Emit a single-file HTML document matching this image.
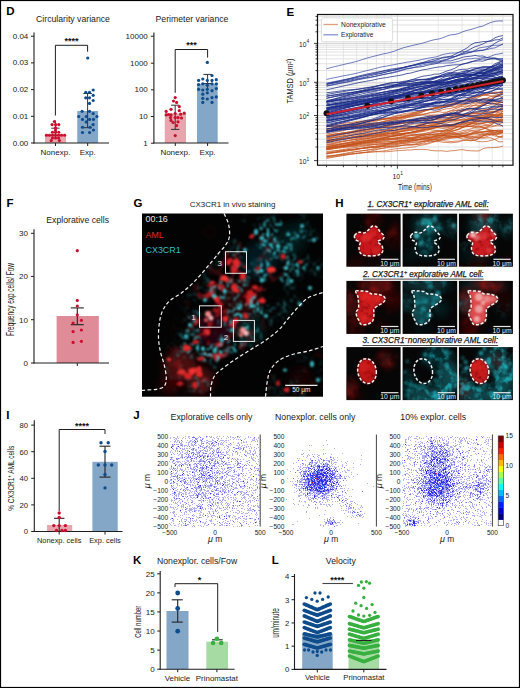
<!DOCTYPE html>
<html><head><meta charset="utf-8"><style>
html,body{margin:0;padding:0;background:#fff;}
body{width:520px;height:688px;overflow:hidden;}
svg{display:block;font-family:"Liberation Sans", sans-serif;}
</style></head><body>
<svg width="520" height="688" viewBox="0 0 520 688">
<defs><filter id="b4" x="-50%" y="-50%" width="200%" height="200%"><feGaussianBlur stdDeviation="4"/></filter></defs>
<rect x="0" y="0" width="520" height="688" fill="#fff"/>
<text x="6.30" y="14.60" font-size="11.5" text-anchor="start" font-weight="bold" fill="#000" >D</text>
<text x="73.00" y="22.40" font-size="8.7" text-anchor="middle" fill="#1a1a1a" >Circularity variance</text>
<rect x="45.00" y="133.80" width="21.00" height="9.20" fill="#e8a5ae" />
<rect x="77.25" y="111.00" width="20.85" height="32.00" fill="#84a7c8" />
<line x1="34.00" y1="32.60" x2="34.00" y2="143.50" stroke="#1e1e1e" stroke-width="1.1" />
<line x1="33.50" y1="143.00" x2="109.00" y2="143.00" stroke="#1e1e1e" stroke-width="1.1" />
<line x1="31.00" y1="143.00" x2="34.00" y2="143.00" stroke="#1e1e1e" stroke-width="1" />
<text x="28.30" y="145.50" font-size="8" text-anchor="end" fill="#1a1a1a" >0.00</text>
<line x1="31.00" y1="116.30" x2="34.00" y2="116.30" stroke="#1e1e1e" stroke-width="1" />
<text x="28.30" y="118.80" font-size="8" text-anchor="end" fill="#1a1a1a" >0.01</text>
<line x1="31.00" y1="89.60" x2="34.00" y2="89.60" stroke="#1e1e1e" stroke-width="1" />
<text x="28.30" y="92.10" font-size="8" text-anchor="end" fill="#1a1a1a" >0.02</text>
<line x1="31.00" y1="62.90" x2="34.00" y2="62.90" stroke="#1e1e1e" stroke-width="1" />
<text x="28.30" y="65.40" font-size="8" text-anchor="end" fill="#1a1a1a" >0.03</text>
<line x1="31.00" y1="36.20" x2="34.00" y2="36.20" stroke="#1e1e1e" stroke-width="1" />
<text x="28.30" y="38.70" font-size="8" text-anchor="end" fill="#1a1a1a" >0.04</text>
<line x1="55.50" y1="143.00" x2="55.50" y2="146.00" stroke="#1e1e1e" stroke-width="1" />
<line x1="87.70" y1="143.00" x2="87.70" y2="146.00" stroke="#1e1e1e" stroke-width="1" />
<text x="55.50" y="154.60" font-size="8" text-anchor="middle" fill="#1a1a1a" >Nonexp.</text>
<text x="87.70" y="154.60" font-size="8" text-anchor="middle" fill="#1a1a1a" >Exp.</text>
<path d="M55.4,115.5 V45.3 H87.6 V51.7" stroke="#1e1e1e" fill="none" stroke-width="1" />
<text x="71.60" y="44.20" font-size="9" text-anchor="middle" font-weight="bold" fill="#111" >****</text>
<line x1="87.60" y1="93.50" x2="87.60" y2="127.70" stroke="#333" stroke-width="1" />
<line x1="83.40" y1="93.50" x2="91.90" y2="93.50" stroke="#333" stroke-width="1" />
<line x1="83.40" y1="127.70" x2="91.90" y2="127.70" stroke="#333" stroke-width="1" />
<line x1="55.40" y1="120.50" x2="55.40" y2="137.00" stroke="#333" stroke-width="1" />
<line x1="51.30" y1="128.20" x2="59.50" y2="128.20" stroke="#333" stroke-width="1" />
<circle cx="87.75" cy="58.00" r="1.60" fill="#0f4c8c" />
<circle cx="93.20" cy="90.00" r="1.60" fill="#0f4c8c" />
<circle cx="85.80" cy="92.40" r="1.60" fill="#0f4c8c" />
<circle cx="89.50" cy="92.40" r="1.60" fill="#0f4c8c" />
<circle cx="93.20" cy="95.30" r="1.60" fill="#0f4c8c" />
<circle cx="85.80" cy="97.80" r="1.60" fill="#0f4c8c" />
<circle cx="89.50" cy="97.80" r="1.60" fill="#0f4c8c" />
<circle cx="93.20" cy="100.50" r="1.60" fill="#0f4c8c" />
<circle cx="89.50" cy="103.40" r="1.60" fill="#0f4c8c" />
<circle cx="82.10" cy="111.30" r="1.60" fill="#0f4c8c" />
<circle cx="89.50" cy="111.30" r="1.60" fill="#0f4c8c" />
<circle cx="93.20" cy="113.60" r="1.60" fill="#0f4c8c" />
<circle cx="78.75" cy="116.50" r="1.60" fill="#0f4c8c" />
<circle cx="86.25" cy="116.50" r="1.60" fill="#0f4c8c" />
<circle cx="96.90" cy="116.50" r="1.60" fill="#0f4c8c" />
<circle cx="82.50" cy="119.40" r="1.60" fill="#0f4c8c" />
<circle cx="89.60" cy="119.40" r="1.60" fill="#0f4c8c" />
<circle cx="93.50" cy="119.40" r="1.60" fill="#0f4c8c" />
<circle cx="86.25" cy="121.90" r="1.60" fill="#0f4c8c" />
<circle cx="93.10" cy="124.60" r="1.60" fill="#0f4c8c" />
<circle cx="82.50" cy="127.25" r="1.60" fill="#0f4c8c" />
<circle cx="90.00" cy="127.25" r="1.60" fill="#0f4c8c" />
<circle cx="93.50" cy="130.00" r="1.60" fill="#0f4c8c" />
<circle cx="82.50" cy="132.50" r="1.60" fill="#0f4c8c" />
<circle cx="89.60" cy="132.50" r="1.60" fill="#0f4c8c" />
<circle cx="54.40" cy="121.50" r="1.60" fill="#c8102e" />
<circle cx="52.10" cy="124.60" r="1.60" fill="#c8102e" />
<circle cx="55.60" cy="124.60" r="1.60" fill="#c8102e" />
<circle cx="58.75" cy="124.60" r="1.60" fill="#c8102e" />
<circle cx="55.60" cy="127.75" r="1.60" fill="#c8102e" />
<circle cx="52.50" cy="132.25" r="1.60" fill="#c8102e" />
<circle cx="58.75" cy="132.25" r="1.60" fill="#c8102e" />
<circle cx="55.60" cy="132.20" r="1.60" fill="#c8102e" />
<circle cx="46.50" cy="135.25" r="1.60" fill="#c8102e" />
<circle cx="49.50" cy="135.25" r="1.60" fill="#c8102e" />
<circle cx="52.50" cy="135.25" r="1.60" fill="#c8102e" />
<circle cx="55.50" cy="135.25" r="1.60" fill="#c8102e" />
<circle cx="58.50" cy="135.25" r="1.60" fill="#c8102e" />
<circle cx="61.50" cy="135.25" r="1.60" fill="#c8102e" />
<circle cx="64.60" cy="135.25" r="1.60" fill="#c8102e" />
<circle cx="52.50" cy="138.00" r="1.60" fill="#c8102e" />
<circle cx="55.60" cy="138.00" r="1.60" fill="#c8102e" />
<circle cx="58.60" cy="138.00" r="1.60" fill="#c8102e" />
<circle cx="51.25" cy="140.60" r="1.60" fill="#c8102e" />
<circle cx="59.40" cy="140.60" r="1.60" fill="#c8102e" />
<circle cx="55.50" cy="130.00" r="1.60" fill="#c8102e" />
<text x="192.00" y="22.40" font-size="8.7" text-anchor="middle" fill="#1a1a1a" >Perimeter variance</text>
<rect x="164.80" y="113.50" width="21.20" height="29.50" fill="#e8a5ae" />
<rect x="197.00" y="83.80" width="20.70" height="59.20" fill="#84a7c8" />
<line x1="153.90" y1="32.60" x2="153.90" y2="143.50" stroke="#1e1e1e" stroke-width="1.1" />
<line x1="153.40" y1="143.00" x2="228.50" y2="143.00" stroke="#1e1e1e" stroke-width="1.1" />
<line x1="150.90" y1="36.20" x2="153.90" y2="36.20" stroke="#1e1e1e" stroke-width="1" />
<text x="147.80" y="38.80" font-size="8" text-anchor="end" fill="#1a1a1a" >10000</text>
<line x1="150.90" y1="63.20" x2="153.90" y2="63.20" stroke="#1e1e1e" stroke-width="1" />
<text x="147.80" y="65.80" font-size="8" text-anchor="end" fill="#1a1a1a" >1000</text>
<line x1="150.90" y1="89.80" x2="153.90" y2="89.80" stroke="#1e1e1e" stroke-width="1" />
<text x="147.80" y="92.40" font-size="8" text-anchor="end" fill="#1a1a1a" >100</text>
<line x1="150.90" y1="116.50" x2="153.90" y2="116.50" stroke="#1e1e1e" stroke-width="1" />
<text x="147.80" y="119.10" font-size="8" text-anchor="end" fill="#1a1a1a" >10</text>
<line x1="150.90" y1="143.20" x2="153.90" y2="143.20" stroke="#1e1e1e" stroke-width="1" />
<text x="147.80" y="145.80" font-size="8" text-anchor="end" fill="#1a1a1a" >1</text>
<line x1="175.30" y1="143.00" x2="175.30" y2="146.00" stroke="#1e1e1e" stroke-width="1" />
<line x1="207.60" y1="143.00" x2="207.60" y2="146.00" stroke="#1e1e1e" stroke-width="1" />
<text x="175.30" y="154.80" font-size="8" text-anchor="middle" fill="#1a1a1a" >Nonexp.</text>
<text x="207.60" y="154.80" font-size="8" text-anchor="middle" fill="#1a1a1a" >Exp.</text>
<path d="M175.2,92.8 V49.5 H207.6 V57.6" stroke="#1e1e1e" fill="none" stroke-width="1" />
<text x="191.40" y="48.40" font-size="9" text-anchor="middle" font-weight="bold" fill="#111" >***</text>
<line x1="175.20" y1="105.20" x2="175.20" y2="129.40" stroke="#333" stroke-width="1" />
<line x1="171.00" y1="105.20" x2="179.40" y2="105.20" stroke="#333" stroke-width="1" />
<line x1="171.00" y1="129.40" x2="179.40" y2="129.40" stroke="#333" stroke-width="1" />
<line x1="207.60" y1="74.40" x2="207.60" y2="90.00" stroke="#333" stroke-width="1" />
<line x1="203.40" y1="74.40" x2="211.80" y2="74.40" stroke="#333" stroke-width="1" />
<line x1="203.40" y1="83.50" x2="211.80" y2="83.50" stroke="#333" stroke-width="1" />
<circle cx="207.30" cy="62.40" r="1.60" fill="#0f4c8c" />
<circle cx="212.00" cy="75.50" r="1.60" fill="#0f4c8c" />
<circle cx="198.60" cy="80.40" r="1.60" fill="#0f4c8c" />
<circle cx="202.80" cy="79.00" r="1.60" fill="#0f4c8c" />
<circle cx="207.30" cy="80.40" r="1.60" fill="#0f4c8c" />
<circle cx="212.00" cy="80.40" r="1.60" fill="#0f4c8c" />
<circle cx="216.30" cy="79.70" r="1.60" fill="#0f4c8c" />
<circle cx="198.60" cy="84.50" r="1.60" fill="#0f4c8c" />
<circle cx="202.80" cy="83.80" r="1.60" fill="#0f4c8c" />
<circle cx="207.30" cy="85.20" r="1.60" fill="#0f4c8c" />
<circle cx="212.00" cy="83.80" r="1.60" fill="#0f4c8c" />
<circle cx="216.30" cy="83.80" r="1.60" fill="#0f4c8c" />
<circle cx="198.60" cy="89.30" r="1.60" fill="#0f4c8c" />
<circle cx="202.80" cy="90.00" r="1.60" fill="#0f4c8c" />
<circle cx="207.30" cy="89.30" r="1.60" fill="#0f4c8c" />
<circle cx="212.00" cy="90.70" r="1.60" fill="#0f4c8c" />
<circle cx="216.30" cy="88.60" r="1.60" fill="#0f4c8c" />
<circle cx="202.80" cy="94.20" r="1.60" fill="#0f4c8c" />
<circle cx="207.30" cy="92.80" r="1.60" fill="#0f4c8c" />
<circle cx="207.30" cy="99.00" r="1.60" fill="#0f4c8c" />
<circle cx="202.80" cy="98.30" r="1.60" fill="#0f4c8c" />
<circle cx="212.00" cy="97.60" r="1.60" fill="#0f4c8c" />
<circle cx="216.30" cy="96.90" r="1.60" fill="#0f4c8c" />
<circle cx="202.80" cy="102.40" r="1.60" fill="#0f4c8c" />
<circle cx="212.00" cy="102.40" r="1.60" fill="#0f4c8c" />
<circle cx="175.20" cy="97.60" r="1.60" fill="#c8102e" />
<circle cx="173.50" cy="101.00" r="1.60" fill="#c8102e" />
<circle cx="176.60" cy="102.40" r="1.60" fill="#c8102e" />
<circle cx="166.20" cy="111.40" r="1.60" fill="#c8102e" />
<circle cx="171.00" cy="109.30" r="1.60" fill="#c8102e" />
<circle cx="179.30" cy="106.60" r="1.60" fill="#c8102e" />
<circle cx="179.30" cy="110.70" r="1.60" fill="#c8102e" />
<circle cx="166.20" cy="114.90" r="1.60" fill="#c8102e" />
<circle cx="168.50" cy="114.50" r="1.60" fill="#c8102e" />
<circle cx="171.00" cy="114.90" r="1.60" fill="#c8102e" />
<circle cx="175.20" cy="113.50" r="1.60" fill="#c8102e" />
<circle cx="180.70" cy="114.20" r="1.60" fill="#c8102e" />
<circle cx="184.20" cy="113.20" r="1.60" fill="#c8102e" />
<circle cx="171.00" cy="120.40" r="1.60" fill="#c8102e" />
<circle cx="175.20" cy="117.60" r="1.60" fill="#c8102e" />
<circle cx="178.00" cy="117.60" r="1.60" fill="#c8102e" />
<circle cx="173.10" cy="122.50" r="1.60" fill="#c8102e" />
<circle cx="178.00" cy="121.80" r="1.60" fill="#c8102e" />
<circle cx="176.60" cy="125.60" r="1.60" fill="#c8102e" />
<circle cx="175.20" cy="135.60" r="1.60" fill="#c8102e" />
<circle cx="170.50" cy="117.50" r="1.60" fill="#c8102e" />
<circle cx="181.50" cy="118.00" r="1.60" fill="#c8102e" />
<text x="286.60" y="15.50" font-size="11.5" text-anchor="start" font-weight="bold" fill="#000" >E</text>
<clipPath id="ce"><rect x="317.5" y="14.5" width="195.5" height="150.7"/></clipPath>
<g clip-path="url(#ce)">
<line x1="317.50" y1="160.60" x2="513.00" y2="160.60" stroke="#c8c8c8" stroke-width="0.8" />
<line x1="317.50" y1="147.02" x2="513.00" y2="147.02" stroke="#d8d8d8" stroke-width="0.8" />
<line x1="317.50" y1="139.08" x2="513.00" y2="139.08" stroke="#d8d8d8" stroke-width="0.8" />
<line x1="317.50" y1="133.45" x2="513.00" y2="133.45" stroke="#d8d8d8" stroke-width="0.8" />
<line x1="317.50" y1="129.08" x2="513.00" y2="129.08" stroke="#d8d8d8" stroke-width="0.8" />
<line x1="317.50" y1="125.51" x2="513.00" y2="125.51" stroke="#d8d8d8" stroke-width="0.8" />
<line x1="317.50" y1="122.49" x2="513.00" y2="122.49" stroke="#d8d8d8" stroke-width="0.8" />
<line x1="317.50" y1="119.87" x2="513.00" y2="119.87" stroke="#d8d8d8" stroke-width="0.8" />
<line x1="317.50" y1="117.56" x2="513.00" y2="117.56" stroke="#d8d8d8" stroke-width="0.8" />
<line x1="317.50" y1="115.50" x2="513.00" y2="115.50" stroke="#c8c8c8" stroke-width="0.8" />
<line x1="317.50" y1="105.51" x2="513.00" y2="105.51" stroke="#d8d8d8" stroke-width="0.8" />
<line x1="317.50" y1="99.66" x2="513.00" y2="99.66" stroke="#d8d8d8" stroke-width="0.8" />
<line x1="317.50" y1="95.51" x2="513.00" y2="95.51" stroke="#d8d8d8" stroke-width="0.8" />
<line x1="317.50" y1="92.29" x2="513.00" y2="92.29" stroke="#d8d8d8" stroke-width="0.8" />
<line x1="317.50" y1="89.67" x2="513.00" y2="89.67" stroke="#d8d8d8" stroke-width="0.8" />
<line x1="317.50" y1="87.44" x2="513.00" y2="87.44" stroke="#d8d8d8" stroke-width="0.8" />
<line x1="317.50" y1="85.52" x2="513.00" y2="85.52" stroke="#d8d8d8" stroke-width="0.8" />
<line x1="317.50" y1="83.82" x2="513.00" y2="83.82" stroke="#d8d8d8" stroke-width="0.8" />
<line x1="317.50" y1="82.30" x2="513.00" y2="82.30" stroke="#c8c8c8" stroke-width="0.8" />
<line x1="317.50" y1="70.59" x2="513.00" y2="70.59" stroke="#d8d8d8" stroke-width="0.8" />
<line x1="317.50" y1="63.74" x2="513.00" y2="63.74" stroke="#d8d8d8" stroke-width="0.8" />
<line x1="317.50" y1="58.88" x2="513.00" y2="58.88" stroke="#d8d8d8" stroke-width="0.8" />
<line x1="317.50" y1="55.11" x2="513.00" y2="55.11" stroke="#d8d8d8" stroke-width="0.8" />
<line x1="317.50" y1="52.03" x2="513.00" y2="52.03" stroke="#d8d8d8" stroke-width="0.8" />
<line x1="317.50" y1="49.43" x2="513.00" y2="49.43" stroke="#d8d8d8" stroke-width="0.8" />
<line x1="317.50" y1="47.17" x2="513.00" y2="47.17" stroke="#d8d8d8" stroke-width="0.8" />
<line x1="317.50" y1="45.18" x2="513.00" y2="45.18" stroke="#d8d8d8" stroke-width="0.8" />
<line x1="317.50" y1="43.40" x2="513.00" y2="43.40" stroke="#c8c8c8" stroke-width="0.8" />
<line x1="317.50" y1="31.78" x2="513.00" y2="31.78" stroke="#d8d8d8" stroke-width="0.8" />
<line x1="317.50" y1="24.98" x2="513.00" y2="24.98" stroke="#d8d8d8" stroke-width="0.8" />
<line x1="317.50" y1="20.16" x2="513.00" y2="20.16" stroke="#d8d8d8" stroke-width="0.8" />
<line x1="317.50" y1="16.42" x2="513.00" y2="16.42" stroke="#d8d8d8" stroke-width="0.8" />
<line x1="326.50" y1="14.50" x2="326.50" y2="165.20" stroke="#dedede" stroke-width="0.7" />
<line x1="343.44" y1="14.50" x2="343.44" y2="165.20" stroke="#dedede" stroke-width="0.7" />
<line x1="356.58" y1="14.50" x2="356.58" y2="165.20" stroke="#dedede" stroke-width="0.7" />
<line x1="367.32" y1="14.50" x2="367.32" y2="165.20" stroke="#dedede" stroke-width="0.7" />
<line x1="376.40" y1="14.50" x2="376.40" y2="165.20" stroke="#dedede" stroke-width="0.7" />
<line x1="384.26" y1="14.50" x2="384.26" y2="165.20" stroke="#dedede" stroke-width="0.7" />
<line x1="391.20" y1="14.50" x2="391.20" y2="165.20" stroke="#dedede" stroke-width="0.7" />
<line x1="397.40" y1="14.50" x2="397.40" y2="165.20" stroke="#cfcfcf" stroke-width="0.8" />
<line x1="438.22" y1="14.50" x2="438.22" y2="165.20" stroke="#dedede" stroke-width="0.7" />
<line x1="462.10" y1="14.50" x2="462.10" y2="165.20" stroke="#dedede" stroke-width="0.7" />
<line x1="479.04" y1="14.50" x2="479.04" y2="165.20" stroke="#dedede" stroke-width="0.7" />
<line x1="492.18" y1="14.50" x2="492.18" y2="165.20" stroke="#dedede" stroke-width="0.7" />
<line x1="502.92" y1="14.50" x2="502.92" y2="165.20" stroke="#dedede" stroke-width="0.7" />
<polyline points="326.5,157.3 330.5,156.9 334.5,156.5 338.5,156.0 342.5,155.5 346.6,154.8 350.6,154.2 354.6,153.8 358.6,153.1 362.6,152.5 366.6,152.0 370.6,151.2 374.6,150.2 378.6,149.2 382.7,148.2 386.7,147.2 390.7,146.3 394.7,145.6 398.7,145.2 402.7,145.0 406.7,145.1 410.7,145.3 414.8,144.8 418.8,144.1 422.8,143.0 426.8,141.7 430.8,140.7 434.8,139.9 438.8,139.4 442.8,138.1 446.8,136.4 450.9,135.2 454.9,134.2 458.9,133.1 462.9,132.3 466.9,131.0 470.9,130.6 474.9,130.3 478.9,129.9 482.9,128.9 487.0,128.0 491.0,124.9 495.0,122.0 499.0,120.1 503.0,117.3" fill="none" stroke="#c4521a" stroke-width="0.8" stroke-opacity="0.85"/>
<polyline points="326.5,141.7 330.5,141.0 334.5,140.3 338.5,139.5 342.5,138.7 346.6,138.0 350.6,137.4 354.6,136.7 358.6,136.0 362.6,135.2 366.6,134.5 370.6,133.8 374.6,133.3 378.6,132.5 382.7,131.5 386.7,130.5 390.7,129.5 394.7,128.3 398.7,127.3 402.7,126.2 406.7,125.4 410.7,124.7 414.8,123.9 418.8,124.1 422.8,123.7 426.8,123.7 430.8,123.5 434.8,123.6 438.8,122.2 442.8,120.7 446.8,119.7 450.9,119.1 454.9,119.9 458.9,120.3 462.9,121.0 466.9,121.7 470.9,122.6 474.9,123.1 478.9,123.1 482.9,123.2 487.0,122.1 491.0,122.2 495.0,121.0 499.0,120.3 503.0,121.6" fill="none" stroke="#c4521a" stroke-width="0.8" stroke-opacity="0.85"/>
<polyline points="326.5,153.4 330.5,152.7 334.5,152.2 338.5,151.7 342.5,151.0 346.6,150.4 350.6,149.9 354.6,149.4 358.6,148.7 362.6,148.3 366.6,148.1 370.6,147.7 374.6,147.3 378.6,146.7 382.7,146.4 386.7,145.9 390.7,145.4 394.7,144.8 398.7,144.0 402.7,143.5 406.7,143.4 410.7,143.0 414.8,142.3 418.8,142.0 422.8,141.5 426.8,141.1 430.8,141.3 434.8,141.7 438.8,141.5 442.8,142.3 446.8,142.5 450.9,142.8 454.9,142.4 458.9,141.9 462.9,140.2 466.9,140.1 470.9,140.8 474.9,140.1 478.9,138.3 482.9,135.7 487.0,134.8 491.0,133.7 495.0,132.7 499.0,131.6 503.0,130.6" fill="none" stroke="#c4521a" stroke-width="0.8" stroke-opacity="0.85"/>
<polyline points="326.5,146.7 330.5,146.0 334.5,145.3 338.5,144.7 342.5,144.0 346.6,143.5 350.6,142.9 354.6,142.2 358.6,141.5 362.6,140.9 366.6,140.4 370.6,140.1 374.6,139.6 378.6,139.0 382.7,138.2 386.7,137.3 390.7,136.5 394.7,135.8 398.7,135.3 402.7,134.9 406.7,135.1 410.7,134.8 414.8,134.3 418.8,134.9 422.8,134.2 426.8,133.4 430.8,132.7 434.8,132.1 438.8,131.8 442.8,131.2 446.8,130.8 450.9,130.3 454.9,130.3 458.9,128.9 462.9,127.2 466.9,125.9 470.9,124.2 474.9,122.2 478.9,121.2 482.9,119.9 487.0,119.4 491.0,119.5 495.0,119.5 499.0,119.8 503.0,119.7" fill="none" stroke="#c4521a" stroke-width="0.8" stroke-opacity="0.85"/>
<polyline points="326.5,152.5 330.5,151.8 334.5,151.1 338.5,150.3 342.5,149.6 346.6,148.9 350.6,148.2 354.6,147.5 358.6,147.1 362.6,146.4 366.6,145.8 370.6,145.1 374.6,144.7 378.6,144.2 382.7,143.9 386.7,143.2 390.7,142.5 394.7,141.8 398.7,140.7 402.7,140.1 406.7,139.8 410.7,138.7 414.8,138.0 418.8,137.3 422.8,136.8 426.8,136.3 430.8,135.1 434.8,134.0 438.8,133.8 442.8,133.1 446.8,131.9 450.9,130.1 454.9,128.0 458.9,126.7 462.9,126.7 466.9,126.7 470.9,126.6 474.9,127.9 478.9,128.0 482.9,127.3 487.0,127.0 491.0,127.0 495.0,125.8 499.0,123.8 503.0,122.6" fill="none" stroke="#c4521a" stroke-width="0.8" stroke-opacity="0.85"/>
<polyline points="326.5,125.9 330.5,125.3 334.5,124.7 338.5,124.0 342.5,123.5 346.6,122.9 350.6,122.4 354.6,121.8 358.6,121.3 362.6,121.0 366.6,120.6 370.6,120.2 374.6,119.7 378.6,119.1 382.7,118.7 386.7,118.6 390.7,118.2 394.7,117.8 398.7,117.3 402.7,116.4 406.7,115.7 410.7,114.7 414.8,114.1 418.8,113.1 422.8,111.5 426.8,110.3 430.8,109.5 434.8,108.6 438.8,108.2 442.8,107.6 446.8,106.7 450.9,106.3 454.9,104.8 458.9,103.3 462.9,102.2 466.9,101.9 470.9,101.4 474.9,101.0 478.9,100.1 482.9,99.6 487.0,100.5 491.0,100.2 495.0,101.8 499.0,102.1 503.0,102.0" fill="none" stroke="#c4521a" stroke-width="0.8" stroke-opacity="0.85"/>
<polyline points="326.5,153.3 330.5,152.8 334.5,152.1 338.5,151.3 342.5,150.5 346.6,149.9 350.6,149.4 354.6,149.1 358.6,148.6 362.6,148.2 366.6,147.8 370.6,147.3 374.6,147.1 378.6,146.5 382.7,145.7 386.7,144.3 390.7,143.3 394.7,142.4 398.7,141.9 402.7,141.9 406.7,141.7 410.7,141.2 414.8,140.5 418.8,139.5 422.8,138.3 426.8,137.7 430.8,137.1 434.8,136.4 438.8,135.7 442.8,135.5 446.8,135.4 450.9,135.0 454.9,134.9 458.9,134.5 462.9,133.2 466.9,133.2 470.9,133.2 474.9,132.3 478.9,132.3 482.9,132.3 487.0,130.8 491.0,131.0 495.0,131.1 499.0,131.8 503.0,132.1" fill="none" stroke="#c4521a" stroke-width="0.8" stroke-opacity="0.85"/>
<polyline points="326.5,135.3 330.5,134.7 334.5,134.2 338.5,133.7 342.5,133.1 346.6,132.7 350.6,132.2 354.6,131.7 358.6,131.2 362.6,130.7 366.6,129.9 370.6,129.2 374.6,128.6 378.6,128.3 382.7,127.9 386.7,127.4 390.7,127.3 394.7,126.9 398.7,126.7 402.7,126.9 406.7,126.8 410.7,126.9 414.8,126.6 418.8,126.2 422.8,125.8 426.8,125.4 430.8,125.4 434.8,126.4 438.8,126.4 442.8,125.9 446.8,125.7 450.9,124.8 454.9,124.3 458.9,124.2 462.9,123.7 466.9,123.6 470.9,122.2 474.9,121.8 478.9,120.1 482.9,118.4 487.0,116.7 491.0,115.1 495.0,114.7 499.0,114.3 503.0,113.6" fill="none" stroke="#c4521a" stroke-width="0.8" stroke-opacity="0.85"/>
<polyline points="326.5,130.9 330.5,130.2 334.5,129.6 338.5,128.9 342.5,128.3 346.6,127.6 350.6,126.8 354.6,126.3 358.6,126.0 362.6,125.2 366.6,124.4 370.6,123.7 374.6,123.2 378.6,122.7 382.7,122.0 386.7,121.1 390.7,120.3 394.7,119.7 398.7,118.8 402.7,117.7 406.7,116.6 410.7,115.1 414.8,113.8 418.8,112.5 422.8,111.6 426.8,110.5 430.8,109.2 434.8,107.9 438.8,106.8 442.8,105.4 446.8,104.4 450.9,103.8 454.9,103.9 458.9,104.7 462.9,104.4 466.9,103.6 470.9,101.1 474.9,100.7 478.9,99.6 482.9,98.6 487.0,98.2 491.0,96.4 495.0,95.5 499.0,94.6 503.0,92.1" fill="none" stroke="#c4521a" stroke-width="0.8" stroke-opacity="0.85"/>
<polyline points="326.5,149.6 330.5,149.2 334.5,148.6 338.5,148.1 342.5,147.6 346.6,147.2 350.6,146.8 354.6,146.5 358.6,146.1 362.6,145.8 366.6,145.3 370.6,145.0 374.6,144.4 378.6,143.9 382.7,143.7 386.7,143.5 390.7,143.2 394.7,142.5 398.7,141.6 402.7,141.0 406.7,140.7 410.7,140.5 414.8,140.3 418.8,140.0 422.8,140.2 426.8,139.9 430.8,139.3 434.8,139.2 438.8,138.9 442.8,138.4 446.8,137.6 450.9,136.8 454.9,136.5 458.9,136.3 462.9,135.2 466.9,134.7 470.9,134.3 474.9,133.1 478.9,132.8 482.9,132.2 487.0,131.4 491.0,131.3 495.0,132.3 499.0,132.0 503.0,132.1" fill="none" stroke="#c4521a" stroke-width="0.8" stroke-opacity="0.85"/>
<polyline points="326.5,144.4 330.5,143.7 334.5,142.9 338.5,142.1 342.5,141.3 346.6,140.6 350.6,140.0 354.6,139.0 358.6,138.1 362.6,137.2 366.6,136.4 370.6,135.4 374.6,134.9 378.6,134.2 382.7,133.2 386.7,132.4 390.7,131.2 394.7,130.4 398.7,129.5 402.7,128.6 406.7,128.2 410.7,127.6 414.8,126.4 418.8,124.7 422.8,123.9 426.8,123.3 430.8,122.3 434.8,121.7 438.8,121.3 442.8,121.1 446.8,119.4 450.9,117.8 454.9,117.1 458.9,116.8 462.9,116.9 466.9,114.9 470.9,113.5 474.9,112.7 478.9,113.8 482.9,113.4 487.0,112.5 491.0,111.7 495.0,111.7 499.0,110.9 503.0,111.2" fill="none" stroke="#c4521a" stroke-width="0.8" stroke-opacity="0.85"/>
<polyline points="326.5,128.7 330.5,128.4 334.5,128.1 338.5,127.8 342.5,127.4 346.6,127.0 350.6,126.7 354.6,126.4 358.6,126.1 362.6,125.8 366.6,125.7 370.6,125.3 374.6,125.0 378.6,124.7 382.7,124.6 386.7,124.3 390.7,123.5 394.7,123.3 398.7,123.1 402.7,122.9 406.7,122.5 410.7,122.3 414.8,121.9 418.8,121.2 422.8,120.3 426.8,119.4 430.8,118.5 434.8,117.3 438.8,116.8 442.8,115.7 446.8,115.3 450.9,114.3 454.9,113.9 458.9,114.3 462.9,114.6 466.9,114.2 470.9,113.8 474.9,113.6 478.9,112.0 482.9,110.5 487.0,109.6 491.0,108.6 495.0,107.9 499.0,108.0 503.0,108.7" fill="none" stroke="#c4521a" stroke-width="0.8" stroke-opacity="0.85"/>
<polyline points="326.5,148.7 330.5,148.1 334.5,147.4 338.5,146.7 342.5,146.0 346.6,145.3 350.6,144.5 354.6,143.6 358.6,142.8 362.6,141.9 366.6,141.0 370.6,140.2 374.6,139.5 378.6,138.8 382.7,138.5 386.7,137.5 390.7,136.5 394.7,135.2 398.7,134.4 402.7,134.4 406.7,133.4 410.7,132.5 414.8,131.9 418.8,131.1 422.8,130.6 426.8,129.1 430.8,128.3 434.8,127.7 438.8,127.0 442.8,126.1 446.8,125.6 450.9,124.7 454.9,124.0 458.9,123.0 462.9,120.7 466.9,119.0 470.9,117.8 474.9,117.4 478.9,116.2 482.9,115.2 487.0,114.8 491.0,114.4 495.0,115.0 499.0,116.9 503.0,116.9" fill="none" stroke="#c4521a" stroke-width="0.8" stroke-opacity="0.85"/>
<polyline points="326.5,153.8 330.5,153.1 334.5,152.6 338.5,152.1 342.5,151.6 346.6,151.0 350.6,150.3 354.6,149.8 358.6,149.1 362.6,148.2 366.6,147.2 370.6,146.8 374.6,146.6 378.6,146.1 382.7,145.4 386.7,144.8 390.7,144.0 394.7,143.6 398.7,143.1 402.7,142.2 406.7,141.9 410.7,141.2 414.8,140.6 418.8,140.0 422.8,139.3 426.8,138.7 430.8,137.8 434.8,136.2 438.8,133.9 442.8,131.6 446.8,129.5 450.9,128.0 454.9,126.9 458.9,126.3 462.9,125.8 466.9,124.7 470.9,123.3 474.9,120.7 478.9,118.7 482.9,117.7 487.0,117.2 491.0,116.6 495.0,115.8 499.0,115.9 503.0,115.8" fill="none" stroke="#c4521a" stroke-width="0.8" stroke-opacity="0.85"/>
<polyline points="326.5,138.1 330.5,137.3 334.5,136.4 338.5,135.6 342.5,134.7 346.6,133.8 350.6,132.8 354.6,131.8 358.6,130.9 362.6,130.3 366.6,129.6 370.6,128.9 374.6,128.3 378.6,127.7 382.7,127.3 386.7,126.4 390.7,125.3 394.7,124.4 398.7,123.9 402.7,123.3 406.7,122.3 410.7,121.2 414.8,119.9 418.8,118.5 422.8,117.8 426.8,116.8 430.8,115.9 434.8,115.9 438.8,116.2 442.8,116.2 446.8,115.4 450.9,114.9 454.9,115.1 458.9,115.3 462.9,115.9 466.9,115.9 470.9,115.9 474.9,115.4 478.9,115.1 482.9,115.5 487.0,114.3 491.0,113.1 495.0,112.2 499.0,110.8 503.0,109.4" fill="none" stroke="#c4521a" stroke-width="0.8" stroke-opacity="0.85"/>
<polyline points="326.5,140.0 330.5,139.8 334.5,139.5 338.5,139.2 342.5,138.7 346.6,138.4 350.6,138.0 354.6,137.7 358.6,137.1 362.6,136.6 366.6,136.0 370.6,135.4 374.6,135.0 378.6,134.6 382.7,134.3 386.7,133.7 390.7,133.5 394.7,133.1 398.7,132.1 402.7,131.3 406.7,130.4 410.7,129.4 414.8,128.5 418.8,127.9 422.8,126.9 426.8,126.0 430.8,126.0 434.8,126.1 438.8,125.9 442.8,125.7 446.8,125.4 450.9,124.9 454.9,125.0 458.9,124.7 462.9,122.9 466.9,121.6 470.9,120.0 474.9,119.4 478.9,118.3 482.9,117.7 487.0,118.9 491.0,118.5 495.0,117.2 499.0,114.9 503.0,111.1" fill="none" stroke="#c4521a" stroke-width="0.8" stroke-opacity="0.85"/>
<polyline points="326.5,129.8 330.5,128.9 334.5,128.0 338.5,127.0 342.5,125.9 346.6,125.0 350.6,124.0 354.6,123.1 358.6,122.2 362.6,121.5 366.6,121.1 370.6,120.6 374.6,120.1 378.6,119.4 382.7,119.1 386.7,118.8 390.7,118.3 394.7,117.8 398.7,117.2 402.7,116.5 406.7,115.6 410.7,114.3 414.8,113.0 418.8,111.3 422.8,110.4 426.8,109.8 430.8,108.6 434.8,108.1 438.8,108.0 442.8,106.6 446.8,106.4 450.9,106.4 454.9,107.3 458.9,106.8 462.9,106.4 466.9,106.2 470.9,105.9 474.9,105.5 478.9,105.7 482.9,104.3 487.0,102.1 491.0,99.3 495.0,96.8 499.0,94.4 503.0,92.9" fill="none" stroke="#c4521a" stroke-width="0.8" stroke-opacity="0.85"/>
<polyline points="326.5,145.1 330.5,144.3 334.5,143.5 338.5,142.6 342.5,141.8 346.6,141.1 350.6,140.4 354.6,139.6 358.6,139.0 362.6,138.2 366.6,137.5 370.6,136.9 374.6,136.2 378.6,135.6 382.7,134.7 386.7,134.1 390.7,133.4 394.7,132.3 398.7,131.5 402.7,130.4 406.7,129.8 410.7,129.0 414.8,128.0 418.8,127.3 422.8,126.4 426.8,125.6 430.8,124.6 434.8,123.9 438.8,123.2 442.8,122.6 446.8,120.4 450.9,119.4 454.9,118.6 458.9,116.6 462.9,115.2 466.9,114.3 470.9,114.2 474.9,113.0 478.9,113.2 482.9,112.8 487.0,114.2 491.0,114.6 495.0,115.2 499.0,114.8 503.0,113.2" fill="none" stroke="#c4521a" stroke-width="0.8" stroke-opacity="0.85"/>
<polyline points="326.5,126.3 330.5,125.9 334.5,125.6 338.5,125.3 342.5,124.8 346.6,124.2 350.6,123.6 354.6,123.0 358.6,122.3 362.6,121.8 366.6,121.3 370.6,120.8 374.6,120.3 378.6,119.8 382.7,119.3 386.7,119.0 390.7,118.9 394.7,118.4 398.7,117.6 402.7,117.3 406.7,116.9 410.7,116.9 414.8,116.1 418.8,115.3 422.8,114.6 426.8,113.4 430.8,112.3 434.8,111.7 438.8,111.7 442.8,112.4 446.8,112.1 450.9,110.9 454.9,110.4 458.9,110.4 462.9,110.4 466.9,109.3 470.9,108.9 474.9,109.1 478.9,109.5 482.9,109.1 487.0,109.0 491.0,109.3 495.0,108.9 499.0,106.7 503.0,105.5" fill="none" stroke="#c4521a" stroke-width="0.8" stroke-opacity="0.85"/>
<polyline points="326.5,158.4 330.5,157.7 334.5,157.0 338.5,156.3 342.5,155.6 346.6,154.9 350.6,154.2 354.6,153.7 358.6,153.0 362.6,152.7 366.6,152.4 370.6,152.0 374.6,151.7 378.6,151.5 382.7,151.0 386.7,150.5 390.7,149.6 394.7,148.9 398.7,148.6 402.7,148.2 406.7,147.9 410.7,147.3 414.8,146.8 418.8,145.6 422.8,145.0 426.8,144.2 430.8,143.0 434.8,141.6 438.8,140.1 442.8,139.3 446.8,139.2 450.9,138.0 454.9,137.6 458.9,137.6 462.9,136.9 466.9,135.2 470.9,133.4 474.9,131.6 478.9,130.5 482.9,129.2 487.0,126.5 491.0,124.8 495.0,122.2 499.0,121.1 503.0,119.0" fill="none" stroke="#c4521a" stroke-width="0.8" stroke-opacity="0.85"/>
<polyline points="326.5,136.0 330.5,135.2 334.5,134.3 338.5,133.6 342.5,132.9 346.6,132.3 350.6,131.6 354.6,130.7 358.6,129.8 362.6,128.9 366.6,127.9 370.6,127.0 374.6,126.1 378.6,125.1 382.7,124.0 386.7,122.5 390.7,121.5 394.7,120.9 398.7,120.3 402.7,119.3 406.7,117.6 410.7,116.3 414.8,115.7 418.8,115.1 422.8,114.8 426.8,114.9 430.8,115.2 434.8,114.8 438.8,114.8 442.8,114.9 446.8,113.8 450.9,112.6 454.9,110.8 458.9,109.3 462.9,108.4 466.9,106.9 470.9,104.2 474.9,103.3 478.9,102.7 482.9,103.2 487.0,102.1 491.0,102.0 495.0,103.5 499.0,105.9 503.0,106.8" fill="none" stroke="#c4521a" stroke-width="0.8" stroke-opacity="0.85"/>
<polyline points="326.5,149.7 330.5,149.1 334.5,148.5 338.5,148.0 342.5,147.4 346.6,146.7 350.6,146.1 354.6,145.4 358.6,144.8 362.6,144.2 366.6,143.8 370.6,143.5 374.6,143.0 378.6,142.5 382.7,142.3 386.7,141.8 390.7,141.4 394.7,141.1 398.7,141.1 402.7,141.0 406.7,140.2 410.7,139.1 414.8,138.2 418.8,137.6 422.8,138.0 426.8,137.6 430.8,137.6 434.8,137.7 438.8,136.7 442.8,135.4 446.8,134.5 450.9,133.4 454.9,132.3 458.9,131.8 462.9,130.6 466.9,130.0 470.9,128.9 474.9,127.6 478.9,127.0 482.9,125.9 487.0,125.2 491.0,125.9 495.0,126.1 499.0,125.8 503.0,126.1" fill="none" stroke="#c4521a" stroke-width="0.8" stroke-opacity="0.85"/>
<polyline points="326.5,136.0 330.5,135.5 334.5,134.9 338.5,134.4 342.5,133.9 346.6,133.3 350.6,132.9 354.6,132.3 358.6,132.0 362.6,131.7 366.6,131.5 370.6,131.1 374.6,130.8 378.6,130.7 382.7,130.4 386.7,130.0 390.7,130.1 394.7,130.0 398.7,129.7 402.7,129.0 406.7,128.6 410.7,128.3 414.8,127.9 418.8,128.1 422.8,127.9 426.8,127.8 430.8,128.1 434.8,127.7 438.8,127.7 442.8,128.5 446.8,128.0 450.9,126.9 454.9,125.4 458.9,123.1 462.9,121.9 466.9,119.6 470.9,118.5 474.9,118.6 478.9,117.3 482.9,116.0 487.0,113.4 491.0,112.4 495.0,110.9 499.0,109.5 503.0,108.6" fill="none" stroke="#c4521a" stroke-width="0.8" stroke-opacity="0.85"/>
<polyline points="326.5,134.0 330.5,133.2 334.5,132.4 338.5,131.6 342.5,130.8 346.6,129.9 350.6,129.0 354.6,128.0 358.6,127.0 362.6,126.4 366.6,125.7 370.6,124.8 374.6,123.9 378.6,123.0 382.7,121.7 386.7,120.5 390.7,119.6 394.7,118.9 398.7,118.1 402.7,117.1 406.7,115.8 410.7,115.2 414.8,114.6 418.8,113.5 422.8,111.8 426.8,109.8 430.8,109.4 434.8,108.4 438.8,107.4 442.8,106.6 446.8,105.7 450.9,104.7 454.9,103.0 458.9,101.0 462.9,100.5 466.9,99.5 470.9,99.1 474.9,97.4 478.9,95.8 482.9,94.7 487.0,94.6 491.0,93.3 495.0,92.7 499.0,92.4 503.0,91.2" fill="none" stroke="#c4521a" stroke-width="0.8" stroke-opacity="0.85"/>
<polyline points="326.5,146.8 330.5,146.1 334.5,145.3 338.5,144.6 342.5,143.7 346.6,142.9 350.6,142.0 354.6,141.0 358.6,140.1 362.6,139.4 366.6,138.7 370.6,138.2 374.6,137.4 378.6,136.4 382.7,135.9 386.7,135.4 390.7,135.0 394.7,134.3 398.7,133.9 402.7,133.4 406.7,133.0 410.7,132.6 414.8,132.4 418.8,131.9 422.8,130.8 426.8,129.4 430.8,128.7 434.8,127.7 438.8,126.3 442.8,124.7 446.8,123.3 450.9,121.4 454.9,119.8 458.9,118.3 462.9,116.7 466.9,114.8 470.9,113.4 474.9,112.0 478.9,111.0 482.9,110.3 487.0,109.9 491.0,107.5 495.0,105.3 499.0,103.1 503.0,102.1" fill="none" stroke="#c4521a" stroke-width="0.8" stroke-opacity="0.85"/>
<polyline points="326.5,148.9 330.5,148.2 334.5,147.5 338.5,146.9 342.5,146.3 346.6,145.7 350.6,145.3 354.6,144.6 358.6,143.7 362.6,143.1 366.6,142.6 370.6,142.1 374.6,141.7 378.6,141.2 382.7,140.5 386.7,140.0 390.7,139.4 394.7,139.0 398.7,138.6 402.7,137.6 406.7,136.3 410.7,135.7 414.8,135.0 418.8,134.3 422.8,133.7 426.8,132.9 430.8,132.0 434.8,131.2 438.8,130.6 442.8,130.8 446.8,130.7 450.9,131.5 454.9,132.8 458.9,134.4 462.9,135.9 466.9,136.6 470.9,136.9 474.9,136.7 478.9,135.8 482.9,135.0 487.0,133.8 491.0,134.2 495.0,134.7 499.0,134.3 503.0,132.1" fill="none" stroke="#c4521a" stroke-width="0.8" stroke-opacity="0.85"/>
<polyline points="326.5,142.3 330.5,141.5 334.5,140.6 338.5,139.7 342.5,138.7 346.6,137.8 350.6,136.9 354.6,136.4 358.6,135.7 362.6,135.0 366.6,134.5 370.6,133.8 374.6,133.2 378.6,132.4 382.7,131.5 386.7,131.0 390.7,130.6 394.7,130.5 398.7,130.0 402.7,129.4 406.7,128.5 410.7,127.9 414.8,126.8 418.8,126.0 422.8,125.6 426.8,125.7 430.8,125.0 434.8,124.8 438.8,124.0 442.8,122.8 446.8,121.1 450.9,120.4 454.9,120.6 458.9,120.1 462.9,118.9 466.9,117.7 470.9,118.4 474.9,119.3 478.9,119.1 482.9,117.2 487.0,115.2 491.0,114.7 495.0,115.8 499.0,115.8 503.0,114.9" fill="none" stroke="#c4521a" stroke-width="0.8" stroke-opacity="0.85"/>
<polyline points="326.5,151.5 330.5,151.1 334.5,150.8 338.5,150.5 342.5,150.2 346.6,149.8 350.6,149.3 354.6,149.0 358.6,148.5 362.6,148.3 366.6,148.0 370.6,147.5 374.6,147.3 378.6,147.2 382.7,146.6 386.7,146.5 390.7,146.5 394.7,146.6 398.7,146.0 402.7,145.3 406.7,144.7 410.7,144.6 414.8,143.9 418.8,143.0 422.8,141.6 426.8,140.5 430.8,139.9 434.8,138.7 438.8,137.5 442.8,137.0 446.8,137.4 450.9,137.9 454.9,137.9 458.9,137.1 462.9,135.9 466.9,134.6 470.9,133.8 474.9,133.2 478.9,134.0 482.9,134.6 487.0,134.0 491.0,134.8 495.0,136.0 499.0,136.7 503.0,136.4" fill="none" stroke="#c4521a" stroke-width="0.8" stroke-opacity="0.85"/>
<polyline points="326.5,141.8 330.5,141.2 334.5,140.6 338.5,140.0 342.5,139.3 346.6,138.7 350.6,138.1 354.6,137.6 358.6,137.2 362.6,136.9 366.6,136.4 370.6,136.0 374.6,135.4 378.6,134.9 382.7,134.5 386.7,134.0 390.7,133.8 394.7,133.4 398.7,133.3 402.7,133.2 406.7,133.0 410.7,132.5 414.8,131.7 418.8,130.8 422.8,130.0 426.8,129.3 430.8,129.9 434.8,130.4 438.8,130.8 442.8,130.5 446.8,129.6 450.9,128.7 454.9,128.1 458.9,126.8 462.9,126.9 466.9,126.3 470.9,126.6 474.9,124.8 478.9,123.5 482.9,122.7 487.0,122.1 491.0,122.1 495.0,122.1 499.0,122.1 503.0,120.0" fill="none" stroke="#c4521a" stroke-width="0.8" stroke-opacity="0.85"/>
<polyline points="326.5,156.9 330.5,156.1 334.5,155.3 338.5,154.6 342.5,153.8 346.6,153.0 350.6,152.2 354.6,151.6 358.6,151.2 362.6,150.7 366.6,150.3 370.6,149.5 374.6,148.4 378.6,147.4 382.7,146.3 386.7,145.2 390.7,144.4 394.7,144.3 398.7,143.9 402.7,143.3 406.7,142.8 410.7,142.2 414.8,141.8 418.8,142.0 422.8,141.4 426.8,140.8 430.8,140.0 434.8,139.4 438.8,138.0 442.8,136.0 446.8,133.3 450.9,131.6 454.9,130.5 458.9,129.6 462.9,127.2 466.9,125.2 470.9,123.3 474.9,120.8 478.9,118.3 482.9,117.0 487.0,116.5 491.0,115.8 495.0,115.6 499.0,114.7 503.0,113.9" fill="none" stroke="#c4521a" stroke-width="0.8" stroke-opacity="0.85"/>
<polyline points="326.5,138.0 330.5,137.6 334.5,137.1 338.5,136.5 342.5,136.0 346.6,135.4 350.6,135.1 354.6,134.7 358.6,134.3 362.6,134.2 366.6,134.1 370.6,133.6 374.6,133.2 378.6,132.9 382.7,132.9 386.7,133.0 390.7,133.0 394.7,132.5 398.7,131.8 402.7,131.2 406.7,130.8 410.7,130.0 414.8,129.2 418.8,128.3 422.8,127.6 426.8,127.1 430.8,126.5 434.8,125.3 438.8,125.0 442.8,125.5 446.8,125.5 450.9,125.8 454.9,126.1 458.9,126.4 462.9,126.8 466.9,126.2 470.9,126.1 474.9,126.6 478.9,125.9 482.9,126.9 487.0,129.0 491.0,131.6 495.0,134.7 499.0,137.0 503.0,137.9" fill="none" stroke="#c4521a" stroke-width="0.8" stroke-opacity="0.85"/>
<polyline points="326.5,149.0 330.5,148.1 334.5,147.2 338.5,146.4 342.5,145.6 346.6,144.6 350.6,143.9 354.6,143.5 358.6,142.8 362.6,142.2 366.6,141.6 370.6,140.9 374.6,140.2 378.6,139.4 382.7,138.4 386.7,137.5 390.7,136.7 394.7,135.9 398.7,134.9 402.7,134.0 406.7,133.1 410.7,132.5 414.8,131.4 418.8,130.5 422.8,130.1 426.8,129.8 430.8,129.1 434.8,128.1 438.8,127.1 442.8,126.5 446.8,126.7 450.9,126.4 454.9,125.5 458.9,124.8 462.9,124.3 466.9,123.0 470.9,121.4 474.9,120.0 478.9,119.4 482.9,117.7 487.0,115.6 491.0,114.4 495.0,112.2 499.0,110.7 503.0,109.8" fill="none" stroke="#c4521a" stroke-width="0.8" stroke-opacity="0.85"/>
<polyline points="326.5,148.5 330.5,147.8 334.5,147.2 338.5,146.5 342.5,145.9 346.6,145.3 350.6,144.7 354.6,144.0 358.6,143.3 362.6,142.6 366.6,142.2 370.6,141.5 374.6,141.0 378.6,140.4 382.7,139.9 386.7,139.7 390.7,139.3 394.7,139.0 398.7,138.2 402.7,137.9 406.7,137.8 410.7,137.5 414.8,136.7 418.8,136.1 422.8,136.0 426.8,136.2 430.8,136.4 434.8,135.4 438.8,134.3 442.8,134.1 446.8,133.1 450.9,132.9 454.9,133.6 458.9,134.3 462.9,135.2 466.9,135.3 470.9,134.2 474.9,133.3 478.9,132.3 482.9,131.5 487.0,131.3 491.0,130.9 495.0,130.5 499.0,130.5 503.0,130.2" fill="none" stroke="#c4521a" stroke-width="0.8" stroke-opacity="0.85"/>
<polyline points="326.5,131.0 330.5,130.5 334.5,129.9 338.5,129.3 342.5,128.6 346.6,128.0 350.6,127.5 354.6,126.7 358.6,126.0 362.6,125.2 366.6,124.5 370.6,123.9 374.6,123.2 378.6,122.5 382.7,121.9 386.7,121.0 390.7,120.3 394.7,119.5 398.7,118.9 402.7,118.2 406.7,117.6 410.7,116.4 414.8,115.1 418.8,114.3 422.8,114.0 426.8,113.6 430.8,112.8 434.8,112.5 438.8,111.1 442.8,109.6 446.8,108.8 450.9,108.4 454.9,107.3 458.9,105.2 462.9,104.7 466.9,104.2 470.9,103.0 474.9,102.1 478.9,101.9 482.9,99.5 487.0,98.8 491.0,98.7 495.0,96.5 499.0,95.7 503.0,93.2" fill="none" stroke="#c4521a" stroke-width="0.8" stroke-opacity="0.85"/>
<polyline points="326.5,147.0 330.5,146.3 334.5,145.8 338.5,145.2 342.5,144.5 346.6,143.9 350.6,143.2 354.6,142.4 358.6,141.6 362.6,140.8 366.6,139.9 370.6,139.1 374.6,138.5 378.6,137.8 382.7,137.5 386.7,136.9 390.7,136.6 394.7,136.0 398.7,135.6 402.7,134.4 406.7,133.5 410.7,132.6 414.8,131.6 418.8,130.5 422.8,129.4 426.8,128.2 430.8,126.2 434.8,124.4 438.8,122.8 442.8,121.3 446.8,119.5 450.9,118.1 454.9,117.4 458.9,116.5 462.9,115.4 466.9,115.4 470.9,115.7 474.9,116.3 478.9,117.3 482.9,117.3 487.0,117.0 491.0,117.4 495.0,116.9 499.0,116.2 503.0,115.8" fill="none" stroke="#c4521a" stroke-width="0.8" stroke-opacity="0.85"/>
<polyline points="326.5,154.0 330.5,153.3 334.5,152.7 338.5,152.1 342.5,151.5 346.6,150.9 350.6,150.4 354.6,149.9 358.6,149.2 362.6,148.3 366.6,147.4 370.6,146.7 374.6,146.3 378.6,145.5 382.7,144.8 386.7,144.0 390.7,143.0 394.7,142.1 398.7,141.4 402.7,140.9 406.7,140.6 410.7,139.8 414.8,139.4 418.8,139.3 422.8,138.9 426.8,138.6 430.8,138.0 434.8,136.8 438.8,135.6 442.8,134.3 446.8,134.8 450.9,134.5 454.9,135.1 458.9,135.3 462.9,135.3 466.9,135.6 470.9,134.9 474.9,134.9 478.9,134.9 482.9,133.5 487.0,132.8 491.0,132.6 495.0,132.6 499.0,133.8 503.0,133.9" fill="none" stroke="#c4521a" stroke-width="0.8" stroke-opacity="0.85"/>
<polyline points="326.5,146.2 330.5,145.6 334.5,144.9 338.5,144.3 342.5,143.6 346.6,142.7 350.6,142.0 354.6,141.2 358.6,140.4 362.6,139.4 366.6,138.6 370.6,137.6 374.6,136.9 378.6,135.8 382.7,135.0 386.7,134.2 390.7,133.5 394.7,132.7 398.7,132.1 402.7,131.0 406.7,129.3 410.7,128.0 414.8,126.6 418.8,125.3 422.8,124.5 426.8,122.8 430.8,121.3 434.8,119.8 438.8,118.1 442.8,116.9 446.8,115.9 450.9,114.6 454.9,112.9 458.9,112.1 462.9,111.0 466.9,110.4 470.9,110.1 474.9,108.3 478.9,106.1 482.9,104.5 487.0,103.5 491.0,103.4 495.0,103.7 499.0,104.5 503.0,104.4" fill="none" stroke="#c4521a" stroke-width="0.8" stroke-opacity="0.85"/>
<polyline points="326.5,126.9 330.5,126.8 334.5,126.6 338.5,126.6 342.5,126.3 346.6,126.2 350.6,126.0 354.6,125.7 358.6,125.5 362.6,125.4 366.6,125.3 370.6,125.0 374.6,124.6 378.6,124.7 382.7,124.5 386.7,123.5 390.7,122.7 394.7,121.8 398.7,121.2 402.7,120.6 406.7,120.0 410.7,119.2 414.8,119.1 418.8,118.4 422.8,118.7 426.8,118.6 430.8,118.0 434.8,118.0 438.8,118.2 442.8,117.7 446.8,117.7 450.9,116.7 454.9,115.4 458.9,115.3 462.9,115.0 466.9,113.9 470.9,113.5 474.9,113.9 478.9,114.1 482.9,112.7 487.0,111.5 491.0,111.1 495.0,111.5 499.0,113.3 503.0,114.2" fill="none" stroke="#c4521a" stroke-width="0.8" stroke-opacity="0.85"/>
<polyline points="326.5,136.7 330.5,136.0 334.5,135.5 338.5,134.8 342.5,134.2 346.6,133.4 350.6,132.7 354.6,132.0 358.6,131.3 362.6,130.8 366.6,130.0 370.6,129.3 374.6,128.6 378.6,128.1 382.7,127.3 386.7,126.4 390.7,125.1 394.7,124.7 398.7,124.2 402.7,123.5 406.7,122.4 410.7,121.8 414.8,121.0 418.8,120.8 422.8,120.7 426.8,120.4 430.8,120.3 434.8,119.5 438.8,118.6 442.8,117.5 446.8,115.8 450.9,114.6 454.9,113.6 458.9,113.5 462.9,111.1 466.9,108.9 470.9,106.7 474.9,104.8 478.9,103.7 482.9,103.1 487.0,102.5 491.0,101.5 495.0,101.1 499.0,100.9 503.0,98.8" fill="none" stroke="#c4521a" stroke-width="0.8" stroke-opacity="0.85"/>
<polyline points="326.5,135.6 330.5,134.9 334.5,134.2 338.5,133.6 342.5,133.0 346.6,132.4 350.6,131.8 354.6,131.1 358.6,130.4 362.6,129.8 366.6,129.3 370.6,129.1 374.6,128.9 378.6,128.5 382.7,127.9 386.7,127.1 390.7,126.4 394.7,126.3 398.7,126.2 402.7,125.3 406.7,124.2 410.7,122.8 414.8,121.9 418.8,121.2 422.8,120.6 426.8,120.8 430.8,120.4 434.8,119.5 438.8,119.7 442.8,119.7 446.8,119.1 450.9,117.4 454.9,115.2 458.9,112.2 462.9,110.2 466.9,108.8 470.9,108.4 474.9,107.8 478.9,106.8 482.9,105.3 487.0,105.8 491.0,104.3 495.0,103.4 499.0,102.6 503.0,102.5" fill="none" stroke="#c4521a" stroke-width="0.8" stroke-opacity="0.85"/>
<polyline points="326.5,156.9 330.5,156.3 334.5,155.7 338.5,155.1 342.5,154.4 346.6,153.7 350.6,152.9 354.6,152.1 358.6,151.4 362.6,150.7 366.6,150.2 370.6,149.8 374.6,149.3 378.6,148.8 382.7,148.3 386.7,147.9 390.7,147.4 394.7,146.9 398.7,146.2 402.7,145.3 406.7,144.8 410.7,144.6 414.8,144.5 418.8,144.3 422.8,144.0 426.8,143.4 430.8,142.0 434.8,141.2 438.8,140.5 442.8,139.6 446.8,138.2 450.9,137.8 454.9,136.3 458.9,136.2 462.9,136.3 466.9,137.7 470.9,137.7 474.9,137.5 478.9,136.7 482.9,136.0 487.0,135.2 491.0,133.8 495.0,133.7 499.0,132.6 503.0,131.2" fill="none" stroke="#c4521a" stroke-width="0.8" stroke-opacity="0.85"/>
<polyline points="326.5,143.1 330.5,142.6 334.5,142.1 338.5,141.7 342.5,141.2 346.6,140.6 350.6,140.1 354.6,139.5 358.6,139.2 362.6,138.7 366.6,138.4 370.6,137.9 374.6,137.3 378.6,136.7 382.7,136.3 386.7,136.0 390.7,136.1 394.7,135.8 398.7,135.8 402.7,135.9 406.7,136.0 410.7,135.7 414.8,135.6 418.8,135.3 422.8,135.1 426.8,134.7 430.8,134.6 434.8,134.8 438.8,135.4 442.8,135.4 446.8,135.8 450.9,136.6 454.9,136.4 458.9,137.0 462.9,136.3 466.9,136.1 470.9,136.2 474.9,137.2 478.9,137.8 482.9,137.6 487.0,136.6 491.0,134.8 495.0,134.2 499.0,133.5 503.0,132.1" fill="none" stroke="#c4521a" stroke-width="0.8" stroke-opacity="0.85"/>
<polyline points="326.5,147.9 330.5,147.5 334.5,147.1 338.5,146.7 342.5,146.5 346.6,146.4 350.6,146.1 354.6,145.7 358.6,145.3 362.6,145.0 366.6,144.7 370.6,144.5 374.6,144.1 378.6,144.0 382.7,143.9 386.7,143.8 390.7,143.5 394.7,143.1 398.7,142.9 402.7,142.3 406.7,141.8 410.7,141.1 414.8,140.0 418.8,139.5 422.8,139.0 426.8,138.6 430.8,138.6 434.8,137.8 438.8,137.2 442.8,136.8 446.8,136.9 450.9,136.2 454.9,136.1 458.9,136.0 462.9,136.7 466.9,137.7 470.9,138.6 474.9,140.6 478.9,141.6 482.9,141.8 487.0,141.5 491.0,140.4 495.0,139.5 499.0,137.2 503.0,135.6" fill="none" stroke="#c4521a" stroke-width="0.8" stroke-opacity="0.85"/>
<polyline points="326.5,132.2 330.5,131.4 334.5,130.5 338.5,129.8 342.5,128.9 346.6,128.0 350.6,126.9 354.6,125.8 358.6,124.7 362.6,123.9 366.6,123.1 370.6,122.1 374.6,121.3 378.6,120.5 382.7,119.6 386.7,118.7 390.7,117.8 394.7,116.7 398.7,115.2 402.7,114.0 406.7,113.2 410.7,112.9 414.8,112.3 418.8,111.3 422.8,110.2 426.8,109.6 430.8,109.0 434.8,108.0 438.8,107.3 442.8,106.4 446.8,105.7 450.9,104.8 454.9,103.0 458.9,101.6 462.9,100.9 466.9,99.3 470.9,98.0 474.9,97.5 478.9,96.5 482.9,95.1 487.0,95.5 491.0,96.1 495.0,96.9 499.0,96.3 503.0,97.0" fill="none" stroke="#c4521a" stroke-width="0.8" stroke-opacity="0.85"/>
<polyline points="326.5,148.6 330.5,148.0 334.5,147.5 338.5,147.1 342.5,146.6 346.6,146.1 350.6,145.6 354.6,144.8 358.6,144.3 362.6,143.9 366.6,143.3 370.6,142.9 374.6,142.6 378.6,142.3 382.7,142.0 386.7,141.9 390.7,141.6 394.7,141.2 398.7,140.7 402.7,140.5 406.7,140.0 410.7,139.7 414.8,139.4 418.8,139.0 422.8,139.2 426.8,139.2 430.8,139.5 434.8,139.9 438.8,140.6 442.8,140.7 446.8,141.1 450.9,141.5 454.9,141.2 458.9,141.0 462.9,140.7 466.9,140.2 470.9,140.6 474.9,140.2 478.9,138.5 482.9,135.9 487.0,133.8 491.0,131.9 495.0,130.5 499.0,130.0 503.0,131.1" fill="none" stroke="#c4521a" stroke-width="0.8" stroke-opacity="0.85"/>
<polyline points="326.5,129.0 330.5,128.3 334.5,127.5 338.5,126.8 342.5,126.2 346.6,125.6 350.6,124.8 354.6,124.1 358.6,123.5 362.6,123.0 366.6,122.2 370.6,121.3 374.6,120.6 378.6,120.0 382.7,119.1 386.7,118.1 390.7,117.4 394.7,116.4 398.7,115.8 402.7,115.2 406.7,114.6 410.7,113.5 414.8,112.4 418.8,111.6 422.8,110.3 426.8,110.1 430.8,109.0 434.8,107.5 438.8,106.4 442.8,105.6 446.8,105.2 450.9,104.5 454.9,103.6 458.9,102.7 462.9,101.4 466.9,98.7 470.9,97.4 474.9,96.5 478.9,95.8 482.9,94.6 487.0,93.8 491.0,93.0 495.0,92.1 499.0,92.3 503.0,90.5" fill="none" stroke="#c4521a" stroke-width="0.8" stroke-opacity="0.85"/>
<polyline points="326.5,145.1 330.5,144.7 334.5,144.2 338.5,143.9 342.5,143.5 346.6,143.1 350.6,142.7 354.6,142.4 358.6,141.9 362.6,141.3 366.6,140.8 370.6,140.4 374.6,139.9 378.6,139.6 382.7,139.2 386.7,138.7 390.7,138.3 394.7,138.0 398.7,137.5 402.7,137.4 406.7,137.8 410.7,137.8 414.8,138.3 418.8,137.7 422.8,137.7 426.8,137.4 430.8,137.2 434.8,136.7 438.8,136.0 442.8,134.8 446.8,133.7 450.9,133.6 454.9,134.1 458.9,134.0 462.9,133.5 466.9,132.6 470.9,131.0 474.9,131.3 478.9,131.7 482.9,131.9 487.0,131.5 491.0,130.3 495.0,130.6 499.0,131.2 503.0,130.6" fill="none" stroke="#c4521a" stroke-width="0.8" stroke-opacity="0.85"/>
<polyline points="326.5,141.0 330.5,140.3 334.5,139.8 338.5,139.1 342.5,138.5 346.6,137.9 350.6,137.4 354.6,136.9 358.6,136.3 362.6,135.9 366.6,135.7 370.6,135.3 374.6,134.9 378.6,134.3 382.7,133.6 386.7,132.7 390.7,132.0 394.7,131.4 398.7,131.1 402.7,131.0 406.7,130.9 410.7,130.5 414.8,130.0 418.8,129.3 422.8,128.7 426.8,127.4 430.8,126.7 434.8,125.3 438.8,124.0 442.8,123.0 446.8,121.9 450.9,122.0 454.9,121.7 458.9,122.2 462.9,123.0 466.9,123.0 470.9,123.0 474.9,123.6 478.9,123.6 482.9,123.3 487.0,122.6 491.0,121.9 495.0,121.0 499.0,120.2 503.0,120.5" fill="none" stroke="#c4521a" stroke-width="0.8" stroke-opacity="0.85"/>
<polyline points="326.5,140.0 330.5,139.7 334.5,139.4 338.5,139.1 342.5,138.8 346.6,138.3 350.6,138.0 354.6,137.6 358.6,137.3 362.6,136.8 366.6,136.6 370.6,136.2 374.6,136.0 378.6,135.9 382.7,135.6 386.7,135.5 390.7,135.2 394.7,134.4 398.7,133.9 402.7,133.7 406.7,133.4 410.7,132.2 414.8,131.4 418.8,130.6 422.8,129.8 426.8,129.1 430.8,127.7 434.8,126.5 438.8,126.5 442.8,127.1 446.8,127.1 450.9,126.6 454.9,126.4 458.9,126.7 462.9,127.2 466.9,126.6 470.9,126.2 474.9,125.9 478.9,126.6 482.9,127.8 487.0,128.8 491.0,130.2 495.0,130.6 499.0,132.0 503.0,132.4" fill="none" stroke="#c4521a" stroke-width="0.8" stroke-opacity="0.85"/>
<polyline points="326.5,155.6 330.5,155.5 334.5,155.2 338.5,154.9 342.5,154.5 346.6,154.2 350.6,153.9 354.6,153.6 358.6,153.4 362.6,152.9 366.6,152.5 370.6,152.1 374.6,151.8 378.6,151.7 382.7,151.8 386.7,151.7 390.7,151.4 394.7,150.9 398.7,150.6 402.7,150.4 406.7,150.0 410.7,150.0 414.8,149.5 418.8,149.4 422.8,149.4 426.8,149.6 430.8,150.4 434.8,150.8 438.8,150.8 442.8,150.9 446.8,151.4 450.9,150.8 454.9,150.6 458.9,149.9 462.9,149.7 466.9,150.5 470.9,150.8 474.9,150.9 478.9,151.0 482.9,148.7 487.0,147.8 491.0,147.7 495.0,147.6 499.0,147.1 503.0,146.1" fill="none" stroke="#c4521a" stroke-width="0.8" stroke-opacity="0.85"/>
<polyline points="326.5,138.4 330.5,138.0 334.5,137.6 338.5,137.2 342.5,136.6 346.6,136.0 350.6,135.5 354.6,135.0 358.6,134.3 362.6,133.7 366.6,133.2 370.6,132.6 374.6,131.9 378.6,131.0 382.7,130.3 386.7,129.7 390.7,129.4 394.7,128.5 398.7,128.1 402.7,127.5 406.7,126.8 410.7,126.8 414.8,126.5 418.8,125.7 422.8,124.8 426.8,123.8 430.8,122.6 434.8,121.5 438.8,121.1 442.8,120.8 446.8,119.7 450.9,120.4 454.9,120.1 458.9,119.8 462.9,119.4 466.9,119.5 470.9,119.1 474.9,119.1 478.9,120.4 482.9,121.0 487.0,120.4 491.0,120.1 495.0,119.0 499.0,117.9 503.0,117.2" fill="none" stroke="#c4521a" stroke-width="0.8" stroke-opacity="0.85"/>
<polyline points="326.5,139.3 330.5,138.5 334.5,137.7 338.5,136.9 342.5,136.0 346.6,135.2 350.6,134.4 354.6,133.7 358.6,132.8 362.6,132.1 366.6,131.3 370.6,130.2 374.6,128.9 378.6,127.6 382.7,126.7 386.7,125.5 390.7,124.6 394.7,124.1 398.7,123.5 402.7,123.1 406.7,122.3 410.7,121.5 414.8,120.8 418.8,120.2 422.8,119.8 426.8,119.1 430.8,118.1 434.8,116.9 438.8,116.0 442.8,114.3 446.8,112.4 450.9,110.6 454.9,108.9 458.9,107.4 462.9,104.6 466.9,102.3 470.9,100.4 474.9,99.5 478.9,97.2 482.9,95.2 487.0,94.1 491.0,93.5 495.0,93.8 499.0,94.6 503.0,93.8" fill="none" stroke="#c4521a" stroke-width="0.8" stroke-opacity="0.85"/>
<polyline points="326.5,147.3 330.5,146.8 334.5,146.3 338.5,145.9 342.5,145.4 346.6,144.9 350.6,144.3 354.6,143.7 358.6,143.3 362.6,142.9 366.6,142.6 370.6,142.4 374.6,141.9 378.6,141.7 382.7,141.2 386.7,140.6 390.7,140.0 394.7,139.5 398.7,139.3 402.7,138.9 406.7,138.5 410.7,138.1 414.8,137.2 418.8,136.1 422.8,135.2 426.8,134.6 430.8,134.2 434.8,134.0 438.8,133.7 442.8,133.1 446.8,132.8 450.9,131.9 454.9,130.4 458.9,129.1 462.9,127.2 466.9,125.6 470.9,123.9 474.9,122.3 478.9,121.2 482.9,119.7 487.0,118.2 491.0,115.8 495.0,114.3 499.0,112.4 503.0,111.5" fill="none" stroke="#c4521a" stroke-width="0.8" stroke-opacity="0.85"/>
<polyline points="326.5,149.8 330.5,148.9 334.5,148.1 338.5,147.1 342.5,146.1 346.6,145.3 350.6,144.5 354.6,143.5 358.6,142.6 362.6,141.8 366.6,140.9 370.6,140.2 374.6,139.4 378.6,138.6 382.7,137.8 386.7,137.1 390.7,136.4 394.7,135.9 398.7,135.4 402.7,134.7 406.7,133.8 410.7,133.3 414.8,132.6 418.8,132.0 422.8,131.5 426.8,130.8 430.8,129.1 434.8,127.8 438.8,126.9 442.8,126.0 446.8,124.8 450.9,124.5 454.9,123.9 458.9,122.8 462.9,121.4 466.9,120.5 470.9,118.9 474.9,117.0 478.9,116.9 482.9,117.6 487.0,118.6 491.0,119.9 495.0,121.0 499.0,119.8 503.0,119.8" fill="none" stroke="#c4521a" stroke-width="0.8" stroke-opacity="0.85"/>
<polyline points="326.5,148.6 330.5,148.0 334.5,147.2 338.5,146.6 342.5,146.0 346.6,145.4 350.6,144.7 354.6,144.1 358.6,143.5 362.6,143.0 366.6,142.4 370.6,141.9 374.6,141.3 378.6,140.4 382.7,139.4 386.7,139.2 390.7,138.9 394.7,138.7 398.7,138.7 402.7,138.8 406.7,138.8 410.7,138.4 414.8,137.8 418.8,136.5 422.8,135.4 426.8,134.8 430.8,133.2 434.8,132.1 438.8,131.5 442.8,131.6 446.8,130.8 450.9,129.8 454.9,127.8 458.9,125.7 462.9,124.5 466.9,124.9 470.9,124.0 474.9,124.2 478.9,124.4 482.9,123.8 487.0,124.9 491.0,123.3 495.0,121.9 499.0,121.0 503.0,122.2" fill="none" stroke="#c4521a" stroke-width="0.8" stroke-opacity="0.85"/>
<polyline points="326.5,147.7 330.5,147.2 334.5,146.7 338.5,146.3 342.5,145.8 346.6,145.4 350.6,144.9 354.6,144.3 358.6,143.6 362.6,142.8 366.6,142.4 370.6,141.8 374.6,140.8 378.6,140.0 382.7,139.3 386.7,138.6 390.7,138.4 394.7,138.0 398.7,137.4 402.7,136.6 406.7,135.9 410.7,135.0 414.8,134.3 418.8,134.8 422.8,135.0 426.8,134.5 430.8,134.8 434.8,135.1 438.8,135.4 442.8,135.7 446.8,136.1 450.9,136.4 454.9,137.1 458.9,137.9 462.9,139.0 466.9,139.1 470.9,138.9 474.9,138.0 478.9,137.9 482.9,138.2 487.0,137.8 491.0,137.8 495.0,139.7 499.0,141.8 503.0,141.7" fill="none" stroke="#c4521a" stroke-width="0.8" stroke-opacity="0.85"/>
<polyline points="326.5,107.5 330.5,106.7 334.5,105.9 338.5,105.1 342.5,104.4 346.6,103.7 350.6,102.8 354.6,102.0 358.6,101.2 362.6,100.4 366.6,99.5 370.6,98.5 374.6,97.3 378.6,96.2 382.7,95.0 386.7,93.4 390.7,92.4 394.7,91.2 398.7,89.9 402.7,89.0 406.7,87.4 410.7,86.6 414.8,85.5 418.8,84.7 422.8,83.7 426.8,82.9 430.8,82.2 434.8,81.4 438.8,79.8 442.8,77.8 446.8,76.2 450.9,75.7 454.9,74.8 458.9,74.2 462.9,73.6 466.9,73.2 470.9,73.3 474.9,72.0 478.9,71.1 482.9,70.1 487.0,68.9 491.0,67.2 495.0,65.2 499.0,62.9 503.0,60.2" fill="none" stroke="#1a2c88" stroke-width="0.85" stroke-opacity="0.9"/>
<polyline points="326.5,107.8 330.5,107.2 334.5,106.6 338.5,106.0 342.5,105.2 346.6,104.3 350.6,103.2 354.6,102.3 358.6,101.7 362.6,100.9 366.6,100.1 370.6,99.3 374.6,98.3 378.6,97.2 382.7,96.2 386.7,95.2 390.7,94.1 394.7,93.0 398.7,91.8 402.7,90.8 406.7,90.4 410.7,89.7 414.8,89.8 418.8,89.0 422.8,88.3 426.8,87.1 430.8,86.1 434.8,85.2 438.8,84.6 442.8,84.5 446.8,83.9 450.9,82.6 454.9,81.4 458.9,80.5 462.9,79.3 466.9,78.9 470.9,79.4 474.9,78.4 478.9,77.8 482.9,77.9 487.0,76.2 491.0,75.1 495.0,73.9 499.0,71.7 503.0,71.2" fill="none" stroke="#1a2c88" stroke-width="0.85" stroke-opacity="0.9"/>
<polyline points="326.5,105.2 330.5,104.5 334.5,103.7 338.5,103.1 342.5,102.4 346.6,101.8 350.6,101.1 354.6,100.3 358.6,99.5 362.6,98.7 366.6,97.6 370.6,96.9 374.6,96.2 378.6,95.2 382.7,94.0 386.7,93.1 390.7,92.2 394.7,91.3 398.7,90.3 402.7,89.2 406.7,88.0 410.7,87.0 414.8,85.8 418.8,85.1 422.8,84.3 426.8,83.6 430.8,83.0 434.8,82.9 438.8,82.8 442.8,82.6 446.8,82.1 450.9,81.1 454.9,80.0 458.9,79.4 462.9,78.9 466.9,78.0 470.9,76.4 474.9,74.1 478.9,72.6 482.9,72.2 487.0,71.9 491.0,70.4 495.0,69.0 499.0,68.1 503.0,66.4" fill="none" stroke="#1a2c88" stroke-width="0.85" stroke-opacity="0.9"/>
<polyline points="326.5,86.1 330.5,85.3 334.5,84.4 338.5,83.5 342.5,82.7 346.6,81.9 350.6,81.0 354.6,80.0 358.6,79.2 362.6,78.5 366.6,77.7 370.6,77.1 374.6,76.4 378.6,75.4 382.7,74.7 386.7,73.9 390.7,73.2 394.7,72.5 398.7,71.4 402.7,70.2 406.7,69.0 410.7,68.4 414.8,67.4 418.8,67.0 422.8,66.5 426.8,65.4 430.8,64.5 434.8,63.9 438.8,62.8 442.8,60.8 446.8,59.5 450.9,57.8 454.9,56.7 458.9,54.6 462.9,52.9 466.9,51.1 470.9,48.8 474.9,46.8 478.9,45.5 482.9,44.0 487.0,41.8 491.0,40.4 495.0,37.8 499.0,36.3 503.0,35.6" fill="none" stroke="#1a2c88" stroke-width="0.85" stroke-opacity="0.9"/>
<polyline points="326.5,105.5 330.5,105.1 334.5,104.7 338.5,104.4 342.5,103.9 346.6,103.4 350.6,103.0 354.6,102.6 358.6,102.2 362.6,101.6 366.6,101.3 370.6,101.0 374.6,100.4 378.6,100.0 382.7,99.9 386.7,99.7 390.7,99.5 394.7,99.0 398.7,98.4 402.7,98.2 406.7,98.7 410.7,98.9 414.8,98.8 418.8,98.8 422.8,98.5 426.8,98.4 430.8,98.5 434.8,98.0 438.8,97.0 442.8,96.1 446.8,95.9 450.9,95.7 454.9,96.0 458.9,95.3 462.9,94.9 466.9,94.2 470.9,93.6 474.9,93.3 478.9,92.2 482.9,91.2 487.0,89.6 491.0,88.6 495.0,87.2 499.0,85.7 503.0,84.8" fill="none" stroke="#1a2c88" stroke-width="0.85" stroke-opacity="0.9"/>
<polyline points="326.5,121.1 330.5,120.3 334.5,119.6 338.5,118.8 342.5,118.1 346.6,117.3 350.6,116.5 354.6,115.6 358.6,114.7 362.6,113.8 366.6,113.3 370.6,112.5 374.6,112.0 378.6,111.5 382.7,110.7 386.7,109.4 390.7,108.4 394.7,107.1 398.7,106.2 402.7,105.6 406.7,105.0 410.7,104.3 414.8,103.5 418.8,102.8 422.8,102.0 426.8,100.9 430.8,99.9 434.8,99.4 438.8,98.6 442.8,97.9 446.8,96.7 450.9,95.2 454.9,93.3 458.9,91.8 462.9,90.9 466.9,90.3 470.9,89.3 474.9,88.8 478.9,87.9 482.9,87.4 487.0,87.0 491.0,86.8 495.0,84.4 499.0,81.6 503.0,80.3" fill="none" stroke="#1a2c88" stroke-width="0.85" stroke-opacity="0.9"/>
<polyline points="326.5,119.9 330.5,119.1 334.5,118.3 338.5,117.4 342.5,116.6 346.6,115.9 350.6,115.2 354.6,114.6 358.6,113.8 362.6,113.0 366.6,112.1 370.6,111.2 374.6,110.2 378.6,109.2 382.7,108.4 386.7,107.4 390.7,106.6 394.7,105.6 398.7,104.9 402.7,103.4 406.7,102.1 410.7,101.0 414.8,99.6 418.8,98.8 422.8,98.0 426.8,97.7 430.8,97.5 434.8,97.4 438.8,96.8 442.8,95.7 446.8,94.5 450.9,93.2 454.9,92.2 458.9,91.0 462.9,91.7 466.9,90.8 470.9,90.7 474.9,89.9 478.9,89.0 482.9,88.7 487.0,88.2 491.0,86.6 495.0,85.6 499.0,84.5 503.0,81.7" fill="none" stroke="#1a2c88" stroke-width="0.85" stroke-opacity="0.9"/>
<polyline points="326.5,116.4 330.5,115.3 334.5,114.1 338.5,113.0 342.5,112.0 346.6,110.9 350.6,110.0 354.6,109.1 358.6,108.1 362.6,107.0 366.6,106.0 370.6,104.6 374.6,103.1 378.6,101.5 382.7,100.6 386.7,99.5 390.7,98.4 394.7,97.1 398.7,96.2 402.7,95.3 406.7,94.7 410.7,94.2 414.8,94.0 418.8,93.4 422.8,92.8 426.8,91.8 430.8,90.7 434.8,88.9 438.8,87.1 442.8,85.2 446.8,83.3 450.9,82.4 454.9,81.5 458.9,81.2 462.9,81.2 466.9,81.3 470.9,81.5 474.9,80.8 478.9,80.6 482.9,79.7 487.0,78.4 491.0,78.1 495.0,79.2 499.0,78.7 503.0,79.4" fill="none" stroke="#1a2c88" stroke-width="0.85" stroke-opacity="0.9"/>
<polyline points="326.5,117.5 330.5,116.6 334.5,115.8 338.5,115.0 342.5,114.3 346.6,113.5 350.6,112.5 354.6,111.6 358.6,110.9 362.6,110.2 366.6,109.6 370.6,109.0 374.6,108.2 378.6,107.4 382.7,106.6 386.7,106.0 390.7,105.4 394.7,104.8 398.7,104.2 402.7,104.0 406.7,103.0 410.7,102.0 414.8,101.9 418.8,101.6 422.8,100.4 426.8,99.5 430.8,98.0 434.8,96.5 438.8,95.4 442.8,95.1 446.8,94.9 450.9,94.8 454.9,95.0 458.9,94.8 462.9,93.9 466.9,93.0 470.9,92.4 474.9,91.4 478.9,90.1 482.9,88.7 487.0,86.5 491.0,84.0 495.0,82.1 499.0,80.4 503.0,79.0" fill="none" stroke="#1a2c88" stroke-width="0.85" stroke-opacity="0.9"/>
<polyline points="326.5,100.8 330.5,100.0 334.5,99.1 338.5,98.1 342.5,97.0 346.6,96.1 350.6,95.0 354.6,94.1 358.6,93.0 362.6,92.0 366.6,91.0 370.6,90.2 374.6,89.3 378.6,88.3 382.7,87.4 386.7,86.5 390.7,85.9 394.7,85.1 398.7,84.2 402.7,83.1 406.7,82.3 410.7,81.4 414.8,80.8 418.8,79.6 422.8,79.3 426.8,79.5 430.8,79.3 434.8,78.2 438.8,77.3 442.8,76.5 446.8,74.6 450.9,73.1 454.9,71.1 458.9,69.7 462.9,69.3 466.9,69.3 470.9,68.0 474.9,67.8 478.9,67.9 482.9,67.3 487.0,67.0 491.0,67.5 495.0,67.3 499.0,66.7 503.0,65.5" fill="none" stroke="#1a2c88" stroke-width="0.85" stroke-opacity="0.9"/>
<polyline points="326.5,110.9 330.5,110.1 334.5,109.4 338.5,108.6 342.5,107.9 346.6,107.0 350.6,106.1 354.6,105.2 358.6,104.5 362.6,103.5 366.6,102.8 370.6,101.9 374.6,101.3 378.6,100.6 382.7,99.9 386.7,99.2 390.7,98.9 394.7,98.3 398.7,97.6 402.7,97.4 406.7,97.1 410.7,96.8 414.8,96.0 418.8,95.4 422.8,93.8 426.8,92.7 430.8,91.4 434.8,89.7 438.8,87.8 442.8,86.9 446.8,86.2 450.9,84.8 454.9,84.6 458.9,83.7 462.9,82.7 466.9,82.0 470.9,80.5 474.9,78.3 478.9,76.1 482.9,75.4 487.0,75.3 491.0,73.8 495.0,73.5 499.0,73.1 503.0,73.0" fill="none" stroke="#1a2c88" stroke-width="0.85" stroke-opacity="0.9"/>
<polyline points="326.5,101.5 330.5,100.7 334.5,99.9 338.5,99.0 342.5,98.0 346.6,97.1 350.6,96.3 354.6,95.4 358.6,94.7 362.6,93.8 366.6,92.9 370.6,92.2 374.6,91.4 378.6,90.6 382.7,89.6 386.7,88.5 390.7,87.1 394.7,86.3 398.7,85.7 402.7,85.5 406.7,85.2 410.7,84.8 414.8,84.5 418.8,84.3 422.8,83.7 426.8,83.2 430.8,83.4 434.8,82.5 438.8,81.1 442.8,79.4 446.8,78.4 450.9,78.1 454.9,77.4 458.9,77.1 462.9,76.5 466.9,76.0 470.9,75.1 474.9,74.1 478.9,73.3 482.9,73.2 487.0,74.5 491.0,73.6 495.0,73.1 499.0,72.5 503.0,72.6" fill="none" stroke="#1a2c88" stroke-width="0.85" stroke-opacity="0.9"/>
<polyline points="326.5,108.2 330.5,107.6 334.5,107.0 338.5,106.3 342.5,105.5 346.6,104.8 350.6,104.3 354.6,103.6 358.6,103.0 362.6,102.5 366.6,101.5 370.6,100.8 374.6,100.0 378.6,99.4 382.7,98.6 386.7,97.7 390.7,96.6 394.7,95.6 398.7,94.9 402.7,94.1 406.7,92.8 410.7,92.4 414.8,92.4 418.8,92.4 422.8,91.9 426.8,90.9 430.8,89.3 434.8,88.4 438.8,88.1 442.8,87.1 446.8,86.3 450.9,85.4 454.9,84.4 458.9,83.8 462.9,84.4 466.9,84.1 470.9,84.1 474.9,84.6 478.9,84.4 482.9,83.9 487.0,82.4 491.0,82.0 495.0,81.0 499.0,79.7 503.0,78.6" fill="none" stroke="#1a2c88" stroke-width="0.85" stroke-opacity="0.9"/>
<polyline points="326.5,101.9 330.5,101.2 334.5,100.6 338.5,100.0 342.5,99.5 346.6,98.9 350.6,98.2 354.6,97.4 358.6,96.9 362.6,96.2 366.6,95.4 370.6,94.7 374.6,94.1 378.6,93.2 382.7,92.3 386.7,91.6 390.7,90.7 394.7,90.1 398.7,89.8 402.7,89.5 406.7,88.9 410.7,88.3 414.8,87.5 418.8,86.8 422.8,86.2 426.8,85.5 430.8,85.3 434.8,86.0 438.8,85.9 442.8,85.8 446.8,85.9 450.9,86.1 454.9,85.8 458.9,85.1 462.9,85.1 466.9,85.2 470.9,85.3 474.9,84.7 478.9,84.5 482.9,84.7 487.0,84.4 491.0,84.5 495.0,86.1 499.0,85.3 503.0,85.0" fill="none" stroke="#1a2c88" stroke-width="0.85" stroke-opacity="0.9"/>
<polyline points="326.5,120.6 330.5,119.8 334.5,119.1 338.5,118.4 342.5,117.8 346.6,117.0 350.6,116.2 354.6,115.3 358.6,114.6 362.6,113.8 366.6,112.8 370.6,112.2 374.6,111.5 378.6,110.7 382.7,109.9 386.7,109.1 390.7,108.3 394.7,107.5 398.7,106.9 402.7,106.0 406.7,104.8 410.7,104.3 414.8,103.8 418.8,103.5 422.8,103.4 426.8,103.4 430.8,103.1 434.8,102.0 438.8,100.4 442.8,99.6 446.8,99.2 450.9,99.0 454.9,97.7 458.9,95.4 462.9,93.2 466.9,90.9 470.9,89.4 474.9,87.5 478.9,87.2 482.9,86.3 487.0,85.1 491.0,84.8 495.0,84.6 499.0,83.5 503.0,83.2" fill="none" stroke="#1a2c88" stroke-width="0.85" stroke-opacity="0.9"/>
<polyline points="326.5,92.7 330.5,92.3 334.5,91.8 338.5,91.3 342.5,90.7 346.6,90.2 350.6,89.8 354.6,89.4 358.6,89.1 362.6,88.5 366.6,88.0 370.6,87.4 374.6,86.7 378.6,85.9 382.7,85.4 386.7,84.8 390.7,84.8 394.7,84.7 398.7,84.0 402.7,83.6 406.7,83.6 410.7,83.4 414.8,82.7 418.8,82.7 422.8,82.1 426.8,81.5 430.8,80.2 434.8,78.8 438.8,76.9 442.8,76.2 446.8,76.1 450.9,75.7 454.9,74.6 458.9,73.7 462.9,73.2 466.9,71.8 470.9,70.0 474.9,68.8 478.9,68.3 482.9,67.9 487.0,67.8 491.0,66.6 495.0,63.8 499.0,62.1 503.0,60.2" fill="none" stroke="#1a2c88" stroke-width="0.85" stroke-opacity="0.9"/>
<polyline points="326.5,125.9 330.5,124.8 334.5,123.8 338.5,122.7 342.5,121.7 346.6,120.7 350.6,119.7 354.6,118.8 358.6,117.9 362.6,117.1 366.6,115.9 370.6,114.6 374.6,113.8 378.6,112.9 382.7,112.1 386.7,111.3 390.7,110.2 394.7,109.0 398.7,107.7 402.7,106.8 406.7,106.0 410.7,105.6 414.8,105.1 418.8,105.0 422.8,104.7 426.8,103.7 430.8,103.4 434.8,102.9 438.8,102.7 442.8,102.3 446.8,101.4 450.9,100.6 454.9,99.1 458.9,97.1 462.9,94.9 466.9,92.9 470.9,90.4 474.9,88.4 478.9,86.9 482.9,87.2 487.0,88.2 491.0,88.4 495.0,88.9 499.0,88.5 503.0,88.2" fill="none" stroke="#1a2c88" stroke-width="0.85" stroke-opacity="0.9"/>
<polyline points="326.5,130.7 330.5,130.1 334.5,129.6 338.5,128.9 342.5,128.4 346.6,127.8 350.6,127.2 354.6,126.5 358.6,126.0 362.6,125.4 366.6,124.9 370.6,124.5 374.6,124.3 378.6,123.7 382.7,123.2 386.7,122.8 390.7,122.6 394.7,122.4 398.7,122.3 402.7,121.6 406.7,120.8 410.7,120.6 414.8,120.2 418.8,120.5 422.8,120.2 426.8,119.7 430.8,118.5 434.8,117.9 438.8,117.5 442.8,117.9 446.8,118.1 450.9,117.9 454.9,116.7 458.9,115.8 462.9,115.6 466.9,115.7 470.9,116.4 474.9,117.2 478.9,117.4 482.9,117.8 487.0,117.9 491.0,116.8 495.0,117.3 499.0,117.7 503.0,116.8" fill="none" stroke="#1a2c88" stroke-width="0.85" stroke-opacity="0.9"/>
<polyline points="326.5,84.0 330.5,83.2 334.5,82.4 338.5,81.7 342.5,80.7 346.6,79.8 350.6,79.0 354.6,78.1 358.6,77.1 362.6,76.1 366.6,75.2 370.6,74.4 374.6,73.4 378.6,72.3 382.7,71.4 386.7,70.6 390.7,70.3 394.7,69.9 398.7,69.1 402.7,67.6 406.7,66.7 410.7,65.8 414.8,64.9 418.8,63.6 422.8,62.8 426.8,61.2 430.8,60.0 434.8,59.0 438.8,58.2 442.8,57.9 446.8,57.4 450.9,56.8 454.9,56.6 458.9,55.2 462.9,53.8 466.9,52.7 470.9,52.3 474.9,51.2 478.9,50.7 482.9,50.4 487.0,48.7 491.0,46.2 495.0,43.2 499.0,41.1 503.0,39.7" fill="none" stroke="#1a2c88" stroke-width="0.85" stroke-opacity="0.9"/>
<polyline points="326.5,130.7 330.5,130.5 334.5,130.2 338.5,129.9 342.5,129.7 346.6,129.5 350.6,129.3 354.6,128.9 358.6,128.6 362.6,128.2 366.6,127.6 370.6,127.1 374.6,126.7 378.6,126.3 382.7,125.9 386.7,125.3 390.7,124.9 394.7,124.3 398.7,123.5 402.7,122.9 406.7,122.9 410.7,122.6 414.8,121.9 418.8,121.9 422.8,122.4 426.8,122.5 430.8,122.3 434.8,122.1 438.8,123.3 442.8,123.9 446.8,124.6 450.9,125.2 454.9,124.4 458.9,123.2 462.9,121.6 466.9,120.7 470.9,120.2 474.9,121.0 478.9,121.1 482.9,121.3 487.0,121.3 491.0,121.3 495.0,123.1 499.0,124.3 503.0,126.2" fill="none" stroke="#1a2c88" stroke-width="0.85" stroke-opacity="0.9"/>
<polyline points="326.5,109.2 330.5,108.3 334.5,107.5 338.5,106.6 342.5,105.7 346.6,104.9 350.6,104.0 354.6,103.1 358.6,102.4 362.6,101.6 366.6,100.9 370.6,100.3 374.6,99.8 378.6,99.2 382.7,98.9 386.7,98.5 390.7,98.3 394.7,97.5 398.7,97.2 402.7,96.7 406.7,95.5 410.7,94.2 414.8,92.7 418.8,91.4 422.8,89.7 426.8,88.0 430.8,86.7 434.8,85.6 438.8,84.3 442.8,83.0 446.8,81.9 450.9,80.9 454.9,79.9 458.9,78.9 462.9,78.4 466.9,76.8 470.9,75.2 474.9,73.9 478.9,72.5 482.9,70.9 487.0,69.3 491.0,68.1 495.0,68.1 499.0,67.6 503.0,66.7" fill="none" stroke="#1a2c88" stroke-width="0.85" stroke-opacity="0.9"/>
<polyline points="326.5,102.4 330.5,101.9 334.5,101.3 338.5,100.7 342.5,100.2 346.6,99.6 350.6,99.2 354.6,98.7 358.6,98.2 362.6,97.4 366.6,96.5 370.6,95.7 374.6,95.1 378.6,94.6 382.7,94.1 386.7,93.6 390.7,92.8 394.7,91.8 398.7,91.0 402.7,90.0 406.7,89.5 410.7,88.5 414.8,87.2 418.8,86.1 422.8,84.6 426.8,84.2 430.8,83.3 434.8,82.5 438.8,81.8 442.8,80.8 446.8,79.0 450.9,76.8 454.9,75.8 458.9,75.6 462.9,76.6 466.9,76.0 470.9,75.9 474.9,75.6 478.9,75.9 482.9,75.4 487.0,75.5 491.0,76.1 495.0,76.8 499.0,78.2 503.0,78.7" fill="none" stroke="#1a2c88" stroke-width="0.85" stroke-opacity="0.9"/>
<polyline points="326.5,126.6 330.5,126.3 334.5,126.2 338.5,125.7 342.5,125.3 346.6,124.9 350.6,124.6 354.6,124.3 358.6,124.1 362.6,123.9 366.6,123.9 370.6,123.5 374.6,123.1 378.6,122.9 382.7,122.8 386.7,122.2 390.7,121.7 394.7,121.1 398.7,120.9 402.7,121.0 406.7,120.8 410.7,121.0 414.8,120.7 418.8,120.7 422.8,120.8 426.8,120.7 430.8,119.9 434.8,119.2 438.8,117.6 442.8,116.2 446.8,114.4 450.9,113.8 454.9,112.7 458.9,110.6 462.9,109.5 466.9,109.0 470.9,108.3 474.9,109.1 478.9,110.1 482.9,110.6 487.0,110.2 491.0,107.6 495.0,106.3 499.0,106.2 503.0,105.5" fill="none" stroke="#1a2c88" stroke-width="0.85" stroke-opacity="0.9"/>
<polyline points="326.5,108.9 330.5,108.1 334.5,107.2 338.5,106.4 342.5,105.7 346.6,105.1 350.6,104.5 354.6,103.9 358.6,103.3 362.6,102.8 366.6,102.2 370.6,101.4 374.6,100.5 378.6,99.4 382.7,98.3 386.7,97.4 390.7,96.6 394.7,95.8 398.7,95.1 402.7,94.3 406.7,93.7 410.7,93.3 414.8,93.0 418.8,93.1 422.8,92.7 426.8,92.1 430.8,92.2 434.8,92.0 438.8,91.8 442.8,91.2 446.8,91.1 450.9,90.5 454.9,89.3 458.9,88.3 462.9,87.1 466.9,86.6 470.9,85.8 474.9,85.1 478.9,84.3 482.9,83.7 487.0,82.6 491.0,82.5 495.0,81.0 499.0,79.5 503.0,77.7" fill="none" stroke="#1a2c88" stroke-width="0.85" stroke-opacity="0.9"/>
<polyline points="326.5,113.1 330.5,112.4 334.5,111.8 338.5,111.1 342.5,110.3 346.6,109.5 350.6,108.7 354.6,107.9 358.6,107.2 362.6,106.5 366.6,106.0 370.6,105.3 374.6,104.6 378.6,103.7 382.7,102.8 386.7,102.1 390.7,101.9 394.7,101.5 398.7,101.4 402.7,101.6 406.7,101.2 410.7,101.0 414.8,101.0 418.8,101.2 422.8,101.0 426.8,101.1 430.8,100.6 434.8,100.0 438.8,99.4 442.8,99.6 446.8,99.3 450.9,99.4 454.9,99.2 458.9,98.4 462.9,97.8 466.9,97.6 470.9,96.7 474.9,96.3 478.9,95.3 482.9,93.8 487.0,92.8 491.0,91.7 495.0,89.9 499.0,87.2 503.0,85.4" fill="none" stroke="#1a2c88" stroke-width="0.85" stroke-opacity="0.9"/>
<polyline points="326.5,89.7 330.5,88.9 334.5,88.0 338.5,87.1 342.5,86.2 346.6,85.3 350.6,84.5 354.6,83.6 358.6,82.7 362.6,81.9 366.6,81.2 370.6,80.5 374.6,79.7 378.6,78.8 382.7,78.1 386.7,77.6 390.7,76.8 394.7,76.2 398.7,75.5 402.7,74.8 406.7,73.6 410.7,73.1 414.8,71.9 418.8,70.9 422.8,69.8 426.8,69.3 430.8,68.4 434.8,67.6 438.8,67.0 442.8,66.6 446.8,65.7 450.9,65.2 454.9,64.8 458.9,64.8 462.9,64.1 466.9,63.3 470.9,62.3 474.9,60.7 478.9,59.6 482.9,58.9 487.0,59.3 491.0,58.9 495.0,58.6 499.0,59.1 503.0,58.9" fill="none" stroke="#1a2c88" stroke-width="0.85" stroke-opacity="0.9"/>
<polyline points="326.5,125.8 330.5,124.9 334.5,123.9 338.5,122.9 342.5,122.0 346.6,121.0 350.6,120.1 354.6,119.1 358.6,118.1 362.6,117.2 366.6,116.2 370.6,115.1 374.6,114.2 378.6,113.5 382.7,113.1 386.7,112.3 390.7,111.6 394.7,110.6 398.7,109.8 402.7,108.8 406.7,107.9 410.7,107.4 414.8,106.8 418.8,106.0 422.8,105.2 426.8,104.4 430.8,103.4 434.8,102.4 438.8,101.8 442.8,101.8 446.8,100.3 450.9,98.5 454.9,96.3 458.9,95.1 462.9,95.5 466.9,95.5 470.9,95.2 474.9,95.4 478.9,93.4 482.9,91.7 487.0,87.9 491.0,85.4 495.0,83.1 499.0,80.9 503.0,79.6" fill="none" stroke="#1a2c88" stroke-width="0.85" stroke-opacity="0.9"/>
<polyline points="326.5,128.8 330.5,128.6 334.5,128.3 338.5,128.1 342.5,128.0 346.6,127.8 350.6,127.7 354.6,127.4 358.6,127.3 362.6,127.2 366.6,127.1 370.6,127.0 374.6,127.2 378.6,127.4 382.7,127.4 386.7,127.3 390.7,127.3 394.7,126.9 398.7,126.4 402.7,126.1 406.7,126.0 410.7,126.4 414.8,127.1 418.8,127.5 422.8,127.8 426.8,127.4 430.8,126.9 434.8,126.6 438.8,126.3 442.8,126.0 446.8,126.0 450.9,125.4 454.9,124.6 458.9,123.0 462.9,122.6 466.9,121.6 470.9,119.8 474.9,119.1 478.9,118.4 482.9,118.6 487.0,118.3 491.0,119.7 495.0,121.0 499.0,121.8 503.0,122.3" fill="none" stroke="#1a2c88" stroke-width="0.85" stroke-opacity="0.9"/>
<polyline points="326.5,132.4 330.5,131.4 334.5,130.5 338.5,129.5 342.5,128.4 346.6,127.4 350.6,126.4 354.6,125.3 358.6,124.1 362.6,122.9 366.6,121.8 370.6,120.8 374.6,119.6 378.6,118.3 382.7,117.3 386.7,115.8 390.7,114.6 394.7,113.4 398.7,112.8 402.7,112.3 406.7,111.4 410.7,110.3 414.8,109.2 418.8,107.8 422.8,106.6 426.8,105.8 430.8,104.3 434.8,102.9 438.8,102.3 442.8,101.9 446.8,100.8 450.9,99.3 454.9,97.5 458.9,95.1 462.9,94.0 466.9,92.9 470.9,91.3 474.9,89.0 478.9,87.0 482.9,84.9 487.0,84.6 491.0,83.6 495.0,82.7 499.0,82.6 503.0,82.7" fill="none" stroke="#1a2c88" stroke-width="0.85" stroke-opacity="0.9"/>
<polyline points="326.5,84.0 330.5,82.9 334.5,82.0 338.5,81.2 342.5,80.2 346.6,79.3 350.6,78.3 354.6,77.2 358.6,76.1 362.6,75.1 366.6,74.2 370.6,73.3 374.6,72.5 378.6,71.8 382.7,71.0 386.7,70.0 390.7,69.2 394.7,68.6 398.7,68.0 402.7,67.6 406.7,66.9 410.7,65.8 414.8,65.2 418.8,64.3 422.8,63.4 426.8,62.5 430.8,61.6 434.8,60.5 438.8,59.3 442.8,57.3 446.8,56.8 450.9,56.2 454.9,54.4 458.9,52.4 462.9,50.2 466.9,48.1 470.9,44.8 474.9,42.8 478.9,42.4 482.9,41.6 487.0,41.4 491.0,41.3 495.0,39.9 499.0,39.7 503.0,37.8" fill="none" stroke="#1a2c88" stroke-width="0.85" stroke-opacity="0.9"/>
<polyline points="326.5,105.9 330.5,105.1 334.5,104.4 338.5,103.8 342.5,103.1 346.6,102.3 350.6,101.5 354.6,100.8 358.6,100.2 362.6,99.7 366.6,99.2 370.6,98.6 374.6,97.9 378.6,97.5 382.7,97.0 386.7,96.4 390.7,96.2 394.7,96.1 398.7,95.9 402.7,95.5 406.7,94.8 410.7,94.4 414.8,93.7 418.8,93.4 422.8,92.6 426.8,91.8 430.8,91.3 434.8,90.7 438.8,90.2 442.8,89.8 446.8,88.7 450.9,87.2 454.9,85.9 458.9,85.9 462.9,85.5 466.9,84.4 470.9,83.0 474.9,81.9 478.9,81.8 482.9,81.1 487.0,80.7 491.0,80.4 495.0,79.6 499.0,78.1 503.0,76.7" fill="none" stroke="#1a2c88" stroke-width="0.85" stroke-opacity="0.9"/>
<polyline points="326.5,110.1 330.5,109.4 334.5,108.6 338.5,107.9 342.5,107.2 346.6,106.5 350.6,106.0 354.6,105.4 358.6,104.6 362.6,103.8 366.6,103.1 370.6,102.3 374.6,101.4 378.6,100.6 382.7,99.9 386.7,99.1 390.7,98.3 394.7,97.4 398.7,96.4 402.7,95.5 406.7,95.0 410.7,93.9 414.8,92.8 418.8,92.4 422.8,92.0 426.8,91.6 430.8,91.3 434.8,90.5 438.8,89.1 442.8,87.2 446.8,85.1 450.9,83.6 454.9,82.9 458.9,81.9 462.9,80.7 466.9,79.9 470.9,79.5 474.9,79.1 478.9,77.3 482.9,75.5 487.0,72.3 491.0,70.2 495.0,68.0 499.0,65.8 503.0,65.5" fill="none" stroke="#1a2c88" stroke-width="0.85" stroke-opacity="0.9"/>
<polyline points="326.5,105.0 330.5,104.4 334.5,103.8 338.5,103.2 342.5,102.6 346.6,101.9 350.6,101.4 354.6,100.8 358.6,100.1 362.6,99.4 366.6,98.9 370.6,98.4 374.6,97.7 378.6,97.1 382.7,96.3 386.7,95.4 390.7,94.6 394.7,93.7 398.7,93.2 402.7,92.7 406.7,91.9 410.7,91.3 414.8,90.5 418.8,89.5 422.8,88.5 426.8,88.1 430.8,87.4 434.8,86.0 438.8,84.5 442.8,83.8 446.8,84.1 450.9,83.5 454.9,82.7 458.9,81.8 462.9,80.1 466.9,79.1 470.9,78.3 474.9,77.6 478.9,78.6 482.9,78.7 487.0,79.1 491.0,79.7 495.0,79.3 499.0,78.3 503.0,78.8" fill="none" stroke="#1a2c88" stroke-width="0.85" stroke-opacity="0.9"/>
<polyline points="326.5,120.5 330.5,119.9 334.5,119.3 338.5,118.7 342.5,118.2 346.6,117.8 350.6,117.4 354.6,117.1 358.6,116.6 362.6,116.2 366.6,115.5 370.6,115.0 374.6,114.4 378.6,114.0 382.7,113.7 386.7,113.3 390.7,112.7 394.7,112.3 398.7,112.2 402.7,111.7 406.7,111.3 410.7,111.0 414.8,110.7 418.8,110.5 422.8,110.0 426.8,109.5 430.8,109.6 434.8,110.2 438.8,109.7 442.8,107.9 446.8,106.9 450.9,105.6 454.9,104.4 458.9,102.5 462.9,101.3 466.9,100.3 470.9,99.1 474.9,98.8 478.9,100.0 482.9,101.6 487.0,103.2 491.0,103.6 495.0,104.1 499.0,104.1 503.0,104.9" fill="none" stroke="#1a2c88" stroke-width="0.85" stroke-opacity="0.9"/>
<polyline points="326.5,137.1 330.5,136.3 334.5,135.6 338.5,134.7 342.5,133.9 346.6,133.3 350.6,132.5 354.6,131.8 358.6,130.8 362.6,130.0 366.6,129.4 370.6,128.5 374.6,127.9 378.6,127.2 382.7,126.2 386.7,125.0 390.7,124.1 394.7,123.2 398.7,122.6 402.7,121.4 406.7,120.4 410.7,119.8 414.8,118.9 418.8,118.2 422.8,117.3 426.8,116.6 430.8,116.0 434.8,116.3 438.8,115.5 442.8,115.1 446.8,115.2 450.9,114.3 454.9,113.5 458.9,114.0 462.9,114.6 466.9,112.8 470.9,111.3 474.9,108.9 478.9,107.3 482.9,105.5 487.0,103.7 491.0,101.6 495.0,100.3 499.0,98.8 503.0,96.8" fill="none" stroke="#1a2c88" stroke-width="0.85" stroke-opacity="0.9"/>
<polyline points="326.5,132.5 330.5,131.9 334.5,131.3 338.5,130.8 342.5,130.1 346.6,129.5 350.6,128.9 354.6,128.4 358.6,127.8 362.6,127.2 366.6,126.4 370.6,126.0 374.6,125.6 378.6,124.9 382.7,124.2 386.7,123.4 390.7,123.0 394.7,122.6 398.7,121.7 402.7,120.9 406.7,120.5 410.7,120.0 414.8,119.6 418.8,119.1 422.8,118.7 426.8,118.3 430.8,117.5 434.8,117.0 438.8,116.5 442.8,115.9 446.8,115.0 450.9,113.7 454.9,112.9 458.9,112.6 462.9,110.8 466.9,109.1 470.9,108.7 474.9,108.9 478.9,108.3 482.9,108.6 487.0,107.9 491.0,106.6 495.0,107.2 499.0,106.9 503.0,106.3" fill="none" stroke="#1a2c88" stroke-width="0.85" stroke-opacity="0.9"/>
<polyline points="326.5,101.2 330.5,100.0 334.5,98.9 338.5,97.7 342.5,96.5 346.6,95.5 350.6,94.4 354.6,93.3 358.6,92.2 362.6,91.2 366.6,90.4 370.6,89.4 374.6,88.7 378.6,88.1 382.7,87.7 386.7,87.0 390.7,85.9 394.7,85.0 398.7,83.9 402.7,82.9 406.7,81.4 410.7,80.0 414.8,78.8 418.8,77.4 422.8,76.2 426.8,75.7 430.8,75.1 434.8,74.1 438.8,74.1 442.8,72.7 446.8,71.0 450.9,69.8 454.9,68.3 458.9,65.8 462.9,64.0 466.9,63.0 470.9,61.5 474.9,61.2 478.9,60.9 482.9,61.2 487.0,59.8 491.0,58.6 495.0,58.8 499.0,60.1 503.0,61.7" fill="none" stroke="#1a2c88" stroke-width="0.85" stroke-opacity="0.9"/>
<polyline points="326.5,108.3 330.5,107.6 334.5,106.8 338.5,106.1 342.5,105.4 346.6,104.7 350.6,103.8 354.6,102.8 358.6,102.1 362.6,101.4 366.6,100.7 370.6,99.7 374.6,98.8 378.6,98.4 382.7,97.5 386.7,96.2 390.7,95.2 394.7,94.1 398.7,93.1 402.7,91.9 406.7,90.5 410.7,89.0 414.8,88.0 418.8,87.1 422.8,86.6 426.8,85.6 430.8,84.9 434.8,84.0 438.8,83.3 442.8,83.0 446.8,82.5 450.9,81.8 454.9,80.1 458.9,78.9 462.9,78.3 466.9,77.3 470.9,76.4 474.9,74.3 478.9,71.9 482.9,70.4 487.0,70.3 491.0,69.6 495.0,67.6 499.0,65.8 503.0,63.0" fill="none" stroke="#1a2c88" stroke-width="0.85" stroke-opacity="0.9"/>
<polyline points="326.5,129.1 330.5,128.3 334.5,127.5 338.5,126.6 342.5,125.8 346.6,124.9 350.6,124.1 354.6,123.2 358.6,122.3 362.6,121.3 366.6,120.4 370.6,119.6 374.6,118.4 378.6,116.9 382.7,115.4 386.7,114.4 390.7,113.5 394.7,112.7 398.7,112.1 402.7,111.5 406.7,110.7 410.7,109.6 414.8,108.7 418.8,108.0 422.8,107.4 426.8,106.9 430.8,105.9 434.8,105.5 438.8,105.1 442.8,105.0 446.8,103.3 450.9,102.4 454.9,100.2 458.9,98.6 462.9,96.9 466.9,95.6 470.9,94.1 474.9,92.7 478.9,91.6 482.9,90.8 487.0,89.4 491.0,86.1 495.0,83.2 499.0,81.5 503.0,79.4" fill="none" stroke="#1a2c88" stroke-width="0.85" stroke-opacity="0.9"/>
<polyline points="326.5,123.1 330.5,122.2 334.5,121.3 338.5,120.5 342.5,119.7 346.6,119.0 350.6,118.1 354.6,117.4 358.6,116.4 362.6,115.4 366.6,114.6 370.6,113.9 374.6,113.0 378.6,112.0 382.7,111.2 386.7,110.0 390.7,108.8 394.7,107.7 398.7,106.1 402.7,104.9 406.7,104.1 410.7,103.6 414.8,102.5 418.8,101.0 422.8,99.5 426.8,97.7 430.8,97.1 434.8,96.0 438.8,94.8 442.8,93.9 446.8,93.2 450.9,93.2 454.9,92.2 458.9,91.8 462.9,91.3 466.9,89.9 470.9,88.9 474.9,86.9 478.9,86.5 482.9,85.4 487.0,85.2 491.0,85.7 495.0,85.2 499.0,83.7 503.0,82.6" fill="none" stroke="#1a2c88" stroke-width="0.85" stroke-opacity="0.9"/>
<polyline points="326.5,113.6 330.5,112.8 334.5,112.0 338.5,111.2 342.5,110.3 346.6,109.5 350.6,108.6 354.6,107.9 358.6,107.1 362.6,106.2 366.6,105.3 370.6,104.6 374.6,104.0 378.6,103.6 382.7,103.1 386.7,102.5 390.7,102.2 394.7,101.9 398.7,101.5 402.7,101.1 406.7,100.7 410.7,100.3 414.8,99.6 418.8,98.4 422.8,98.0 426.8,97.0 430.8,95.2 434.8,93.5 438.8,93.0 442.8,93.0 446.8,92.3 450.9,91.8 454.9,91.1 458.9,89.2 462.9,87.6 466.9,86.5 470.9,86.2 474.9,84.9 478.9,82.3 482.9,79.2 487.0,77.2 491.0,75.8 495.0,74.8 499.0,73.9 503.0,72.8" fill="none" stroke="#1a2c88" stroke-width="0.85" stroke-opacity="0.9"/>
<polyline points="326.5,117.1 330.5,116.6 334.5,116.1 338.5,115.6 342.5,115.2 346.6,114.6 350.6,113.8 354.6,113.0 358.6,112.5 362.6,111.9 366.6,111.3 370.6,110.8 374.6,110.4 378.6,110.5 382.7,110.2 386.7,109.8 390.7,109.2 394.7,108.7 398.7,108.4 402.7,107.6 406.7,107.4 410.7,107.4 414.8,107.3 418.8,107.0 422.8,106.5 426.8,105.4 430.8,104.8 434.8,103.7 438.8,102.7 442.8,102.3 446.8,101.4 450.9,100.4 454.9,100.0 458.9,100.7 462.9,100.4 466.9,100.8 470.9,100.3 474.9,100.1 478.9,100.1 482.9,99.1 487.0,99.0 491.0,100.2 495.0,100.7 499.0,101.1 503.0,100.0" fill="none" stroke="#1a2c88" stroke-width="0.85" stroke-opacity="0.9"/>
<polyline points="326.5,122.7 330.5,122.0 334.5,121.1 338.5,120.3 342.5,119.4 346.6,118.5 350.6,117.4 354.6,116.6 358.6,116.0 362.6,115.3 366.6,114.4 370.6,113.5 374.6,112.6 378.6,111.7 382.7,111.2 386.7,110.4 390.7,109.6 394.7,108.5 398.7,107.8 402.7,107.1 406.7,106.1 410.7,105.7 414.8,105.1 418.8,104.9 422.8,104.8 426.8,105.1 430.8,104.6 434.8,104.1 438.8,103.6 442.8,102.8 446.8,102.9 450.9,102.2 454.9,102.0 458.9,102.4 462.9,101.1 466.9,99.4 470.9,97.4 474.9,95.6 478.9,94.4 482.9,93.3 487.0,92.3 491.0,91.0 495.0,89.9 499.0,89.3 503.0,89.3" fill="none" stroke="#1a2c88" stroke-width="0.85" stroke-opacity="0.9"/>
<polyline points="326.5,101.9 330.5,101.2 334.5,100.4 338.5,99.7 342.5,98.9 346.6,98.2 350.6,97.6 354.6,97.0 358.6,96.2 362.6,95.5 366.6,94.6 370.6,93.7 374.6,93.1 378.6,93.0 382.7,92.5 386.7,91.7 390.7,91.0 394.7,90.5 398.7,89.6 402.7,88.2 406.7,87.2 410.7,85.8 414.8,85.1 418.8,84.3 422.8,83.5 426.8,82.8 430.8,81.9 434.8,81.0 438.8,80.1 442.8,79.8 446.8,79.4 450.9,78.8 454.9,77.9 458.9,76.8 462.9,75.4 466.9,74.2 470.9,74.5 474.9,75.2 478.9,75.5 482.9,76.6 487.0,77.8 491.0,78.4 495.0,78.4 499.0,77.2 503.0,76.4" fill="none" stroke="#1a2c88" stroke-width="0.85" stroke-opacity="0.9"/>
<polyline points="326.5,98.3 330.5,97.5 334.5,96.7 338.5,96.0 342.5,95.4 346.6,94.8 350.6,94.1 354.6,93.4 358.6,92.8 362.6,92.2 366.6,91.6 370.6,91.0 374.6,90.6 378.6,89.9 382.7,89.3 386.7,88.5 390.7,87.9 394.7,87.1 398.7,86.7 402.7,86.0 406.7,85.7 410.7,85.2 414.8,84.4 418.8,83.2 422.8,82.5 426.8,81.5 430.8,81.4 434.8,81.6 438.8,81.6 442.8,80.7 446.8,79.9 450.9,78.7 454.9,76.7 458.9,75.5 462.9,75.8 466.9,75.4 470.9,75.4 474.9,76.0 478.9,75.4 482.9,74.5 487.0,73.9 491.0,73.7 495.0,72.3 499.0,71.4 503.0,70.5" fill="none" stroke="#1a2c88" stroke-width="0.85" stroke-opacity="0.9"/>
<polyline points="326.5,131.7 330.5,131.1 334.5,130.4 338.5,129.7 342.5,129.1 346.6,128.5 350.6,127.9 354.6,127.6 358.6,127.1 362.6,126.7 366.6,126.3 370.6,126.0 374.6,125.6 378.6,124.9 382.7,124.3 386.7,123.8 390.7,123.3 394.7,122.9 398.7,122.6 402.7,121.9 406.7,121.0 410.7,120.7 414.8,120.1 418.8,119.0 422.8,118.7 426.8,118.0 430.8,117.0 434.8,116.6 438.8,115.6 442.8,114.3 446.8,113.9 450.9,112.9 454.9,113.5 458.9,113.7 462.9,115.2 466.9,116.0 470.9,116.2 474.9,115.7 478.9,115.0 482.9,114.0 487.0,113.1 491.0,113.0 495.0,111.6 499.0,109.8 503.0,106.6" fill="none" stroke="#1a2c88" stroke-width="0.85" stroke-opacity="0.9"/>
<polyline points="326.5,98.3 330.5,97.4 334.5,96.5 338.5,95.6 342.5,94.7 346.6,93.8 350.6,93.0 354.6,92.1 358.6,91.2 362.6,90.3 366.6,89.1 370.6,88.1 374.6,86.9 378.6,85.7 382.7,84.6 386.7,83.7 390.7,82.9 394.7,82.4 398.7,82.3 402.7,82.2 406.7,81.7 410.7,81.6 414.8,81.0 418.8,80.1 422.8,79.6 426.8,78.9 430.8,78.0 434.8,76.9 438.8,76.5 442.8,74.7 446.8,73.9 450.9,73.6 454.9,73.0 458.9,72.6 462.9,71.4 466.9,70.9 470.9,72.3 474.9,72.2 478.9,72.7 482.9,72.6 487.0,71.9 491.0,70.7 495.0,69.4 499.0,67.2 503.0,64.3" fill="none" stroke="#1a2c88" stroke-width="0.85" stroke-opacity="0.9"/>
<polyline points="326.5,126.8 330.5,125.8 334.5,124.9 338.5,123.9 342.5,123.0 346.6,121.8 350.6,120.7 354.6,119.6 358.6,118.7 362.6,117.6 366.6,116.4 370.6,115.1 374.6,114.1 378.6,113.1 382.7,112.1 386.7,110.9 390.7,109.9 394.7,108.9 398.7,107.7 402.7,106.6 406.7,105.4 410.7,104.5 414.8,103.8 418.8,102.7 422.8,101.9 426.8,101.0 430.8,99.7 434.8,98.2 438.8,96.1 442.8,93.8 446.8,92.3 450.9,91.6 454.9,90.4 458.9,89.3 462.9,88.5 466.9,88.1 470.9,87.7 474.9,87.9 478.9,88.2 482.9,87.4 487.0,86.8 491.0,84.1 495.0,82.0 499.0,80.3 503.0,79.4" fill="none" stroke="#1a2c88" stroke-width="0.85" stroke-opacity="0.9"/>
<polyline points="326.5,109.8 330.5,109.2 334.5,108.6 338.5,107.9 342.5,107.2 346.6,106.5 350.6,105.8 354.6,105.2 358.6,104.6 362.6,103.8 366.6,103.2 370.6,102.7 374.6,102.3 378.6,101.9 382.7,101.3 386.7,100.7 390.7,100.1 394.7,99.1 398.7,98.0 402.7,97.1 406.7,96.1 410.7,94.9 414.8,93.9 418.8,92.9 422.8,92.0 426.8,91.1 430.8,90.4 434.8,90.2 438.8,89.8 442.8,89.5 446.8,88.4 450.9,85.9 454.9,83.9 458.9,82.8 462.9,81.7 466.9,80.3 470.9,78.4 474.9,77.6 478.9,76.5 482.9,75.7 487.0,75.8 491.0,76.0 495.0,77.7 499.0,78.4 503.0,79.3" fill="none" stroke="#1a2c88" stroke-width="0.85" stroke-opacity="0.9"/>
<polyline points="326.5,131.0 330.5,130.1 334.5,129.3 338.5,128.3 342.5,127.3 346.6,126.4 350.6,125.5 354.6,124.7 358.6,123.8 362.6,122.8 366.6,121.9 370.6,120.9 374.6,120.0 378.6,119.0 382.7,117.8 386.7,116.2 390.7,114.6 394.7,113.6 398.7,112.8 402.7,112.0 406.7,111.0 410.7,110.1 414.8,109.2 418.8,107.9 422.8,106.4 426.8,104.9 430.8,104.1 434.8,102.8 438.8,102.2 442.8,101.3 446.8,101.8 450.9,101.7 454.9,101.3 458.9,101.4 462.9,101.7 466.9,102.2 470.9,101.3 474.9,101.3 478.9,102.1 482.9,102.2 487.0,101.5 491.0,99.8 495.0,99.3 499.0,98.9 503.0,98.4" fill="none" stroke="#1a2c88" stroke-width="0.85" stroke-opacity="0.9"/>
<polyline points="326.5,111.6 330.5,110.8 334.5,110.0 338.5,109.2 342.5,108.5 346.6,107.6 350.6,106.9 354.6,105.9 358.6,105.2 362.6,104.4 366.6,103.7 370.6,102.9 374.6,102.2 378.6,101.6 382.7,100.7 386.7,99.8 390.7,98.8 394.7,98.0 398.7,97.1 402.7,96.0 406.7,95.0 410.7,94.4 414.8,93.4 418.8,92.4 422.8,91.3 426.8,90.1 430.8,88.8 434.8,87.5 438.8,86.5 442.8,84.8 446.8,83.6 450.9,81.8 454.9,80.5 458.9,80.6 462.9,79.8 466.9,78.9 470.9,77.9 474.9,77.6 478.9,76.7 482.9,74.5 487.0,71.6 491.0,69.7 495.0,68.4 499.0,68.2 503.0,67.2" fill="none" stroke="#1a2c88" stroke-width="0.85" stroke-opacity="0.9"/>
<polyline points="326.5,117.5 330.5,116.3 334.5,115.3 338.5,114.2 342.5,113.1 346.6,112.0 350.6,111.0 354.6,110.0 358.6,108.7 362.6,107.4 366.6,106.0 370.6,104.7 374.6,103.6 378.6,102.4 382.7,101.3 386.7,100.5 390.7,99.5 394.7,98.1 398.7,96.3 402.7,94.8 406.7,93.3 410.7,91.9 414.8,90.7 418.8,89.7 422.8,88.1 426.8,86.3 430.8,84.8 434.8,83.5 438.8,82.7 442.8,81.6 446.8,79.4 450.9,78.3 454.9,76.3 458.9,74.1 462.9,72.5 466.9,70.5 470.9,70.5 474.9,70.2 478.9,70.0 482.9,69.1 487.0,69.8 491.0,70.2 495.0,69.4 499.0,69.6 503.0,67.8" fill="none" stroke="#1a2c88" stroke-width="0.85" stroke-opacity="0.9"/>
<polyline points="326.5,96.4 330.5,95.8 334.5,95.1 338.5,94.5 342.5,93.9 346.6,93.5 350.6,92.9 354.6,92.3 358.6,91.6 362.6,90.9 366.6,90.4 370.6,89.8 374.6,89.2 378.6,88.6 382.7,87.8 386.7,87.3 390.7,86.6 394.7,86.2 398.7,85.6 402.7,84.9 406.7,84.7 410.7,84.3 414.8,83.7 418.8,82.8 422.8,82.3 426.8,82.5 430.8,82.6 434.8,82.2 438.8,81.2 442.8,80.1 446.8,79.1 450.9,78.3 454.9,77.3 458.9,77.2 462.9,76.2 466.9,75.0 470.9,74.3 474.9,74.0 478.9,73.3 482.9,73.3 487.0,72.0 491.0,72.3 495.0,74.0 499.0,76.4 503.0,77.8" fill="none" stroke="#1a2c88" stroke-width="0.85" stroke-opacity="0.9"/>
<polyline points="326.5,103.7 330.5,103.1 334.5,102.6 338.5,102.0 342.5,101.3 346.6,100.7 350.6,99.9 354.6,99.1 358.6,98.6 362.6,97.6 366.6,96.8 370.6,96.2 374.6,95.6 378.6,95.0 382.7,94.6 386.7,94.2 390.7,93.3 394.7,92.2 398.7,91.2 402.7,90.4 406.7,89.5 410.7,88.6 414.8,88.4 418.8,86.9 422.8,86.2 426.8,85.9 430.8,85.7 434.8,85.3 438.8,84.8 442.8,84.4 446.8,84.0 450.9,83.1 454.9,82.7 458.9,81.8 462.9,80.9 466.9,79.8 470.9,78.2 474.9,77.3 478.9,76.5 482.9,74.9 487.0,73.6 491.0,71.4 495.0,71.0 499.0,70.9 503.0,72.4" fill="none" stroke="#1a2c88" stroke-width="0.85" stroke-opacity="0.9"/>
<polyline points="326.5,113.0 330.5,112.0 334.5,110.9 338.5,109.8 342.5,108.7 346.6,107.7 350.6,106.7 354.6,105.7 358.6,104.8 362.6,104.0 366.6,103.0 370.6,101.9 374.6,100.7 378.6,99.9 382.7,98.9 386.7,98.1 390.7,97.4 394.7,96.5 398.7,95.4 402.7,94.5 406.7,93.2 410.7,91.7 414.8,90.1 418.8,88.8 422.8,87.7 426.8,87.3 430.8,85.9 434.8,84.9 438.8,83.3 442.8,82.5 446.8,82.0 450.9,81.3 454.9,81.3 458.9,80.7 462.9,79.6 466.9,77.9 470.9,76.0 474.9,74.6 478.9,73.7 482.9,73.8 487.0,73.2 491.0,71.9 495.0,70.4 499.0,68.7 503.0,66.9" fill="none" stroke="#1a2c88" stroke-width="0.85" stroke-opacity="0.9"/>
<polyline points="326.5,109.0 330.5,108.3 334.5,107.7 338.5,107.1 342.5,106.4 346.6,105.7 350.6,105.1 354.6,104.5 358.6,104.0 362.6,103.4 366.6,102.6 370.6,101.8 374.6,100.8 378.6,99.9 382.7,99.1 386.7,98.0 390.7,97.2 394.7,96.2 398.7,95.2 402.7,94.1 406.7,93.5 410.7,93.5 414.8,93.1 418.8,92.5 422.8,91.8 426.8,91.1 430.8,90.4 434.8,90.7 438.8,90.3 442.8,89.7 446.8,88.7 450.9,88.1 454.9,87.2 458.9,86.7 462.9,85.6 466.9,86.0 470.9,86.1 474.9,84.8 478.9,84.3 482.9,83.4 487.0,81.7 491.0,80.8 495.0,79.7 499.0,79.3 503.0,78.4" fill="none" stroke="#1a2c88" stroke-width="0.85" stroke-opacity="0.9"/>
<polyline points="326.5,118.3 330.5,117.3 334.5,116.3 338.5,115.3 342.5,114.2 346.6,113.2 350.6,112.1 354.6,111.2 358.6,110.2 362.6,109.4 366.6,108.8 370.6,107.8 374.6,107.0 378.6,106.0 382.7,105.1 386.7,104.0 390.7,103.3 394.7,102.2 398.7,101.1 402.7,99.9 406.7,99.3 410.7,98.9 414.8,97.8 418.8,96.6 422.8,95.6 426.8,94.4 430.8,93.1 434.8,91.5 438.8,90.2 442.8,88.5 446.8,87.4 450.9,87.7 454.9,87.2 458.9,87.5 462.9,87.4 466.9,86.6 470.9,85.4 474.9,83.6 478.9,82.3 482.9,81.5 487.0,81.4 491.0,80.6 495.0,78.8 499.0,77.3 503.0,77.4" fill="none" stroke="#1a2c88" stroke-width="0.85" stroke-opacity="0.9"/>
<polyline points="326.5,115.8 330.5,115.0 334.5,114.1 338.5,113.2 342.5,112.3 346.6,111.5 350.6,110.7 354.6,109.9 358.6,109.0 362.6,108.1 366.6,107.2 370.6,106.5 374.6,105.7 378.6,104.6 382.7,103.6 386.7,102.8 390.7,102.3 394.7,101.5 398.7,101.0 402.7,100.6 406.7,100.2 410.7,99.4 414.8,98.3 418.8,97.0 422.8,96.3 426.8,95.6 430.8,95.3 434.8,95.6 438.8,95.5 442.8,95.0 446.8,95.4 450.9,94.7 454.9,93.7 458.9,92.5 462.9,91.3 466.9,90.4 470.9,88.9 474.9,88.5 478.9,87.0 482.9,85.2 487.0,82.6 491.0,79.5 495.0,77.9 499.0,77.1 503.0,76.2" fill="none" stroke="#1a2c88" stroke-width="0.85" stroke-opacity="0.9"/>
<polyline points="326.5,121.5 330.5,120.7 334.5,119.9 338.5,119.1 342.5,118.2 346.6,117.6 350.6,116.8 354.6,116.1 358.6,115.4 362.6,114.8 366.6,114.1 370.6,113.6 374.6,112.7 378.6,111.8 382.7,110.6 386.7,109.5 390.7,109.1 394.7,108.5 398.7,107.9 402.7,107.2 406.7,106.6 410.7,105.4 414.8,104.2 418.8,103.0 422.8,102.1 426.8,100.8 430.8,99.7 434.8,98.4 438.8,96.7 442.8,95.0 446.8,93.3 450.9,92.4 454.9,92.2 458.9,92.1 462.9,91.6 466.9,90.6 470.9,88.7 474.9,86.8 478.9,86.5 482.9,86.8 487.0,86.8 491.0,86.3 495.0,85.7 499.0,85.3 503.0,84.8" fill="none" stroke="#1a2c88" stroke-width="0.85" stroke-opacity="0.9"/>
<polyline points="326.5,94.5 330.5,93.8 334.5,93.1 338.5,92.4 342.5,91.8 346.6,91.0 350.6,90.4 354.6,89.8 358.6,89.1 362.6,88.4 366.6,87.7 370.6,87.0 374.6,86.4 378.6,85.6 382.7,84.6 386.7,83.9 390.7,83.1 394.7,82.8 398.7,82.5 402.7,81.5 406.7,80.9 410.7,80.1 414.8,79.6 418.8,79.7 422.8,79.9 426.8,79.4 430.8,78.7 434.8,77.4 438.8,76.6 442.8,76.2 446.8,75.1 450.9,74.4 454.9,74.3 458.9,74.4 462.9,73.8 466.9,72.7 470.9,71.1 474.9,69.0 478.9,67.7 482.9,66.6 487.0,66.7 491.0,66.7 495.0,66.2 499.0,64.4 503.0,64.4" fill="none" stroke="#1a2c88" stroke-width="0.85" stroke-opacity="0.9"/>
<polyline points="326.5,116.0 330.5,115.2 334.5,114.3 338.5,113.3 342.5,112.5 346.6,111.5 350.6,110.7 354.6,109.9 358.6,109.1 362.6,108.1 366.6,107.2 370.6,106.5 374.6,105.7 378.6,104.6 382.7,103.8 386.7,103.1 390.7,102.1 394.7,101.5 398.7,100.8 402.7,100.1 406.7,99.3 410.7,98.2 414.8,97.3 418.8,96.1 422.8,94.4 426.8,92.9 430.8,92.1 434.8,91.8 438.8,92.3 442.8,92.7 446.8,93.4 450.9,93.6 454.9,93.2 458.9,92.9 462.9,91.8 466.9,91.3 470.9,90.3 474.9,89.6 478.9,88.3 482.9,87.0 487.0,86.7 491.0,86.0 495.0,84.7 499.0,83.8 503.0,83.7" fill="none" stroke="#1a2c88" stroke-width="0.85" stroke-opacity="0.9"/>
<polyline points="326.5,105.2 330.5,104.7 334.5,104.0 338.5,103.4 342.5,102.9 346.6,102.3 350.6,101.9 354.6,101.5 358.6,101.1 362.6,100.8 366.6,100.3 370.6,99.6 374.6,99.0 378.6,98.5 382.7,98.1 386.7,97.5 390.7,96.8 394.7,96.7 398.7,96.3 402.7,95.8 406.7,95.8 410.7,95.4 414.8,95.1 418.8,94.0 422.8,93.4 426.8,92.6 430.8,92.5 434.8,92.2 438.8,91.7 442.8,91.4 446.8,90.9 450.9,90.1 454.9,90.3 458.9,90.8 462.9,90.9 466.9,91.3 470.9,91.9 474.9,92.5 478.9,92.6 482.9,92.6 487.0,92.7 491.0,93.0 495.0,93.3 499.0,92.8 503.0,92.2" fill="none" stroke="#1a2c88" stroke-width="0.85" stroke-opacity="0.9"/>
<polyline points="326.5,84.6 330.5,83.8 334.5,83.0 338.5,82.3 342.5,81.5 346.6,80.7 350.6,80.0 354.6,79.1 358.6,78.5 362.6,77.7 366.6,76.7 370.6,75.6 374.6,74.7 378.6,73.9 382.7,73.0 386.7,71.9 390.7,70.9 394.7,69.8 398.7,68.7 402.7,67.7 406.7,66.6 410.7,65.7 414.8,64.6 418.8,63.5 422.8,62.4 426.8,62.1 430.8,62.2 434.8,62.3 438.8,61.8 442.8,61.1 446.8,60.9 450.9,60.9 454.9,59.7 458.9,58.6 462.9,57.2 466.9,56.5 470.9,56.2 474.9,55.4 478.9,56.1 482.9,56.0 487.0,57.5 491.0,58.0 495.0,57.9 499.0,59.0 503.0,59.0" fill="none" stroke="#1a2c88" stroke-width="0.85" stroke-opacity="0.9"/>
<polyline points="326.5,96.0 330.5,95.4 334.5,94.8 338.5,94.2 342.5,93.5 346.6,92.9 350.6,92.4 354.6,91.9 358.6,91.4 362.6,90.7 366.6,90.0 370.6,89.1 374.6,88.3 378.6,87.8 382.7,87.4 386.7,87.1 390.7,86.8 394.7,86.1 398.7,85.1 402.7,84.4 406.7,83.8 410.7,83.5 414.8,82.9 418.8,82.0 422.8,81.4 426.8,80.5 430.8,79.1 434.8,77.7 438.8,76.2 442.8,74.5 446.8,73.0 450.9,72.3 454.9,72.9 458.9,73.9 462.9,74.1 466.9,74.6 470.9,74.6 474.9,74.6 478.9,73.9 482.9,73.2 487.0,71.2 491.0,71.2 495.0,70.3 499.0,70.0 503.0,69.1" fill="none" stroke="#1a2c88" stroke-width="0.85" stroke-opacity="0.9"/>
<polyline points="326.5,124.6 330.5,123.8 334.5,122.9 338.5,122.1 342.5,121.4 346.6,120.4 350.6,119.6 354.6,118.7 358.6,117.8 362.6,117.0 366.6,116.2 370.6,115.3 374.6,114.4 378.6,113.6 382.7,113.0 386.7,112.5 390.7,112.0 394.7,111.8 398.7,111.2 402.7,110.9 406.7,110.4 410.7,109.9 414.8,109.3 418.8,108.7 422.8,107.6 426.8,106.8 430.8,106.8 434.8,106.5 438.8,106.1 442.8,105.5 446.8,105.1 450.9,104.5 454.9,103.8 458.9,103.2 462.9,103.3 466.9,103.6 470.9,102.8 474.9,101.5 478.9,100.5 482.9,100.1 487.0,100.3 491.0,100.0 495.0,101.2 499.0,101.4 503.0,102.5" fill="none" stroke="#1a2c88" stroke-width="0.85" stroke-opacity="0.9"/>
<polyline points="326.5,112.4 330.5,111.6 334.5,110.7 338.5,109.9 342.5,108.9 346.6,107.8 350.6,106.7 354.6,105.7 358.6,104.9 362.6,104.0 366.6,103.2 370.6,102.4 374.6,101.8 378.6,100.8 382.7,99.7 386.7,98.4 390.7,97.1 394.7,96.3 398.7,95.2 402.7,93.9 406.7,92.7 410.7,91.9 414.8,90.8 418.8,90.1 422.8,89.5 426.8,88.5 430.8,86.6 434.8,84.7 438.8,82.6 442.8,81.7 446.8,80.5 450.9,78.9 454.9,77.7 458.9,76.6 462.9,75.1 466.9,74.5 470.9,74.3 474.9,74.0 478.9,73.0 482.9,71.3 487.0,68.5 491.0,66.7 495.0,65.5 499.0,63.7 503.0,62.3" fill="none" stroke="#1a2c88" stroke-width="0.85" stroke-opacity="0.9"/>
<polyline points="326.5,119.1 330.5,118.2 334.5,117.3 338.5,116.3 342.5,115.4 346.6,114.4 350.6,113.5 354.6,112.6 358.6,111.8 362.6,111.0 366.6,110.3 370.6,109.6 374.6,108.4 378.6,107.6 382.7,106.4 386.7,105.6 390.7,104.7 394.7,103.5 398.7,102.5 402.7,101.7 406.7,100.6 410.7,99.6 414.8,98.4 418.8,97.0 422.8,95.5 426.8,94.8 430.8,94.2 434.8,93.5 438.8,92.7 442.8,91.9 446.8,91.2 450.9,90.5 454.9,88.8 458.9,88.0 462.9,86.6 466.9,83.8 470.9,82.2 474.9,80.1 478.9,78.4 482.9,77.0 487.0,75.3 491.0,74.3 495.0,73.2 499.0,71.9 503.0,69.9" fill="none" stroke="#1a2c88" stroke-width="0.85" stroke-opacity="0.9"/>
<polyline points="326.5,142.8 330.5,141.9 334.5,141.1 338.5,140.4 342.5,139.7 346.6,139.0 350.6,138.1 354.6,137.4 358.6,136.7 362.6,136.3 366.6,135.4 370.6,134.5 374.6,133.6 378.6,133.0 382.7,132.0 386.7,131.1 390.7,130.7 394.7,130.4 398.7,129.4 402.7,128.5 406.7,128.0 410.7,127.2 414.8,126.5 418.8,125.9 422.8,124.7 426.8,123.4 430.8,122.7 434.8,122.5 438.8,121.8 442.8,121.6 446.8,120.8 450.9,120.1 454.9,119.4 458.9,117.9 462.9,116.9 466.9,115.8 470.9,113.0 474.9,110.5 478.9,108.1 482.9,105.7 487.0,103.3 491.0,100.9 495.0,97.3 499.0,95.5 503.0,94.2" fill="none" stroke="#1a2c88" stroke-width="0.85" stroke-opacity="0.9"/>
<polyline points="326.5,140.9 330.5,140.1 334.5,139.2 338.5,138.4 342.5,137.5 346.6,136.5 350.6,135.5 354.6,134.7 358.6,134.0 362.6,133.4 366.6,132.5 370.6,131.6 374.6,130.6 378.6,129.9 382.7,129.5 386.7,128.8 390.7,128.2 394.7,127.5 398.7,126.5 402.7,125.5 406.7,124.3 410.7,123.7 414.8,123.2 418.8,123.0 422.8,122.6 426.8,121.2 430.8,120.3 434.8,119.5 438.8,117.6 442.8,116.2 446.8,115.5 450.9,115.7 454.9,114.8 458.9,114.5 462.9,114.1 466.9,113.5 470.9,112.6 474.9,112.0 478.9,111.8 482.9,111.8 487.0,111.2 491.0,109.4 495.0,109.1 499.0,109.7 503.0,109.2" fill="none" stroke="#1a2c88" stroke-width="0.85" stroke-opacity="0.9"/>
<polyline points="326.5,101.9 330.5,101.3 334.5,100.6 338.5,99.9 342.5,99.4 346.6,98.9 350.6,98.2 354.6,97.8 358.6,97.3 362.6,96.7 366.6,96.1 370.6,95.4 374.6,94.5 378.6,93.5 382.7,92.3 386.7,91.5 390.7,90.8 394.7,90.4 398.7,89.3 402.7,88.3 406.7,87.8 410.7,87.0 414.8,85.7 418.8,84.4 422.8,83.2 426.8,82.2 430.8,81.9 434.8,82.0 438.8,82.5 442.8,82.8 446.8,82.5 450.9,81.7 454.9,80.3 458.9,79.8 462.9,80.0 466.9,80.0 470.9,79.1 474.9,78.8 478.9,78.6 482.9,78.4 487.0,77.1 491.0,76.3 495.0,75.1 499.0,74.7 503.0,74.8" fill="none" stroke="#1a2c88" stroke-width="0.85" stroke-opacity="0.9"/>
<polyline points="326.5,68.8 330.5,67.7 334.5,66.7 338.5,65.7 342.5,64.8 346.6,63.8 350.6,62.9 354.6,61.9 358.6,60.8 362.6,59.5 366.6,58.2 370.6,57.1 374.6,56.1 378.6,55.1 382.7,54.0 386.7,53.3 390.7,52.3 394.7,51.0 398.7,49.4 402.7,48.0 406.7,46.9 410.7,45.9 414.8,44.9 418.8,44.0 422.8,43.1 426.8,41.9 430.8,40.6 434.8,39.6 438.8,39.0 442.8,37.7 446.8,36.1 450.9,34.8 454.9,34.5 458.9,33.4 462.9,31.7 466.9,30.4 470.9,29.5 474.9,28.2 478.9,26.9 482.9,26.1 487.0,24.0 491.0,22.4 495.0,21.3 499.0,20.9 503.0,21.0" fill="none" stroke="#2b3f9e" stroke-width="0.8" stroke-opacity="0.85"/>
<polyline points="326.5,79.4 330.5,78.5 334.5,77.7 338.5,76.9 342.5,76.0 346.6,75.3 350.6,74.5 354.6,73.7 358.6,72.7 362.6,71.7 366.6,70.7 370.6,69.7 374.6,68.7 378.6,67.6 382.7,66.7 386.7,66.1 390.7,65.3 394.7,64.6 398.7,63.7 402.7,63.0 406.7,62.2 410.7,61.7 414.8,60.9 418.8,60.3 422.8,59.3 426.8,58.5 430.8,57.7 434.8,57.2 438.8,56.0 442.8,54.5 446.8,53.7 450.9,53.1 454.9,53.1 458.9,52.3 462.9,51.6 466.9,51.2 470.9,51.4 474.9,51.2 478.9,50.5 482.9,50.2 487.0,49.6 491.0,48.4 495.0,47.9 499.0,45.9 503.0,43.7" fill="none" stroke="#2b3f9e" stroke-width="0.8" stroke-opacity="0.85"/>
<polyline points="326.5,83.1 330.5,82.3 334.5,81.5 338.5,80.7 342.5,80.0 346.6,79.2 350.6,78.4 354.6,77.5 358.6,76.8 362.6,76.0 366.6,75.2 370.6,74.4 374.6,73.8 378.6,73.4 382.7,72.7 386.7,71.8 390.7,70.9 394.7,70.1 398.7,69.1 402.7,68.5 406.7,67.2 410.7,66.3 414.8,65.3 418.8,64.3 422.8,63.5 426.8,62.8 430.8,61.7 434.8,61.3 438.8,60.9 442.8,60.1 446.8,59.5 450.9,58.3 454.9,56.7 458.9,55.3 462.9,54.3 466.9,53.5 470.9,52.2 474.9,50.4 478.9,48.1 482.9,47.3 487.0,46.7 491.0,45.6 495.0,45.3 499.0,45.2 503.0,44.5" fill="none" stroke="#2b3f9e" stroke-width="0.8" stroke-opacity="0.85"/>
<polyline points="326.5,86.0 330.5,85.2 334.5,84.4 338.5,83.8 342.5,83.0 346.6,82.3 350.6,81.4 354.6,80.5 358.6,79.7 362.6,78.9 366.6,78.2 370.6,77.5 374.6,76.6 378.6,75.7 382.7,74.7 386.7,73.9 390.7,72.9 394.7,71.8 398.7,70.7 402.7,69.6 406.7,68.5 410.7,67.9 414.8,67.2 418.8,66.0 422.8,64.9 426.8,64.2 430.8,63.6 434.8,63.0 438.8,63.0 442.8,63.1 446.8,62.9 450.9,62.9 454.9,62.1 458.9,61.2 462.9,59.9 466.9,58.9 470.9,58.8 474.9,58.2 478.9,58.3 482.9,57.5 487.0,57.5 491.0,56.2 495.0,54.5 499.0,53.9 503.0,53.1" fill="none" stroke="#2b3f9e" stroke-width="0.8" stroke-opacity="0.85"/>
<circle cx="326.50" cy="113.30" r="3.00" fill="#111" />
<circle cx="367.32" cy="105.67" r="3.00" fill="#111" />
<circle cx="391.20" cy="101.20" r="3.00" fill="#111" />
<circle cx="408.14" cy="98.04" r="3.00" fill="#111" />
<circle cx="421.28" cy="95.58" r="3.00" fill="#111" />
<circle cx="432.02" cy="93.57" r="3.00" fill="#111" />
<circle cx="441.10" cy="91.87" r="3.00" fill="#111" />
<circle cx="448.96" cy="90.40" r="3.00" fill="#111" />
<circle cx="455.90" cy="89.11" r="3.00" fill="#111" />
<circle cx="462.10" cy="87.95" r="3.00" fill="#111" />
<circle cx="467.71" cy="86.90" r="3.00" fill="#111" />
<circle cx="472.84" cy="85.94" r="3.00" fill="#111" />
<circle cx="477.55" cy="85.06" r="3.00" fill="#111" />
<circle cx="481.91" cy="84.24" r="3.00" fill="#111" />
<circle cx="485.98" cy="83.48" r="3.00" fill="#111" />
<circle cx="489.78" cy="82.77" r="3.00" fill="#111" />
<circle cx="493.35" cy="82.10" r="3.00" fill="#111" />
<circle cx="496.71" cy="81.48" r="3.00" fill="#111" />
<circle cx="499.90" cy="80.88" r="3.00" fill="#111" />
<circle cx="502.92" cy="80.32" r="3.00" fill="#111" />
<line x1="326.50" y1="114.20" x2="503.50" y2="81.00" stroke="#d2202f" stroke-width="1.9" />
</g>
<rect x="317.50" y="14.50" width="195.50" height="150.70" fill="none" stroke="#111" stroke-width="1.2"/>
<line x1="314.00" y1="160.60" x2="317.50" y2="160.60" stroke="#111" stroke-width="0.8" />
<line x1="315.50" y1="147.02" x2="317.50" y2="147.02" stroke="#111" stroke-width="0.8" />
<line x1="315.50" y1="139.08" x2="317.50" y2="139.08" stroke="#111" stroke-width="0.8" />
<line x1="315.50" y1="133.45" x2="317.50" y2="133.45" stroke="#111" stroke-width="0.8" />
<line x1="315.50" y1="129.08" x2="317.50" y2="129.08" stroke="#111" stroke-width="0.8" />
<line x1="315.50" y1="125.51" x2="317.50" y2="125.51" stroke="#111" stroke-width="0.8" />
<line x1="315.50" y1="122.49" x2="317.50" y2="122.49" stroke="#111" stroke-width="0.8" />
<line x1="315.50" y1="119.87" x2="317.50" y2="119.87" stroke="#111" stroke-width="0.8" />
<line x1="315.50" y1="117.56" x2="317.50" y2="117.56" stroke="#111" stroke-width="0.8" />
<line x1="314.00" y1="115.50" x2="317.50" y2="115.50" stroke="#111" stroke-width="0.8" />
<line x1="315.50" y1="105.51" x2="317.50" y2="105.51" stroke="#111" stroke-width="0.8" />
<line x1="315.50" y1="99.66" x2="317.50" y2="99.66" stroke="#111" stroke-width="0.8" />
<line x1="315.50" y1="95.51" x2="317.50" y2="95.51" stroke="#111" stroke-width="0.8" />
<line x1="315.50" y1="92.29" x2="317.50" y2="92.29" stroke="#111" stroke-width="0.8" />
<line x1="315.50" y1="89.67" x2="317.50" y2="89.67" stroke="#111" stroke-width="0.8" />
<line x1="315.50" y1="87.44" x2="317.50" y2="87.44" stroke="#111" stroke-width="0.8" />
<line x1="315.50" y1="85.52" x2="317.50" y2="85.52" stroke="#111" stroke-width="0.8" />
<line x1="315.50" y1="83.82" x2="317.50" y2="83.82" stroke="#111" stroke-width="0.8" />
<line x1="314.00" y1="82.30" x2="317.50" y2="82.30" stroke="#111" stroke-width="0.8" />
<line x1="315.50" y1="70.59" x2="317.50" y2="70.59" stroke="#111" stroke-width="0.8" />
<line x1="315.50" y1="63.74" x2="317.50" y2="63.74" stroke="#111" stroke-width="0.8" />
<line x1="315.50" y1="58.88" x2="317.50" y2="58.88" stroke="#111" stroke-width="0.8" />
<line x1="315.50" y1="55.11" x2="317.50" y2="55.11" stroke="#111" stroke-width="0.8" />
<line x1="315.50" y1="52.03" x2="317.50" y2="52.03" stroke="#111" stroke-width="0.8" />
<line x1="315.50" y1="49.43" x2="317.50" y2="49.43" stroke="#111" stroke-width="0.8" />
<line x1="315.50" y1="47.17" x2="317.50" y2="47.17" stroke="#111" stroke-width="0.8" />
<line x1="315.50" y1="45.18" x2="317.50" y2="45.18" stroke="#111" stroke-width="0.8" />
<line x1="314.00" y1="43.40" x2="317.50" y2="43.40" stroke="#111" stroke-width="0.8" />
<line x1="315.50" y1="31.78" x2="317.50" y2="31.78" stroke="#111" stroke-width="0.8" />
<line x1="315.50" y1="24.98" x2="317.50" y2="24.98" stroke="#111" stroke-width="0.8" />
<line x1="315.50" y1="20.16" x2="317.50" y2="20.16" stroke="#111" stroke-width="0.8" />
<line x1="315.50" y1="16.42" x2="317.50" y2="16.42" stroke="#111" stroke-width="0.8" />
<line x1="326.50" y1="165.20" x2="326.50" y2="167.20" stroke="#111" stroke-width="0.8" />
<line x1="343.44" y1="165.20" x2="343.44" y2="167.20" stroke="#111" stroke-width="0.8" />
<line x1="356.58" y1="165.20" x2="356.58" y2="167.20" stroke="#111" stroke-width="0.8" />
<line x1="367.32" y1="165.20" x2="367.32" y2="167.20" stroke="#111" stroke-width="0.8" />
<line x1="376.40" y1="165.20" x2="376.40" y2="167.20" stroke="#111" stroke-width="0.8" />
<line x1="384.26" y1="165.20" x2="384.26" y2="167.20" stroke="#111" stroke-width="0.8" />
<line x1="391.20" y1="165.20" x2="391.20" y2="167.20" stroke="#111" stroke-width="0.8" />
<line x1="397.40" y1="165.20" x2="397.40" y2="168.70" stroke="#111" stroke-width="0.8" />
<line x1="438.22" y1="165.20" x2="438.22" y2="167.20" stroke="#111" stroke-width="0.8" />
<line x1="462.10" y1="165.20" x2="462.10" y2="167.20" stroke="#111" stroke-width="0.8" />
<line x1="479.04" y1="165.20" x2="479.04" y2="167.20" stroke="#111" stroke-width="0.8" />
<line x1="492.18" y1="165.20" x2="492.18" y2="167.20" stroke="#111" stroke-width="0.8" />
<line x1="502.92" y1="165.20" x2="502.92" y2="167.20" stroke="#111" stroke-width="0.8" />
<text x="306.4" y="164.0" font-size="6.7" text-anchor="end" fill="#1a1a1a">10</text><text x="306.6" y="160.6" font-size="4.8" fill="#1a1a1a">1</text>
<text x="306.4" y="118.9" font-size="6.7" text-anchor="end" fill="#1a1a1a">10</text><text x="306.6" y="115.5" font-size="4.8" fill="#1a1a1a">2</text>
<text x="306.4" y="85.7" font-size="6.7" text-anchor="end" fill="#1a1a1a">10</text><text x="306.6" y="82.3" font-size="4.8" fill="#1a1a1a">3</text>
<text x="306.4" y="46.8" font-size="6.7" text-anchor="end" fill="#1a1a1a">10</text><text x="306.6" y="43.4" font-size="4.8" fill="#1a1a1a">4</text>
<text x="392.5" y="178.6" font-size="6.8" fill="#1a1a1a">10</text><text x="400.2" y="175.3" font-size="4.8" fill="#1a1a1a">1</text>
<text x="398" y="189.5" font-size="9.4" fill="#1a1a1a" textLength="34" lengthAdjust="spacingAndGlyphs">Time (mins)</text>
<text transform="translate(293.3,81) rotate(-90)" x="0" y="0" font-size="9.2" text-anchor="middle" fill="#1a1a1a" textLength="45" lengthAdjust="spacingAndGlyphs">TAMSD (<tspan font-style="italic">μm</tspan><tspan dy="-2.8" font-size="5.5">2</tspan><tspan dy="2.8">)</tspan></text>
<rect x="321.4" y="17.8" width="71.2" height="23.9" rx="2" fill="#fff" fill-opacity="0.9" stroke="#d4d4d4" stroke-width="0.8"/>
<line x1="323.40" y1="24.50" x2="338.00" y2="24.50" stroke="#e0a07c" stroke-width="1.3" />
<line x1="323.40" y1="34.80" x2="338.00" y2="34.80" stroke="#8494d0" stroke-width="1.3" />
<text x="341.1" y="26.6" font-size="7.2" fill="#1a1a1a" textLength="44.6" lengthAdjust="spacingAndGlyphs">Nonexplorative</text>
<text x="341.1" y="37.4" font-size="7.2" fill="#1a1a1a" textLength="32.3" lengthAdjust="spacingAndGlyphs">Explorative</text>
<text x="6.40" y="207.10" font-size="11.5" text-anchor="start" font-weight="bold" fill="#000" >F</text>
<text x="77.70" y="222.60" font-size="8.7" text-anchor="middle" fill="#1a1a1a" >Explorative cells</text>
<rect x="56.60" y="316.00" width="42.20" height="47.00" fill="#e08c98" />
<line x1="34.00" y1="229.30" x2="34.00" y2="363.50" stroke="#1e1e1e" stroke-width="1.1" />
<line x1="33.50" y1="363.00" x2="109.00" y2="363.00" stroke="#1e1e1e" stroke-width="1.1" />
<line x1="31.00" y1="363.00" x2="34.00" y2="363.00" stroke="#1e1e1e" stroke-width="1" />
<text x="27.90" y="365.80" font-size="8" text-anchor="end" fill="#1a1a1a" >0</text>
<line x1="31.00" y1="319.70" x2="34.00" y2="319.70" stroke="#1e1e1e" stroke-width="1" />
<text x="27.90" y="322.50" font-size="8" text-anchor="end" fill="#1a1a1a" >10</text>
<line x1="31.00" y1="276.40" x2="34.00" y2="276.40" stroke="#1e1e1e" stroke-width="1" />
<text x="27.90" y="279.20" font-size="8" text-anchor="end" fill="#1a1a1a" >20</text>
<line x1="31.00" y1="233.30" x2="34.00" y2="233.30" stroke="#1e1e1e" stroke-width="1" />
<text x="27.90" y="236.10" font-size="8" text-anchor="end" fill="#1a1a1a" >30</text>
<line x1="77.30" y1="363.00" x2="77.30" y2="366.00" stroke="#1e1e1e" stroke-width="1" />
<line x1="77.30" y1="307.90" x2="77.30" y2="324.70" stroke="#222" stroke-width="1.1" />
<line x1="70.80" y1="307.90" x2="83.80" y2="307.90" stroke="#222" stroke-width="1.1" />
<line x1="70.80" y1="324.70" x2="83.80" y2="324.70" stroke="#222" stroke-width="1.1" />
<circle cx="77.30" cy="250.70" r="1.60" fill="#c8102e" />
<circle cx="77.30" cy="300.40" r="1.60" fill="#c8102e" />
<circle cx="77.30" cy="306.00" r="1.60" fill="#c8102e" />
<circle cx="77.30" cy="314.80" r="1.60" fill="#c8102e" />
<circle cx="73.10" cy="323.00" r="1.60" fill="#c8102e" />
<circle cx="81.40" cy="320.30" r="1.60" fill="#c8102e" />
<circle cx="73.10" cy="331.60" r="1.60" fill="#c8102e" />
<circle cx="81.40" cy="330.00" r="1.60" fill="#c8102e" />
<circle cx="73.10" cy="342.40" r="1.60" fill="#c8102e" />
<circle cx="81.40" cy="341.30" r="1.60" fill="#c8102e" />
<text transform="translate(13.6,299.5) rotate(-90)" x="0" y="0" font-size="10.2" text-anchor="middle" fill="#1a1a1a" textLength="73" lengthAdjust="spacingAndGlyphs">Frequency exp cells/ Fow</text>
<text x="133.60" y="207.20" font-size="11.5" text-anchor="start" font-weight="bold" fill="#000" >G</text>
<text x="189.80" y="207.20" font-size="7.94" text-anchor="start" fill="#1a1a1a" >CX3CR1 in vivo staining</text>
<defs><clipPath id="cg"><rect x="142" y="213.5" width="181" height="183.2"/></clipPath><filter id="b06" x="-50%" y="-50%" width="200%" height="200%"><feGaussianBlur stdDeviation="0.6"/></filter><filter id="b12" x="-50%" y="-50%" width="200%" height="200%"><feGaussianBlur stdDeviation="1.2"/></filter></defs>
<rect x="142.00" y="213.50" width="181.00" height="183.20" fill="#030303" />
<g clip-path="url(#cg)">
<g filter="url(#b4)">
<circle cx="180.00" cy="365.00" r="16.00" fill="#6a0c10" fill-opacity="0.7"/>
<circle cx="200.00" cy="380.00" r="14.00" fill="#5a0a0c" fill-opacity="0.7"/>
<circle cx="170.00" cy="385.00" r="10.00" fill="#50080a" fill-opacity="0.6"/>
<circle cx="240.00" cy="300.00" r="20.00" fill="#3a0808" fill-opacity="0.6"/>
<circle cx="260.00" cy="260.00" r="18.00" fill="#062a30" fill-opacity="0.6"/>
<circle cx="290.00" cy="240.00" r="16.00" fill="#06282c" fill-opacity="0.5"/>
<circle cx="215.00" cy="330.00" r="18.00" fill="#3a0a0c" fill-opacity="0.6"/>
<circle cx="250.00" cy="330.00" r="14.00" fill="#08282c" fill-opacity="0.5"/>
<circle cx="300.00" cy="380.00" r="12.00" fill="#2a0608" fill-opacity="0.5"/>
<circle cx="300.00" cy="230.00" r="10.00" fill="#062226" fill-opacity="0.5"/>
<circle cx="210.00" cy="232.00" r="6.00" fill="#2a0506" fill-opacity="0.35"/>
</g>
<defs><radialGradient id="gcy" gradientUnits="userSpaceOnUse" cx="262" cy="285" r="95"><stop offset="0" stop-color="#fff" stop-opacity="1"/><stop offset="0.7" stop-color="#fff" stop-opacity="0.85"/><stop offset="1" stop-color="#fff" stop-opacity="0.45"/></radialGradient><radialGradient id="grd" gradientUnits="userSpaceOnUse" cx="222" cy="315" r="90"><stop offset="0" stop-color="#fff" stop-opacity="1"/><stop offset="0.6" stop-color="#fff" stop-opacity="0.8"/><stop offset="1" stop-color="#fff" stop-opacity="0.25"/></radialGradient><filter id="tcy" filterUnits="userSpaceOnUse" x="142" y="213" width="182" height="184" color-interpolation-filters="sRGB"><feTurbulence type="fractalNoise" baseFrequency="0.05" numOctaves="2" seed="2" result="n1"/><feColorMatrix in="n1" type="matrix" values="0 0 0 0 1  0 0 0 0 1  0 0 0 0 1  6 0 0 0 -2.6" result="m1"/><feTurbulence type="fractalNoise" baseFrequency="0.3" numOctaves="1" seed="4" result="n2"/><feColorMatrix in="n2" type="matrix" values="0 0 0 0 0.22  0 0 0 0 0.8  0 0 0 0 0.84  5 0 0 0 -2.4" result="m2"/><feComposite in="m2" in2="m1" operator="in" result="m3"/><feComposite in="m3" in2="SourceGraphic" operator="in" result="m4"/><feGaussianBlur in="m4" stdDeviation="0.85"/></filter><filter id="trd" filterUnits="userSpaceOnUse" x="142" y="213" width="182" height="184" color-interpolation-filters="sRGB"><feTurbulence type="fractalNoise" baseFrequency="0.05" numOctaves="2" seed="7" result="n1"/><feColorMatrix in="n1" type="matrix" values="0 0 0 0 1  0 0 0 0 1  0 0 0 0 1  6 0 0 0 -2.7" result="m1"/><feTurbulence type="fractalNoise" baseFrequency="0.13" numOctaves="2" seed="9" result="n2"/><feColorMatrix in="n2" type="matrix" values="0 0 0 0 0.88  0 0 0 0 0.13  0 0 0 0 0.16  0 9 0 0 -4.4" result="m2"/><feComposite in="m2" in2="m1" operator="in" result="m3"/><feComposite in="m3" in2="SourceGraphic" operator="in" result="m4"/><feGaussianBlur in="m4" stdDeviation="0.85"/></filter></defs>
<clipPath id="ctis"><path d="M224.0,213.5 L228.5,224.0 L229.5,236.0 L226.0,244.5 L218.0,254.0 L206.0,268.5 L194.0,282.0 L182.0,292.5 L170.0,300.5 L163.0,310.0 L159.5,322.0 L158.5,338.0 L160.5,352.0 L164.0,364.0 L166.3,378.0 L164.0,386.5 L156.0,389.3 L146.0,390.0 L142.0,390.5 L142.0,396.7 L210.5,396.7 L211.0,386.0 L214.5,376.0 L221.0,369.6 L235.0,359.5 L251.0,349.4 L267.0,339.3 L279.4,329.2 L289.5,317.0 L299.6,305.5 L307.7,298.0 L315.0,295.0 L323.0,292.5 L323.0,213.5 Z"/></clipPath>
<filter id="bm" x="-50%" y="-50%" width="200%" height="200%"><feGaussianBlur stdDeviation="9"/></filter>
<g clip-path="url(#ctis)"><g filter="url(#trd)"><g filter="url(#bm)"><ellipse cx="226" cy="312" rx="30" ry="78" fill="#fff" transform="rotate(26 226 312)"/><ellipse cx="262" cy="262" rx="18" ry="14" fill="#fff" fill-opacity="0.6"/></g></g></g>
<g clip-path="url(#ctis)"><g filter="url(#tcy)"><g filter="url(#bm)"><ellipse cx="278" cy="250" rx="42" ry="34" fill="#fff"/><ellipse cx="232" cy="315" rx="40" ry="70" fill="#fff" transform="rotate(26 232 315)"/><ellipse cx="190" cy="362" rx="18" ry="26" fill="#fff" fill-opacity="0.9"/><ellipse cx="300" cy="310" rx="16" ry="14" fill="#fff" fill-opacity="0.6"/></g></g></g>
<path d="M265.5,396.7 L267.5,380.0 L271.0,369.0 L279.0,360.5 L291.6,354.7 L307.7,351.2 L323.0,346.5 L323.0,396.7 Z" fill="#fff" fill-opacity="0.22" filter="url(#tcy)"/>
<path d="M265.5,396.7 L267.5,380.0 L271.0,369.0 L279.0,360.5 L291.6,354.7 L307.7,351.2 L323.0,346.5 L323.0,396.7 Z" fill="#fff" fill-opacity="0.12" filter="url(#trd)"/>
<g filter="url(#b12)">
<path d="M240.2,261.9 C239.9,262.5 239.1,264.6 238.6,265.3 C238.1,266.0 237.6,266.2 237.0,266.2 C236.4,266.2 235.8,266.0 235.2,265.3 C234.6,264.5 233.5,262.6 233.4,261.7 C233.3,260.8 234.3,260.8 234.8,260.1 C235.3,259.4 235.6,257.3 236.3,257.3 C236.9,257.3 238.0,259.4 238.7,260.2 C239.3,261.0 239.9,261.6 240.2,261.9Z" fill="#e8282c"/>
<path d="M229.4,280.0 C229.0,280.3 227.8,281.5 227.0,281.7 C226.2,281.9 225.4,281.4 224.5,281.3 C223.6,281.1 222.5,281.0 221.8,280.7 C221.1,280.4 220.7,280.0 220.5,279.4 C220.2,278.9 219.9,278.0 220.4,277.3 C221.0,276.6 222.7,275.1 223.8,275.0 C225.0,274.8 226.4,275.6 227.3,276.5 C228.2,277.3 229.0,279.4 229.4,280.0Z" fill="#f0302e"/>
<path d="M237.7,286.0 C237.4,286.3 236.9,287.1 236.1,287.7 C235.3,288.3 233.8,289.6 232.9,289.6 C232.1,289.7 231.2,288.4 230.9,287.9 C230.7,287.3 231.1,286.7 231.3,286.2 C231.5,285.7 231.6,285.2 232.1,284.7 C232.6,284.2 233.7,283.4 234.4,283.4 C235.1,283.3 236.0,284.0 236.5,284.5 C237.1,284.9 237.5,285.7 237.7,286.0Z" fill="#e0262a"/>
<path d="M215.4,283.7 C215.2,283.7 214.7,283.7 214.0,284.0 C213.3,284.3 212.1,285.3 211.4,285.4 C210.7,285.4 210.1,284.5 209.7,284.2 C209.3,283.9 208.9,284.0 209.0,283.6 C209.1,283.1 210.1,281.8 210.5,281.3 C210.9,280.9 210.8,280.8 211.5,280.8 C212.2,280.9 214.2,281.0 214.8,281.5 C215.5,282.0 215.3,283.3 215.4,283.7Z" fill="#d02026"/>
<path d="M276.2,269.5 C276.0,269.8 275.9,270.8 275.2,271.4 C274.4,271.9 272.8,272.5 271.7,272.7 C270.7,272.8 269.8,272.6 269.0,272.3 C268.2,271.9 267.1,271.3 266.9,270.6 C266.8,269.9 267.3,268.5 268.0,267.9 C268.8,267.3 270.3,266.8 271.4,266.8 C272.6,266.8 273.9,267.2 274.7,267.7 C275.5,268.1 276.0,269.2 276.2,269.5Z" fill="#f0302e"/>
<path d="M240.3,290.8 C240.1,291.0 240.2,291.9 239.6,292.2 C239.0,292.6 237.9,292.7 236.8,292.6 C235.8,292.6 234.2,292.1 233.4,291.8 C232.6,291.5 232.0,291.3 232.1,290.7 C232.3,290.2 233.4,289.1 234.1,288.6 C234.9,288.0 236.2,287.5 236.8,287.5 C237.4,287.5 237.4,287.8 237.9,288.4 C238.5,288.9 239.9,290.4 240.3,290.8Z" fill="#e02a2a"/>
<path d="M265.9,299.9 C265.8,300.4 265.8,302.0 265.2,302.6 C264.6,303.2 263.3,303.6 262.2,303.5 C261.2,303.5 259.6,302.7 258.8,302.2 C258.0,301.7 257.2,301.0 257.3,300.5 C257.5,300.0 258.7,299.8 259.6,299.2 C260.5,298.6 262.2,297.1 262.9,297.0 C263.6,296.9 263.4,298.2 263.9,298.7 C264.4,299.2 265.6,299.7 265.9,299.9Z" fill="#e0282a"/>
<path d="M253.6,293.4 C253.5,293.6 253.6,294.5 252.9,294.8 C252.3,295.2 250.2,295.6 249.4,295.5 C248.7,295.4 249.1,294.6 248.5,294.3 C248.0,294.0 246.6,294.2 246.4,293.7 C246.2,293.2 246.9,292.0 247.4,291.4 C248.0,290.8 248.9,290.1 249.6,290.2 C250.3,290.2 251.2,291.1 251.8,291.6 C252.5,292.1 253.3,293.1 253.6,293.4Z" fill="#c82026"/>
<path d="M197.5,370.0 C197.2,370.4 196.4,371.5 195.5,372.4 C194.6,373.3 193.1,375.3 192.0,375.3 C191.0,375.4 189.7,373.8 189.1,372.9 C188.5,372.0 188.5,370.7 188.4,370.1 C188.4,369.4 188.1,369.4 188.7,369.0 C189.3,368.7 191.1,368.1 192.1,368.0 C193.1,367.8 193.8,367.5 194.7,367.9 C195.6,368.2 197.1,369.6 197.5,370.0Z" fill="#f03030"/>
<path d="M201.9,372.1 C202.0,372.8 203.2,375.1 202.6,375.9 C201.9,376.7 199.1,377.2 198.0,377.1 C196.9,377.0 196.2,375.9 195.9,375.2 C195.6,374.4 196.5,373.6 196.4,372.6 C196.2,371.6 194.4,370.0 194.9,368.9 C195.4,367.8 198.5,366.1 199.5,365.9 C200.5,365.7 200.7,366.6 201.1,367.6 C201.5,368.6 201.8,371.4 201.9,372.1Z" fill="#e02a2a"/>
<path d="M191.8,376.0 C191.7,376.4 191.9,377.9 191.4,378.4 C190.8,378.9 189.8,378.9 188.7,378.9 C187.6,378.8 185.5,378.7 184.7,378.2 C184.0,377.7 184.1,376.5 184.3,375.6 C184.4,374.8 184.9,373.6 185.5,373.1 C186.1,372.6 186.7,372.7 187.7,372.8 C188.7,373.0 190.7,373.5 191.4,374.1 C192.1,374.6 191.7,375.7 191.8,376.0Z" fill="#d82428"/>
<path d="M191.5,347.8 C191.1,348.3 190.0,350.3 189.3,350.9 C188.5,351.4 187.7,351.1 186.8,351.1 C185.9,351.0 184.6,350.8 184.0,350.4 C183.4,350.0 182.9,349.7 183.0,348.8 C183.1,347.8 183.8,345.1 184.6,344.5 C185.3,343.8 186.5,344.7 187.4,344.9 C188.3,345.2 189.5,345.4 190.1,345.8 C190.8,346.3 191.3,347.5 191.5,347.8Z" fill="#e02a2a"/>
<path d="M171.1,359.4 C171.0,359.6 170.9,360.4 170.6,360.7 C170.3,361.0 169.8,361.5 169.3,361.5 C168.8,361.5 168.1,361.0 167.7,360.6 C167.3,360.3 167.0,359.8 166.9,359.3 C166.8,358.8 166.9,357.9 167.2,357.7 C167.5,357.5 168.2,358.2 168.6,358.2 C169.1,358.2 169.7,357.7 170.1,357.9 C170.5,358.1 170.9,359.2 171.1,359.4Z" fill="#f03838"/>
<path d="M210.3,331.5 C210.2,332.0 210.1,333.8 209.7,334.4 C209.3,335.1 208.5,335.4 207.8,335.4 C207.1,335.3 205.9,334.7 205.3,334.2 C204.8,333.7 204.6,333.1 204.6,332.2 C204.5,331.3 204.6,329.4 205.2,328.9 C205.8,328.4 207.5,329.0 208.3,329.2 C209.1,329.4 209.5,329.7 209.9,330.1 C210.2,330.5 210.2,331.2 210.3,331.5Z" fill="#e02a2a"/>
<path d="M228.3,318.3 C228.1,318.8 228.0,320.9 227.3,321.6 C226.7,322.3 225.2,322.6 224.5,322.4 C223.9,322.3 223.8,321.2 223.4,320.6 C223.0,320.0 222.3,319.4 222.1,318.9 C222.0,318.3 222.0,317.7 222.5,317.2 C223.0,316.7 224.4,316.1 225.2,316.0 C226.1,315.8 227.1,315.8 227.6,316.1 C228.1,316.5 228.1,317.9 228.3,318.3Z" fill="#e02a2a"/>
<path d="M199.1,342.7 C198.9,342.7 198.6,342.9 198.0,343.1 C197.4,343.3 196.3,343.9 195.6,344.0 C194.8,344.1 193.9,344.2 193.3,343.9 C192.7,343.6 192.0,342.8 192.1,342.3 C192.2,341.8 193.2,341.2 193.8,340.9 C194.5,340.5 195.2,340.0 195.9,340.0 C196.7,340.0 197.7,340.2 198.3,340.6 C198.8,341.1 199.0,342.3 199.1,342.7Z" fill="#d02026"/>
<path d="M254.0,235.7 C254.0,236.0 254.2,237.2 253.8,237.7 C253.4,238.2 252.6,238.6 251.8,238.6 C251.0,238.6 249.4,238.3 249.0,237.8 C248.7,237.3 249.5,236.3 249.7,235.8 C249.9,235.3 250.1,235.0 250.4,234.7 C250.6,234.3 250.8,233.7 251.3,233.7 C251.9,233.8 253.3,234.5 253.8,234.8 C254.2,235.1 254.0,235.5 254.0,235.7Z" fill="#c01c22"/>
<path d="M246.0,275.7 C245.8,276.1 245.7,277.6 245.1,278.2 C244.6,278.8 243.6,279.3 242.8,279.3 C242.0,279.4 240.7,279.1 240.4,278.5 C240.0,277.9 240.5,276.4 240.6,275.6 C240.7,274.7 240.7,273.6 241.0,273.3 C241.3,272.9 241.5,273.2 242.4,273.3 C243.3,273.3 245.5,273.2 246.1,273.6 C246.7,274.0 246.0,275.4 246.0,275.7Z" fill="#e02a2a"/>
<path d="M220.0,299.8 C219.8,300.3 219.5,302.3 218.9,302.8 C218.3,303.3 217.0,302.9 216.4,302.7 C215.8,302.5 215.7,302.0 215.2,301.5 C214.8,301.0 213.7,300.3 213.6,299.6 C213.5,299.0 214.4,298.1 214.9,297.6 C215.4,297.0 215.6,296.4 216.5,296.5 C217.4,296.6 219.6,297.5 220.2,298.1 C220.8,298.6 220.0,299.5 220.0,299.8Z" fill="#d82428"/>
<path d="M258.4,287.1 C258.3,287.4 258.4,288.9 257.8,289.3 C257.1,289.7 255.3,289.5 254.5,289.5 C253.8,289.5 254.0,289.7 253.5,289.3 C253.0,288.9 251.7,287.5 251.7,286.9 C251.7,286.3 253.0,285.9 253.6,285.6 C254.2,285.3 254.8,284.9 255.3,285.0 C255.9,285.0 256.3,285.3 256.8,285.7 C257.3,286.0 258.1,286.8 258.4,287.1Z" fill="#d02428"/>
<path d="M232.4,261.7 C232.1,262.0 231.4,262.8 230.8,263.5 C230.3,264.2 229.7,265.7 229.0,265.8 C228.2,265.9 226.9,264.9 226.4,264.1 C225.9,263.4 226.0,262.0 226.2,261.3 C226.5,260.6 227.5,260.4 227.9,259.9 C228.3,259.5 228.1,258.8 228.6,258.7 C229.1,258.5 230.4,258.5 231.1,259.0 C231.7,259.5 232.1,261.2 232.4,261.7Z" fill="#d82428"/>
<path d="M185.8,372.2 C185.6,372.6 184.9,374.0 184.3,374.4 C183.7,374.8 183.4,374.7 182.3,374.6 C181.3,374.6 178.9,374.4 178.1,374.1 C177.3,373.7 177.1,373.3 177.4,372.5 C177.7,371.8 179.2,370.0 180.0,369.5 C180.8,369.1 181.3,369.6 182.1,369.7 C182.9,369.8 184.1,369.6 184.7,370.0 C185.4,370.4 185.7,371.8 185.8,372.2Z" fill="#e02a2a"/>
<path d="M197.3,385.1 C197.2,385.5 197.1,386.9 196.8,387.5 C196.4,388.0 195.9,388.5 195.2,388.4 C194.5,388.3 193.0,387.5 192.6,386.9 C192.2,386.3 192.6,385.4 192.6,384.8 C192.6,384.2 192.3,383.6 192.8,383.1 C193.4,382.5 195.3,381.5 196.0,381.5 C196.7,381.4 196.8,382.2 197.0,382.8 C197.3,383.4 197.3,384.7 197.3,385.1Z" fill="#d82428"/>
<path d="M285.7,255.5 C285.6,256.1 285.5,258.4 285.1,258.9 C284.7,259.4 283.7,258.6 283.0,258.5 C282.4,258.5 281.6,259.0 281.2,258.5 C280.8,258.0 280.8,256.2 280.9,255.5 C281.0,254.9 281.5,254.7 281.8,254.4 C282.1,254.1 282.1,253.7 282.6,253.7 C283.2,253.7 284.4,254.1 284.9,254.4 C285.5,254.7 285.6,255.3 285.7,255.5Z" fill="#d02428"/>
<path d="M302.5,261.8 C302.5,262.1 302.6,263.0 302.3,263.3 C301.9,263.7 301.0,264.1 300.4,264.1 C299.9,264.1 299.3,263.7 298.8,263.3 C298.4,263.0 297.8,262.4 297.7,262.0 C297.6,261.5 297.9,261.0 298.3,260.7 C298.7,260.4 299.5,260.4 300.0,260.4 C300.6,260.3 301.1,259.9 301.5,260.2 C302.0,260.4 302.4,261.6 302.5,261.8Z" fill="#c01c22"/>
<path d="M248.9,316.2 C248.7,316.6 248.3,318.1 247.7,318.5 C247.2,318.9 246.3,318.4 245.6,318.3 C244.8,318.3 243.7,318.6 243.3,318.1 C243.0,317.6 243.5,316.2 243.5,315.5 C243.5,314.8 242.9,314.2 243.2,313.7 C243.5,313.2 244.7,312.1 245.5,312.3 C246.2,312.5 247.2,314.1 247.8,314.8 C248.4,315.4 248.7,316.0 248.9,316.2Z" fill="#d02026"/>
<path d="M184.3,383.6 C184.0,383.9 183.0,384.7 182.2,385.1 C181.4,385.5 180.2,386.2 179.4,386.2 C178.6,386.2 178.3,385.4 177.7,385.1 C177.1,384.7 175.8,384.5 175.8,384.1 C175.7,383.8 176.6,383.5 177.4,383.0 C178.1,382.5 179.6,381.0 180.4,381.0 C181.3,381.0 181.8,382.6 182.5,383.1 C183.1,383.5 184.0,383.5 184.3,383.6Z" fill="#c01c22"/>
<path d="M289.3,390.0 C289.1,390.4 288.7,391.9 288.2,392.3 C287.7,392.6 286.9,392.1 286.3,392.1 C285.8,392.0 285.4,392.0 284.9,391.7 C284.3,391.3 283.2,390.5 283.1,389.9 C283.1,389.4 284.1,388.8 284.5,388.4 C284.9,388.0 284.9,387.8 285.6,387.7 C286.4,387.6 288.4,387.5 289.0,387.8 C289.7,388.2 289.3,389.6 289.3,390.0Z" fill="#d02026"/>
<path d="M279.7,383.4 C279.9,383.6 280.9,384.2 280.6,384.6 C280.3,385.0 278.7,385.7 278.1,385.8 C277.4,385.8 276.9,385.2 276.5,384.8 C276.1,384.3 275.7,383.5 275.7,383.0 C275.8,382.5 276.5,382.3 276.9,381.8 C277.3,381.3 277.9,380.2 278.3,380.1 C278.7,380.0 279.1,380.6 279.4,381.1 C279.6,381.7 279.7,383.0 279.7,383.4Z" fill="#c01c22"/>
<path d="M203.7,359.3 C203.5,359.4 203.3,359.9 202.8,360.1 C202.4,360.3 201.8,360.6 201.0,360.6 C200.2,360.7 198.8,360.9 198.2,360.6 C197.6,360.2 197.3,359.2 197.5,358.7 C197.7,358.2 198.6,357.7 199.2,357.3 C199.8,357.0 200.4,356.6 201.1,356.6 C201.9,356.7 203.5,357.1 203.9,357.5 C204.3,358.0 203.7,359.0 203.7,359.3Z" fill="#d02026"/>
<ellipse cx="256" cy="232" rx="2" ry="3" fill="#3fcdd6" fill-opacity="0.9"/>
<ellipse cx="262" cy="238" rx="2.5" ry="2" fill="#3fcdd6" fill-opacity="0.9"/>
<ellipse cx="245" cy="250" rx="2" ry="2" fill="#3fcdd6" fill-opacity="0.9"/>
<ellipse cx="278" cy="246" rx="2" ry="2.5" fill="#3fcdd6" fill-opacity="0.9"/>
<ellipse cx="286" cy="268" rx="2.5" ry="2" fill="#3fcdd6" fill-opacity="0.9"/>
<ellipse cx="291" cy="281" rx="2" ry="2" fill="#3fcdd6" fill-opacity="0.9"/>
<ellipse cx="262" cy="280" rx="2" ry="2.5" fill="#3fcdd6" fill-opacity="0.9"/>
<ellipse cx="252" cy="306" rx="2.5" ry="2" fill="#3fcdd6" fill-opacity="0.9"/>
<ellipse cx="266" cy="316" rx="2" ry="2" fill="#3fcdd6" fill-opacity="0.9"/>
<ellipse cx="239" cy="308" rx="2" ry="2" fill="#3fcdd6" fill-opacity="0.9"/>
<ellipse cx="214" cy="296" rx="2.5" ry="2" fill="#3fcdd6" fill-opacity="0.9"/>
<ellipse cx="205" cy="300" rx="2" ry="2" fill="#3fcdd6" fill-opacity="0.9"/>
<ellipse cx="222" cy="340" rx="2.5" ry="2" fill="#3fcdd6" fill-opacity="0.9"/>
<ellipse cx="232" cy="330" rx="2" ry="2" fill="#3fcdd6" fill-opacity="0.9"/>
<ellipse cx="186" cy="336" rx="2" ry="2" fill="#3fcdd6" fill-opacity="0.9"/>
<ellipse cx="190" cy="325" rx="2" ry="2" fill="#3fcdd6" fill-opacity="0.9"/>
<ellipse cx="302" cy="226" rx="2" ry="2" fill="#3fcdd6" fill-opacity="0.9"/>
<ellipse cx="314" cy="240" rx="2" ry="2" fill="#3fcdd6" fill-opacity="0.9"/>
<ellipse cx="300" cy="304" rx="2" ry="2" fill="#3fcdd6" fill-opacity="0.9"/>
<ellipse cx="310" cy="288" rx="2" ry="2" fill="#3fcdd6" fill-opacity="0.9"/>
<ellipse cx="318" cy="268" rx="1.5" ry="2" fill="#3fcdd6" fill-opacity="0.9"/>
<ellipse cx="215" cy="350" rx="2" ry="2.5" fill="#3fcdd6" fill-opacity="0.9"/>
<ellipse cx="203" cy="349" rx="2" ry="2" fill="#3fcdd6" fill-opacity="0.9"/>
<ellipse cx="312" cy="364" rx="2" ry="3" fill="#3fcdd6" fill-opacity="0.9"/>
<ellipse cx="318" cy="380" rx="2" ry="2" fill="#3fcdd6" fill-opacity="0.9"/>
<ellipse cx="285" cy="370" rx="2" ry="1.5" fill="#3fcdd6" fill-opacity="0.9"/>
<circle cx="208.00" cy="314.00" r="3.00" fill="#f08a8a" />
<circle cx="211.00" cy="318.00" r="2.50" fill="#f5b0b0" />
<circle cx="206.00" cy="320.00" r="2.00" fill="#e85a5a" />
<circle cx="243.00" cy="330.00" r="3.00" fill="#f09090" />
<circle cx="246.00" cy="333.00" r="2.50" fill="#f5c0c0" />
<circle cx="241.00" cy="335.00" r="2.00" fill="#e86a6a" />
</g>
</g>
<path d="M224.0,213.5 C224.8,215.2 227.6,220.2 228.5,224.0 C229.4,227.8 229.9,232.6 229.5,236.0 C229.1,239.4 227.9,241.5 226.0,244.5 C224.1,247.5 221.3,250.0 218.0,254.0 C214.7,258.0 210.0,263.8 206.0,268.5 C202.0,273.2 198.0,278.0 194.0,282.0 C190.0,286.0 186.0,289.4 182.0,292.5 C178.0,295.6 173.2,297.6 170.0,300.5 C166.8,303.4 164.8,306.4 163.0,310.0 C161.2,313.6 160.2,317.3 159.5,322.0 C158.8,326.7 158.3,333.0 158.5,338.0 C158.7,343.0 159.6,347.7 160.5,352.0 C161.4,356.3 163.0,359.7 164.0,364.0 C165.0,368.3 166.3,374.2 166.3,378.0 C166.3,381.8 165.7,384.6 164.0,386.5 C162.3,388.4 159.0,388.7 156.0,389.3 C153.0,389.9 148.3,389.8 146.0,390.0 C143.7,390.2 142.7,390.4 142.0,390.5" stroke="#f2f2f2" fill="none" stroke-width="1.2" stroke-dasharray="3.6 2.4"/>
<path d="M210.5,396.7 C210.6,394.9 210.3,389.4 211.0,386.0 C211.7,382.6 212.8,378.7 214.5,376.0 C216.2,373.3 217.6,372.4 221.0,369.6 C224.4,366.9 230.0,362.9 235.0,359.5 C240.0,356.1 245.7,352.8 251.0,349.4 C256.3,346.0 262.3,342.7 267.0,339.3 C271.7,335.9 275.6,332.9 279.4,329.2 C283.1,325.5 286.1,320.9 289.5,317.0 C292.9,313.1 296.6,308.7 299.6,305.5 C302.6,302.3 305.1,299.8 307.7,298.0 C310.3,296.2 312.4,295.9 315.0,295.0 C317.6,294.1 321.7,292.9 323.0,292.5" stroke="#f2f2f2" fill="none" stroke-width="1.2" stroke-dasharray="3.6 2.4"/>
<path d="M265.5,396.7 C265.8,393.9 266.6,384.6 267.5,380.0 C268.4,375.4 269.1,372.2 271.0,369.0 C272.9,365.8 275.6,362.9 279.0,360.5 C282.4,358.1 286.8,356.2 291.6,354.7 C296.4,353.1 302.5,352.6 307.7,351.2 C312.9,349.8 320.4,347.3 323.0,346.5" stroke="#f2f2f2" fill="none" stroke-width="1.2" stroke-dasharray="3.6 2.4"/>
<rect x="225.50" y="251.70" width="21.00" height="21.60" fill="none" stroke="#e8e8e8" stroke-width="1"/>
<rect x="199.50" y="305.80" width="21.80" height="21.40" fill="none" stroke="#e8e8e8" stroke-width="1"/>
<rect x="233.40" y="320.40" width="21.00" height="21.00" fill="none" stroke="#e8e8e8" stroke-width="1"/>
<text x="219.70" y="265.60" font-size="8" text-anchor="middle" fill="#e8e8e8" >3</text>
<text x="193.40" y="320.00" font-size="8" text-anchor="middle" fill="#e8e8e8" >1</text>
<text x="226.00" y="340.30" font-size="8" text-anchor="middle" fill="#e8e8e8" >2</text>
<text x="145.60" y="221.60" font-size="8.9" text-anchor="start" fill="#e4e4e4" >00:16</text>
<text x="145.60" y="238.00" font-size="8.7" text-anchor="start" fill="#ea2a2c" >AML</text>
<text x="145.60" y="252.50" font-size="8.9" text-anchor="start" fill="#3cbfcc" >CX3CR1</text>
<line x1="285.20" y1="385.40" x2="317.50" y2="385.40" stroke="#eeeeee" stroke-width="1.2" />
<text x="301.30" y="392.20" font-size="6.5" text-anchor="middle" fill="#eeeeee" >50 μm</text>
<defs><filter id="b2" x="-50%" y="-50%" width="200%" height="200%"><feGaussianBlur stdDeviation="2"/></filter><filter id="b08" x="-20%" y="-20%" width="140%" height="140%"><feGaussianBlur stdDeviation="0.8"/></filter><filter id="tch" x="0" y="0" width="100%" height="100%" color-interpolation-filters="sRGB"><feTurbulence type="fractalNoise" baseFrequency="0.12" numOctaves="3" seed="3" result="n"/><feColorMatrix in="n" type="matrix" values="0 0 0 0 0.12  0 0 0 0 0.74  0 0 0 0 0.78  3.6 0 0 0 -1.55" result="c"/><feComposite in="c" in2="SourceGraphic" operator="in" result="m"/><feGaussianBlur in="m" stdDeviation="0.7"/></filter><filter id="trh" x="0" y="0" width="100%" height="100%" color-interpolation-filters="sRGB"><feTurbulence type="fractalNoise" baseFrequency="0.1" numOctaves="3" seed="8" result="n"/><feColorMatrix in="n" type="matrix" values="0 0 0 0 0.8  0 0 0 0 0.08  0 0 0 0 0.08  0 3.2 0 0 -1.4" result="c"/><feComposite in="c" in2="SourceGraphic" operator="in" result="m"/><feGaussianBlur in="m" stdDeviation="0.9"/></filter><filter id="tcell" x="0" y="0" width="100%" height="100%" color-interpolation-filters="sRGB"><feTurbulence type="fractalNoise" baseFrequency="0.2" numOctaves="2" seed="5" result="n"/><feColorMatrix in="n" type="matrix" values="0 0 0 0 0.5  0 0 0 0 0.02  0 0 0 0 0.04  0 0 2 0 -0.95" result="c"/><feComposite in="c" in2="SourceGraphic" operator="in"/></filter></defs>
<text x="335.20" y="207.10" font-size="11.5" text-anchor="start" font-weight="bold" fill="#000" >H</text>
<text x="367.4" y="206.8" font-size="8.2" font-style="italic" fill="#1a1a1a" stroke="#1a1a1a" stroke-width="0.25" textLength="121.3" lengthAdjust="spacingAndGlyphs">1. CX3CR1<tspan dy="-3" font-size="5.5">+</tspan><tspan dy="3"> explorative AML cell:</tspan></text>
<line x1="367.40" y1="209.90" x2="488.70" y2="209.90" stroke="#333" stroke-width="0.9" />
<text x="363" y="276.8" font-size="8.2" font-style="italic" fill="#1a1a1a" stroke="#1a1a1a" stroke-width="0.25" textLength="120.6" lengthAdjust="spacingAndGlyphs">2. CX3CR1<tspan dy="-3" font-size="5.5">+</tspan><tspan dy="3"> explorative AML cell:</tspan></text>
<line x1="363.00" y1="279.10" x2="483.60" y2="279.10" stroke="#333" stroke-width="0.9" />
<text x="362.5" y="343.4" font-size="8.2" font-style="italic" fill="#1a1a1a" stroke="#1a1a1a" stroke-width="0.25" textLength="135.6" lengthAdjust="spacingAndGlyphs">3. CX3CR1<tspan dy="-3" font-size="5.5">−</tspan><tspan dy="3">nonexplorative AML cell:</tspan></text>
<line x1="362.50" y1="345.50" x2="498.10" y2="345.50" stroke="#333" stroke-width="0.9" />
<clipPath id="ch00"><rect x="346.4" y="213.7" width="54.2" height="53.0"/></clipPath>
<rect x="346.40" y="213.70" width="54.20" height="53.00" fill="#060606" />
<g clip-path="url(#ch00)">
<g filter="url(#b4)">
<ellipse cx="372.4" cy="217.7" rx="5" ry="12" fill="#5a0a0a" fill-opacity="0.64"/>
<ellipse cx="394.4" cy="235.7" rx="6" ry="14" fill="#3a0606" fill-opacity="0.56"/>
<ellipse cx="356.4" cy="263.7" rx="10" ry="5" fill="#4a0808" fill-opacity="0.48"/>
<ellipse cx="376.4" cy="263.7" rx="8" ry="5" fill="#3a0606" fill-opacity="0.4"/>
</g>
<g filter="url(#trh)">
<rect x="346.40" y="213.70" width="54.20" height="53.00" fill="#000" fill-opacity="0"/>
<g filter="url(#b4)">
<ellipse cx="372.4" cy="217.7" rx="5" ry="10" fill="#fff" fill-opacity="0.64"/>
<ellipse cx="394.4" cy="237.7" rx="6" ry="12" fill="#fff" fill-opacity="0.48"/>
<ellipse cx="358.4" cy="265.7" rx="10" ry="4" fill="#fff" fill-opacity="0.4"/>
</g></g>
<path d="M354.6,235.6 C355.1,234.4 357.4,232.8 359.0,232.3 C360.6,231.8 362.9,233.3 364.5,232.9 C366.1,232.4 367.6,230.7 368.9,229.6 C370.2,228.5 370.9,226.8 372.2,226.3 C373.5,225.8 375.3,226.1 376.6,226.9 C377.9,227.7 378.6,229.8 379.8,231.2 C381.0,232.6 383.1,234.3 383.7,235.6 C384.2,236.9 384.1,237.9 383.1,238.9 C382.1,239.9 377.8,240.4 377.6,241.6 C377.4,242.8 381.2,244.3 382.0,246.0 C382.8,247.7 383.1,250.0 382.6,251.5 C382.0,253.0 380.4,254.1 378.7,254.8 C377.0,255.5 374.6,255.8 372.2,255.9 C369.8,256.0 366.5,255.9 364.5,255.4 C362.5,254.8 361.0,254.0 360.1,252.6 C359.2,251.2 359.0,248.8 359.0,247.1 C359.0,245.4 360.6,244.0 360.1,242.7 C359.5,241.4 356.6,240.7 355.7,239.5 C354.8,238.3 354.0,236.8 354.6,235.6 Z" fill="#c8181a" fill-opacity="1" filter="url(#b08)"/>
<path d="M354.6,235.6 C355.1,234.4 357.4,232.8 359.0,232.3 C360.6,231.8 362.9,233.3 364.5,232.9 C366.1,232.4 367.6,230.7 368.9,229.6 C370.2,228.5 370.9,226.8 372.2,226.3 C373.5,225.8 375.3,226.1 376.6,226.9 C377.9,227.7 378.6,229.8 379.8,231.2 C381.0,232.6 383.1,234.3 383.7,235.6 C384.2,236.9 384.1,237.9 383.1,238.9 C382.1,239.9 377.8,240.4 377.6,241.6 C377.4,242.8 381.2,244.3 382.0,246.0 C382.8,247.7 383.1,250.0 382.6,251.5 C382.0,253.0 380.4,254.1 378.7,254.8 C377.0,255.5 374.6,255.8 372.2,255.9 C369.8,256.0 366.5,255.9 364.5,255.4 C362.5,254.8 361.0,254.0 360.1,252.6 C359.2,251.2 359.0,248.8 359.0,247.1 C359.0,245.4 360.6,244.0 360.1,242.7 C359.5,241.4 356.6,240.7 355.7,239.5 C354.8,238.3 354.0,236.8 354.6,235.6 Z" fill="#fff" filter="url(#tcell)"/>
<g filter="url(#b08)">
<circle cx="366.4" cy="237.7" r="5" fill="#e83030" fill-opacity="0.6"/>
<circle cx="372.4" cy="233.7" r="4" fill="#e02a2a" fill-opacity="0.5"/>
<circle cx="376.4" cy="249.7" r="4" fill="#d82828" fill-opacity="0.5"/>
</g>
</g>
<path d="M354.6,235.6 C355.1,234.4 357.4,232.8 359.0,232.3 C360.6,231.8 362.9,233.3 364.5,232.9 C366.1,232.4 367.6,230.7 368.9,229.6 C370.2,228.5 370.9,226.8 372.2,226.3 C373.5,225.8 375.3,226.1 376.6,226.9 C377.9,227.7 378.6,229.8 379.8,231.2 C381.0,232.6 383.1,234.3 383.7,235.6 C384.2,236.9 384.1,237.9 383.1,238.9 C382.1,239.9 377.8,240.4 377.6,241.6 C377.4,242.8 381.2,244.3 382.0,246.0 C382.8,247.7 383.1,250.0 382.6,251.5 C382.0,253.0 380.4,254.1 378.7,254.8 C377.0,255.5 374.6,255.8 372.2,255.9 C369.8,256.0 366.5,255.9 364.5,255.4 C362.5,254.8 361.0,254.0 360.1,252.6 C359.2,251.2 359.0,248.8 359.0,247.1 C359.0,245.4 360.6,244.0 360.1,242.7 C359.5,241.4 356.6,240.7 355.7,239.5 C354.8,238.3 354.0,236.8 354.6,235.6 Z" fill="none" stroke="#f4f4f4" stroke-width="1.45" stroke-dasharray="3 1.8"/>
<line x1="381.10" y1="259.30" x2="398.40" y2="259.30" stroke="#e8e8e8" stroke-width="1.2" />
<text x="389.80" y="265.70" font-size="6.8" text-anchor="middle" fill="#ececec" >10 μm</text>
<clipPath id="ch01"><rect x="402.6" y="213.7" width="54.6" height="53.0"/></clipPath>
<rect x="402.60" y="213.70" width="54.60" height="53.00" fill="#060606" />
<g clip-path="url(#ch01)">
<g filter="url(#b4)">
<ellipse cx="427.6" cy="225.7" rx="14" ry="10" fill="#0e5a62" fill-opacity="0.64"/>
<ellipse cx="452.6" cy="227.7" rx="6" ry="8" fill="#0c4a52" fill-opacity="0.56"/>
<ellipse cx="426.6" cy="245.7" rx="10" ry="12" fill="#0a4046" fill-opacity="0.56"/>
<ellipse cx="410.6" cy="255.7" rx="6" ry="6" fill="#082e34" fill-opacity="0.4"/>
</g>
<g filter="url(#tch)">
<rect x="402.60" y="213.70" width="54.60" height="53.00" fill="#000" fill-opacity="0"/>
<g filter="url(#b4)">
<ellipse cx="430.6" cy="223.7" rx="13" ry="8" fill="#fff" fill-opacity="0.72"/>
<ellipse cx="452.6" cy="227.7" rx="5" ry="7" fill="#fff" fill-opacity="0.56"/>
<ellipse cx="426.6" cy="243.7" rx="9" ry="10" fill="#fff" fill-opacity="0.48"/>
</g></g>
<g filter="url(#b08)">
<circle cx="416.6" cy="235.7" r="3" fill="#50d0d8" fill-opacity="0.8"/>
<circle cx="420.6" cy="243.7" r="3" fill="#30a8b2" fill-opacity="0.5"/>
<circle cx="424.6" cy="221.7" r="4" fill="#2ca8b2" fill-opacity="0.5"/>
<circle cx="434.6" cy="219.7" r="3" fill="#2aa0aa" fill-opacity="0.5"/>
<circle cx="453.6" cy="225.7" r="2.5" fill="#30b0ba" fill-opacity="0.6"/>
</g>
</g>
<path d="M410.8,235.6 C411.4,234.4 413.6,232.8 415.2,232.3 C416.9,231.8 419.1,233.3 420.7,232.9 C422.4,232.4 423.8,230.7 425.1,229.6 C426.4,228.5 427.1,226.8 428.4,226.3 C429.7,225.8 431.5,226.1 432.8,226.9 C434.1,227.7 434.8,229.8 436.0,231.2 C437.2,232.6 439.4,234.3 439.9,235.6 C440.5,236.9 440.3,237.9 439.3,238.9 C438.3,239.9 434.0,240.4 433.8,241.6 C433.6,242.8 437.4,244.3 438.2,246.0 C439.0,247.7 439.4,250.0 438.8,251.5 C438.2,253.0 436.6,254.1 434.9,254.8 C433.2,255.5 430.8,255.8 428.4,255.9 C426.0,256.0 422.7,255.9 420.7,255.4 C418.7,254.8 417.2,254.0 416.3,252.6 C415.4,251.2 415.2,248.8 415.2,247.1 C415.2,245.4 416.9,244.0 416.3,242.7 C415.8,241.4 412.8,240.7 411.9,239.5 C411.0,238.3 410.2,236.8 410.8,235.6 Z" fill="none" stroke="#f4f4f4" stroke-width="1.45" stroke-dasharray="3 1.8"/>
<line x1="437.70" y1="259.30" x2="455.00" y2="259.30" stroke="#e8e8e8" stroke-width="1.2" />
<text x="446.40" y="265.70" font-size="6.8" text-anchor="middle" fill="#ececec" >10 μm</text>
<clipPath id="ch02"><rect x="458.9" y="213.7" width="54.0" height="53.0"/></clipPath>
<rect x="458.90" y="213.70" width="54.00" height="53.00" fill="#060606" />
<g clip-path="url(#ch02)">
<g filter="url(#b4)">
<ellipse cx="483.9" cy="225.7" rx="14" ry="10" fill="#0e5a62" fill-opacity="0.64"/>
<ellipse cx="508.9" cy="227.7" rx="6" ry="8" fill="#0c4a52" fill-opacity="0.56"/>
<ellipse cx="482.9" cy="245.7" rx="10" ry="12" fill="#0a4046" fill-opacity="0.56"/>
<ellipse cx="466.9" cy="255.7" rx="6" ry="6" fill="#082e34" fill-opacity="0.4"/>
<ellipse cx="482.9" cy="215.7" rx="6" ry="8" fill="#6a0c0c" fill-opacity="0.56"/>
<ellipse cx="478.9" cy="265.7" rx="8" ry="4" fill="#5a0a0a" fill-opacity="0.56"/>
<ellipse cx="508.9" cy="263.7" rx="6" ry="6" fill="#4a0808" fill-opacity="0.48"/>
</g>
<g filter="url(#tch)">
<rect x="458.90" y="213.70" width="54.00" height="53.00" fill="#000" fill-opacity="0"/>
<g filter="url(#b4)">
<ellipse cx="486.9" cy="221.7" rx="13" ry="8" fill="#fff" fill-opacity="0.64"/>
<ellipse cx="508.9" cy="227.7" rx="5" ry="7" fill="#fff" fill-opacity="0.56"/>
<ellipse cx="466.9" cy="243.7" rx="5" ry="7" fill="#fff" fill-opacity="0.4"/>
</g></g>
<g filter="url(#trh)">
<rect x="458.90" y="213.70" width="54.00" height="53.00" fill="#000" fill-opacity="0"/>
<g filter="url(#b4)">
<ellipse cx="484.9" cy="215.7" rx="5" ry="6" fill="#fff" fill-opacity="0.64"/>
<ellipse cx="478.9" cy="265.7" rx="8" ry="4" fill="#fff" fill-opacity="0.48"/>
<ellipse cx="508.9" cy="263.7" rx="5" ry="5" fill="#fff" fill-opacity="0.4"/>
</g></g>
<path d="M467.1,235.6 C467.6,234.4 469.9,232.8 471.5,232.3 C473.1,231.8 475.4,233.3 477.0,232.9 C478.6,232.4 480.1,230.7 481.4,229.6 C482.7,228.5 483.4,226.8 484.7,226.3 C486.0,225.8 487.8,226.1 489.1,226.9 C490.4,227.7 491.1,229.8 492.3,231.2 C493.5,232.6 495.6,234.3 496.2,235.6 C496.8,236.9 496.6,237.9 495.6,238.9 C494.6,239.9 490.3,240.4 490.1,241.6 C489.9,242.8 493.7,244.3 494.5,246.0 C495.3,247.7 495.6,250.0 495.1,251.5 C494.5,253.0 492.9,254.1 491.2,254.8 C489.5,255.5 487.1,255.8 484.7,255.9 C482.3,256.0 479.0,255.9 477.0,255.4 C475.0,254.8 473.5,254.0 472.6,252.6 C471.7,251.2 471.5,248.8 471.5,247.1 C471.5,245.4 473.1,244.0 472.6,242.7 C472.0,241.4 469.1,240.7 468.2,239.5 C467.3,238.3 466.5,236.8 467.1,235.6 Z" fill="#cc1e20" fill-opacity="1" filter="url(#b08)"/>
<path d="M467.1,235.6 C467.6,234.4 469.9,232.8 471.5,232.3 C473.1,231.8 475.4,233.3 477.0,232.9 C478.6,232.4 480.1,230.7 481.4,229.6 C482.7,228.5 483.4,226.8 484.7,226.3 C486.0,225.8 487.8,226.1 489.1,226.9 C490.4,227.7 491.1,229.8 492.3,231.2 C493.5,232.6 495.6,234.3 496.2,235.6 C496.8,236.9 496.6,237.9 495.6,238.9 C494.6,239.9 490.3,240.4 490.1,241.6 C489.9,242.8 493.7,244.3 494.5,246.0 C495.3,247.7 495.6,250.0 495.1,251.5 C494.5,253.0 492.9,254.1 491.2,254.8 C489.5,255.5 487.1,255.8 484.7,255.9 C482.3,256.0 479.0,255.9 477.0,255.4 C475.0,254.8 473.5,254.0 472.6,252.6 C471.7,251.2 471.5,248.8 471.5,247.1 C471.5,245.4 473.1,244.0 472.6,242.7 C472.0,241.4 469.1,240.7 468.2,239.5 C467.3,238.3 466.5,236.8 467.1,235.6 Z" fill="#fff" filter="url(#tcell)"/>
<g filter="url(#b08)">
<circle cx="472.9" cy="234.7" r="3" fill="#f4c8c8" fill-opacity="0.85"/>
<circle cx="476.9" cy="237.7" r="3" fill="#ea8c8c" fill-opacity="0.6"/>
<circle cx="482.9" cy="235.7" r="4" fill="#e84a4a" fill-opacity="0.5"/>
<circle cx="488.9" cy="249.7" r="3" fill="#e85050" fill-opacity="0.4"/>
<circle cx="492.9" cy="233.7" r="2.5" fill="#e87070" fill-opacity="0.5"/>
</g>
</g>
<path d="M467.1,235.6 C467.6,234.4 469.9,232.8 471.5,232.3 C473.1,231.8 475.4,233.3 477.0,232.9 C478.6,232.4 480.1,230.7 481.4,229.6 C482.7,228.5 483.4,226.8 484.7,226.3 C486.0,225.8 487.8,226.1 489.1,226.9 C490.4,227.7 491.1,229.8 492.3,231.2 C493.5,232.6 495.6,234.3 496.2,235.6 C496.8,236.9 496.6,237.9 495.6,238.9 C494.6,239.9 490.3,240.4 490.1,241.6 C489.9,242.8 493.7,244.3 494.5,246.0 C495.3,247.7 495.6,250.0 495.1,251.5 C494.5,253.0 492.9,254.1 491.2,254.8 C489.5,255.5 487.1,255.8 484.7,255.9 C482.3,256.0 479.0,255.9 477.0,255.4 C475.0,254.8 473.5,254.0 472.6,252.6 C471.7,251.2 471.5,248.8 471.5,247.1 C471.5,245.4 473.1,244.0 472.6,242.7 C472.0,241.4 469.1,240.7 468.2,239.5 C467.3,238.3 466.5,236.8 467.1,235.6 Z" fill="none" stroke="#f4f4f4" stroke-width="1.45" stroke-dasharray="3 1.8"/>
<line x1="493.40" y1="259.30" x2="510.70" y2="259.30" stroke="#e8e8e8" stroke-width="1.2" />
<text x="502.10" y="265.70" font-size="6.8" text-anchor="middle" fill="#ececec" >10 μm</text>
<clipPath id="ch10"><rect x="346.4" y="280.9" width="54.2" height="53.0"/></clipPath>
<rect x="346.40" y="280.90" width="54.20" height="53.00" fill="#060606" />
<g clip-path="url(#ch10)">
<g filter="url(#b4)">
<ellipse cx="376.4" cy="284.9" rx="16" ry="8" fill="#7a0e0e" fill-opacity="0.64"/>
<ellipse cx="350.4" cy="304.9" rx="6" ry="14" fill="#6a0c0c" fill-opacity="0.64"/>
<ellipse cx="392.4" cy="300.9" rx="8" ry="10" fill="#4e0909" fill-opacity="0.56"/>
<ellipse cx="386.4" cy="285.9" rx="8" ry="5" fill="#7a0e0e" fill-opacity="0.56"/>
<ellipse cx="354.4" cy="325.9" rx="8" ry="8" fill="#4a0808" fill-opacity="0.48"/>
<ellipse cx="380.4" cy="325.9" rx="8" ry="6" fill="#3a0606" fill-opacity="0.48"/>
</g>
<g filter="url(#trh)">
<rect x="346.40" y="280.90" width="54.20" height="53.00" fill="#000" fill-opacity="0"/>
<g filter="url(#b4)">
<ellipse cx="376.4" cy="284.9" rx="16" ry="8" fill="#fff" fill-opacity="0.72"/>
<ellipse cx="350.4" cy="304.9" rx="6" ry="14" fill="#fff" fill-opacity="0.72"/>
<ellipse cx="392.4" cy="300.9" rx="7" ry="9" fill="#fff" fill-opacity="0.48"/>
<ellipse cx="354.4" cy="326.9" rx="8" ry="7" fill="#fff" fill-opacity="0.4"/>
</g></g>
<path d="M355.7,291.0 C356.2,290.1 359.2,290.9 361.2,291.0 C363.2,291.1 366.1,291.1 367.8,291.5 C369.4,291.9 369.5,293.2 371.1,293.7 C372.7,294.2 375.6,293.9 377.6,294.3 C379.6,294.7 381.8,295.1 383.1,295.9 C384.4,296.7 385.3,298.1 385.3,299.2 C385.3,300.3 384.2,301.5 383.1,302.5 C382.0,303.5 380.2,304.2 378.7,305.2 C377.2,306.2 375.1,307.4 374.3,308.5 C373.5,309.6 373.9,310.5 373.8,311.8 C373.7,313.1 374.1,314.5 373.8,316.2 C373.5,317.9 373.4,320.3 372.2,321.7 C371.0,323.1 368.5,323.9 366.7,324.4 C364.9,324.8 362.5,325.0 361.2,324.4 C359.9,323.8 359.7,322.0 359.0,320.6 C358.3,319.2 357.2,317.7 356.8,316.2 C356.3,314.7 356.0,313.1 356.3,311.8 C356.6,310.5 358.1,310.1 358.5,308.5 C358.9,306.9 358.6,304.0 358.5,302.0 C358.4,300.0 358.4,298.3 357.9,296.5 C357.4,294.7 355.1,291.9 355.7,291.0 Z" fill="#cc1a1c" fill-opacity="1" filter="url(#b08)"/>
<path d="M355.7,291.0 C356.2,290.1 359.2,290.9 361.2,291.0 C363.2,291.1 366.1,291.1 367.8,291.5 C369.4,291.9 369.5,293.2 371.1,293.7 C372.7,294.2 375.6,293.9 377.6,294.3 C379.6,294.7 381.8,295.1 383.1,295.9 C384.4,296.7 385.3,298.1 385.3,299.2 C385.3,300.3 384.2,301.5 383.1,302.5 C382.0,303.5 380.2,304.2 378.7,305.2 C377.2,306.2 375.1,307.4 374.3,308.5 C373.5,309.6 373.9,310.5 373.8,311.8 C373.7,313.1 374.1,314.5 373.8,316.2 C373.5,317.9 373.4,320.3 372.2,321.7 C371.0,323.1 368.5,323.9 366.7,324.4 C364.9,324.8 362.5,325.0 361.2,324.4 C359.9,323.8 359.7,322.0 359.0,320.6 C358.3,319.2 357.2,317.7 356.8,316.2 C356.3,314.7 356.0,313.1 356.3,311.8 C356.6,310.5 358.1,310.1 358.5,308.5 C358.9,306.9 358.6,304.0 358.5,302.0 C358.4,300.0 358.4,298.3 357.9,296.5 C357.4,294.7 355.1,291.9 355.7,291.0 Z" fill="#fff" filter="url(#tcell)"/>
<g filter="url(#b08)">
<circle cx="366.4" cy="296.9" r="5" fill="#e82a2a" fill-opacity="0.6"/>
<circle cx="376.4" cy="298.9" r="4" fill="#e02828" fill-opacity="0.5"/>
<circle cx="365.4" cy="318.9" r="4" fill="#e02828" fill-opacity="0.5"/>
</g>
</g>
<path d="M355.7,291.0 C356.2,290.1 359.2,290.9 361.2,291.0 C363.2,291.1 366.1,291.1 367.8,291.5 C369.4,291.9 369.5,293.2 371.1,293.7 C372.7,294.2 375.6,293.9 377.6,294.3 C379.6,294.7 381.8,295.1 383.1,295.9 C384.4,296.7 385.3,298.1 385.3,299.2 C385.3,300.3 384.2,301.5 383.1,302.5 C382.0,303.5 380.2,304.2 378.7,305.2 C377.2,306.2 375.1,307.4 374.3,308.5 C373.5,309.6 373.9,310.5 373.8,311.8 C373.7,313.1 374.1,314.5 373.8,316.2 C373.5,317.9 373.4,320.3 372.2,321.7 C371.0,323.1 368.5,323.9 366.7,324.4 C364.9,324.8 362.5,325.0 361.2,324.4 C359.9,323.8 359.7,322.0 359.0,320.6 C358.3,319.2 357.2,317.7 356.8,316.2 C356.3,314.7 356.0,313.1 356.3,311.8 C356.6,310.5 358.1,310.1 358.5,308.5 C358.9,306.9 358.6,304.0 358.5,302.0 C358.4,300.0 358.4,298.3 357.9,296.5 C357.4,294.7 355.1,291.9 355.7,291.0 Z" fill="none" stroke="#f4f4f4" stroke-width="1.45" stroke-dasharray="3 1.8"/>
<line x1="381.10" y1="326.50" x2="398.40" y2="326.50" stroke="#e8e8e8" stroke-width="1.2" />
<text x="389.80" y="332.90" font-size="6.8" text-anchor="middle" fill="#ececec" >10 μm</text>
<clipPath id="ch11"><rect x="402.6" y="280.9" width="54.6" height="53.0"/></clipPath>
<rect x="402.60" y="280.90" width="54.60" height="53.00" fill="#060606" />
<g clip-path="url(#ch11)">
<g filter="url(#b4)">
<ellipse cx="426.6" cy="284.9" rx="24" ry="6" fill="#0c4e56" fill-opacity="0.64"/>
<ellipse cx="406.6" cy="302.9" rx="5" ry="4" fill="#1a8a94" fill-opacity="0.72"/>
<ellipse cx="440.6" cy="308.9" rx="8" ry="8" fill="#0a3a40" fill-opacity="0.48"/>
<ellipse cx="422.6" cy="326.9" rx="10" ry="5" fill="#082a30" fill-opacity="0.4"/>
</g>
<g filter="url(#tch)">
<rect x="402.60" y="280.90" width="54.60" height="53.00" fill="#000" fill-opacity="0"/>
<g filter="url(#b4)">
<ellipse cx="426.6" cy="283.9" rx="24" ry="5" fill="#fff" fill-opacity="0.64"/>
<ellipse cx="406.6" cy="302.9" rx="5" ry="4" fill="#fff" fill-opacity="0.72"/>
<ellipse cx="424.6" cy="306.9" rx="8" ry="12" fill="#fff" fill-opacity="0.56"/>
</g></g>
<g filter="url(#b08)">
<circle cx="429.5" cy="315.2" r="2.69" fill="#1a8c96" fill-opacity="0.74"/>
<circle cx="433.2" cy="300.4" r="1.58" fill="#22a4ae" fill-opacity="0.45"/>
<circle cx="425.9" cy="300.3" r="2.32" fill="#22a4ae" fill-opacity="0.41"/>
<circle cx="419.8" cy="301.3" r="2.87" fill="#147880" fill-opacity="0.46"/>
<circle cx="433.7" cy="297.1" r="2.43" fill="#22a4ae" fill-opacity="0.45"/>
<circle cx="437.9" cy="293.1" r="2.66" fill="#22a4ae" fill-opacity="0.75"/>
<circle cx="421.5" cy="321.7" r="2.31" fill="#22a4ae" fill-opacity="0.47"/>
<circle cx="437.8" cy="298.8" r="2.95" fill="#147880" fill-opacity="0.52"/>
<circle cx="423.3" cy="297.9" r="1.72" fill="#1a8c96" fill-opacity="0.53"/>
<circle cx="428.9" cy="314.1" r="1.6" fill="#2cb8c2" fill-opacity="0.73"/>
<circle cx="426.1" cy="302.4" r="2.22" fill="#22a4ae" fill-opacity="0.42"/>
<circle cx="438.0" cy="293.6" r="2.62" fill="#147880" fill-opacity="0.41"/>
<circle cx="433.5" cy="303.9" r="2.37" fill="#1a8c96" fill-opacity="0.58"/>
<circle cx="437.5" cy="296.5" r="1.87" fill="#147880" fill-opacity="0.54"/>
<circle cx="423.1" cy="308.6" r="2.66" fill="#1a8c96" fill-opacity="0.64"/>
<circle cx="433.3" cy="303.9" r="1.94" fill="#147880" fill-opacity="0.78"/>
<circle cx="416.8" cy="303.1" r="2.42" fill="#22a4ae" fill-opacity="0.54"/>
<circle cx="422.1" cy="302.4" r="1.77" fill="#1a8c96" fill-opacity="0.65"/>
</g>
<path d="M411.9,291.0 C412.5,290.1 415.4,290.9 417.4,291.0 C419.4,291.1 422.4,291.1 424.0,291.5 C425.6,291.9 425.7,293.2 427.3,293.7 C428.9,294.2 431.8,293.9 433.8,294.3 C435.8,294.7 438.0,295.1 439.3,295.9 C440.6,296.7 441.5,298.1 441.5,299.2 C441.5,300.3 440.4,301.5 439.3,302.5 C438.2,303.5 436.4,304.2 434.9,305.2 C433.4,306.2 431.3,307.4 430.5,308.5 C429.7,309.6 430.1,310.5 430.0,311.8 C429.9,313.1 430.3,314.5 430.0,316.2 C429.7,317.9 429.6,320.3 428.4,321.7 C427.2,323.1 424.7,323.9 422.9,324.4 C421.1,324.8 418.7,325.0 417.4,324.4 C416.1,323.8 415.9,322.0 415.2,320.6 C414.5,319.2 413.4,317.7 413.0,316.2 C412.6,314.7 412.2,313.1 412.5,311.8 C412.8,310.5 414.3,310.1 414.7,308.5 C415.1,306.9 414.8,304.0 414.7,302.0 C414.6,300.0 414.6,298.3 414.1,296.5 C413.6,294.7 411.4,291.9 411.9,291.0 Z" fill="#1a8a94" fill-opacity="0.45" filter="url(#b08)"/>
</g>
<path d="M411.9,291.0 C412.5,290.1 415.4,290.9 417.4,291.0 C419.4,291.1 422.4,291.1 424.0,291.5 C425.6,291.9 425.7,293.2 427.3,293.7 C428.9,294.2 431.8,293.9 433.8,294.3 C435.8,294.7 438.0,295.1 439.3,295.9 C440.6,296.7 441.5,298.1 441.5,299.2 C441.5,300.3 440.4,301.5 439.3,302.5 C438.2,303.5 436.4,304.2 434.9,305.2 C433.4,306.2 431.3,307.4 430.5,308.5 C429.7,309.6 430.1,310.5 430.0,311.8 C429.9,313.1 430.3,314.5 430.0,316.2 C429.7,317.9 429.6,320.3 428.4,321.7 C427.2,323.1 424.7,323.9 422.9,324.4 C421.1,324.8 418.7,325.0 417.4,324.4 C416.1,323.8 415.9,322.0 415.2,320.6 C414.5,319.2 413.4,317.7 413.0,316.2 C412.6,314.7 412.2,313.1 412.5,311.8 C412.8,310.5 414.3,310.1 414.7,308.5 C415.1,306.9 414.8,304.0 414.7,302.0 C414.6,300.0 414.6,298.3 414.1,296.5 C413.6,294.7 411.4,291.9 411.9,291.0 Z" fill="none" stroke="#f4f4f4" stroke-width="1.45" stroke-dasharray="3 1.8"/>
<line x1="437.70" y1="326.50" x2="455.00" y2="326.50" stroke="#e8e8e8" stroke-width="1.2" />
<text x="446.40" y="332.90" font-size="6.8" text-anchor="middle" fill="#ececec" >10 μm</text>
<clipPath id="ch12"><rect x="458.9" y="280.9" width="54.0" height="53.0"/></clipPath>
<rect x="458.90" y="280.90" width="54.00" height="53.00" fill="#060606" />
<g clip-path="url(#ch12)">
<g filter="url(#b4)">
<ellipse cx="482.9" cy="284.9" rx="24" ry="6" fill="#0c3e46" fill-opacity="0.48"/>
<ellipse cx="466.9" cy="302.9" rx="6" ry="12" fill="#8a1212" fill-opacity="0.64"/>
<ellipse cx="462.9" cy="302.9" rx="4" ry="3" fill="#1a8a94" fill-opacity="0.64"/>
<ellipse cx="488.9" cy="284.9" rx="14" ry="6" fill="#7a0e0e" fill-opacity="0.64"/>
<ellipse cx="504.9" cy="300.9" rx="6" ry="12" fill="#3a0606" fill-opacity="0.48"/>
<ellipse cx="468.9" cy="326.9" rx="10" ry="8" fill="#5a0a0a" fill-opacity="0.56"/>
</g>
<g filter="url(#trh)">
<rect x="458.90" y="280.90" width="54.00" height="53.00" fill="#000" fill-opacity="0"/>
<g filter="url(#b4)">
<ellipse cx="488.9" cy="284.9" rx="14" ry="7" fill="#fff" fill-opacity="0.64"/>
<ellipse cx="464.9" cy="304.9" rx="6" ry="13" fill="#fff" fill-opacity="0.72"/>
<ellipse cx="468.9" cy="326.9" rx="8" ry="6" fill="#fff" fill-opacity="0.48"/>
</g></g>
<g filter="url(#tch)">
<rect x="458.90" y="280.90" width="54.00" height="53.00" fill="#000" fill-opacity="0"/>
<g filter="url(#b4)">
<ellipse cx="462.9" cy="302.9" rx="5" ry="4" fill="#fff" fill-opacity="0.72"/>
<ellipse cx="502.9" cy="308.9" rx="5" ry="7" fill="#fff" fill-opacity="0.32"/>
</g></g>
<path d="M468.2,291.0 C468.8,290.1 471.7,290.9 473.7,291.0 C475.7,291.1 478.6,291.1 480.3,291.5 C481.9,291.9 482.0,293.2 483.6,293.7 C485.2,294.2 488.1,293.9 490.1,294.3 C492.1,294.7 494.3,295.1 495.6,295.9 C496.9,296.7 497.8,298.1 497.8,299.2 C497.8,300.3 496.7,301.5 495.6,302.5 C494.5,303.5 492.7,304.2 491.2,305.2 C489.7,306.2 487.6,307.4 486.8,308.5 C486.0,309.6 486.4,310.5 486.3,311.8 C486.2,313.1 486.6,314.5 486.3,316.2 C486.0,317.9 485.9,320.3 484.7,321.7 C483.5,323.1 481.0,323.9 479.2,324.4 C477.4,324.8 475.0,325.0 473.7,324.4 C472.4,323.8 472.2,322.0 471.5,320.6 C470.8,319.2 469.7,317.7 469.3,316.2 C468.8,314.7 468.5,313.1 468.8,311.8 C469.1,310.5 470.6,310.1 471.0,308.5 C471.4,306.9 471.1,304.0 471.0,302.0 C470.9,300.0 470.9,298.3 470.4,296.5 C469.9,294.7 467.6,291.9 468.2,291.0 Z" fill="#dc4a4c" fill-opacity="1" filter="url(#b08)"/>
<g filter="url(#b08)">
<circle cx="478.9" cy="296.9" r="4" fill="#f4b8b8" fill-opacity="0.8"/>
<circle cx="486.9" cy="298.9" r="3.5" fill="#f0a0a0" fill-opacity="0.7"/>
<circle cx="478.9" cy="308.9" r="4" fill="#f0c0c0" fill-opacity="0.7"/>
<circle cx="476.9" cy="318.9" r="3" fill="#f4d0d0" fill-opacity="0.7"/>
<circle cx="492.9" cy="298.9" r="2.5" fill="#e88a8a" fill-opacity="0.6"/>
<circle cx="482.9" cy="302.9" r="2" fill="#ffffff" fill-opacity="0.6"/>
</g>
</g>
<path d="M468.2,291.0 C468.8,290.1 471.7,290.9 473.7,291.0 C475.7,291.1 478.6,291.1 480.3,291.5 C481.9,291.9 482.0,293.2 483.6,293.7 C485.2,294.2 488.1,293.9 490.1,294.3 C492.1,294.7 494.3,295.1 495.6,295.9 C496.9,296.7 497.8,298.1 497.8,299.2 C497.8,300.3 496.7,301.5 495.6,302.5 C494.5,303.5 492.7,304.2 491.2,305.2 C489.7,306.2 487.6,307.4 486.8,308.5 C486.0,309.6 486.4,310.5 486.3,311.8 C486.2,313.1 486.6,314.5 486.3,316.2 C486.0,317.9 485.9,320.3 484.7,321.7 C483.5,323.1 481.0,323.9 479.2,324.4 C477.4,324.8 475.0,325.0 473.7,324.4 C472.4,323.8 472.2,322.0 471.5,320.6 C470.8,319.2 469.7,317.7 469.3,316.2 C468.8,314.7 468.5,313.1 468.8,311.8 C469.1,310.5 470.6,310.1 471.0,308.5 C471.4,306.9 471.1,304.0 471.0,302.0 C470.9,300.0 470.9,298.3 470.4,296.5 C469.9,294.7 467.6,291.9 468.2,291.0 Z" fill="none" stroke="#f4f4f4" stroke-width="1.45" stroke-dasharray="3 1.8"/>
<line x1="493.40" y1="326.50" x2="510.70" y2="326.50" stroke="#e8e8e8" stroke-width="1.2" />
<text x="502.10" y="332.90" font-size="6.8" text-anchor="middle" fill="#ececec" >10 μm</text>
<clipPath id="ch20"><rect x="346.4" y="347.1" width="54.2" height="53.0"/></clipPath>
<rect x="346.40" y="347.10" width="54.20" height="53.00" fill="#060606" />
<g clip-path="url(#ch20)">
<g filter="url(#b4)">
<ellipse cx="386.4" cy="359.1" rx="6" ry="8" fill="#6a0c0c" fill-opacity="0.64"/>
<ellipse cx="348.4" cy="389.1" rx="6" ry="8" fill="#7a0e0e" fill-opacity="0.68"/>
<ellipse cx="356.4" cy="397.1" rx="8" ry="4" fill="#3a0606" fill-opacity="0.48"/>
</g>
<g filter="url(#trh)">
<rect x="346.40" y="347.10" width="54.20" height="53.00" fill="#000" fill-opacity="0"/>
<g filter="url(#b4)">
<ellipse cx="386.4" cy="359.1" rx="7" ry="9" fill="#fff" fill-opacity="0.72"/>
<ellipse cx="348.4" cy="389.1" rx="7" ry="9" fill="#fff" fill-opacity="0.8"/>
</g></g>
<path d="M376.3,371.1 C376.4,372.7 376.3,374.4 376.0,375.8 C375.6,377.3 375.0,378.7 374.3,379.9 C373.5,381.0 372.5,382.0 371.5,382.6 C370.4,383.2 369.2,383.5 368.0,383.5 C366.8,383.5 365.5,383.2 364.4,382.6 C363.2,382.0 362.1,381.0 361.1,379.9 C360.2,378.7 359.4,377.3 358.8,375.8 C358.2,374.4 357.8,372.7 357.7,371.1 C357.6,369.5 357.7,367.8 358.0,366.4 C358.4,364.9 359.0,363.5 359.7,362.3 C360.5,361.2 361.5,360.2 362.5,359.6 C363.6,359.0 364.8,358.7 366.0,358.7 C367.2,358.7 368.5,359.0 369.6,359.6 C370.8,360.2 371.9,361.2 372.9,362.3 C373.8,363.5 374.6,364.9 375.2,366.4 C375.8,367.8 376.2,369.5 376.3,371.1 Z" fill="#be1618" fill-opacity="1" filter="url(#b08)"/>
<path d="M376.3,371.1 C376.4,372.7 376.3,374.4 376.0,375.8 C375.6,377.3 375.0,378.7 374.3,379.9 C373.5,381.0 372.5,382.0 371.5,382.6 C370.4,383.2 369.2,383.5 368.0,383.5 C366.8,383.5 365.5,383.2 364.4,382.6 C363.2,382.0 362.1,381.0 361.1,379.9 C360.2,378.7 359.4,377.3 358.8,375.8 C358.2,374.4 357.8,372.7 357.7,371.1 C357.6,369.5 357.7,367.8 358.0,366.4 C358.4,364.9 359.0,363.5 359.7,362.3 C360.5,361.2 361.5,360.2 362.5,359.6 C363.6,359.0 364.8,358.7 366.0,358.7 C367.2,358.7 368.5,359.0 369.6,359.6 C370.8,360.2 371.9,361.2 372.9,362.3 C373.8,363.5 374.6,364.9 375.2,366.4 C375.8,367.8 376.2,369.5 376.3,371.1 Z" fill="#fff" filter="url(#tcell)"/>
<g filter="url(#b08)">
<circle cx="364.4" cy="367.1" r="5" fill="#d82222" fill-opacity="0.6"/>
</g>
</g>
<path d="M376.3,371.1 C376.4,372.7 376.3,374.4 376.0,375.8 C375.6,377.3 375.0,378.7 374.3,379.9 C373.5,381.0 372.5,382.0 371.5,382.6 C370.4,383.2 369.2,383.5 368.0,383.5 C366.8,383.5 365.5,383.2 364.4,382.6 C363.2,382.0 362.1,381.0 361.1,379.9 C360.2,378.7 359.4,377.3 358.8,375.8 C358.2,374.4 357.8,372.7 357.7,371.1 C357.6,369.5 357.7,367.8 358.0,366.4 C358.4,364.9 359.0,363.5 359.7,362.3 C360.5,361.2 361.5,360.2 362.5,359.6 C363.6,359.0 364.8,358.7 366.0,358.7 C367.2,358.7 368.5,359.0 369.6,359.6 C370.8,360.2 371.9,361.2 372.9,362.3 C373.8,363.5 374.6,364.9 375.2,366.4 C375.8,367.8 376.2,369.5 376.3,371.1 Z" fill="none" stroke="#f4f4f4" stroke-width="1.45" stroke-dasharray="3 1.8"/>
<line x1="381.10" y1="392.70" x2="398.40" y2="392.70" stroke="#e8e8e8" stroke-width="1.2" />
<text x="389.80" y="399.10" font-size="6.8" text-anchor="middle" fill="#ececec" >10 μm</text>
<clipPath id="ch21"><rect x="402.6" y="347.1" width="54.6" height="53.0"/></clipPath>
<rect x="402.60" y="347.10" width="54.60" height="53.00" fill="#060606" />
<g clip-path="url(#ch21)">
<g filter="url(#b4)">
<ellipse cx="432.6" cy="357.1" rx="10" ry="8" fill="#0a4a52" fill-opacity="0.64"/>
<ellipse cx="448.6" cy="377.1" rx="10" ry="18" fill="#0e6068" fill-opacity="0.72"/>
<ellipse cx="428.6" cy="395.1" rx="22" ry="8" fill="#0e6068" fill-opacity="0.72"/>
<ellipse cx="408.6" cy="383.1" rx="6" ry="10" fill="#0a4a52" fill-opacity="0.56"/>
<ellipse cx="442.6" cy="351.1" rx="8" ry="4" fill="#0a4a52" fill-opacity="0.56"/>
</g>
<g filter="url(#tch)">
<rect x="402.60" y="347.10" width="54.60" height="53.00" fill="#000" fill-opacity="0"/>
<g filter="url(#b4)">
<ellipse cx="436.6" cy="357.1" rx="11" ry="8" fill="#fff" fill-opacity="0.72"/>
<ellipse cx="448.6" cy="377.1" rx="10" ry="18" fill="#fff" fill-opacity="0.72"/>
<ellipse cx="428.6" cy="395.1" rx="22" ry="8" fill="#fff" fill-opacity="0.72"/>
<ellipse cx="408.6" cy="383.1" rx="6" ry="10" fill="#fff" fill-opacity="0.56"/>
<ellipse cx="442.6" cy="351.1" rx="9" ry="4" fill="#fff" fill-opacity="0.64"/>
</g></g>
<g filter="url(#b08)">
<circle cx="441.5" cy="363.5" r="1.78" fill="#1a8c96" fill-opacity="0.33"/>
<circle cx="435.0" cy="396.1" r="1.24" fill="#2cb8c2" fill-opacity="0.59"/>
<circle cx="405.6" cy="395.7" r="1.24" fill="#147880" fill-opacity="0.42"/>
<circle cx="413.8" cy="399.1" r="1.88" fill="#22a4ae" fill-opacity="0.52"/>
<circle cx="445.2" cy="352.8" r="1.72" fill="#22a4ae" fill-opacity="0.32"/>
<circle cx="425.3" cy="354.6" r="2.31" fill="#22a4ae" fill-opacity="0.64"/>
<circle cx="442.0" cy="372.5" r="1.55" fill="#147880" fill-opacity="0.62"/>
<circle cx="408.7" cy="390.7" r="1.84" fill="#22a4ae" fill-opacity="0.52"/>
<circle cx="407.4" cy="361.5" r="2.14" fill="#2cb8c2" fill-opacity="0.32"/>
<circle cx="445.5" cy="366.0" r="1.9" fill="#1a8c96" fill-opacity="0.57"/>
<circle cx="422.2" cy="384.4" r="1.54" fill="#147880" fill-opacity="0.39"/>
<circle cx="455.6" cy="385.0" r="2.35" fill="#2cb8c2" fill-opacity="0.53"/>
<circle cx="434.0" cy="347.7" r="1.86" fill="#2cb8c2" fill-opacity="0.41"/>
<circle cx="429.6" cy="382.8" r="1.63" fill="#2cb8c2" fill-opacity="0.53"/>
<circle cx="442.4" cy="391.0" r="1.62" fill="#22a4ae" fill-opacity="0.6"/>
<circle cx="439.8" cy="398.8" r="2.35" fill="#22a4ae" fill-opacity="0.49"/>
<circle cx="411.6" cy="391.4" r="2.32" fill="#147880" fill-opacity="0.4"/>
<circle cx="406.9" cy="382.7" r="1.7" fill="#147880" fill-opacity="0.41"/>
<circle cx="432.5" cy="393.1" r="1.52" fill="#1a8c96" fill-opacity="0.37"/>
<circle cx="434.3" cy="380.2" r="1.42" fill="#22a4ae" fill-opacity="0.52"/>
<circle cx="404.9" cy="372.1" r="1.47" fill="#1a8c96" fill-opacity="0.61"/>
<circle cx="408.6" cy="398.4" r="1.78" fill="#1a8c96" fill-opacity="0.45"/>
</g>
</g>
<path d="M432.5,371.1 C432.6,372.7 432.5,374.4 432.2,375.8 C431.8,377.3 431.2,378.7 430.5,379.9 C429.7,381.0 428.7,382.0 427.7,382.6 C426.6,383.2 425.4,383.5 424.2,383.5 C423.0,383.5 421.7,383.2 420.6,382.6 C419.4,382.0 418.3,381.0 417.3,379.9 C416.4,378.7 415.6,377.3 415.0,375.8 C414.4,374.4 414.0,372.7 413.9,371.1 C413.8,369.5 413.9,367.8 414.2,366.4 C414.6,364.9 415.2,363.5 415.9,362.3 C416.7,361.2 417.7,360.2 418.7,359.6 C419.8,359.0 421.0,358.7 422.2,358.7 C423.4,358.7 424.7,359.0 425.8,359.6 C427.0,360.2 428.1,361.2 429.1,362.3 C430.0,363.5 430.8,364.9 431.4,366.4 C432.0,367.8 432.4,369.5 432.5,371.1 Z" fill="none" stroke="#f4f4f4" stroke-width="1.45" stroke-dasharray="3 1.8"/>
<line x1="437.70" y1="392.70" x2="455.00" y2="392.70" stroke="#e8e8e8" stroke-width="1.2" />
<text x="446.40" y="399.10" font-size="6.8" text-anchor="middle" fill="#ececec" >10 μm</text>
<clipPath id="ch22"><rect x="458.9" y="347.1" width="54.0" height="53.0"/></clipPath>
<rect x="458.90" y="347.10" width="54.00" height="53.00" fill="#060606" />
<g clip-path="url(#ch22)">
<g filter="url(#b4)">
<ellipse cx="488.9" cy="357.1" rx="10" ry="8" fill="#0a4a52" fill-opacity="0.64"/>
<ellipse cx="504.9" cy="377.1" rx="10" ry="18" fill="#0e6068" fill-opacity="0.72"/>
<ellipse cx="484.9" cy="395.1" rx="22" ry="8" fill="#0e6068" fill-opacity="0.72"/>
<ellipse cx="464.9" cy="383.1" rx="6" ry="10" fill="#0a4a52" fill-opacity="0.56"/>
<ellipse cx="498.9" cy="351.1" rx="8" ry="4" fill="#0a4a52" fill-opacity="0.56"/>
<ellipse cx="496.9" cy="361.1" rx="5" ry="6" fill="#6a0c0c" fill-opacity="0.56"/>
<ellipse cx="460.9" cy="389.1" rx="6" ry="8" fill="#6a0c0c" fill-opacity="0.64"/>
</g>
<g filter="url(#tch)">
<rect x="458.90" y="347.10" width="54.00" height="53.00" fill="#000" fill-opacity="0"/>
<g filter="url(#b4)">
<ellipse cx="490.9" cy="357.1" rx="12" ry="9" fill="#fff" fill-opacity="0.8"/>
<ellipse cx="504.9" cy="377.1" rx="11" ry="20" fill="#fff" fill-opacity="0.8"/>
<ellipse cx="484.9" cy="395.1" rx="24" ry="9" fill="#fff" fill-opacity="0.8"/>
<ellipse cx="464.9" cy="383.1" rx="7" ry="12" fill="#fff" fill-opacity="0.72"/>
<ellipse cx="498.9" cy="351.1" rx="10" ry="5" fill="#fff" fill-opacity="0.72"/>
</g></g>
<g filter="url(#b08)">
<circle cx="462.8" cy="357.9" r="2.21" fill="#2cb8c2" fill-opacity="0.3"/>
<circle cx="481.0" cy="353.2" r="2.36" fill="#2cb8c2" fill-opacity="0.69"/>
<circle cx="488.6" cy="363.1" r="1.61" fill="#2cb8c2" fill-opacity="0.68"/>
<circle cx="465.9" cy="368.8" r="1.99" fill="#2cb8c2" fill-opacity="0.49"/>
<circle cx="467.4" cy="367.4" r="1.87" fill="#22a4ae" fill-opacity="0.69"/>
<circle cx="491.8" cy="365.7" r="2.45" fill="#1a8c96" fill-opacity="0.45"/>
<circle cx="476.5" cy="395.7" r="1.96" fill="#2cb8c2" fill-opacity="0.55"/>
<circle cx="507.0" cy="367.0" r="1.8" fill="#22a4ae" fill-opacity="0.5"/>
<circle cx="484.8" cy="384.6" r="1.74" fill="#22a4ae" fill-opacity="0.54"/>
<circle cx="472.9" cy="399.1" r="1.89" fill="#147880" fill-opacity="0.31"/>
<circle cx="509.9" cy="363.4" r="2.5" fill="#22a4ae" fill-opacity="0.49"/>
<circle cx="465.5" cy="380.0" r="1.82" fill="#2cb8c2" fill-opacity="0.32"/>
<circle cx="466.3" cy="367.9" r="1.87" fill="#2cb8c2" fill-opacity="0.4"/>
<circle cx="484.5" cy="349.0" r="1.89" fill="#22a4ae" fill-opacity="0.59"/>
<circle cx="512.5" cy="374.6" r="2.41" fill="#1a8c96" fill-opacity="0.31"/>
<circle cx="465.7" cy="362.1" r="2.19" fill="#2cb8c2" fill-opacity="0.59"/>
<circle cx="460.3" cy="365.6" r="2.15" fill="#22a4ae" fill-opacity="0.31"/>
<circle cx="508.4" cy="394.2" r="1.96" fill="#1a8c96" fill-opacity="0.47"/>
<circle cx="502.5" cy="378.6" r="2.16" fill="#147880" fill-opacity="0.64"/>
<circle cx="504.3" cy="372.3" r="2.16" fill="#22a4ae" fill-opacity="0.66"/>
<circle cx="484.0" cy="387.3" r="1.63" fill="#1a8c96" fill-opacity="0.58"/>
<circle cx="501.1" cy="395.4" r="1.4" fill="#147880" fill-opacity="0.58"/>
<circle cx="506.9" cy="398.7" r="1.95" fill="#147880" fill-opacity="0.53"/>
<circle cx="502.7" cy="350.7" r="1.52" fill="#1a8c96" fill-opacity="0.62"/>
</g>
<path d="M488.8,371.1 C488.9,372.7 488.8,374.4 488.5,375.8 C488.1,377.3 487.5,378.7 486.8,379.9 C486.0,381.0 485.0,382.0 484.0,382.6 C482.9,383.2 481.7,383.5 480.5,383.5 C479.3,383.5 478.0,383.2 476.9,382.6 C475.7,382.0 474.6,381.0 473.6,379.9 C472.7,378.7 471.9,377.3 471.3,375.8 C470.7,374.4 470.3,372.7 470.2,371.1 C470.1,369.5 470.2,367.8 470.5,366.4 C470.9,364.9 471.5,363.5 472.2,362.3 C473.0,361.2 474.0,360.2 475.0,359.6 C476.1,359.0 477.3,358.7 478.5,358.7 C479.7,358.7 481.0,359.0 482.1,359.6 C483.3,360.2 484.4,361.2 485.4,362.3 C486.3,363.5 487.1,364.9 487.7,366.4 C488.3,367.8 488.7,369.5 488.8,371.1 Z" fill="#c41a1c" fill-opacity="1" filter="url(#b08)"/>
<path d="M488.8,371.1 C488.9,372.7 488.8,374.4 488.5,375.8 C488.1,377.3 487.5,378.7 486.8,379.9 C486.0,381.0 485.0,382.0 484.0,382.6 C482.9,383.2 481.7,383.5 480.5,383.5 C479.3,383.5 478.0,383.2 476.9,382.6 C475.7,382.0 474.6,381.0 473.6,379.9 C472.7,378.7 471.9,377.3 471.3,375.8 C470.7,374.4 470.3,372.7 470.2,371.1 C470.1,369.5 470.2,367.8 470.5,366.4 C470.9,364.9 471.5,363.5 472.2,362.3 C473.0,361.2 474.0,360.2 475.0,359.6 C476.1,359.0 477.3,358.7 478.5,358.7 C479.7,358.7 481.0,359.0 482.1,359.6 C483.3,360.2 484.4,361.2 485.4,362.3 C486.3,363.5 487.1,364.9 487.7,366.4 C488.3,367.8 488.7,369.5 488.8,371.1 Z" fill="#fff" filter="url(#tcell)"/>
<g filter="url(#b08)">
<circle cx="476.9" cy="367.1" r="5" fill="#d82222" fill-opacity="0.6"/>
</g>
</g>
<path d="M488.8,371.1 C488.9,372.7 488.8,374.4 488.5,375.8 C488.1,377.3 487.5,378.7 486.8,379.9 C486.0,381.0 485.0,382.0 484.0,382.6 C482.9,383.2 481.7,383.5 480.5,383.5 C479.3,383.5 478.0,383.2 476.9,382.6 C475.7,382.0 474.6,381.0 473.6,379.9 C472.7,378.7 471.9,377.3 471.3,375.8 C470.7,374.4 470.3,372.7 470.2,371.1 C470.1,369.5 470.2,367.8 470.5,366.4 C470.9,364.9 471.5,363.5 472.2,362.3 C473.0,361.2 474.0,360.2 475.0,359.6 C476.1,359.0 477.3,358.7 478.5,358.7 C479.7,358.7 481.0,359.0 482.1,359.6 C483.3,360.2 484.4,361.2 485.4,362.3 C486.3,363.5 487.1,364.9 487.7,366.4 C488.3,367.8 488.7,369.5 488.8,371.1 Z" fill="none" stroke="#f4f4f4" stroke-width="1.45" stroke-dasharray="3 1.8"/>
<line x1="493.40" y1="392.70" x2="510.70" y2="392.70" stroke="#e8e8e8" stroke-width="1.2" />
<text x="502.10" y="399.10" font-size="6.8" text-anchor="middle" fill="#ececec" >10 μm</text>
<text x="6.20" y="418.80" font-size="11.5" text-anchor="start" font-weight="bold" fill="#000" >I</text>
<rect x="47.10" y="525.00" width="25.10" height="6.50" fill="#e8a5ae" />
<rect x="92.40" y="461.80" width="25.30" height="69.70" fill="#84a7c8" />
<line x1="34.30" y1="420.20" x2="34.30" y2="532.00" stroke="#1e1e1e" stroke-width="1.1" />
<line x1="33.70" y1="531.50" x2="122.50" y2="531.50" stroke="#1e1e1e" stroke-width="1.1" />
<line x1="31.20" y1="531.50" x2="34.20" y2="531.50" stroke="#1e1e1e" stroke-width="1" />
<text x="28.00" y="534.30" font-size="7.7" text-anchor="end" fill="#1a1a1a" >0</text>
<line x1="31.20" y1="504.90" x2="34.20" y2="504.90" stroke="#1e1e1e" stroke-width="1" />
<text x="28.00" y="507.70" font-size="7.7" text-anchor="end" fill="#1a1a1a" >20</text>
<line x1="31.20" y1="478.30" x2="34.20" y2="478.30" stroke="#1e1e1e" stroke-width="1" />
<text x="28.00" y="481.10" font-size="7.7" text-anchor="end" fill="#1a1a1a" >40</text>
<line x1="31.20" y1="451.70" x2="34.20" y2="451.70" stroke="#1e1e1e" stroke-width="1" />
<text x="28.00" y="454.50" font-size="7.7" text-anchor="end" fill="#1a1a1a" >60</text>
<line x1="31.20" y1="425.10" x2="34.20" y2="425.10" stroke="#1e1e1e" stroke-width="1" />
<text x="28.00" y="427.90" font-size="7.7" text-anchor="end" fill="#1a1a1a" >80</text>
<line x1="59.20" y1="531.50" x2="59.20" y2="534.50" stroke="#1e1e1e" stroke-width="1" />
<line x1="105.00" y1="531.50" x2="105.00" y2="534.50" stroke="#1e1e1e" stroke-width="1" />
<text x="59.20" y="543.20" font-size="7.4" text-anchor="middle" fill="#1a1a1a" >Nonexp. cells</text>
<text x="105.00" y="543.20" font-size="7.4" text-anchor="middle" fill="#1a1a1a" >Exp. cells</text>
<path d="M59.2,511 V429.5 H105 V434" stroke="#1e1e1e" fill="none" stroke-width="1" />
<text x="82.10" y="428.60" font-size="9" text-anchor="middle" font-weight="bold" fill="#111" >****</text>
<line x1="105.00" y1="446.20" x2="105.00" y2="477.10" stroke="#222" stroke-width="1.1" />
<line x1="99.50" y1="446.20" x2="110.50" y2="446.20" stroke="#222" stroke-width="1.1" />
<line x1="99.50" y1="477.10" x2="110.50" y2="477.10" stroke="#222" stroke-width="1.1" />
<line x1="59.20" y1="518.30" x2="59.20" y2="531.00" stroke="#222" stroke-width="1.1" />
<line x1="54.00" y1="518.30" x2="64.40" y2="518.30" stroke="#222" stroke-width="1.1" />
<circle cx="101.00" cy="442.70" r="1.70" fill="#0f4c8c" />
<circle cx="108.20" cy="442.70" r="1.70" fill="#0f4c8c" />
<circle cx="105.00" cy="451.50" r="1.70" fill="#0f4c8c" />
<circle cx="98.30" cy="465.00" r="1.70" fill="#0f4c8c" />
<circle cx="105.00" cy="465.00" r="1.70" fill="#0f4c8c" />
<circle cx="111.70" cy="465.00" r="1.70" fill="#0f4c8c" />
<circle cx="105.00" cy="474.40" r="1.70" fill="#0f4c8c" />
<circle cx="105.00" cy="487.90" r="1.70" fill="#0f4c8c" />
<circle cx="59.20" cy="513.00" r="1.70" fill="#c8102e" />
<circle cx="59.20" cy="517.50" r="1.70" fill="#c8102e" />
<circle cx="53.80" cy="525.60" r="1.70" fill="#c8102e" />
<circle cx="59.20" cy="525.60" r="1.70" fill="#c8102e" />
<circle cx="65.40" cy="525.60" r="1.70" fill="#c8102e" />
<circle cx="56.50" cy="530.50" r="1.70" fill="#c8102e" />
<circle cx="62.00" cy="530.50" r="1.70" fill="#c8102e" />
<circle cx="65.40" cy="530.50" r="1.70" fill="#c8102e" />
<text transform="translate(14.2,478.3) rotate(-90)" x="0" y="0" font-size="9.2" text-anchor="middle" fill="#1a1a1a" textLength="65" lengthAdjust="spacingAndGlyphs">% CX3CR1<tspan dy="-2.8" font-size="6">+</tspan><tspan dy="2.8"> AML cells</tspan></text>
<text x="133.30" y="419.20" font-size="11.5" text-anchor="start" font-weight="bold" fill="#000" >J</text>
<text x="170.60" y="419.80" font-size="8.78" text-anchor="start" fill="#1a1a1a" >Explorative cells only</text>
<text x="275.00" y="420.20" font-size="8.78" text-anchor="start" fill="#1a1a1a" >Nonexplor. cells only</text>
<text x="400.30" y="419.80" font-size="8.78" text-anchor="start" fill="#1a1a1a" >10% explor. cells</text>
<path d="M177 436h1v1h-1zm8 0h1v1h-1zm3 0h1v1h-1zm1 0h1v1h-1zm4 0h1v1h-1zm6 0h1v1h-1zm8 0h1v1h-1zm2 0h1v1h-1zm2 0h1v1h-1zm6 0h1v1h-1zm2 0h1v1h-1zm4 0h1v1h-1zm4 0h1v1h-1zm3 0h1v1h-1zm8 0h1v1h-1zm2 0h1v1h-1zm8 0h1v1h-1zm-78 1h1v1h-1zm3 0h1v1h-1zm1 0h1v1h-1zm3 0h1v1h-1zm6 0h1v1h-1zm5 0h1v1h-1zm10 0h1v1h-1zm8 0h1v1h-1zm4 0h1v1h-1zm1 0h1v1h-1zm2 0h1v1h-1zm3 0h1v1h-1zm12 0h1v1h-1zm2 0h1v1h-1zm2 0h1v1h-1zm1 0h1v1h-1zm2 0h1v1h-1zm2 0h1v1h-1zm2 0h1v1h-1zm9 0h1v1h-1zm2 0h1v1h-1zm8 0h1v1h-1zm-88 1h1v1h-1zm5 0h1v1h-1zm1 0h1v1h-1zm2 0h1v1h-1zm4 0h1v1h-1zm3 0h1v1h-1zm4 0h1v1h-1zm7 0h1v1h-1zm1 0h1v1h-1zm5 0h1v1h-1zm1 0h1v1h-1zm11 0h1v1h-1zm3 0h1v1h-1zm1 0h1v1h-1zm3 0h1v1h-1zm5 0h1v1h-1zm8 0h1v1h-1zm11 0h1v1h-1zm8 0h1v1h-1zm1 0h1v1h-1zm4 0h1v1h-1zm-84 1h1v1h-1zm2 0h1v1h-1zm16 0h1v1h-1zm3 0h1v1h-1zm5 0h1v1h-1zm12 0h1v1h-1zm6 0h1v1h-1zm12 0h1v1h-1zm3 0h1v1h-1zm3 0h1v1h-1zm2 0h1v1h-1zm2 0h1v1h-1zm4 0h1v1h-1zm8 0h1v1h-1zm2 0h1v1h-1zm2 0h1v1h-1zm4 0h1v1h-1zm-85 1h1v1h-1zm2 0h1v1h-1zm1 0h1v1h-1zm9 0h1v1h-1zm3 0h1v1h-1zm1 0h1v1h-1zm6 0h1v1h-1zm3 0h1v1h-1zm6 0h1v1h-1zm1 0h1v1h-1zm5 0h1v1h-1zm1 0h1v1h-1zm7 0h1v1h-1zm1 0h1v1h-1zm1 0h1v1h-1zm1 0h1v1h-1zm2 0h1v1h-1zm1 0h1v1h-1zm2 0h1v1h-1zm24 0h1v1h-1zm1 0h1v1h-1zm1 0h1v1h-1zm3 0h1v1h-1zm-87 1h1v1h-1zm4 0h1v1h-1zm1 0h1v1h-1zm2 0h1v1h-1zm2 0h1v1h-1zm3 0h1v1h-1zm7 0h1v1h-1zm1 0h1v1h-1zm2 0h1v1h-1zm1 0h1v1h-1zm8 0h1v1h-1zm1 0h1v1h-1zm2 0h1v1h-1zm4 0h1v1h-1zm1 0h1v1h-1zm1 0h1v1h-1zm1 0h1v1h-1zm3 0h1v1h-1zm5 0h1v1h-1zm5 0h1v1h-1zm19 0h1v1h-1zm3 0h1v1h-1zm5 0h1v1h-1zm4 0h1v1h-1zm2 0h1v1h-1zm-83 1h1v1h-1zm2 0h1v1h-1zm5 0h1v1h-1zm5 0h1v1h-1zm2 0h1v1h-1zm1 0h1v1h-1zm3 0h1v1h-1zm3 0h1v1h-1zm1 0h1v1h-1zm5 0h1v1h-1zm5 0h1v1h-1zm7 0h1v1h-1zm2 0h1v1h-1zm6 0h1v1h-1zm2 0h1v1h-1zm3 0h1v1h-1zm7 0h1v1h-1zm5 0h1v1h-1zm3 0h1v1h-1zm2 0h1v1h-1zm1 0h1v1h-1zm2 0h1v1h-1zm14 0h1v1h-1zm-80 1h1v1h-1zm1 0h1v1h-1zm7 0h1v1h-1zm3 0h1v1h-1zm10 0h1v1h-1zm1 0h1v1h-1zm4 0h1v1h-1zm2 0h1v1h-1zm1 0h1v1h-1zm5 0h1v1h-1zm6 0h1v1h-1zm2 0h1v1h-1zm15 0h1v1h-1zm1 0h1v1h-1zm3 0h1v1h-1zm-65 1h1v1h-1zm1 0h1v1h-1zm1 0h1v1h-1zm2 0h1v1h-1zm1 0h1v1h-1zm1 0h1v1h-1zm6 0h1v1h-1zm3 0h1v1h-1zm1 0h1v1h-1zm6 0h1v1h-1zm3 0h1v1h-1zm8 0h1v1h-1zm2 0h1v1h-1zm2 0h1v1h-1zm3 0h1v1h-1zm2 0h1v1h-1zm2 0h1v1h-1zm1 0h1v1h-1zm1 0h1v1h-1zm6 0h1v1h-1zm1 0h1v1h-1zm2 0h1v1h-1zm8 0h1v1h-1zm8 0h1v1h-1zm3 0h1v1h-1zm-78 1h1v1h-1zm1 0h1v1h-1zm7 0h1v1h-1zm2 0h1v1h-1zm2 0h1v1h-1zm1 0h1v1h-1zm1 0h1v1h-1zm2 0h1v1h-1zm3 0h1v1h-1zm1 0h1v1h-1zm1 0h1v1h-1zm2 0h1v1h-1zm1 0h1v1h-1zm3 0h1v1h-1zm1 0h1v1h-1zm3 0h1v1h-1zm4 0h1v1h-1zm3 0h1v1h-1zm2 0h1v1h-1zm2 0h1v1h-1zm1 0h1v1h-1zm3 0h1v1h-1zm5 0h1v1h-1zm3 0h1v1h-1zm4 0h1v1h-1zm6 0h1v1h-1zm1 0h1v1h-1zm2 0h1v1h-1zm3 0h1v1h-1zm2 0h1v1h-1zm-73 1h1v1h-1zm2 0h1v1h-1zm4 0h1v1h-1zm5 0h1v1h-1zm2 0h1v1h-1zm3 0h1v1h-1zm6 0h1v1h-1zm8 0h1v1h-1zm1 0h1v1h-1zm5 0h1v1h-1zm2 0h1v1h-1zm3 0h1v1h-1zm2 0h1v1h-1zm13 0h1v1h-1zm1 0h1v1h-1zm10 0h1v1h-1zm3 0h1v1h-1zm5 0h1v1h-1zm2 0h1v1h-1zm2 0h1v1h-1zm-74 1h1v1h-1zm3 0h1v1h-1zm11 0h1v1h-1zm12 0h1v1h-1zm1 0h1v1h-1zm1 0h1v1h-1zm1 0h1v1h-1zm1 0h1v1h-1zm2 0h1v1h-1zm1 0h1v1h-1zm2 0h1v1h-1zm8 0h1v1h-1zm5 0h1v1h-1zm4 0h1v1h-1zm6 0h1v1h-1zm4 0h1v1h-1zm1 0h1v1h-1zm1 0h1v1h-1zm3 0h1v1h-1zm1 0h1v1h-1zm2 0h1v1h-1zm5 0h1v1h-1zm3 0h1v1h-1zm4 0h1v1h-1zm-81 1h1v1h-1zm5 0h1v1h-1zm2 0h1v1h-1zm2 0h1v1h-1zm1 0h1v1h-1zm2 0h1v1h-1zm3 0h1v1h-1zm2 0h1v1h-1zm4 0h1v1h-1zm2 0h1v1h-1zm6 0h1v1h-1zm3 0h1v1h-1zm1 0h1v1h-1zm1 0h1v1h-1zm1 0h1v1h-1zm15 0h1v1h-1zm8 0h1v1h-1zm2 0h1v1h-1zm3 0h1v1h-1zm1 0h1v1h-1zm8 0h1v1h-1zm2 0h1v1h-1zm5 0h1v1h-1zm-83 1h1v1h-1zm3 0h1v1h-1zm6 0h1v1h-1zm1 0h1v1h-1zm1 0h1v1h-1zm8 0h1v1h-1zm3 0h1v1h-1zm1 0h1v1h-1zm7 0h1v1h-1zm4 0h1v1h-1zm3 0h1v1h-1zm3 0h1v1h-1zm3 0h1v1h-1zm1 0h1v1h-1zm2 0h1v1h-1zm5 0h1v1h-1zm5 0h1v1h-1zm5 0h1v1h-1zm5 0h1v1h-1zm1 0h1v1h-1zm14 0h1v1h-1zm6 0h1v1h-1zm-89 1h1v1h-1zm4 0h1v1h-1zm2 0h1v1h-1zm4 0h1v1h-1zm4 0h1v1h-1zm2 0h1v1h-1zm1 0h1v1h-1zm4 0h1v1h-1zm1 0h1v1h-1zm2 0h1v1h-1zm1 0h1v1h-1zm3 0h1v1h-1zm1 0h1v1h-1zm1 0h1v1h-1zm1 0h1v1h-1zm2 0h1v1h-1zm1 0h1v1h-1zm2 0h1v1h-1zm2 0h1v1h-1zm4 0h1v1h-1zm1 0h1v1h-1zm2 0h1v1h-1zm2 0h1v1h-1zm3 0h1v1h-1zm8 0h1v1h-1zm3 0h1v1h-1zm10 0h1v1h-1zm3 0h1v1h-1zm4 0h1v1h-1zm1 0h1v1h-1zm4 0h1v1h-1zm5 0h1v1h-1zm-89 1h1v1h-1zm5 0h1v1h-1zm2 0h1v1h-1zm5 0h1v1h-1zm5 0h1v1h-1zm9 0h1v1h-1zm2 0h1v1h-1zm7 0h1v1h-1zm1 0h1v1h-1zm1 0h1v1h-1zm7 0h1v1h-1zm2 0h1v1h-1zm2 0h1v1h-1zm2 0h1v1h-1zm6 0h1v1h-1zm2 0h1v1h-1zm7 0h1v1h-1zm10 0h1v1h-1zm1 0h1v1h-1zm4 0h1v1h-1zm3 0h1v1h-1zm2 0h1v1h-1zm-85 1h1v1h-1zm2 0h1v1h-1zm8 0h1v1h-1zm2 0h1v1h-1zm4 0h1v1h-1zm1 0h1v1h-1zm4 0h1v1h-1zm5 0h1v1h-1zm1 0h1v1h-1zm1 0h1v1h-1zm4 0h1v1h-1zm1 0h1v1h-1zm7 0h1v1h-1zm6 0h1v1h-1zm3 0h1v1h-1zm3 0h1v1h-1zm1 0h1v1h-1zm3 0h1v1h-1zm1 0h1v1h-1zm8 0h1v1h-1zm2 0h1v1h-1zm3 0h1v1h-1zm5 0h1v1h-1zm2 0h1v1h-1zm3 0h1v1h-1zm5 0h1v1h-1zm-82 1h1v1h-1zm4 0h1v1h-1zm3 0h1v1h-1zm4 0h1v1h-1zm1 0h1v1h-1zm2 0h1v1h-1zm2 0h1v1h-1zm4 0h1v1h-1zm1 0h1v1h-1zm3 0h1v1h-1zm1 0h1v1h-1zm1 0h1v1h-1zm5 0h1v1h-1zm5 0h1v1h-1zm1 0h1v1h-1zm3 0h1v1h-1zm4 0h1v1h-1zm4 0h1v1h-1zm5 0h1v1h-1zm6 0h1v1h-1zm5 0h1v1h-1zm10 0h1v1h-1zm1 0h1v1h-1zm1 0h1v1h-1zm3 0h1v1h-1zm2 0h1v1h-1zm1 0h1v1h-1zm-81 1h1v1h-1zm5 0h1v1h-1zm2 0h1v1h-1zm1 0h1v1h-1zm14 0h1v1h-1zm1 0h1v1h-1zm2 0h1v1h-1zm3 0h1v1h-1zm6 0h1v1h-1zm3 0h1v1h-1zm2 0h1v1h-1zm2 0h1v1h-1zm1 0h1v1h-1zm2 0h1v1h-1zm2 0h1v1h-1zm1 0h1v1h-1zm1 0h1v1h-1zm1 0h1v1h-1zm4 0h1v1h-1zm1 0h1v1h-1zm4 0h1v1h-1zm5 0h1v1h-1zm13 0h1v1h-1zm2 0h1v1h-1zm7 0h1v1h-1zm-81 1h1v1h-1zm3 0h1v1h-1zm1 0h1v1h-1zm6 0h1v1h-1zm1 0h1v1h-1zm3 0h1v1h-1zm1 0h1v1h-1zm4 0h1v1h-1zm3 0h1v1h-1zm1 0h1v1h-1zm3 0h1v1h-1zm1 0h1v1h-1zm2 0h1v1h-1zm1 0h1v1h-1zm2 0h1v1h-1zm3 0h1v1h-1zm1 0h1v1h-1zm15 0h1v1h-1zm3 0h1v1h-1zm7 0h1v1h-1zm7 0h1v1h-1zm7 0h1v1h-1zm3 0h1v1h-1zm-75 1h1v1h-1zm1 0h1v1h-1zm3 0h1v1h-1zm1 0h1v1h-1zm6 0h1v1h-1zm2 0h1v1h-1zm4 0h1v1h-1zm3 0h1v1h-1zm3 0h1v1h-1zm1 0h1v1h-1zm7 0h1v1h-1zm2 0h1v1h-1zm6 0h1v1h-1zm1 0h1v1h-1zm2 0h1v1h-1zm18 0h1v1h-1zm5 0h1v1h-1zm5 0h1v1h-1zm6 0h1v1h-1zm3 0h1v1h-1zm-90 1h1v1h-1zm2 0h1v1h-1zm8 0h1v1h-1zm1 0h1v1h-1zm7 0h1v1h-1zm1 0h1v1h-1zm6 0h1v1h-1zm9 0h1v1h-1zm3 0h1v1h-1zm4 0h1v1h-1zm4 0h1v1h-1zm1 0h1v1h-1zm1 0h1v1h-1zm2 0h1v1h-1zm8 0h1v1h-1zm2 0h1v1h-1zm20 0h1v1h-1zm2 0h1v1h-1zm2 0h1v1h-1zm-82 1h1v1h-1zm6 0h1v1h-1zm2 0h1v1h-1zm3 0h1v1h-1zm4 0h1v1h-1zm1 0h1v1h-1zm9 0h1v1h-1zm5 0h1v1h-1zm2 0h1v1h-1zm2 0h1v1h-1zm4 0h1v1h-1zm1 0h1v1h-1zm2 0h1v1h-1zm1 0h1v1h-1zm1 0h1v1h-1zm7 0h1v1h-1zm1 0h1v1h-1zm1 0h1v1h-1zm4 0h1v1h-1zm7 0h1v1h-1zm3 0h1v1h-1zm14 0h1v1h-1zm1 0h1v1h-1zm3 0h1v1h-1zm-84 1h1v1h-1zm1 0h1v1h-1zm4 0h1v1h-1zm9 0h1v1h-1zm5 0h1v1h-1zm1 0h1v1h-1zm5 0h1v1h-1zm5 0h1v1h-1zm3 0h1v1h-1zm4 0h1v1h-1zm1 0h1v1h-1zm1 0h1v1h-1zm1 0h1v1h-1zm1 0h1v1h-1zm1 0h1v1h-1zm2 0h1v1h-1zm2 0h1v1h-1zm4 0h1v1h-1zm10 0h1v1h-1zm2 0h1v1h-1zm2 0h1v1h-1zm2 0h1v1h-1zm1 0h1v1h-1zm2 0h1v1h-1zm3 0h1v1h-1zm9 0h1v1h-1zm1 0h1v1h-1zm5 0h1v1h-1zm-84 1h1v1h-1zm12 0h1v1h-1zm1 0h1v1h-1zm1 0h1v1h-1zm5 0h1v1h-1zm6 0h1v1h-1zm1 0h1v1h-1zm1 0h1v1h-1zm1 0h1v1h-1zm1 0h1v1h-1zm12 0h1v1h-1zm4 0h1v1h-1zm2 0h1v1h-1zm7 0h1v1h-1zm8 0h1v1h-1zm12 0h1v1h-1zm1 0h1v1h-1zm4 0h1v1h-1zm1 0h1v1h-1zm-85 1h1v1h-1zm3 0h1v1h-1zm1 0h1v1h-1zm3 0h1v1h-1zm1 0h1v1h-1zm1 0h1v1h-1zm1 0h1v1h-1zm3 0h1v1h-1zm2 0h1v1h-1zm3 0h1v1h-1zm1 0h1v1h-1zm2 0h1v1h-1zm1 0h1v1h-1zm2 0h1v1h-1zm1 0h1v1h-1zm2 0h1v1h-1zm2 0h1v1h-1zm3 0h1v1h-1zm1 0h1v1h-1zm3 0h1v1h-1zm9 0h1v1h-1zm7 0h1v1h-1zm14 0h1v1h-1zm5 0h1v1h-1zm1 0h1v1h-1zm5 0h1v1h-1zm1 0h1v1h-1zm8 0h1v1h-1zm3 0h1v1h-1zm-86 1h1v1h-1zm3 0h1v1h-1zm2 0h1v1h-1zm1 0h1v1h-1zm2 0h1v1h-1zm5 0h1v1h-1zm1 0h1v1h-1zm3 0h1v1h-1zm10 0h1v1h-1zm5 0h1v1h-1zm1 0h1v1h-1zm2 0h1v1h-1zm4 0h1v1h-1zm3 0h1v1h-1zm4 0h1v1h-1zm8 0h1v1h-1zm2 0h1v1h-1zm1 0h1v1h-1zm8 0h1v1h-1zm1 0h1v1h-1zm-65 1h1v1h-1zm8 0h1v1h-1zm3 0h1v1h-1zm1 0h1v1h-1zm3 0h1v1h-1zm6 0h1v1h-1zm3 0h1v1h-1zm3 0h1v1h-1zm1 0h1v1h-1zm8 0h1v1h-1zm4 0h1v1h-1zm1 0h1v1h-1zm2 0h1v1h-1zm1 0h1v1h-1zm4 0h1v1h-1zm1 0h1v1h-1zm4 0h1v1h-1zm9 0h1v1h-1zm2 0h1v1h-1zm2 0h1v1h-1zm8 0h1v1h-1zm9 0h1v1h-1zm-81 1h1v1h-1zm1 0h1v1h-1zm3 0h1v1h-1zm1 0h1v1h-1zm3 0h1v1h-1zm2 0h1v1h-1zm1 0h1v1h-1zm1 0h1v1h-1zm3 0h1v1h-1zm3 0h1v1h-1zm1 0h1v1h-1zm5 0h1v1h-1zm1 0h1v1h-1zm3 0h1v1h-1zm3 0h1v1h-1zm1 0h1v1h-1zm3 0h1v1h-1zm4 0h1v1h-1zm1 0h1v1h-1zm4 0h1v1h-1zm1 0h1v1h-1zm2 0h1v1h-1zm2 0h1v1h-1zm1 0h1v1h-1zm1 0h1v1h-1zm1 0h1v1h-1zm1 0h1v1h-1zm1 0h1v1h-1zm1 0h1v1h-1zm3 0h1v1h-1zm5 0h1v1h-1zm4 0h1v1h-1zm3 0h1v1h-1zm3 0h1v1h-1zm9 0h1v1h-1zm-86 1h1v1h-1zm7 0h1v1h-1zm1 0h1v1h-1zm4 0h1v1h-1zm4 0h1v1h-1zm3 0h1v1h-1zm6 0h1v1h-1zm1 0h1v1h-1zm3 0h1v1h-1zm1 0h1v1h-1zm10 0h1v1h-1zm1 0h1v1h-1zm6 0h1v1h-1zm9 0h1v1h-1zm7 0h1v1h-1zm2 0h1v1h-1zm1 0h1v1h-1zm2 0h1v1h-1zm10 0h1v1h-1zm2 0h1v1h-1zm1 0h1v1h-1zm-75 1h1v1h-1zm2 0h1v1h-1zm11 0h1v1h-1zm4 0h1v1h-1zm1 0h1v1h-1zm2 0h1v1h-1zm5 0h1v1h-1zm5 0h1v1h-1zm5 0h1v1h-1zm4 0h1v1h-1zm3 0h1v1h-1zm15 0h1v1h-1zm9 0h1v1h-1zm12 0h1v1h-1zm-84 1h1v1h-1zm2 0h1v1h-1zm4 0h1v1h-1zm11 0h1v1h-1zm2 0h1v1h-1zm3 0h1v1h-1zm1 0h1v1h-1zm7 0h1v1h-1zm2 0h1v1h-1zm1 0h1v1h-1zm3 0h1v1h-1zm5 0h1v1h-1zm5 0h1v1h-1zm10 0h1v1h-1zm2 0h1v1h-1zm2 0h1v1h-1zm1 0h1v1h-1zm1 0h1v1h-1zm7 0h1v1h-1zm-71 1h1v1h-1zm2 0h1v1h-1zm3 0h1v1h-1zm1 0h1v1h-1zm2 0h1v1h-1zm3 0h1v1h-1zm5 0h1v1h-1zm6 0h1v1h-1zm2 0h1v1h-1zm2 0h1v1h-1zm4 0h1v1h-1zm1 0h1v1h-1zm1 0h1v1h-1zm4 0h1v1h-1zm5 0h1v1h-1zm2 0h1v1h-1zm2 0h1v1h-1zm1 0h1v1h-1zm1 0h1v1h-1zm2 0h1v1h-1zm3 0h1v1h-1zm1 0h1v1h-1zm2 0h1v1h-1zm4 0h1v1h-1zm3 0h1v1h-1zm11 0h1v1h-1zm3 0h1v1h-1zm1 0h1v1h-1zm8 0h1v1h-1zm2 0h1v1h-1zm1 0h1v1h-1zm1 0h1v1h-1zm-88 1h1v1h-1zm2 0h1v1h-1zm2 0h1v1h-1zm2 0h1v1h-1zm4 0h1v1h-1zm1 0h1v1h-1zm1 0h1v1h-1zm3 0h1v1h-1zm3 0h1v1h-1zm3 0h1v1h-1zm1 0h1v1h-1zm1 0h1v1h-1zm3 0h1v1h-1zm1 0h1v1h-1zm4 0h1v1h-1zm3 0h1v1h-1zm2 0h1v1h-1zm2 0h1v1h-1zm4 0h1v1h-1zm10 0h1v1h-1zm2 0h1v1h-1zm5 0h1v1h-1zm1 0h1v1h-1zm4 0h1v1h-1zm5 0h1v1h-1zm3 0h1v1h-1zm1 0h1v1h-1zm15 0h1v1h-1zm-85 1h1v1h-1zm4 0h1v1h-1zm2 0h1v1h-1zm2 0h1v1h-1zm1 0h1v1h-1zm2 0h1v1h-1zm10 0h1v1h-1zm6 0h1v1h-1zm1 0h1v1h-1zm1 0h1v1h-1zm5 0h1v1h-1zm1 0h1v1h-1zm3 0h1v1h-1zm3 0h1v1h-1zm5 0h1v1h-1zm4 0h1v1h-1zm4 0h1v1h-1zm1 0h1v1h-1zm3 0h1v1h-1zm2 0h1v1h-1zm1 0h1v1h-1zm8 0h1v1h-1zm6 0h1v1h-1zm7 0h1v1h-1zm3 0h1v1h-1zm-81 1h1v1h-1zm9 0h1v1h-1zm1 0h1v1h-1zm2 0h1v1h-1zm1 0h1v1h-1zm2 0h1v1h-1zm1 0h1v1h-1zm2 0h1v1h-1zm1 0h1v1h-1zm5 0h1v1h-1zm1 0h1v1h-1zm1 0h1v1h-1zm1 0h1v1h-1zm1 0h1v1h-1zm1 0h1v1h-1zm5 0h1v1h-1zm1 0h1v1h-1zm4 0h1v1h-1zm2 0h1v1h-1zm2 0h1v1h-1zm2 0h1v1h-1zm7 0h1v1h-1zm1 0h1v1h-1zm6 0h1v1h-1zm6 0h1v1h-1zm12 0h1v1h-1zm-84 1h1v1h-1zm3 0h1v1h-1zm3 0h1v1h-1zm6 0h1v1h-1zm5 0h1v1h-1zm6 0h1v1h-1zm1 0h1v1h-1zm3 0h1v1h-1zm3 0h1v1h-1zm5 0h1v1h-1zm2 0h1v1h-1zm2 0h1v1h-1zm3 0h1v1h-1zm4 0h1v1h-1zm2 0h1v1h-1zm3 0h1v1h-1zm1 0h1v1h-1zm2 0h1v1h-1zm9 0h1v1h-1zm1 0h1v1h-1zm15 0h1v1h-1zm1 0h1v1h-1zm9 0h1v1h-1zm-87 1h1v1h-1zm3 0h1v1h-1zm1 0h1v1h-1zm13 0h1v1h-1zm5 0h1v1h-1zm6 0h1v1h-1zm3 0h1v1h-1zm1 0h1v1h-1zm1 0h1v1h-1zm1 0h1v1h-1zm1 0h1v1h-1zm7 0h1v1h-1zm2 0h1v1h-1zm1 0h1v1h-1zm3 0h1v1h-1zm2 0h1v1h-1zm1 0h1v1h-1zm3 0h1v1h-1zm1 0h1v1h-1zm11 0h1v1h-1zm2 0h1v1h-1zm3 0h1v1h-1zm3 0h1v1h-1zm7 0h1v1h-1zm-83 1h1v1h-1zm1 0h1v1h-1zm3 0h1v1h-1zm4 0h1v1h-1zm6 0h1v1h-1zm3 0h1v1h-1zm3 0h1v1h-1zm4 0h1v1h-1zm3 0h1v1h-1zm4 0h1v1h-1zm2 0h1v1h-1zm2 0h1v1h-1zm1 0h1v1h-1zm3 0h1v1h-1zm6 0h1v1h-1zm4 0h1v1h-1zm7 0h1v1h-1zm8 0h1v1h-1zm1 0h1v1h-1zm1 0h1v1h-1zm2 0h1v1h-1zm1 0h1v1h-1zm3 0h1v1h-1zm9 0h1v1h-1zm4 0h1v1h-1zm1 0h1v1h-1zm2 0h1v1h-1zm-87 1h1v1h-1zm4 0h1v1h-1zm4 0h1v1h-1zm2 0h1v1h-1zm1 0h1v1h-1zm1 0h1v1h-1zm4 0h1v1h-1zm7 0h1v1h-1zm1 0h1v1h-1zm3 0h1v1h-1zm3 0h1v1h-1zm5 0h1v1h-1zm6 0h1v1h-1zm2 0h1v1h-1zm1 0h1v1h-1zm2 0h1v1h-1zm11 0h1v1h-1zm1 0h1v1h-1zm1 0h1v1h-1zm2 0h1v1h-1zm5 0h1v1h-1zm2 0h1v1h-1zm4 0h1v1h-1zm2 0h1v1h-1zm5 0h1v1h-1zm8 0h1v1h-1zm1 0h1v1h-1zm-88 1h1v1h-1zm1 0h1v1h-1zm3 0h1v1h-1zm1 0h1v1h-1zm17 0h1v1h-1zm1 0h1v1h-1zm1 0h1v1h-1zm4 0h1v1h-1zm6 0h1v1h-1zm2 0h1v1h-1zm2 0h1v1h-1zm3 0h1v1h-1zm4 0h1v1h-1zm5 0h1v1h-1zm5 0h1v1h-1zm5 0h1v1h-1zm1 0h1v1h-1zm1 0h1v1h-1zm1 0h1v1h-1zm4 0h1v1h-1zm4 0h1v1h-1zm-72 1h1v1h-1zm6 0h1v1h-1zm1 0h1v1h-1zm5 0h1v1h-1zm2 0h1v1h-1zm4 0h1v1h-1zm2 0h1v1h-1zm2 0h1v1h-1zm1 0h1v1h-1zm6 0h1v1h-1zm1 0h1v1h-1zm2 0h1v1h-1zm1 0h1v1h-1zm3 0h1v1h-1zm2 0h1v1h-1zm1 0h1v1h-1zm1 0h1v1h-1zm2 0h1v1h-1zm3 0h1v1h-1zm4 0h1v1h-1zm1 0h1v1h-1zm1 0h1v1h-1zm5 0h1v1h-1zm10 0h1v1h-1zm12 0h1v1h-1zm1 0h1v1h-1zm-76 1h1v1h-1zm5 0h1v1h-1zm2 0h1v1h-1zm1 0h1v1h-1zm1 0h1v1h-1zm3 0h1v1h-1zm1 0h1v1h-1zm2 0h1v1h-1zm1 0h1v1h-1zm2 0h1v1h-1zm2 0h1v1h-1zm1 0h1v1h-1zm1 0h1v1h-1zm1 0h1v1h-1zm3 0h1v1h-1zm3 0h1v1h-1zm2 0h1v1h-1zm3 0h1v1h-1zm2 0h1v1h-1zm1 0h1v1h-1zm2 0h1v1h-1zm2 0h1v1h-1zm6 0h1v1h-1zm1 0h1v1h-1zm1 0h1v1h-1zm3 0h1v1h-1zm6 0h1v1h-1zm1 0h1v1h-1zm3 0h1v1h-1zm3 0h1v1h-1zm1 0h1v1h-1zm5 0h1v1h-1zm7 0h1v1h-1zm-81 1h1v1h-1zm4 0h1v1h-1zm1 0h1v1h-1zm2 0h1v1h-1zm2 0h1v1h-1zm4 0h1v1h-1zm7 0h1v1h-1zm3 0h1v1h-1zm2 0h1v1h-1zm4 0h1v1h-1zm1 0h1v1h-1zm2 0h1v1h-1zm1 0h1v1h-1zm2 0h1v1h-1zm1 0h1v1h-1zm1 0h1v1h-1zm2 0h1v1h-1zm3 0h1v1h-1zm7 0h1v1h-1zm2 0h1v1h-1zm3 0h1v1h-1zm5 0h1v1h-1zm3 0h1v1h-1zm1 0h1v1h-1zm1 0h1v1h-1zm4 0h1v1h-1zm2 0h1v1h-1zm5 0h1v1h-1zm2 0h1v1h-1zm3 0h1v1h-1zm1 0h1v1h-1zm1 0h1v1h-1zm4 0h1v1h-1zm-86 1h1v1h-1zm1 0h1v1h-1zm10 0h1v1h-1zm1 0h1v1h-1zm1 0h1v1h-1zm2 0h1v1h-1zm2 0h1v1h-1zm5 0h1v1h-1zm2 0h1v1h-1zm5 0h1v1h-1zm3 0h1v1h-1zm2 0h1v1h-1zm1 0h1v1h-1zm5 0h1v1h-1zm2 0h1v1h-1zm3 0h1v1h-1zm1 0h1v1h-1zm2 0h1v1h-1zm1 0h1v1h-1zm6 0h1v1h-1zm2 0h1v1h-1zm1 0h1v1h-1zm1 0h1v1h-1zm7 0h1v1h-1zm2 0h1v1h-1zm5 0h1v1h-1zm7 0h1v1h-1zm3 0h1v1h-1zm3 0h1v1h-1zm2 0h1v1h-1zm-89 1h1v1h-1zm8 0h1v1h-1zm4 0h1v1h-1zm2 0h1v1h-1zm1 0h1v1h-1zm6 0h1v1h-1zm1 0h1v1h-1zm3 0h1v1h-1zm2 0h1v1h-1zm1 0h1v1h-1zm2 0h1v1h-1zm5 0h1v1h-1zm1 0h1v1h-1zm1 0h1v1h-1zm3 0h1v1h-1zm3 0h1v1h-1zm1 0h1v1h-1zm2 0h1v1h-1zm3 0h1v1h-1zm1 0h1v1h-1zm5 0h1v1h-1zm5 0h1v1h-1zm3 0h1v1h-1zm4 0h1v1h-1zm4 0h1v1h-1zm1 0h1v1h-1zm1 0h1v1h-1zm5 0h1v1h-1zm8 0h1v1h-1zm-84 1h1v1h-1zm2 0h1v1h-1zm8 0h1v1h-1zm4 0h1v1h-1zm1 0h1v1h-1zm2 0h1v1h-1zm2 0h1v1h-1zm1 0h1v1h-1zm2 0h1v1h-1zm4 0h1v1h-1zm5 0h1v1h-1zm3 0h1v1h-1zm2 0h1v1h-1zm8 0h1v1h-1zm5 0h1v1h-1zm4 0h1v1h-1zm3 0h1v1h-1zm7 0h1v1h-1zm10 0h1v1h-1zm12 0h1v1h-1zm-85 1h1v1h-1zm2 0h1v1h-1zm3 0h1v1h-1zm1 0h1v1h-1zm8 0h1v1h-1zm2 0h1v1h-1zm7 0h1v1h-1zm3 0h1v1h-1zm8 0h1v1h-1zm5 0h1v1h-1zm1 0h1v1h-1zm8 0h1v1h-1zm1 0h1v1h-1zm4 0h1v1h-1zm5 0h1v1h-1zm6 0h1v1h-1zm8 0h1v1h-1zm1 0h1v1h-1zm2 0h1v1h-1zm7 0h1v1h-1zm5 0h1v1h-1zm1 0h1v1h-1zm-82 1h1v1h-1zm5 0h1v1h-1zm4 0h1v1h-1zm1 0h1v1h-1zm1 0h1v1h-1zm1 0h1v1h-1zm1 0h1v1h-1zm2 0h1v1h-1zm6 0h1v1h-1zm6 0h1v1h-1zm2 0h1v1h-1zm4 0h1v1h-1zm1 0h1v1h-1zm1 0h1v1h-1zm2 0h1v1h-1zm1 0h1v1h-1zm2 0h1v1h-1zm1 0h1v1h-1zm2 0h1v1h-1zm5 0h1v1h-1zm2 0h1v1h-1zm1 0h1v1h-1zm1 0h1v1h-1zm3 0h1v1h-1zm4 0h1v1h-1zm3 0h1v1h-1zm11 0h1v1h-1zm6 0h1v1h-1zm-83 1h1v1h-1zm4 0h1v1h-1zm2 0h1v1h-1zm2 0h1v1h-1zm2 0h1v1h-1zm7 0h1v1h-1zm2 0h1v1h-1zm1 0h1v1h-1zm2 0h1v1h-1zm7 0h1v1h-1zm2 0h1v1h-1zm3 0h1v1h-1zm1 0h1v1h-1zm1 0h1v1h-1zm3 0h1v1h-1zm11 0h1v1h-1zm2 0h1v1h-1zm1 0h1v1h-1zm1 0h1v1h-1zm3 0h1v1h-1zm1 0h1v1h-1zm5 0h1v1h-1zm17 0h1v1h-1zm2 0h1v1h-1zm-84 1h1v1h-1zm1 0h1v1h-1zm12 0h1v1h-1zm6 0h1v1h-1zm5 0h1v1h-1zm4 0h1v1h-1zm4 0h1v1h-1zm2 0h1v1h-1zm1 0h1v1h-1zm1 0h1v1h-1zm1 0h1v1h-1zm1 0h1v1h-1zm1 0h1v1h-1zm1 0h1v1h-1zm2 0h1v1h-1zm2 0h1v1h-1zm1 0h1v1h-1zm8 0h1v1h-1zm3 0h1v1h-1zm2 0h1v1h-1zm3 0h1v1h-1zm9 0h1v1h-1zm1 0h1v1h-1zm1 0h1v1h-1zm1 0h1v1h-1zm1 0h1v1h-1zm2 0h1v1h-1zm10 0h1v1h-1zm-86 1h1v1h-1zm2 0h1v1h-1zm3 0h1v1h-1zm8 0h1v1h-1zm2 0h1v1h-1zm9 0h1v1h-1zm1 0h1v1h-1zm1 0h1v1h-1zm1 0h1v1h-1zm2 0h1v1h-1zm1 0h1v1h-1zm7 0h1v1h-1zm1 0h1v1h-1zm6 0h1v1h-1zm5 0h1v1h-1zm1 0h1v1h-1zm3 0h1v1h-1zm1 0h1v1h-1zm2 0h1v1h-1zm6 0h1v1h-1zm2 0h1v1h-1zm1 0h1v1h-1zm4 0h1v1h-1zm1 0h1v1h-1zm3 0h1v1h-1zm7 0h1v1h-1zm8 0h1v1h-1zm-85 1h1v1h-1zm1 0h1v1h-1zm6 0h1v1h-1zm4 0h1v1h-1zm1 0h1v1h-1zm9 0h1v1h-1zm1 0h1v1h-1zm1 0h1v1h-1zm1 0h1v1h-1zm1 0h1v1h-1zm8 0h1v1h-1zm2 0h1v1h-1zm1 0h1v1h-1zm6 0h1v1h-1zm2 0h1v1h-1zm2 0h1v1h-1zm2 0h1v1h-1zm3 0h1v1h-1zm3 0h1v1h-1zm3 0h1v1h-1zm3 0h1v1h-1zm1 0h1v1h-1zm1 0h1v1h-1zm1 0h1v1h-1zm5 0h1v1h-1zm1 0h1v1h-1zm4 0h1v1h-1zm2 0h1v1h-1zm3 0h1v1h-1zm5 0h1v1h-1zm2 0h1v1h-1zm-89 1h1v1h-1zm7 0h1v1h-1zm6 0h1v1h-1zm1 0h1v1h-1zm2 0h1v1h-1zm1 0h1v1h-1zm1 0h1v1h-1zm5 0h1v1h-1zm7 0h1v1h-1zm3 0h1v1h-1zm1 0h1v1h-1zm8 0h1v1h-1zm2 0h1v1h-1zm8 0h1v1h-1zm1 0h1v1h-1zm1 0h1v1h-1zm2 0h1v1h-1zm4 0h1v1h-1zm2 0h1v1h-1zm23 0h1v1h-1zm1 0h1v1h-1zm-81 1h1v1h-1zm1 0h1v1h-1zm11 0h1v1h-1zm2 0h1v1h-1zm1 0h1v1h-1zm5 0h1v1h-1zm1 0h1v1h-1zm3 0h1v1h-1zm1 0h1v1h-1zm1 0h1v1h-1zm3 0h1v1h-1zm1 0h1v1h-1zm2 0h1v1h-1zm1 0h1v1h-1zm3 0h1v1h-1zm6 0h1v1h-1zm1 0h1v1h-1zm2 0h1v1h-1zm2 0h1v1h-1zm1 0h1v1h-1zm2 0h1v1h-1zm5 0h1v1h-1zm16 0h1v1h-1zm5 0h1v1h-1zm2 0h1v1h-1zm1 0h1v1h-1zm1 0h1v1h-1zm-83 1h1v1h-1zm2 0h1v1h-1zm3 0h1v1h-1zm2 0h1v1h-1zm5 0h1v1h-1zm6 0h1v1h-1zm2 0h1v1h-1zm2 0h1v1h-1zm6 0h1v1h-1zm6 0h1v1h-1zm1 0h1v1h-1zm1 0h1v1h-1zm3 0h1v1h-1zm2 0h1v1h-1zm6 0h1v1h-1zm3 0h1v1h-1zm1 0h1v1h-1zm1 0h1v1h-1zm1 0h1v1h-1zm3 0h1v1h-1zm1 0h1v1h-1zm10 0h1v1h-1zm1 0h1v1h-1zm1 0h1v1h-1zm1 0h1v1h-1zm5 0h1v1h-1zm2 0h1v1h-1zm-70 1h1v1h-1zm1 0h1v1h-1zm1 0h1v1h-1zm4 0h1v1h-1zm1 0h1v1h-1zm3 0h1v1h-1zm2 0h1v1h-1zm3 0h1v1h-1zm3 0h1v1h-1zm2 0h1v1h-1zm4 0h1v1h-1zm2 0h1v1h-1zm4 0h1v1h-1zm5 0h1v1h-1zm4 0h1v1h-1zm3 0h1v1h-1zm4 0h1v1h-1zm1 0h1v1h-1zm2 0h1v1h-1zm12 0h1v1h-1zm1 0h1v1h-1zm2 0h1v1h-1zm1 0h1v1h-1zm8 0h1v1h-1zm3 0h1v1h-1zm-83 1h1v1h-1zm1 0h1v1h-1zm1 0h1v1h-1zm1 0h1v1h-1zm3 0h1v1h-1zm1 0h1v1h-1zm3 0h1v1h-1zm1 0h1v1h-1zm2 0h1v1h-1zm3 0h1v1h-1zm1 0h1v1h-1zm5 0h1v1h-1zm1 0h1v1h-1zm4 0h1v1h-1zm2 0h1v1h-1zm1 0h1v1h-1zm1 0h1v1h-1zm2 0h1v1h-1zm1 0h1v1h-1zm2 0h1v1h-1zm3 0h1v1h-1zm3 0h1v1h-1zm2 0h1v1h-1zm1 0h1v1h-1zm1 0h1v1h-1zm4 0h1v1h-1zm2 0h1v1h-1zm8 0h1v1h-1zm4 0h1v1h-1zm5 0h1v1h-1zm3 0h1v1h-1zm1 0h1v1h-1zm8 0h1v1h-1zm-83 1h1v1h-1zm6 0h1v1h-1zm2 0h1v1h-1zm1 0h1v1h-1zm4 0h1v1h-1zm2 0h1v1h-1zm1 0h1v1h-1zm7 0h1v1h-1zm6 0h1v1h-1zm4 0h1v1h-1zm1 0h1v1h-1zm1 0h1v1h-1zm5 0h1v1h-1zm7 0h1v1h-1zm4 0h1v1h-1zm6 0h1v1h-1zm1 0h1v1h-1zm7 0h1v1h-1zm2 0h1v1h-1zm3 0h1v1h-1zm3 0h1v1h-1zm1 0h1v1h-1zm2 0h1v1h-1zm1 0h1v1h-1zm1 0h1v1h-1zm3 0h1v1h-1zm8 0h1v1h-1zm-87 1h1v1h-1zm3 0h1v1h-1zm1 0h1v1h-1zm2 0h1v1h-1zm3 0h1v1h-1zm8 0h1v1h-1zm1 0h1v1h-1zm1 0h1v1h-1zm1 0h1v1h-1zm1 0h1v1h-1zm2 0h1v1h-1zm1 0h1v1h-1zm2 0h1v1h-1zm3 0h1v1h-1zm2 0h1v1h-1zm1 0h1v1h-1zm1 0h1v1h-1zm2 0h1v1h-1zm6 0h1v1h-1zm13 0h1v1h-1zm4 0h1v1h-1zm4 0h1v1h-1zm1 0h1v1h-1zm7 0h1v1h-1zm1 0h1v1h-1zm5 0h1v1h-1zm3 0h1v1h-1zm8 0h1v1h-1zm-85 1h1v1h-1zm2 0h1v1h-1zm2 0h1v1h-1zm7 0h1v1h-1zm5 0h1v1h-1zm8 0h1v1h-1zm3 0h1v1h-1zm1 0h1v1h-1zm2 0h1v1h-1zm11 0h1v1h-1zm1 0h1v1h-1zm1 0h1v1h-1zm1 0h1v1h-1zm6 0h1v1h-1zm4 0h1v1h-1zm16 0h1v1h-1zm5 0h1v1h-1zm2 0h1v1h-1zm-78 1h1v1h-1zm1 0h1v1h-1zm12 0h1v1h-1zm4 0h1v1h-1zm1 0h1v1h-1zm2 0h1v1h-1zm1 0h1v1h-1zm2 0h1v1h-1zm5 0h1v1h-1zm1 0h1v1h-1zm3 0h1v1h-1zm1 0h1v1h-1zm2 0h1v1h-1zm1 0h1v1h-1zm5 0h1v1h-1zm5 0h1v1h-1zm3 0h1v1h-1zm1 0h1v1h-1zm2 0h1v1h-1zm2 0h1v1h-1zm3 0h1v1h-1zm1 0h1v1h-1zm2 0h1v1h-1zm2 0h1v1h-1zm6 0h1v1h-1zm2 0h1v1h-1zm1 0h1v1h-1zm1 0h1v1h-1zm5 0h1v1h-1zm3 0h1v1h-1zm1 0h1v1h-1zm-77 1h1v1h-1zm1 0h1v1h-1zm10 0h1v1h-1zm4 0h1v1h-1zm3 0h1v1h-1zm5 0h1v1h-1zm5 0h1v1h-1zm1 0h1v1h-1zm1 0h1v1h-1zm6 0h1v1h-1zm3 0h1v1h-1zm2 0h1v1h-1zm5 0h1v1h-1zm5 0h1v1h-1zm5 0h1v1h-1zm3 0h1v1h-1zm6 0h1v1h-1zm2 0h1v1h-1zm4 0h1v1h-1zm5 0h1v1h-1zm2 0h1v1h-1zm2 0h1v1h-1zm2 0h1v1h-1zm-88 1h1v1h-1zm4 0h1v1h-1zm1 0h1v1h-1zm4 0h1v1h-1zm1 0h1v1h-1zm6 0h1v1h-1zm3 0h1v1h-1zm11 0h1v1h-1zm8 0h1v1h-1zm2 0h1v1h-1zm11 0h1v1h-1zm1 0h1v1h-1zm5 0h1v1h-1zm3 0h1v1h-1zm3 0h1v1h-1zm1 0h1v1h-1zm6 0h1v1h-1zm4 0h1v1h-1zm9 0h1v1h-1zm-83 1h1v1h-1zm1 0h1v1h-1zm2 0h1v1h-1zm5 0h1v1h-1zm3 0h1v1h-1zm5 0h1v1h-1zm4 0h1v1h-1zm1 0h1v1h-1zm6 0h1v1h-1zm2 0h1v1h-1zm2 0h1v1h-1zm3 0h1v1h-1zm2 0h1v1h-1zm2 0h1v1h-1zm3 0h1v1h-1zm3 0h1v1h-1zm4 0h1v1h-1zm1 0h1v1h-1zm2 0h1v1h-1zm2 0h1v1h-1zm1 0h1v1h-1zm8 0h1v1h-1zm2 0h1v1h-1zm2 0h1v1h-1zm9 0h1v1h-1zm3 0h1v1h-1zm1 0h1v1h-1zm2 0h1v1h-1zm6 0h1v1h-1zm-87 1h1v1h-1zm7 0h1v1h-1zm14 0h1v1h-1zm9 0h1v1h-1zm2 0h1v1h-1zm6 0h1v1h-1zm1 0h1v1h-1zm3 0h1v1h-1zm8 0h1v1h-1zm15 0h1v1h-1zm7 0h1v1h-1zm2 0h1v1h-1zm3 0h1v1h-1zm2 0h1v1h-1zm4 0h1v1h-1zm-81 1h1v1h-1zm2 0h1v1h-1zm2 0h1v1h-1zm3 0h1v1h-1zm4 0h1v1h-1zm1 0h1v1h-1zm3 0h1v1h-1zm4 0h1v1h-1zm9 0h1v1h-1zm6 0h1v1h-1zm2 0h1v1h-1zm1 0h1v1h-1zm5 0h1v1h-1zm3 0h1v1h-1zm2 0h1v1h-1zm2 0h1v1h-1zm4 0h1v1h-1zm4 0h1v1h-1zm15 0h1v1h-1zm2 0h1v1h-1zm3 0h1v1h-1zm-75 1h1v1h-1zm1 0h1v1h-1zm4 0h1v1h-1zm14 0h1v1h-1zm5 0h1v1h-1zm12 0h1v1h-1zm1 0h1v1h-1zm3 0h1v1h-1zm2 0h1v1h-1zm1 0h1v1h-1zm3 0h1v1h-1zm4 0h1v1h-1zm2 0h1v1h-1zm1 0h1v1h-1zm5 0h1v1h-1zm9 0h1v1h-1zm1 0h1v1h-1zm14 0h1v1h-1zm-88 1h1v1h-1zm2 0h1v1h-1zm6 0h1v1h-1zm5 0h1v1h-1zm1 0h1v1h-1zm2 0h1v1h-1zm3 0h1v1h-1zm4 0h1v1h-1zm6 0h1v1h-1zm2 0h1v1h-1zm8 0h1v1h-1zm1 0h1v1h-1zm6 0h1v1h-1zm6 0h1v1h-1zm6 0h1v1h-1zm2 0h1v1h-1zm11 0h1v1h-1zm-59 1h1v1h-1zm2 0h1v1h-1zm6 0h1v1h-1zm1 0h1v1h-1zm6 0h1v1h-1zm1 0h1v1h-1zm2 0h1v1h-1zm2 0h1v1h-1zm6 0h1v1h-1zm4 0h1v1h-1zm2 0h1v1h-1zm3 0h1v1h-1zm2 0h1v1h-1zm4 0h1v1h-1zm4 0h1v1h-1zm6 0h1v1h-1zm3 0h1v1h-1zm2 0h1v1h-1zm4 0h1v1h-1zm1 0h1v1h-1zm5 0h1v1h-1zm4 0h1v1h-1zm2 0h1v1h-1zm2 0h1v1h-1zm2 0h1v1h-1zm2 0h1v1h-1zm-89 1h1v1h-1zm7 0h1v1h-1zm4 0h1v1h-1zm1 0h1v1h-1zm1 0h1v1h-1zm4 0h1v1h-1zm2 0h1v1h-1zm8 0h1v1h-1zm2 0h1v1h-1zm2 0h1v1h-1zm7 0h1v1h-1zm3 0h1v1h-1zm2 0h1v1h-1zm4 0h1v1h-1zm10 0h1v1h-1zm6 0h1v1h-1zm4 0h1v1h-1zm6 0h1v1h-1zm5 0h1v1h-1zm5 0h1v1h-1zm1 0h1v1h-1zm3 0h1v1h-1zm1 0h1v1h-1zm-88 1h1v1h-1zm1 0h1v1h-1zm1 0h1v1h-1zm1 0h1v1h-1zm2 0h1v1h-1zm6 0h1v1h-1zm2 0h1v1h-1zm9 0h1v1h-1zm2 0h1v1h-1zm3 0h1v1h-1zm13 0h1v1h-1zm7 0h1v1h-1zm2 0h1v1h-1zm6 0h1v1h-1zm2 0h1v1h-1zm5 0h1v1h-1zm18 0h1v1h-1zm8 0h1v1h-1zm1 0h1v1h-1zm-86 1h1v1h-1zm4 0h1v1h-1zm9 0h1v1h-1zm1 0h1v1h-1zm2 0h1v1h-1zm1 0h1v1h-1zm1 0h1v1h-1zm2 0h1v1h-1zm1 0h1v1h-1zm1 0h1v1h-1zm1 0h1v1h-1zm3 0h1v1h-1zm2 0h1v1h-1zm1 0h1v1h-1zm3 0h1v1h-1zm3 0h1v1h-1zm2 0h1v1h-1zm1 0h1v1h-1zm5 0h1v1h-1zm3 0h1v1h-1zm1 0h1v1h-1zm1 0h1v1h-1zm5 0h1v1h-1zm8 0h1v1h-1zm2 0h1v1h-1zm5 0h1v1h-1zm1 0h1v1h-1zm5 0h1v1h-1zm2 0h1v1h-1zm1 0h1v1h-1zm-76 1h1v1h-1zm2 0h1v1h-1zm6 0h1v1h-1zm4 0h1v1h-1zm3 0h1v1h-1zm1 0h1v1h-1zm1 0h1v1h-1zm1 0h1v1h-1zm2 0h1v1h-1zm7 0h1v1h-1zm2 0h1v1h-1zm2 0h1v1h-1zm5 0h1v1h-1zm2 0h1v1h-1zm3 0h1v1h-1zm9 0h1v1h-1zm1 0h1v1h-1zm2 0h1v1h-1zm17 0h1v1h-1zm4 0h1v1h-1zm2 0h1v1h-1zm2 0h1v1h-1zm-64 1h1v1h-1zm1 0h1v1h-1zm1 0h1v1h-1zm1 0h1v1h-1zm3 0h1v1h-1zm1 0h1v1h-1zm1 0h1v1h-1zm2 0h1v1h-1zm1 0h1v1h-1zm2 0h1v1h-1zm16 0h1v1h-1zm4 0h1v1h-1zm2 0h1v1h-1zm9 0h1v1h-1zm5 0h1v1h-1zm1 0h1v1h-1zm9 0h1v1h-1zm1 0h1v1h-1zm1 0h1v1h-1zm1 0h1v1h-1zm1 0h1v1h-1zm4 0h1v1h-1zm3 0h1v1h-1zm1 0h1v1h-1zm-86 1h1v1h-1zm1 0h1v1h-1zm6 0h1v1h-1zm5 0h1v1h-1zm1 0h1v1h-1zm3 0h1v1h-1zm3 0h1v1h-1zm3 0h1v1h-1zm3 0h1v1h-1zm2 0h1v1h-1zm8 0h1v1h-1zm1 0h1v1h-1zm3 0h1v1h-1zm1 0h1v1h-1zm2 0h1v1h-1zm1 0h1v1h-1zm14 0h1v1h-1zm9 0h1v1h-1zm2 0h1v1h-1zm11 0h1v1h-1zm2 0h1v1h-1zm-84 1h1v1h-1zm2 0h1v1h-1zm1 0h1v1h-1zm1 0h1v1h-1zm7 0h1v1h-1zm3 0h1v1h-1zm2 0h1v1h-1zm4 0h1v1h-1zm10 0h1v1h-1zm1 0h1v1h-1zm8 0h1v1h-1zm4 0h1v1h-1zm5 0h1v1h-1zm8 0h1v1h-1zm7 0h1v1h-1zm2 0h1v1h-1zm1 0h1v1h-1zm3 0h1v1h-1zm4 0h1v1h-1zm5 0h1v1h-1zm8 0h1v1h-1zm-83 1h1v1h-1zm11 0h1v1h-1zm15 0h1v1h-1zm4 0h1v1h-1zm4 0h1v1h-1zm2 0h1v1h-1zm8 0h1v1h-1zm8 0h1v1h-1zm12 0h1v1h-1zm1 0h1v1h-1zm3 0h1v1h-1zm1 0h1v1h-1zm3 0h1v1h-1zm1 0h1v1h-1zm1 0h1v1h-1zm4 0h1v1h-1zm5 0h1v1h-1zm4 0h1v1h-1zm-86 1h1v1h-1zm2 0h1v1h-1zm8 0h1v1h-1zm2 0h1v1h-1zm2 0h1v1h-1zm5 0h1v1h-1zm7 0h1v1h-1zm3 0h1v1h-1zm7 0h1v1h-1zm12 0h1v1h-1zm4 0h1v1h-1zm29 0h1v1h-1zm2 0h1v1h-1zm-83 1h1v1h-1zm6 0h1v1h-1zm2 0h1v1h-1zm12 0h1v1h-1zm5 0h1v1h-1zm1 0h1v1h-1zm2 0h1v1h-1zm5 0h1v1h-1zm4 0h1v1h-1zm1 0h1v1h-1zm1 0h1v1h-1zm1 0h1v1h-1zm5 0h1v1h-1zm2 0h1v1h-1zm5 0h1v1h-1zm2 0h1v1h-1zm1 0h1v1h-1zm1 0h1v1h-1zm3 0h1v1h-1zm11 0h1v1h-1zm5 0h1v1h-1zm7 0h1v1h-1zm-82 1h1v1h-1zm1 0h1v1h-1zm3 0h1v1h-1zm15 0h1v1h-1zm3 0h1v1h-1zm7 0h1v1h-1zm5 0h1v1h-1zm3 0h1v1h-1zm4 0h1v1h-1zm2 0h1v1h-1zm9 0h1v1h-1zm2 0h1v1h-1zm6 0h1v1h-1zm1 0h1v1h-1zm5 0h1v1h-1zm-60 1h1v1h-1zm6 0h1v1h-1zm2 0h1v1h-1zm1 0h1v1h-1zm8 0h1v1h-1zm3 0h1v1h-1zm1 0h1v1h-1zm6 0h1v1h-1zm5 0h1v1h-1zm5 0h1v1h-1zm12 0h1v1h-1zm3 0h1v1h-1zm6 0h1v1h-1zm1 0h1v1h-1zm17 0h1v1h-1zm-85 1h1v1h-1zm11 0h1v1h-1zm11 0h1v1h-1zm5 0h1v1h-1zm22 0h1v1h-1zm4 0h1v1h-1zm11 0h1v1h-1zm1 0h1v1h-1zm2 0h1v1h-1zm2 0h1v1h-1zm3 0h1v1h-1zm1 0h1v1h-1zm2 0h1v1h-1zm3 0h1v1h-1zm2 0h1v1h-1zm1 0h1v1h-1zm-82 1h1v1h-1zm3 0h1v1h-1zm4 0h1v1h-1zm4 0h1v1h-1zm3 0h1v1h-1zm1 0h1v1h-1zm1 0h1v1h-1zm4 0h1v1h-1zm6 0h1v1h-1zm10 0h1v1h-1zm5 0h1v1h-1zm4 0h1v1h-1zm7 0h1v1h-1zm1 0h1v1h-1zm12 0h1v1h-1zm2 0h1v1h-1zm8 0h1v1h-1zm1 0h1v1h-1zm8 0h1v1h-1zm4 0h1v1h-1zm-86 1h1v1h-1zm1 0h1v1h-1zm8 0h1v1h-1zm5 0h1v1h-1zm4 0h1v1h-1zm2 0h1v1h-1zm2 0h1v1h-1zm2 0h1v1h-1zm3 0h1v1h-1zm10 0h1v1h-1zm1 0h1v1h-1zm1 0h1v1h-1zm14 0h1v1h-1zm5 0h1v1h-1zm2 0h1v1h-1zm11 0h1v1h-1zm11 0h1v1h-1zm-81 1h1v1h-1zm8 0h1v1h-1zm3 0h1v1h-1zm4 0h1v1h-1zm2 0h1v1h-1zm3 0h1v1h-1zm2 0h1v1h-1zm11 0h1v1h-1zm4 0h1v1h-1zm1 0h1v1h-1zm6 0h1v1h-1zm6 0h1v1h-1zm4 0h1v1h-1zm1 0h1v1h-1zm9 0h1v1h-1zm7 0h1v1h-1zm2 0h1v1h-1zm10 0h1v1h-1zm3 0h1v1h-1zm-88 1h1v1h-1zm11 0h1v1h-1zm15 0h1v1h-1zm3 0h1v1h-1zm2 0h1v1h-1zm1 0h1v1h-1zm2 0h1v1h-1zm17 0h1v1h-1zm3 0h1v1h-1zm9 0h1v1h-1zm5 0h1v1h-1zm4 0h1v1h-1zm7 0h1v1h-1zm6 0h1v1h-1zm-87 1h1v1h-1zm4 0h1v1h-1zm6 0h1v1h-1zm4 0h1v1h-1zm7 0h1v1h-1zm3 0h1v1h-1zm11 0h1v1h-1zm1 0h1v1h-1zm6 0h1v1h-1zm2 0h1v1h-1zm4 0h1v1h-1zm3 0h1v1h-1zm4 0h1v1h-1zm2 0h1v1h-1zm1 0h1v1h-1zm26 0h1v1h-1zm6 0h1v1h-1zm-89 1h1v1h-1zm8 0h1v1h-1zm3 0h1v1h-1zm4 0h1v1h-1zm2 0h1v1h-1zm1 0h1v1h-1zm16 0h1v1h-1zm10 0h1v1h-1zm1 0h1v1h-1zm6 0h1v1h-1zm1 0h1v1h-1zm10 0h1v1h-1zm9 0h1v1h-1zm7 0h1v1h-1zm-77 1h1v1h-1zm3 0h1v1h-1zm1 0h1v1h-1zm6 0h1v1h-1zm2 0h1v1h-1zm1 0h1v1h-1zm9 0h1v1h-1zm5 0h1v1h-1zm2 0h1v1h-1zm6 0h1v1h-1zm1 0h1v1h-1zm7 0h1v1h-1zm5 0h1v1h-1zm1 0h1v1h-1zm2 0h1v1h-1zm2 0h1v1h-1zm3 0h1v1h-1zm2 0h1v1h-1zm13 0h1v1h-1zm13 0h1v1h-1zm2 0h1v1h-1zm-79 1h1v1h-1zm14 0h1v1h-1zm2 0h1v1h-1zm7 0h1v1h-1zm2 0h1v1h-1zm30 0h1v1h-1zm4 0h1v1h-1zm2 0h1v1h-1zm2 0h1v1h-1zm8 0h1v1h-1z" fill="#4444dc" fill-opacity="0.42"/>
<path d="M206 436h1v1h-1zm31 0h1v1h-1zm-45 1h1v1h-1zm1 0h1v1h-1zm1 0h1v1h-1zm6 0h1v1h-1zm54 0h1v1h-1zm-59 1h1v1h-1zm1 1h1v1h-1zm6 0h1v1h-1zm-21 1h1v1h-1zm13 0h1v1h-1zm7 0h1v1h-1zm16 0h1v1h-1zm-20 1h1v1h-1zm18 0h1v1h-1zm-36 1h1v1h-1zm15 0h1v1h-1zm13 0h1v1h-1zm5 0h1v1h-1zm-17 1h1v1h-1zm8 0h1v1h-1zm8 0h1v1h-1zm1 0h1v1h-1zm6 0h1v1h-1zm12 0h1v1h-1zm-58 1h1v1h-1zm2 0h1v1h-1zm20 0h1v1h-1zm63 0h1v1h-1zm-76 1h1v1h-1zm32 0h1v1h-1zm-41 1h1v1h-1zm17 0h1v1h-1zm11 0h1v1h-1zm6 0h1v1h-1zm-8 1h1v1h-1zm35 0h1v1h-1zm-61 1h1v1h-1zm4 0h1v1h-1zm4 0h1v1h-1zm13 0h1v1h-1zm11 0h1v1h-1zm13 0h1v1h-1zm1 0h1v1h-1zm18 0h1v1h-1zm2 0h1v1h-1zm5 0h1v1h-1zm-52 1h1v1h-1zm2 0h1v1h-1zm50 0h1v1h-1zm-64 2h1v1h-1zm21 0h1v1h-1zm12 0h1v1h-1zm21 0h1v1h-1zm3 0h1v1h-1zm-44 1h1v1h-1zm1 0h1v1h-1zm6 0h1v1h-1zm14 0h1v1h-1zm4 0h1v1h-1zm1 0h1v1h-1zm2 0h1v1h-1zm-29 1h1v1h-1zm12 0h1v1h-1zm2 0h1v1h-1zm1 0h1v1h-1zm6 0h1v1h-1zm-41 1h1v1h-1zm15 0h1v1h-1zm2 0h1v1h-1zm5 0h1v1h-1zm2 0h1v1h-1zm49 0h1v1h-1zm9 0h1v1h-1zm-54 1h1v1h-1zm3 0h1v1h-1zm22 0h1v1h-1zm1 0h1v1h-1zm20 0h1v1h-1zm-57 1h1v1h-1zm2 0h1v1h-1zm7 0h1v1h-1zm6 0h1v1h-1zm5 0h1v1h-1zm2 0h1v1h-1zm8 0h1v1h-1zm-47 1h1v1h-1zm11 0h1v1h-1zm2 0h1v1h-1zm3 0h1v1h-1zm3 0h1v1h-1zm6 0h1v1h-1zm3 0h1v1h-1zm-23 1h1v1h-1zm2 0h1v1h-1zm13 0h1v1h-1zm1 0h1v1h-1zm2 0h1v1h-1zm26 0h1v1h-1zm8 0h1v1h-1zm4 0h1v1h-1zm-62 1h1v1h-1zm7 0h1v1h-1zm23 0h1v1h-1zm7 0h1v1h-1zm-34 1h1v1h-1zm18 0h1v1h-1zm15 0h1v1h-1zm5 0h1v1h-1zm1 0h1v1h-1zm-13 1h1v1h-1zm1 0h1v1h-1zm3 0h1v1h-1zm1 0h1v1h-1zm4 0h1v1h-1zm1 0h1v1h-1zm6 0h1v1h-1zm2 0h1v1h-1zm5 0h1v1h-1zm2 0h1v1h-1zm7 0h1v1h-1zm6 0h1v1h-1zm-28 1h1v1h-1zm8 0h1v1h-1zm6 0h1v1h-1zm26 0h1v1h-1zm-75 1h1v1h-1zm21 0h1v1h-1zm3 0h1v1h-1zm6 0h1v1h-1zm6 0h1v1h-1zm5 0h1v1h-1zm3 0h1v1h-1zm7 0h1v1h-1zm13 0h1v1h-1zm2 0h1v1h-1zm-58 1h1v1h-1zm7 0h1v1h-1zm7 0h1v1h-1zm41 0h1v1h-1zm-48 1h1v1h-1zm14 0h1v1h-1zm2 0h1v1h-1zm4 0h1v1h-1zm4 0h1v1h-1zm1 0h1v1h-1zm9 0h1v1h-1zm21 0h1v1h-1zm2 0h1v1h-1zm13 0h1v1h-1zm-88 1h1v1h-1zm10 0h1v1h-1zm15 0h1v1h-1zm18 0h1v1h-1zm7 0h1v1h-1zm19 0h1v1h-1zm-53 1h1v1h-1zm10 0h1v1h-1zm3 0h1v1h-1zm2 0h1v1h-1zm4 0h1v1h-1zm2 0h1v1h-1zm3 0h1v1h-1zm17 0h1v1h-1zm2 0h1v1h-1zm7 0h1v1h-1zm1 0h1v1h-1zm1 0h1v1h-1zm3 0h1v1h-1zm12 0h1v1h-1zm-81 1h1v1h-1zm17 0h1v1h-1zm12 0h1v1h-1zm1 0h1v1h-1zm3 0h1v1h-1zm21 0h1v1h-1zm23 0h1v1h-1zm-56 1h1v1h-1zm8 0h1v1h-1zm49 0h1v1h-1zm-76 1h1v1h-1zm21 0h1v1h-1zm21 0h1v1h-1zm40 0h1v1h-1zm-74 1h1v1h-1zm16 0h1v1h-1zm27 0h1v1h-1zm8 0h1v1h-1zm25 0h1v1h-1zm-56 1h1v1h-1zm11 0h1v1h-1zm3 0h1v1h-1zm8 0h1v1h-1zm3 0h1v1h-1zm-57 1h1v1h-1zm41 0h1v1h-1zm7 0h1v1h-1zm22 0h1v1h-1zm-42 1h1v1h-1zm3 0h1v1h-1zm8 0h1v1h-1zm17 0h1v1h-1zm-50 1h1v1h-1zm3 0h1v1h-1zm8 0h1v1h-1zm4 0h1v1h-1zm10 0h1v1h-1zm1 0h1v1h-1zm5 0h1v1h-1zm16 0h1v1h-1zm14 0h1v1h-1zm-65 1h1v1h-1zm1 0h1v1h-1zm3 0h1v1h-1zm24 0h1v1h-1zm10 0h1v1h-1zm11 0h1v1h-1zm-43 1h1v1h-1zm19 0h1v1h-1zm3 0h1v1h-1zm3 0h1v1h-1zm9 0h1v1h-1zm4 0h1v1h-1zm5 0h1v1h-1zm-45 1h1v1h-1zm20 0h1v1h-1zm9 0h1v1h-1zm2 0h1v1h-1zm3 0h1v1h-1zm5 0h1v1h-1zm40 0h1v1h-1zm-85 1h1v1h-1zm27 0h1v1h-1zm17 0h1v1h-1zm44 0h1v1h-1zm-81 1h1v1h-1zm12 0h1v1h-1zm16 0h1v1h-1zm11 0h1v1h-1zm-32 1h1v1h-1zm31 0h1v1h-1zm7 0h1v1h-1zm14 0h1v1h-1zm-63 1h1v1h-1zm10 0h1v1h-1zm25 0h1v1h-1zm16 0h1v1h-1zm8 0h1v1h-1zm5 0h1v1h-1zm9 0h1v1h-1zm-77 1h1v1h-1zm14 0h1v1h-1zm31 0h1v1h-1zm2 0h1v1h-1zm5 0h1v1h-1zm10 0h1v1h-1zm-35 1h1v1h-1zm-26 1h1v1h-1zm28 0h1v1h-1zm6 0h1v1h-1zm5 0h1v1h-1zm1 0h1v1h-1zm28 0h1v1h-1zm-39 1h1v1h-1zm14 0h1v1h-1zm17 0h1v1h-1zm9 0h1v1h-1zm-46 1h1v1h-1zm5 0h1v1h-1zm4 0h1v1h-1zm2 0h1v1h-1zm9 0h1v1h-1zm35 0h1v1h-1zm8 0h1v1h-1zm-85 1h1v1h-1zm19 0h1v1h-1zm1 0h1v1h-1zm9 0h1v1h-1zm16 0h1v1h-1zm-37 1h1v1h-1zm16 0h1v1h-1zm5 0h1v1h-1zm15 0h1v1h-1zm17 0h1v1h-1zm-50 1h1v1h-1zm2 0h1v1h-1zm30 0h1v1h-1zm1 0h1v1h-1zm12 0h1v1h-1zm-32 1h1v1h-1zm16 0h1v1h-1zm8 0h1v1h-1zm12 0h1v1h-1zm6 0h1v1h-1zm-63 1h1v1h-1zm27 0h1v1h-1zm22 0h1v1h-1zm7 0h1v1h-1zm15 0h1v1h-1zm-48 1h1v1h-1zm-24 1h1v1h-1zm7 0h1v1h-1zm15 0h1v1h-1zm2 0h1v1h-1zm2 0h1v1h-1zm13 0h1v1h-1zm3 0h1v1h-1zm2 0h1v1h-1zm4 0h1v1h-1zm12 0h1v1h-1zm-20 1h1v1h-1zm38 0h1v1h-1zm-70 1h1v1h-1zm1 0h1v1h-1zm4 0h1v1h-1zm10 0h1v1h-1zm8 0h1v1h-1zm52 0h1v1h-1zm-83 2h1v1h-1zm2 0h1v1h-1zm3 0h1v1h-1zm5 0h1v1h-1zm24 0h1v1h-1zm4 1h1v1h-1zm6 0h1v1h-1zm-19 1h1v1h-1zm4 0h1v1h-1zm53 0h1v1h-1zm-74 1h1v1h-1zm55 0h1v1h-1zm3 0h1v1h-1zm-49 1h1v1h-1zm22 0h1v1h-1zm4 0h1v1h-1zm16 0h1v1h-1zm-47 1h1v1h-1zm16 1h1v1h-1zm10 0h1v1h-1zm36 0h1v1h-1zm-70 1h1v1h-1zm50 0h1v1h-1zm5 0h1v1h-1zm6 0h1v1h-1zm-41 1h1v1h-1zm2 0h1v1h-1zm-15 1h1v1h-1zm15 0h1v1h-1zm2 0h1v1h-1zm21 0h1v1h-1zm6 0h1v1h-1zm3 1h1v1h-1zm-47 1h1v1h-1zm68 0h1v1h-1zm-38 1h1v1h-1zm39 0h1v1h-1zm-60 1h1v1h-1zm33 1h1v1h-1zm-14 1h1v1h-1zm-21 2h1v1h-1zm27 1h1v1h-1zm10 0h1v1h-1zm13 0h1v1h-1zm4 0h1v1h-1zm-47 1h1v1h-1zm-9 1h1v1h-1zm2 0h1v1h-1zm58 0h1v1h-1zm8 0h1v1h-1zm-3 1h1v1h-1zm-76 2h1v1h-1zm6 0h1v1h-1zm48 0h1v1h-1zm-44 1h1v1h-1zm30 0h1v1h-1zm-34 1h1v1h-1zm44 0h1v1h-1zm11 0h1v1h-1zm6 0h1v1h-1zm-38 1h1v1h-1zm-23 1h1v1h-1zm1 0h1v1h-1zm40 0h1v1h-1zm15 0h1v1h-1z" fill="#2424e0" fill-opacity="0.66"/>
<path d="M241 440h1v1h-1zm-46 1h1v1h-1zm21 1h1v1h-1zm-38 4h1v1h-1zm-7 1h1v1h-1zm18 4h1v1h-1zm29 4h1v1h-1zm-18 1h1v1h-1zm7 0h1v1h-1zm-4 1h1v1h-1zm20 0h1v1h-1zm-48 8h1v1h-1zm6 0h1v1h-1zm25 1h1v1h-1zm5 2h1v1h-1zm-12 2h1v1h-1zm11 0h1v1h-1zm-39 1h1v1h-1zm21 1h1v1h-1zm16 0h1v1h-1zm-25 1h1v1h-1zm18 0h1v1h-1zm-19 1h1v1h-1zm22 1h1v1h-1zm5 0h1v1h-1zm1 1h1v1h-1zm43 0h1v1h-1zm-69 3h1v1h-1zm12 0h1v1h-1zm-23 2h1v1h-1zm7 0h1v1h-1zm23 0h1v1h-1zm40 0h1v1h-1zm-45 1h1v1h-1zm19 0h1v1h-1zm6 2h1v1h-1zm-23 1h1v1h-1zm22 0h1v1h-1zm22 0h1v1h-1zm-46 1h1v1h-1zm-11 1h1v1h-1zm-14 2h1v1h-1zm1 3h1v1h-1zm63 0h1v1h-1zm-27 1h1v1h-1zm-13 2h1v1h-1zm0 2h1v1h-1zm13 0h1v1h-1zm-7 1h1v1h-1zm36 3h1v1h-1zm-29 4h1v1h-1zm-10 3h1v1h-1zm-20 2h1v1h-1zm25 5h1v1h-1zm19 1h1v1h-1zm-5 1h1v1h-1zm-47 1h1v1h-1zm54 0h1v1h-1zm-26 3h1v1h-1zm55 1h1v1h-1z" fill="#0c0ce6" fill-opacity="0.86"/>
<path d="M326 440h1v1h-1zm1 4h1v1h-1zm-18 1h1v1h-1zm2 0h1v1h-1zm12 0h1v1h-1zm11 3h1v1h-1zm-11 1h1v1h-1zm-21 1h1v1h-1zm7 0h1v1h-1zm-6 3h1v1h-1zm20 0h1v1h-1zm2 0h1v1h-1zm17 0h1v1h-1zm-41 1h1v1h-1zm1 0h1v1h-1zm6 0h1v1h-1zm4 0h1v1h-1zm2 0h1v1h-1zm3 0h1v1h-1zm6 0h1v1h-1zm8 0h1v1h-1zm-24 1h1v1h-1zm2 0h1v1h-1zm9 0h1v1h-1zm1 0h1v1h-1zm42 0h1v1h-1zm-58 1h1v1h-1zm4 0h1v1h-1zm10 0h1v1h-1zm13 0h1v1h-1zm-24 1h1v1h-1zm8 0h1v1h-1zm4 0h1v1h-1zm13 0h1v1h-1zm2 0h1v1h-1zm4 0h1v1h-1zm-40 1h1v1h-1zm2 0h1v1h-1zm11 0h1v1h-1zm16 0h1v1h-1zm7 0h1v1h-1zm-23 1h1v1h-1zm8 0h1v1h-1zm5 0h1v1h-1zm7 0h1v1h-1zm4 0h1v1h-1zm27 0h1v1h-1zm-56 1h1v1h-1zm13 0h1v1h-1zm1 0h1v1h-1zm7 0h1v1h-1zm1 0h1v1h-1zm1 0h1v1h-1zm1 0h1v1h-1zm3 0h1v1h-1zm1 0h1v1h-1zm4 0h1v1h-1zm-26 1h1v1h-1zm1 0h1v1h-1zm5 0h1v1h-1zm2 0h1v1h-1zm4 0h1v1h-1zm5 0h1v1h-1zm3 0h1v1h-1zm10 0h1v1h-1zm6 0h1v1h-1zm-51 1h1v1h-1zm13 0h1v1h-1zm2 0h1v1h-1zm3 0h1v1h-1zm1 0h1v1h-1zm1 0h1v1h-1zm1 0h1v1h-1zm2 0h1v1h-1zm3 0h1v1h-1zm4 0h1v1h-1zm3 0h1v1h-1zm2 0h1v1h-1zm3 0h1v1h-1zm1 0h1v1h-1zm1 0h1v1h-1zm9 0h1v1h-1zm-52 1h1v1h-1zm10 0h1v1h-1zm8 0h1v1h-1zm1 0h1v1h-1zm3 0h1v1h-1zm5 0h1v1h-1zm1 0h1v1h-1zm2 0h1v1h-1zm3 0h1v1h-1zm1 0h1v1h-1zm4 0h1v1h-1zm2 0h1v1h-1zm13 0h1v1h-1zm7 0h1v1h-1zm-53 1h1v1h-1zm3 0h1v1h-1zm2 0h1v1h-1zm3 0h1v1h-1zm2 0h1v1h-1zm1 0h1v1h-1zm3 0h1v1h-1zm1 0h1v1h-1zm3 0h1v1h-1zm3 0h1v1h-1zm3 0h1v1h-1zm1 0h1v1h-1zm1 0h1v1h-1zm6 0h1v1h-1zm3 0h1v1h-1zm7 0h1v1h-1zm18 0h1v1h-1zm-58 1h1v1h-1zm3 0h1v1h-1zm2 0h1v1h-1zm6 0h1v1h-1zm1 0h1v1h-1zm1 0h1v1h-1zm7 0h1v1h-1zm2 0h1v1h-1zm1 0h1v1h-1zm1 0h1v1h-1zm3 0h1v1h-1zm2 0h1v1h-1zm11 0h1v1h-1zm4 0h1v1h-1zm-48 1h1v1h-1zm2 0h1v1h-1zm7 0h1v1h-1zm3 0h1v1h-1zm2 0h1v1h-1zm1 0h1v1h-1zm2 0h1v1h-1zm1 0h1v1h-1zm4 0h1v1h-1zm2 0h1v1h-1zm3 0h1v1h-1zm4 0h1v1h-1zm1 0h1v1h-1zm2 0h1v1h-1zm2 0h1v1h-1zm4 0h1v1h-1zm4 0h1v1h-1zm-42 1h1v1h-1zm3 0h1v1h-1zm1 0h1v1h-1zm1 0h1v1h-1zm1 0h1v1h-1zm1 0h1v1h-1zm2 0h1v1h-1zm9 0h1v1h-1zm3 0h1v1h-1zm1 0h1v1h-1zm4 0h1v1h-1zm1 0h1v1h-1zm2 0h1v1h-1zm5 0h1v1h-1zm1 0h1v1h-1zm1 0h1v1h-1zm17 0h1v1h-1zm-60 1h1v1h-1zm6 0h1v1h-1zm3 0h1v1h-1zm4 0h1v1h-1zm8 0h1v1h-1zm4 0h1v1h-1zm4 0h1v1h-1zm1 0h1v1h-1zm1 0h1v1h-1zm1 0h1v1h-1zm5 0h1v1h-1zm3 0h1v1h-1zm8 0h1v1h-1zm-54 1h1v1h-1zm18 0h1v1h-1zm8 0h1v1h-1zm6 0h1v1h-1zm8 0h1v1h-1zm1 0h1v1h-1zm2 0h1v1h-1zm6 0h1v1h-1zm3 0h1v1h-1zm8 0h1v1h-1zm-49 1h1v1h-1zm4 0h1v1h-1zm3 0h1v1h-1zm1 0h1v1h-1zm1 0h1v1h-1zm3 0h1v1h-1zm4 0h1v1h-1zm9 0h1v1h-1zm6 0h1v1h-1zm4 0h1v1h-1zm3 0h1v1h-1zm8 0h1v1h-1zm3 0h1v1h-1zm1 0h1v1h-1zm1 0h1v1h-1zm-59 1h1v1h-1zm19 0h1v1h-1zm4 0h1v1h-1zm7 0h1v1h-1zm2 0h1v1h-1zm1 0h1v1h-1zm1 0h1v1h-1zm1 0h1v1h-1zm5 0h1v1h-1zm6 0h1v1h-1zm6 0h1v1h-1zm3 0h1v1h-1zm-46 1h1v1h-1zm4 0h1v1h-1zm1 0h1v1h-1zm1 0h1v1h-1zm1 0h1v1h-1zm3 0h1v1h-1zm1 0h1v1h-1zm1 0h1v1h-1zm1 0h1v1h-1zm3 0h1v1h-1zm1 0h1v1h-1zm4 0h1v1h-1zm2 0h1v1h-1zm8 0h1v1h-1zm3 0h1v1h-1zm1 0h1v1h-1zm1 0h1v1h-1zm5 0h1v1h-1zm5 0h1v1h-1zm1 0h1v1h-1zm5 0h1v1h-1zm-51 1h1v1h-1zm3 0h1v1h-1zm6 0h1v1h-1zm7 0h1v1h-1zm3 0h1v1h-1zm4 0h1v1h-1zm5 0h1v1h-1zm3 0h1v1h-1zm2 0h1v1h-1zm2 0h1v1h-1zm3 0h1v1h-1zm-38 1h1v1h-1zm2 0h1v1h-1zm1 0h1v1h-1zm6 0h1v1h-1zm3 0h1v1h-1zm2 0h1v1h-1zm11 0h1v1h-1zm3 0h1v1h-1zm1 0h1v1h-1zm1 0h1v1h-1zm7 0h1v1h-1zm2 0h1v1h-1zm1 0h1v1h-1zm11 0h1v1h-1zm6 0h1v1h-1zm-52 1h1v1h-1zm1 0h1v1h-1zm1 0h1v1h-1zm2 0h1v1h-1zm9 0h1v1h-1zm1 0h1v1h-1zm1 0h1v1h-1zm1 0h1v1h-1zm12 0h1v1h-1zm1 0h1v1h-1zm2 0h1v1h-1zm3 0h1v1h-1zm-42 1h1v1h-1zm4 0h1v1h-1zm7 0h1v1h-1zm1 0h1v1h-1zm2 0h1v1h-1zm10 0h1v1h-1zm1 0h1v1h-1zm2 0h1v1h-1zm1 0h1v1h-1zm3 0h1v1h-1zm1 0h1v1h-1zm7 0h1v1h-1zm1 0h1v1h-1zm1 0h1v1h-1zm1 0h1v1h-1zm1 0h1v1h-1zm4 0h1v1h-1zm2 0h1v1h-1zm2 0h1v1h-1zm5 0h1v1h-1zm-51 1h1v1h-1zm2 0h1v1h-1zm23 0h1v1h-1zm2 0h1v1h-1zm4 0h1v1h-1zm2 0h1v1h-1zm4 0h1v1h-1zm1 0h1v1h-1zm4 0h1v1h-1zm5 0h1v1h-1zm-62 1h1v1h-1zm11 0h1v1h-1zm3 0h1v1h-1zm1 0h1v1h-1zm4 0h1v1h-1zm3 0h1v1h-1zm11 0h1v1h-1zm2 0h1v1h-1zm2 0h1v1h-1zm8 0h1v1h-1zm1 0h1v1h-1zm1 0h1v1h-1zm3 0h1v1h-1zm1 0h1v1h-1zm1 0h1v1h-1zm3 0h1v1h-1zm2 0h1v1h-1zm-44 1h1v1h-1zm1 0h1v1h-1zm1 0h1v1h-1zm10 0h1v1h-1zm7 0h1v1h-1zm7 0h1v1h-1zm1 0h1v1h-1zm6 0h1v1h-1zm3 0h1v1h-1zm1 0h1v1h-1zm-38 1h1v1h-1zm2 0h1v1h-1zm1 0h1v1h-1zm4 0h1v1h-1zm1 0h1v1h-1zm3 0h1v1h-1zm3 0h1v1h-1zm2 0h1v1h-1zm3 0h1v1h-1zm10 0h1v1h-1zm1 0h1v1h-1zm2 0h1v1h-1zm2 0h1v1h-1zm3 0h1v1h-1zm1 0h1v1h-1zm1 0h1v1h-1zm8 0h1v1h-1zm-56 1h1v1h-1zm2 0h1v1h-1zm3 0h1v1h-1zm2 0h1v1h-1zm2 0h1v1h-1zm2 0h1v1h-1zm4 0h1v1h-1zm1 0h1v1h-1zm1 0h1v1h-1zm3 0h1v1h-1zm5 0h1v1h-1zm1 0h1v1h-1zm8 0h1v1h-1zm4 0h1v1h-1zm7 0h1v1h-1zm5 0h1v1h-1zm-43 1h1v1h-1zm2 0h1v1h-1zm1 0h1v1h-1zm1 0h1v1h-1zm1 0h1v1h-1zm5 0h1v1h-1zm6 0h1v1h-1zm3 0h1v1h-1zm1 0h1v1h-1zm3 0h1v1h-1zm3 0h1v1h-1zm1 0h1v1h-1zm7 0h1v1h-1zm8 0h1v1h-1zm-46 1h1v1h-1zm11 0h1v1h-1zm1 0h1v1h-1zm1 0h1v1h-1zm1 0h1v1h-1zm2 0h1v1h-1zm27 0h1v1h-1zm2 0h1v1h-1zm29 0h1v1h-1zm-73 1h1v1h-1zm1 0h1v1h-1zm5 0h1v1h-1zm5 0h1v1h-1zm1 0h1v1h-1zm1 0h1v1h-1zm7 0h1v1h-1zm6 0h1v1h-1zm1 0h1v1h-1zm7 0h1v1h-1zm1 0h1v1h-1zm1 0h1v1h-1zm5 0h1v1h-1zm1 0h1v1h-1zm-44 1h1v1h-1zm3 0h1v1h-1zm1 0h1v1h-1zm6 0h1v1h-1zm2 0h1v1h-1zm1 0h1v1h-1zm4 0h1v1h-1zm2 0h1v1h-1zm7 0h1v1h-1zm3 0h1v1h-1zm4 0h1v1h-1zm1 0h1v1h-1zm3 0h1v1h-1zm3 0h1v1h-1zm2 0h1v1h-1zm1 0h1v1h-1zm4 0h1v1h-1zm1 0h1v1h-1zm3 0h1v1h-1zm2 0h1v1h-1zm-49 1h1v1h-1zm2 0h1v1h-1zm1 0h1v1h-1zm2 0h1v1h-1zm6 0h1v1h-1zm1 0h1v1h-1zm2 0h1v1h-1zm5 0h1v1h-1zm1 0h1v1h-1zm6 0h1v1h-1zm1 0h1v1h-1zm2 0h1v1h-1zm1 0h1v1h-1zm3 0h1v1h-1zm2 0h1v1h-1zm2 0h1v1h-1zm6 0h1v1h-1zm34 0h1v1h-1zm-79 1h1v1h-1zm7 0h1v1h-1zm1 0h1v1h-1zm6 0h1v1h-1zm5 0h1v1h-1zm2 0h1v1h-1zm2 0h1v1h-1zm11 0h1v1h-1zm2 0h1v1h-1zm1 0h1v1h-1zm1 0h1v1h-1zm2 0h1v1h-1zm2 0h1v1h-1zm-40 1h1v1h-1zm2 0h1v1h-1zm2 0h1v1h-1zm1 0h1v1h-1zm1 0h1v1h-1zm2 0h1v1h-1zm2 0h1v1h-1zm3 0h1v1h-1zm4 0h1v1h-1zm14 0h1v1h-1zm1 0h1v1h-1zm6 0h1v1h-1zm1 0h1v1h-1zm5 0h1v1h-1zm1 0h1v1h-1zm1 0h1v1h-1zm2 0h1v1h-1zm4 0h1v1h-1zm-45 1h1v1h-1zm2 0h1v1h-1zm7 0h1v1h-1zm6 0h1v1h-1zm1 0h1v1h-1zm3 0h1v1h-1zm3 0h1v1h-1zm1 0h1v1h-1zm3 0h1v1h-1zm6 0h1v1h-1zm1 0h1v1h-1zm16 0h1v1h-1zm-55 1h1v1h-1zm3 0h1v1h-1zm3 0h1v1h-1zm3 0h1v1h-1zm3 0h1v1h-1zm4 0h1v1h-1zm7 0h1v1h-1zm1 0h1v1h-1zm1 0h1v1h-1zm7 0h1v1h-1zm1 0h1v1h-1zm2 0h1v1h-1zm2 0h1v1h-1zm1 0h1v1h-1zm2 0h1v1h-1zm7 0h1v1h-1zm3 0h1v1h-1zm-51 1h1v1h-1zm5 0h1v1h-1zm7 0h1v1h-1zm2 0h1v1h-1zm1 0h1v1h-1zm1 0h1v1h-1zm1 0h1v1h-1zm1 0h1v1h-1zm2 0h1v1h-1zm9 0h1v1h-1zm1 0h1v1h-1zm1 0h1v1h-1zm2 0h1v1h-1zm1 0h1v1h-1zm1 0h1v1h-1zm4 0h1v1h-1zm-41 1h1v1h-1zm6 0h1v1h-1zm1 0h1v1h-1zm4 0h1v1h-1zm2 0h1v1h-1zm3 0h1v1h-1zm4 0h1v1h-1zm1 0h1v1h-1zm1 0h1v1h-1zm1 0h1v1h-1zm1 0h1v1h-1zm1 0h1v1h-1zm3 0h1v1h-1zm3 0h1v1h-1zm2 0h1v1h-1zm2 0h1v1h-1zm4 0h1v1h-1zm4 0h1v1h-1zm1 0h1v1h-1zm4 0h1v1h-1zm-43 1h1v1h-1zm4 0h1v1h-1zm1 0h1v1h-1zm4 0h1v1h-1zm2 0h1v1h-1zm1 0h1v1h-1zm1 0h1v1h-1zm2 0h1v1h-1zm3 0h1v1h-1zm1 0h1v1h-1zm9 0h1v1h-1zm1 0h1v1h-1zm3 0h1v1h-1zm1 0h1v1h-1zm14 0h1v1h-1zm-43 1h1v1h-1zm2 0h1v1h-1zm5 0h1v1h-1zm4 0h1v1h-1zm1 0h1v1h-1zm2 0h1v1h-1zm2 0h1v1h-1zm4 0h1v1h-1zm2 0h1v1h-1zm1 0h1v1h-1zm6 0h1v1h-1zm1 0h1v1h-1zm2 0h1v1h-1zm1 0h1v1h-1zm6 0h1v1h-1zm-44 1h1v1h-1zm1 0h1v1h-1zm1 0h1v1h-1zm1 0h1v1h-1zm5 0h1v1h-1zm2 0h1v1h-1zm1 0h1v1h-1zm1 0h1v1h-1zm2 0h1v1h-1zm3 0h1v1h-1zm1 0h1v1h-1zm1 0h1v1h-1zm4 0h1v1h-1zm2 0h1v1h-1zm1 0h1v1h-1zm1 0h1v1h-1zm2 0h1v1h-1zm1 0h1v1h-1zm1 0h1v1h-1zm9 0h1v1h-1zm2 0h1v1h-1zm2 0h1v1h-1zm-44 1h1v1h-1zm1 0h1v1h-1zm6 0h1v1h-1zm2 0h1v1h-1zm9 0h1v1h-1zm1 0h1v1h-1zm3 0h1v1h-1zm1 0h1v1h-1zm3 0h1v1h-1zm2 0h1v1h-1zm5 0h1v1h-1zm5 0h1v1h-1zm2 0h1v1h-1zm6 0h1v1h-1zm5 0h1v1h-1zm2 0h1v1h-1zm-45 1h1v1h-1zm2 0h1v1h-1zm2 0h1v1h-1zm2 0h1v1h-1zm7 0h1v1h-1zm4 0h1v1h-1zm3 0h1v1h-1zm1 0h1v1h-1zm1 0h1v1h-1zm3 0h1v1h-1zm1 0h1v1h-1zm6 0h1v1h-1zm4 0h1v1h-1zm-42 1h1v1h-1zm8 0h1v1h-1zm3 0h1v1h-1zm1 0h1v1h-1zm4 0h1v1h-1zm4 0h1v1h-1zm3 0h1v1h-1zm1 0h1v1h-1zm1 0h1v1h-1zm1 0h1v1h-1zm12 0h1v1h-1zm3 0h1v1h-1zm4 0h1v1h-1zm1 0h1v1h-1zm-60 1h1v1h-1zm7 0h1v1h-1zm15 0h1v1h-1zm1 0h1v1h-1zm1 0h1v1h-1zm3 0h1v1h-1zm4 0h1v1h-1zm5 0h1v1h-1zm4 0h1v1h-1zm1 0h1v1h-1zm1 0h1v1h-1zm3 0h1v1h-1zm12 0h1v1h-1zm4 0h1v1h-1zm-48 1h1v1h-1zm10 0h1v1h-1zm2 0h1v1h-1zm12 0h1v1h-1zm4 0h1v1h-1zm2 0h1v1h-1zm17 0h1v1h-1zm-47 1h1v1h-1zm2 0h1v1h-1zm3 0h1v1h-1zm1 0h1v1h-1zm6 0h1v1h-1zm4 0h1v1h-1zm4 0h1v1h-1zm1 0h1v1h-1zm7 0h1v1h-1zm5 0h1v1h-1zm3 0h1v1h-1zm2 0h1v1h-1zm4 0h1v1h-1zm3 0h1v1h-1zm6 0h1v1h-1zm1 0h1v1h-1zm1 0h1v1h-1zm-47 1h1v1h-1zm8 0h1v1h-1zm6 0h1v1h-1zm3 0h1v1h-1zm3 0h1v1h-1zm17 0h1v1h-1zm1 0h1v1h-1zm3 0h1v1h-1zm8 0h1v1h-1zm-61 1h1v1h-1zm27 0h1v1h-1zm19 0h1v1h-1zm12 0h1v1h-1zm4 0h1v1h-1zm-61 1h1v1h-1zm4 0h1v1h-1zm10 0h1v1h-1zm12 0h1v1h-1zm1 0h1v1h-1zm2 0h1v1h-1zm1 0h1v1h-1zm2 0h1v1h-1zm2 0h1v1h-1zm1 0h1v1h-1zm3 0h1v1h-1zm17 0h1v1h-1zm1 0h1v1h-1zm7 0h1v1h-1zm-54 1h1v1h-1zm5 0h1v1h-1zm1 0h1v1h-1zm17 0h1v1h-1zm3 0h1v1h-1zm11 0h1v1h-1zm3 0h1v1h-1zm3 0h1v1h-1zm3 0h1v1h-1zm2 0h1v1h-1zm10 0h1v1h-1zm-34 1h1v1h-1zm3 0h1v1h-1zm11 0h1v1h-1zm20 0h1v1h-1zm-54 1h1v1h-1zm8 0h1v1h-1zm2 0h1v1h-1zm31 0h1v1h-1zm3 0h1v1h-1zm9 0h1v1h-1zm2 0h1v1h-1zm-47 1h1v1h-1zm2 0h1v1h-1zm24 0h1v1h-1zm5 0h1v1h-1zm2 0h1v1h-1zm1 0h1v1h-1zm1 0h1v1h-1zm1 0h1v1h-1zm2 0h1v1h-1zm5 0h1v1h-1zm-10 1h1v1h-1zm7 0h1v1h-1zm4 0h1v1h-1zm-34 1h1v1h-1zm16 0h1v1h-1zm2 0h1v1h-1zm2 0h1v1h-1zm1 0h1v1h-1zm6 0h1v1h-1zm-46 1h1v1h-1zm42 0h1v1h-1zm2 0h1v1h-1zm4 0h1v1h-1zm7 0h1v1h-1zm-55 1h1v1h-1zm42 0h1v1h-1zm2 0h1v1h-1zm5 0h1v1h-1zm3 0h1v1h-1zm-14 1h1v1h-1zm8 0h1v1h-1zm12 0h1v1h-1zm-40 1h1v1h-1zm33 0h1v1h-1zm3 0h1v1h-1zm2 0h1v1h-1zm-43 1h1v1h-1zm33 0h1v1h-1zm8 0h1v1h-1zm1 0h1v1h-1zm-14 1h1v1h-1zm6 0h1v1h-1zm4 0h1v1h-1zm2 0h1v1h-1zm1 0h1v1h-1zm3 0h1v1h-1zm-33 1h1v1h-1zm3 0h1v1h-1zm18 0h1v1h-1zm4 0h1v1h-1zm7 0h1v1h-1zm-53 1h1v1h-1zm18 0h1v1h-1zm3 0h1v1h-1zm-6 1h1v1h-1zm3 0h1v1h-1zm2 1h1v1h-1zm1 0h1v1h-1zm2 0h1v1h-1zm1 0h1v1h-1zm1 0h1v1h-1zm6 0h1v1h-1zm-43 1h1v1h-1zm27 0h1v1h-1zm3 0h1v1h-1zm2 0h1v1h-1zm1 0h1v1h-1zm-5 1h1v1h-1zm3 0h1v1h-1zm1 0h1v1h-1zm1 0h1v1h-1zm1 0h1v1h-1zm2 0h1v1h-1zm1 0h1v1h-1zm3 0h1v1h-1zm1 0h1v1h-1zm1 0h1v1h-1zm3 0h1v1h-1zm-17 1h1v1h-1zm1 0h1v1h-1zm3 0h1v1h-1zm2 0h1v1h-1zm4 0h1v1h-1zm1 0h1v1h-1zm22 0h1v1h-1zm-66 1h1v1h-1zm1 0h1v1h-1zm27 0h1v1h-1zm5 0h1v1h-1zm7 0h1v1h-1zm1 0h1v1h-1zm7 0h1v1h-1zm-20 1h1v1h-1zm3 0h1v1h-1zm5 0h1v1h-1zm8 0h1v1h-1zm1 0h1v1h-1zm-14 1h1v1h-1z" fill="#4444dc" fill-opacity="0.42"/>
<path d="M313 456h1v1h-1zm17 1h1v1h-1zm-10 1h1v1h-1zm1 1h1v1h-1zm10 0h1v1h-1zm-33 1h1v1h-1zm4 0h1v1h-1zm9 0h1v1h-1zm4 0h1v1h-1zm8 0h1v1h-1zm1 0h1v1h-1zm5 1h1v1h-1zm-19 1h1v1h-1zm2 0h1v1h-1zm-10 1h1v1h-1zm7 0h1v1h-1zm7 0h1v1h-1zm9 0h1v1h-1zm-16 1h1v1h-1zm18 0h1v1h-1zm1 0h1v1h-1zm-17 1h1v1h-1zm6 0h1v1h-1zm1 0h1v1h-1zm1 0h1v1h-1zm8 0h1v1h-1zm-10 1h1v1h-1zm4 0h1v1h-1zm5 0h1v1h-1zm1 0h1v1h-1zm-19 1h1v1h-1zm5 0h1v1h-1zm1 0h1v1h-1zm3 0h1v1h-1zm27 0h1v1h-1zm-36 1h1v1h-1zm1 0h1v1h-1zm3 0h1v1h-1zm5 0h1v1h-1zm2 0h1v1h-1zm8 0h1v1h-1zm4 0h1v1h-1zm4 0h1v1h-1zm-35 1h1v1h-1zm8 0h1v1h-1zm3 0h1v1h-1zm5 0h1v1h-1zm4 0h1v1h-1zm3 0h1v1h-1zm11 0h1v1h-1zm-37 1h1v1h-1zm12 0h1v1h-1zm8 0h1v1h-1zm2 0h1v1h-1zm5 0h1v1h-1zm8 0h1v1h-1zm2 0h1v1h-1zm-33 1h1v1h-1zm2 0h1v1h-1zm1 0h1v1h-1zm1 0h1v1h-1zm1 0h1v1h-1zm5 0h1v1h-1zm8 0h1v1h-1zm2 0h1v1h-1zm8 0h1v1h-1zm2 0h1v1h-1zm1 0h1v1h-1zm3 0h1v1h-1zm-40 1h1v1h-1zm5 0h1v1h-1zm13 0h1v1h-1zm1 0h1v1h-1zm7 0h1v1h-1zm7 0h1v1h-1zm4 0h1v1h-1zm-28 1h1v1h-1zm1 0h1v1h-1zm2 0h1v1h-1zm6 0h1v1h-1zm1 0h1v1h-1zm1 0h1v1h-1zm3 0h1v1h-1zm4 0h1v1h-1zm4 0h1v1h-1zm3 0h1v1h-1zm3 0h1v1h-1zm2 0h1v1h-1zm-30 1h1v1h-1zm1 0h1v1h-1zm2 0h1v1h-1zm6 0h1v1h-1zm2 0h1v1h-1zm11 0h1v1h-1zm6 0h1v1h-1zm2 0h1v1h-1zm-33 1h1v1h-1zm2 0h1v1h-1zm10 0h1v1h-1zm2 0h1v1h-1zm10 0h1v1h-1zm2 0h1v1h-1zm3 0h1v1h-1zm-23 1h1v1h-1zm3 0h1v1h-1zm3 0h1v1h-1zm5 0h1v1h-1zm12 0h1v1h-1zm4 0h1v1h-1zm1 0h1v1h-1zm6 0h1v1h-1zm-34 1h1v1h-1zm3 0h1v1h-1zm2 0h1v1h-1zm1 0h1v1h-1zm2 0h1v1h-1zm1 0h1v1h-1zm4 0h1v1h-1zm2 0h1v1h-1zm6 0h1v1h-1zm2 0h1v1h-1zm1 0h1v1h-1zm3 0h1v1h-1zm-41 1h1v1h-1zm11 0h1v1h-1zm6 0h1v1h-1zm1 0h1v1h-1zm2 0h1v1h-1zm5 0h1v1h-1zm7 0h1v1h-1zm1 0h1v1h-1zm1 0h1v1h-1zm8 0h1v1h-1zm1 0h1v1h-1zm4 0h1v1h-1zm5 0h1v1h-1zm-42 1h1v1h-1zm1 0h1v1h-1zm1 0h1v1h-1zm1 0h1v1h-1zm1 0h1v1h-1zm2 0h1v1h-1zm1 0h1v1h-1zm3 0h1v1h-1zm3 0h1v1h-1zm6 0h1v1h-1zm1 0h1v1h-1zm5 0h1v1h-1zm2 0h1v1h-1zm1 0h1v1h-1zm1 0h1v1h-1zm-35 1h1v1h-1zm8 0h1v1h-1zm3 0h1v1h-1zm1 0h1v1h-1zm7 0h1v1h-1zm1 0h1v1h-1zm6 0h1v1h-1zm3 0h1v1h-1zm17 0h1v1h-1zm-43 1h1v1h-1zm8 0h1v1h-1zm3 0h1v1h-1zm9 0h1v1h-1zm5 0h1v1h-1zm7 0h1v1h-1zm2 0h1v1h-1zm3 0h1v1h-1zm-34 1h1v1h-1zm1 0h1v1h-1zm1 0h1v1h-1zm1 0h1v1h-1zm3 0h1v1h-1zm2 0h1v1h-1zm1 0h1v1h-1zm9 0h1v1h-1zm9 0h1v1h-1zm2 0h1v1h-1zm1 0h1v1h-1zm-22 1h1v1h-1zm2 0h1v1h-1zm3 0h1v1h-1zm3 0h1v1h-1zm1 0h1v1h-1zm1 0h1v1h-1zm3 0h1v1h-1zm5 0h1v1h-1zm2 0h1v1h-1zm-35 1h1v1h-1zm3 0h1v1h-1zm2 0h1v1h-1zm1 0h1v1h-1zm2 0h1v1h-1zm5 0h1v1h-1zm3 0h1v1h-1zm4 0h1v1h-1zm10 0h1v1h-1zm1 0h1v1h-1zm-20 1h1v1h-1zm5 0h1v1h-1zm1 0h1v1h-1zm2 0h1v1h-1zm1 0h1v1h-1zm1 0h1v1h-1zm5 0h1v1h-1zm2 0h1v1h-1zm3 0h1v1h-1zm-24 1h1v1h-1zm1 0h1v1h-1zm7 0h1v1h-1zm2 0h1v1h-1zm4 0h1v1h-1zm1 0h1v1h-1zm1 0h1v1h-1zm1 0h1v1h-1zm10 0h1v1h-1zm6 0h1v1h-1zm1 0h1v1h-1zm4 0h1v1h-1zm-36 1h1v1h-1zm1 0h1v1h-1zm3 0h1v1h-1zm5 0h1v1h-1zm12 0h1v1h-1zm7 0h1v1h-1zm-21 1h1v1h-1zm2 0h1v1h-1zm4 0h1v1h-1zm5 0h1v1h-1zm1 0h1v1h-1zm6 0h1v1h-1zm2 0h1v1h-1zm-33 1h1v1h-1zm9 0h1v1h-1zm3 0h1v1h-1zm4 0h1v1h-1zm5 0h1v1h-1zm1 0h1v1h-1zm7 0h1v1h-1zm4 0h1v1h-1zm-33 1h1v1h-1zm6 0h1v1h-1zm2 0h1v1h-1zm4 0h1v1h-1zm1 0h1v1h-1zm2 0h1v1h-1zm2 0h1v1h-1zm2 0h1v1h-1zm6 0h1v1h-1zm1 0h1v1h-1zm2 0h1v1h-1zm-10 1h1v1h-1zm2 0h1v1h-1zm3 0h1v1h-1zm6 0h1v1h-1zm14 0h1v1h-1zm20 0h1v1h-1zm-53 1h1v1h-1zm4 0h1v1h-1zm7 0h1v1h-1zm1 0h1v1h-1zm7 0h1v1h-1zm17 0h1v1h-1zm-36 1h1v1h-1zm7 0h1v1h-1zm3 0h1v1h-1zm1 0h1v1h-1zm3 0h1v1h-1zm2 0h1v1h-1zm1 0h1v1h-1zm-8 1h1v1h-1zm6 0h1v1h-1zm-19 1h1v1h-1zm17 0h1v1h-1zm17 0h1v1h-1zm-24 1h1v1h-1zm7 0h1v1h-1zm-4 1h1v1h-1zm6 0h1v1h-1zm10 0h1v1h-1zm-21 1h1v1h-1zm2 0h1v1h-1zm7 0h1v1h-1zm17 1h1v1h-1zm0 1h1v1h-1zm6 0h1v1h-1zm-31 1h1v1h-1zm2 1h1v1h-1zm31 1h1v1h-1zm-32 1h1v1h-1zm30 0h1v1h-1zm1 2h1v1h-1zm3 0h1v1h-1zm1 1h1v1h-1zm3 0h1v1h-1zm0 4h1v1h-1zm7 0h1v1h-1zm-8 1h1v1h-1zm2 0h1v1h-1zm3 0h1v1h-1zm1 2h1v1h-1zm-2 1h1v1h-1zm3 0h1v1h-1zm-30 4h1v1h-1zm4 0h1v1h-1zm-6 1h1v1h-1zm1 1h1v1h-1zm3 0h1v1h-1zm3 0h1v1h-1zm-8 1h1v1h-1zm9 0h1v1h-1zm-7 1h1v1h-1zm2 0h1v1h-1zm0 1h1v1h-1zm1 0h1v1h-1zm3 2h1v1h-1z" fill="#2424e0" fill-opacity="0.66"/>
<path d="M312 460h1v1h-1zm11 4h1v1h-1zm-12 2h1v1h-1zm7 0h1v1h-1zm1 0h1v1h-1zm4 0h1v1h-1zm1 0h1v1h-1zm-5 1h1v1h-1zm4 0h1v1h-1zm5 0h1v1h-1zm-18 1h1v1h-1zm16 0h1v1h-1zm3 0h1v1h-1zm-15 1h1v1h-1zm4 0h1v1h-1zm3 0h1v1h-1zm1 0h1v1h-1zm3 0h1v1h-1zm1 0h1v1h-1zm3 0h1v1h-1zm-14 1h1v1h-1zm3 0h1v1h-1zm2 0h1v1h-1zm1 0h1v1h-1zm1 0h1v1h-1zm5 0h1v1h-1zm1 0h1v1h-1zm2 0h1v1h-1zm-22 1h1v1h-1zm6 0h1v1h-1zm2 0h1v1h-1zm1 0h1v1h-1zm1 0h1v1h-1zm8 0h1v1h-1zm11 0h1v1h-1zm-20 1h1v1h-1zm1 0h1v1h-1zm1 0h1v1h-1zm4 0h1v1h-1zm1 0h1v1h-1zm1 0h1v1h-1zm2 0h1v1h-1zm-17 1h1v1h-1zm2 0h1v1h-1zm5 0h1v1h-1zm3 0h1v1h-1zm1 0h1v1h-1zm3 0h1v1h-1zm1 0h1v1h-1zm2 0h1v1h-1zm3 0h1v1h-1zm-22 1h1v1h-1zm2 0h1v1h-1zm6 0h1v1h-1zm1 0h1v1h-1zm1 0h1v1h-1zm1 0h1v1h-1zm1 0h1v1h-1zm1 0h1v1h-1zm1 0h1v1h-1zm1 0h1v1h-1zm8 0h1v1h-1zm2 0h1v1h-1zm-25 1h1v1h-1zm2 0h1v1h-1zm1 0h1v1h-1zm1 0h1v1h-1zm2 0h1v1h-1zm2 0h1v1h-1zm1 0h1v1h-1zm5 0h1v1h-1zm1 0h1v1h-1zm1 0h1v1h-1zm2 0h1v1h-1zm3 0h1v1h-1zm3 0h1v1h-1zm8 0h1v1h-1zm-37 1h1v1h-1zm1 0h1v1h-1zm2 0h1v1h-1zm6 0h1v1h-1zm3 0h1v1h-1zm1 0h1v1h-1zm1 0h1v1h-1zm2 0h1v1h-1zm1 0h1v1h-1zm3 0h1v1h-1zm3 0h1v1h-1zm1 0h1v1h-1zm4 0h1v1h-1zm-20 1h1v1h-1zm3 0h1v1h-1zm3 0h1v1h-1zm1 0h1v1h-1zm1 0h1v1h-1zm2 0h1v1h-1zm2 0h1v1h-1zm2 0h1v1h-1zm1 0h1v1h-1zm6 0h1v1h-1zm-25 1h1v1h-1zm1 0h1v1h-1zm4 0h1v1h-1zm3 0h1v1h-1zm2 0h1v1h-1zm2 0h1v1h-1zm2 0h1v1h-1zm8 0h1v1h-1zm2 0h1v1h-1zm-23 1h1v1h-1zm3 0h1v1h-1zm3 0h1v1h-1zm3 0h1v1h-1zm1 0h1v1h-1zm2 0h1v1h-1zm1 0h1v1h-1zm3 0h1v1h-1zm1 0h1v1h-1zm4 0h1v1h-1zm-18 1h1v1h-1zm1 0h1v1h-1zm2 0h1v1h-1zm5 0h1v1h-1zm1 0h1v1h-1zm1 0h1v1h-1zm1 0h1v1h-1zm2 0h1v1h-1zm1 0h1v1h-1zm2 0h1v1h-1zm3 0h1v1h-1zm-21 1h1v1h-1zm3 0h1v1h-1zm1 0h1v1h-1zm1 0h1v1h-1zm3 0h1v1h-1zm1 0h1v1h-1zm1 0h1v1h-1zm2 0h1v1h-1zm1 0h1v1h-1zm1 0h1v1h-1zm3 0h1v1h-1zm1 0h1v1h-1zm2 0h1v1h-1zm1 0h1v1h-1zm-22 1h1v1h-1zm6 0h1v1h-1zm1 0h1v1h-1zm3 0h1v1h-1zm1 0h1v1h-1zm3 0h1v1h-1zm3 0h1v1h-1zm1 0h1v1h-1zm10 0h1v1h-1zm1 0h1v1h-1zm-29 1h1v1h-1zm4 0h1v1h-1zm2 0h1v1h-1zm1 0h1v1h-1zm2 0h1v1h-1zm1 0h1v1h-1zm4 0h1v1h-1zm3 0h1v1h-1zm1 0h1v1h-1zm7 0h1v1h-1zm1 0h1v1h-1zm-26 1h1v1h-1zm2 0h1v1h-1zm1 0h1v1h-1zm2 0h1v1h-1zm2 0h1v1h-1zm2 0h1v1h-1zm1 0h1v1h-1zm1 0h1v1h-1zm3 0h1v1h-1zm1 0h1v1h-1zm1 0h1v1h-1zm1 0h1v1h-1zm6 0h1v1h-1zm7 0h1v1h-1zm-30 1h1v1h-1zm2 0h1v1h-1zm4 0h1v1h-1zm5 0h1v1h-1zm1 0h1v1h-1zm3 0h1v1h-1zm5 0h1v1h-1zm3 0h1v1h-1zm2 0h1v1h-1zm-27 1h1v1h-1zm3 0h1v1h-1zm5 0h1v1h-1zm7 0h1v1h-1zm3 0h1v1h-1zm8 0h1v1h-1zm-25 1h1v1h-1zm3 0h1v1h-1zm1 0h1v1h-1zm1 0h1v1h-1zm4 0h1v1h-1zm2 0h1v1h-1zm1 0h1v1h-1zm1 0h1v1h-1zm2 0h1v1h-1zm2 0h1v1h-1zm1 0h1v1h-1zm-22 1h1v1h-1zm2 0h1v1h-1zm2 0h1v1h-1zm4 0h1v1h-1zm4 0h1v1h-1zm1 0h1v1h-1zm3 0h1v1h-1zm1 0h1v1h-1zm1 0h1v1h-1zm1 0h1v1h-1zm14 0h1v1h-1zm-29 1h1v1h-1zm2 0h1v1h-1zm1 0h1v1h-1zm3 0h1v1h-1zm3 0h1v1h-1zm1 0h1v1h-1zm7 0h1v1h-1zm3 0h1v1h-1zm3 0h1v1h-1zm1 0h1v1h-1zm2 0h1v1h-1zm-23 1h1v1h-1zm5 0h1v1h-1zm2 0h1v1h-1zm2 0h1v1h-1zm4 0h1v1h-1zm3 0h1v1h-1zm2 0h1v1h-1zm-10 1h1v1h-1zm2 0h1v1h-1zm1 0h1v1h-1zm2 0h1v1h-1zm1 0h1v1h-1zm-17 2h1v1h-1zm15 0h1v1h-1zm-15 1h1v1h-1zm7 1h1v1h-1zm17 0h1v1h-1zm-17 1h1v1h-1zm0 1h1v1h-1zm23 0h1v1h-1zm5 3h1v1h-1zm-10 22h1v1h-1zm0 1h1v1h-1z" fill="#0c0ce6" fill-opacity="0.86"/>
<rect x="313" y="474" width="1.2" height="1.2" fill="#e02020"/>
<rect x="316" y="478" width="1.2" height="1.2" fill="#e83030"/>
<rect x="312" y="482" width="1.2" height="1.2" fill="#d81818"/>
<rect x="319" y="484" width="1.2" height="1.2" fill="#f05020"/>
<rect x="315" y="488" width="1.2" height="1.2" fill="#e02020"/>
<rect x="321" y="476" width="1.2" height="1.2" fill="#f0a020"/>
<rect x="310" y="478" width="1.2" height="1.2" fill="#30c0e0"/>
<rect x="318" y="471" width="1.2" height="1.2" fill="#40d0f0"/>
<rect x="322" y="486" width="1.2" height="1.2" fill="#30c0e0"/>
<path d="M409 436h1v1h-1zm2 0h1v1h-1zm5 0h1v1h-1zm1 0h1v1h-1zm9 0h1v1h-1zm10 0h1v1h-1zm11 0h1v1h-1zm5 0h1v1h-1zm24 0h1v1h-1zm5 0h1v1h-1zm2 0h1v1h-1zm9 0h1v1h-1zm-84 1h1v1h-1zm2 0h1v1h-1zm9 0h1v1h-1zm11 0h1v1h-1zm4 0h1v1h-1zm7 0h1v1h-1zm3 0h1v1h-1zm6 0h1v1h-1zm1 0h1v1h-1zm4 0h1v1h-1zm2 0h1v1h-1zm3 0h1v1h-1zm3 0h1v1h-1zm3 0h1v1h-1zm11 0h1v1h-1zm10 0h1v1h-1zm2 0h1v1h-1zm-81 1h1v1h-1zm6 0h1v1h-1zm1 0h1v1h-1zm1 0h1v1h-1zm3 0h1v1h-1zm2 0h1v1h-1zm2 0h1v1h-1zm5 0h1v1h-1zm3 0h1v1h-1zm5 0h1v1h-1zm4 0h1v1h-1zm2 0h1v1h-1zm6 0h1v1h-1zm11 0h1v1h-1zm3 0h1v1h-1zm2 0h1v1h-1zm2 0h1v1h-1zm3 0h1v1h-1zm-64 1h1v1h-1zm1 0h1v1h-1zm2 0h1v1h-1zm9 0h1v1h-1zm11 0h1v1h-1zm2 0h1v1h-1zm4 0h1v1h-1zm8 0h1v1h-1zm2 0h1v1h-1zm4 0h1v1h-1zm5 0h1v1h-1zm6 0h1v1h-1zm2 0h1v1h-1zm3 0h1v1h-1zm7 0h1v1h-1zm15 0h1v1h-1zm2 0h1v1h-1zm2 0h1v1h-1zm1 0h1v1h-1zm-86 1h1v1h-1zm5 0h1v1h-1zm19 0h1v1h-1zm1 0h1v1h-1zm1 0h1v1h-1zm4 0h1v1h-1zm2 0h1v1h-1zm5 0h1v1h-1zm1 0h1v1h-1zm3 0h1v1h-1zm9 0h1v1h-1zm5 0h1v1h-1zm1 0h1v1h-1zm1 0h1v1h-1zm3 0h1v1h-1zm8 0h1v1h-1zm3 0h1v1h-1zm9 0h1v1h-1zm3 0h1v1h-1zm4 0h1v1h-1zm-87 1h1v1h-1zm10 0h1v1h-1zm5 0h1v1h-1zm12 0h1v1h-1zm5 0h1v1h-1zm2 0h1v1h-1zm7 0h1v1h-1zm2 0h1v1h-1zm7 0h1v1h-1zm3 0h1v1h-1zm2 0h1v1h-1zm1 0h1v1h-1zm4 0h1v1h-1zm2 0h1v1h-1zm2 0h1v1h-1zm17 0h1v1h-1zm2 0h1v1h-1zm-83 1h1v1h-1zm1 0h1v1h-1zm12 0h1v1h-1zm3 0h1v1h-1zm1 0h1v1h-1zm4 0h1v1h-1zm2 0h1v1h-1zm3 0h1v1h-1zm1 0h1v1h-1zm2 0h1v1h-1zm3 0h1v1h-1zm3 0h1v1h-1zm3 0h1v1h-1zm5 0h1v1h-1zm5 0h1v1h-1zm6 0h1v1h-1zm1 0h1v1h-1zm7 0h1v1h-1zm4 0h1v1h-1zm3 0h1v1h-1zm2 0h1v1h-1zm8 0h1v1h-1zm1 0h1v1h-1zm-65 1h1v1h-1zm2 0h1v1h-1zm2 0h1v1h-1zm6 0h1v1h-1zm7 0h1v1h-1zm6 0h1v1h-1zm3 0h1v1h-1zm1 0h1v1h-1zm1 0h1v1h-1zm7 0h1v1h-1zm6 0h1v1h-1zm6 0h1v1h-1zm6 0h1v1h-1zm2 0h1v1h-1zm2 0h1v1h-1zm10 0h1v1h-1zm1 0h1v1h-1zm-85 1h1v1h-1zm8 0h1v1h-1zm4 0h1v1h-1zm1 0h1v1h-1zm11 0h1v1h-1zm3 0h1v1h-1zm2 0h1v1h-1zm2 0h1v1h-1zm1 0h1v1h-1zm2 0h1v1h-1zm1 0h1v1h-1zm1 0h1v1h-1zm6 0h1v1h-1zm1 0h1v1h-1zm1 0h1v1h-1zm10 0h1v1h-1zm2 0h1v1h-1zm11 0h1v1h-1zm11 0h1v1h-1zm5 0h1v1h-1zm-80 1h1v1h-1zm2 0h1v1h-1zm1 0h1v1h-1zm6 0h1v1h-1zm5 0h1v1h-1zm12 0h1v1h-1zm9 0h1v1h-1zm5 0h1v1h-1zm2 0h1v1h-1zm5 0h1v1h-1zm2 0h1v1h-1zm1 0h1v1h-1zm24 0h1v1h-1zm8 0h1v1h-1zm-86 1h1v1h-1zm16 0h1v1h-1zm1 0h1v1h-1zm1 0h1v1h-1zm3 0h1v1h-1zm1 0h1v1h-1zm3 0h1v1h-1zm1 0h1v1h-1zm1 0h1v1h-1zm2 0h1v1h-1zm1 0h1v1h-1zm2 0h1v1h-1zm2 0h1v1h-1zm1 0h1v1h-1zm4 0h1v1h-1zm9 0h1v1h-1zm1 0h1v1h-1zm3 0h1v1h-1zm1 0h1v1h-1zm4 0h1v1h-1zm1 0h1v1h-1zm3 0h1v1h-1zm27 0h1v1h-1zm-85 1h1v1h-1zm12 0h1v1h-1zm2 0h1v1h-1zm5 0h1v1h-1zm4 0h1v1h-1zm2 0h1v1h-1zm4 0h1v1h-1zm9 0h1v1h-1zm4 0h1v1h-1zm3 0h1v1h-1zm1 0h1v1h-1zm1 0h1v1h-1zm8 0h1v1h-1zm8 0h1v1h-1zm4 0h1v1h-1zm3 0h1v1h-1zm7 0h1v1h-1zm-72 1h1v1h-1zm7 0h1v1h-1zm8 0h1v1h-1zm2 0h1v1h-1zm3 0h1v1h-1zm2 0h1v1h-1zm2 0h1v1h-1zm1 0h1v1h-1zm2 0h1v1h-1zm2 0h1v1h-1zm3 0h1v1h-1zm6 0h1v1h-1zm1 0h1v1h-1zm4 0h1v1h-1zm3 0h1v1h-1zm2 0h1v1h-1zm12 0h1v1h-1zm4 0h1v1h-1zm2 0h1v1h-1zm4 0h1v1h-1zm7 0h1v1h-1zm-79 1h1v1h-1zm5 0h1v1h-1zm1 0h1v1h-1zm1 0h1v1h-1zm5 0h1v1h-1zm4 0h1v1h-1zm3 0h1v1h-1zm1 0h1v1h-1zm1 0h1v1h-1zm6 0h1v1h-1zm2 0h1v1h-1zm3 0h1v1h-1zm3 0h1v1h-1zm1 0h1v1h-1zm4 0h1v1h-1zm4 0h1v1h-1zm1 0h1v1h-1zm3 0h1v1h-1zm21 0h1v1h-1zm3 0h1v1h-1zm11 0h1v1h-1zm-84 1h1v1h-1zm14 0h1v1h-1zm1 0h1v1h-1zm2 0h1v1h-1zm3 0h1v1h-1zm4 0h1v1h-1zm6 0h1v1h-1zm1 0h1v1h-1zm2 0h1v1h-1zm1 0h1v1h-1zm3 0h1v1h-1zm1 0h1v1h-1zm2 0h1v1h-1zm2 0h1v1h-1zm1 0h1v1h-1zm2 0h1v1h-1zm6 0h1v1h-1zm4 0h1v1h-1zm6 0h1v1h-1zm15 0h1v1h-1zm8 0h1v1h-1zm-86 1h1v1h-1zm1 0h1v1h-1zm8 0h1v1h-1zm6 0h1v1h-1zm4 0h1v1h-1zm4 0h1v1h-1zm1 0h1v1h-1zm1 0h1v1h-1zm1 0h1v1h-1zm2 0h1v1h-1zm2 0h1v1h-1zm1 0h1v1h-1zm2 0h1v1h-1zm3 0h1v1h-1zm5 0h1v1h-1zm1 0h1v1h-1zm2 0h1v1h-1zm3 0h1v1h-1zm1 0h1v1h-1zm3 0h1v1h-1zm2 0h1v1h-1zm5 0h1v1h-1zm3 0h1v1h-1zm1 0h1v1h-1zm6 0h1v1h-1zm1 0h1v1h-1zm9 0h1v1h-1zm1 0h1v1h-1zm2 0h1v1h-1zm5 0h1v1h-1zm-69 1h1v1h-1zm2 0h1v1h-1zm1 0h1v1h-1zm3 0h1v1h-1zm3 0h1v1h-1zm2 0h1v1h-1zm2 0h1v1h-1zm5 0h1v1h-1zm7 0h1v1h-1zm2 0h1v1h-1zm10 0h1v1h-1zm6 0h1v1h-1zm3 0h1v1h-1zm23 0h1v1h-1zm-83 1h1v1h-1zm4 0h1v1h-1zm3 0h1v1h-1zm3 0h1v1h-1zm1 0h1v1h-1zm2 0h1v1h-1zm3 0h1v1h-1zm1 0h1v1h-1zm3 0h1v1h-1zm4 0h1v1h-1zm1 0h1v1h-1zm1 0h1v1h-1zm3 0h1v1h-1zm2 0h1v1h-1zm4 0h1v1h-1zm2 0h1v1h-1zm1 0h1v1h-1zm1 0h1v1h-1zm2 0h1v1h-1zm1 0h1v1h-1zm2 0h1v1h-1zm5 0h1v1h-1zm11 0h1v1h-1zm7 0h1v1h-1zm10 0h1v1h-1zm6 0h1v1h-1zm-77 1h1v1h-1zm6 0h1v1h-1zm1 0h1v1h-1zm6 0h1v1h-1zm3 0h1v1h-1zm1 0h1v1h-1zm2 0h1v1h-1zm1 0h1v1h-1zm1 0h1v1h-1zm2 0h1v1h-1zm8 0h1v1h-1zm3 0h1v1h-1zm1 0h1v1h-1zm1 0h1v1h-1zm10 0h1v1h-1zm3 0h1v1h-1zm13 0h1v1h-1zm6 0h1v1h-1zm2 0h1v1h-1zm5 0h1v1h-1zm-84 1h1v1h-1zm10 0h1v1h-1zm7 0h1v1h-1zm1 0h1v1h-1zm1 0h1v1h-1zm1 0h1v1h-1zm1 0h1v1h-1zm1 0h1v1h-1zm7 0h1v1h-1zm1 0h1v1h-1zm3 0h1v1h-1zm3 0h1v1h-1zm1 0h1v1h-1zm1 0h1v1h-1zm1 0h1v1h-1zm5 0h1v1h-1zm1 0h1v1h-1zm1 0h1v1h-1zm1 0h1v1h-1zm5 0h1v1h-1zm3 0h1v1h-1zm7 0h1v1h-1zm3 0h1v1h-1zm1 0h1v1h-1zm-63 1h1v1h-1zm1 0h1v1h-1zm13 0h1v1h-1zm1 0h1v1h-1zm1 0h1v1h-1zm2 0h1v1h-1zm2 0h1v1h-1zm1 0h1v1h-1zm10 0h1v1h-1zm1 0h1v1h-1zm1 0h1v1h-1zm1 0h1v1h-1zm2 0h1v1h-1zm2 0h1v1h-1zm1 0h1v1h-1zm2 0h1v1h-1zm5 0h1v1h-1zm2 0h1v1h-1zm6 0h1v1h-1zm1 0h1v1h-1zm1 0h1v1h-1zm2 0h1v1h-1zm1 0h1v1h-1zm14 0h1v1h-1zm10 0h1v1h-1zm-89 1h1v1h-1zm6 0h1v1h-1zm2 0h1v1h-1zm1 0h1v1h-1zm3 0h1v1h-1zm3 0h1v1h-1zm2 0h1v1h-1zm3 0h1v1h-1zm1 0h1v1h-1zm1 0h1v1h-1zm1 0h1v1h-1zm1 0h1v1h-1zm3 0h1v1h-1zm1 0h1v1h-1zm1 0h1v1h-1zm6 0h1v1h-1zm2 0h1v1h-1zm2 0h1v1h-1zm2 0h1v1h-1zm1 0h1v1h-1zm1 0h1v1h-1zm2 0h1v1h-1zm8 0h1v1h-1zm2 0h1v1h-1zm5 0h1v1h-1zm7 0h1v1h-1zm15 0h1v1h-1zm6 0h1v1h-1zm-83 1h1v1h-1zm1 0h1v1h-1zm2 0h1v1h-1zm2 0h1v1h-1zm1 0h1v1h-1zm6 0h1v1h-1zm3 0h1v1h-1zm1 0h1v1h-1zm1 0h1v1h-1zm6 0h1v1h-1zm3 0h1v1h-1zm5 0h1v1h-1zm2 0h1v1h-1zm3 0h1v1h-1zm3 0h1v1h-1zm3 0h1v1h-1zm2 0h1v1h-1zm1 0h1v1h-1zm1 0h1v1h-1zm3 0h1v1h-1zm5 0h1v1h-1zm4 0h1v1h-1zm23 0h1v1h-1zm-81 1h1v1h-1zm2 0h1v1h-1zm6 0h1v1h-1zm2 0h1v1h-1zm7 0h1v1h-1zm19 0h1v1h-1zm5 0h1v1h-1zm2 0h1v1h-1zm2 0h1v1h-1zm2 0h1v1h-1zm1 0h1v1h-1zm8 0h1v1h-1zm4 0h1v1h-1zm4 0h1v1h-1zm6 0h1v1h-1zm4 0h1v1h-1zm2 0h1v1h-1zm-81 1h1v1h-1zm8 0h1v1h-1zm13 0h1v1h-1zm1 0h1v1h-1zm3 0h1v1h-1zm2 0h1v1h-1zm15 0h1v1h-1zm2 0h1v1h-1zm6 0h1v1h-1zm6 0h1v1h-1zm4 0h1v1h-1zm5 0h1v1h-1zm3 0h1v1h-1zm7 0h1v1h-1zm9 0h1v1h-1zm6 0h1v1h-1zm-72 1h1v1h-1zm3 0h1v1h-1zm3 0h1v1h-1zm1 0h1v1h-1zm1 0h1v1h-1zm2 0h1v1h-1zm2 0h1v1h-1zm1 0h1v1h-1zm1 0h1v1h-1zm4 0h1v1h-1zm4 0h1v1h-1zm1 0h1v1h-1zm1 0h1v1h-1zm1 0h1v1h-1zm1 0h1v1h-1zm1 0h1v1h-1zm2 0h1v1h-1zm5 0h1v1h-1zm3 0h1v1h-1zm2 0h1v1h-1zm1 0h1v1h-1zm7 0h1v1h-1zm14 0h1v1h-1zm-79 1h1v1h-1zm2 0h1v1h-1zm1 0h1v1h-1zm8 0h1v1h-1zm7 0h1v1h-1zm1 0h1v1h-1zm3 0h1v1h-1zm3 0h1v1h-1zm2 0h1v1h-1zm4 0h1v1h-1zm1 0h1v1h-1zm2 0h1v1h-1zm7 0h1v1h-1zm1 0h1v1h-1zm1 0h1v1h-1zm5 0h1v1h-1zm1 0h1v1h-1zm1 0h1v1h-1zm1 0h1v1h-1zm5 0h1v1h-1zm4 0h1v1h-1zm3 0h1v1h-1zm11 0h1v1h-1zm3 0h1v1h-1zm3 0h1v1h-1zm-80 1h1v1h-1zm7 0h1v1h-1zm5 0h1v1h-1zm9 0h1v1h-1zm2 0h1v1h-1zm1 0h1v1h-1zm1 0h1v1h-1zm3 0h1v1h-1zm1 0h1v1h-1zm5 0h1v1h-1zm4 0h1v1h-1zm2 0h1v1h-1zm2 0h1v1h-1zm1 0h1v1h-1zm5 0h1v1h-1zm1 0h1v1h-1zm3 0h1v1h-1zm7 0h1v1h-1zm1 0h1v1h-1zm4 0h1v1h-1zm18 0h1v1h-1zm-74 1h1v1h-1zm6 0h1v1h-1zm4 0h1v1h-1zm2 0h1v1h-1zm4 0h1v1h-1zm1 0h1v1h-1zm7 0h1v1h-1zm1 0h1v1h-1zm2 0h1v1h-1zm1 0h1v1h-1zm1 0h1v1h-1zm1 0h1v1h-1zm1 0h1v1h-1zm2 0h1v1h-1zm2 0h1v1h-1zm1 0h1v1h-1zm6 0h1v1h-1zm1 0h1v1h-1zm7 0h1v1h-1zm2 0h1v1h-1zm2 0h1v1h-1zm10 0h1v1h-1zm5 0h1v1h-1zm6 0h1v1h-1zm-82 1h1v1h-1zm3 0h1v1h-1zm6 0h1v1h-1zm2 0h1v1h-1zm10 0h1v1h-1zm10 0h1v1h-1zm1 0h1v1h-1zm1 0h1v1h-1zm1 0h1v1h-1zm1 0h1v1h-1zm1 0h1v1h-1zm6 0h1v1h-1zm4 0h1v1h-1zm1 0h1v1h-1zm1 0h1v1h-1zm1 0h1v1h-1zm2 0h1v1h-1zm4 0h1v1h-1zm4 0h1v1h-1zm3 0h1v1h-1zm3 0h1v1h-1zm1 0h1v1h-1zm11 0h1v1h-1zm2 0h1v1h-1zm6 0h1v1h-1zm-85 1h1v1h-1zm1 0h1v1h-1zm10 0h1v1h-1zm7 0h1v1h-1zm2 0h1v1h-1zm4 0h1v1h-1zm2 0h1v1h-1zm1 0h1v1h-1zm3 0h1v1h-1zm3 0h1v1h-1zm1 0h1v1h-1zm1 0h1v1h-1zm1 0h1v1h-1zm2 0h1v1h-1zm2 0h1v1h-1zm2 0h1v1h-1zm2 0h1v1h-1zm10 0h1v1h-1zm1 0h1v1h-1zm9 0h1v1h-1zm6 0h1v1h-1zm1 0h1v1h-1zm10 0h1v1h-1zm3 0h1v1h-1zm2 0h1v1h-1zm1 0h1v1h-1zm-68 1h1v1h-1zm2 0h1v1h-1zm1 0h1v1h-1zm3 0h1v1h-1zm1 0h1v1h-1zm2 0h1v1h-1zm2 0h1v1h-1zm1 0h1v1h-1zm1 0h1v1h-1zm1 0h1v1h-1zm3 0h1v1h-1zm1 0h1v1h-1zm3 0h1v1h-1zm4 0h1v1h-1zm1 0h1v1h-1zm5 0h1v1h-1zm1 0h1v1h-1zm1 0h1v1h-1zm7 0h1v1h-1zm3 0h1v1h-1zm4 0h1v1h-1zm5 0h1v1h-1zm5 0h1v1h-1zm6 0h1v1h-1zm4 0h1v1h-1zm1 0h1v1h-1zm2 0h1v1h-1zm-88 1h1v1h-1zm3 0h1v1h-1zm1 0h1v1h-1zm10 0h1v1h-1zm1 0h1v1h-1zm2 0h1v1h-1zm4 0h1v1h-1zm3 0h1v1h-1zm3 0h1v1h-1zm1 0h1v1h-1zm2 0h1v1h-1zm5 0h1v1h-1zm2 0h1v1h-1zm1 0h1v1h-1zm1 0h1v1h-1zm3 0h1v1h-1zm1 0h1v1h-1zm9 0h1v1h-1zm1 0h1v1h-1zm5 0h1v1h-1zm15 0h1v1h-1zm2 0h1v1h-1zm6 0h1v1h-1zm-77 1h1v1h-1zm1 0h1v1h-1zm2 0h1v1h-1zm8 0h1v1h-1zm4 0h1v1h-1zm4 0h1v1h-1zm4 0h1v1h-1zm1 0h1v1h-1zm2 0h1v1h-1zm2 0h1v1h-1zm1 0h1v1h-1zm2 0h1v1h-1zm7 0h1v1h-1zm2 0h1v1h-1zm7 0h1v1h-1zm1 0h1v1h-1zm4 0h1v1h-1zm4 0h1v1h-1zm1 0h1v1h-1zm5 0h1v1h-1zm2 0h1v1h-1zm1 0h1v1h-1zm6 0h1v1h-1zm5 0h1v1h-1zm3 0h1v1h-1zm2 0h1v1h-1zm1 0h1v1h-1zm-83 1h1v1h-1zm4 0h1v1h-1zm2 0h1v1h-1zm2 0h1v1h-1zm1 0h1v1h-1zm3 0h1v1h-1zm2 0h1v1h-1zm1 0h1v1h-1zm7 0h1v1h-1zm3 0h1v1h-1zm2 0h1v1h-1zm3 0h1v1h-1zm3 0h1v1h-1zm1 0h1v1h-1zm4 0h1v1h-1zm3 0h1v1h-1zm3 0h1v1h-1zm1 0h1v1h-1zm1 0h1v1h-1zm1 0h1v1h-1zm2 0h1v1h-1zm3 0h1v1h-1zm3 0h1v1h-1zm3 0h1v1h-1zm13 0h1v1h-1zm2 0h1v1h-1zm8 0h1v1h-1zm-83 1h1v1h-1zm11 0h1v1h-1zm5 0h1v1h-1zm2 0h1v1h-1zm2 0h1v1h-1zm2 0h1v1h-1zm1 0h1v1h-1zm1 0h1v1h-1zm2 0h1v1h-1zm1 0h1v1h-1zm4 0h1v1h-1zm3 0h1v1h-1zm1 0h1v1h-1zm3 0h1v1h-1zm3 0h1v1h-1zm1 0h1v1h-1zm2 0h1v1h-1zm4 0h1v1h-1zm4 0h1v1h-1zm1 0h1v1h-1zm2 0h1v1h-1zm5 0h1v1h-1zm3 0h1v1h-1zm7 0h1v1h-1zm5 0h1v1h-1zm3 0h1v1h-1zm1 0h1v1h-1zm4 0h1v1h-1zm1 0h1v1h-1zm2 0h1v1h-1zm-82 1h1v1h-1zm2 0h1v1h-1zm12 0h1v1h-1zm1 0h1v1h-1zm5 0h1v1h-1zm4 0h1v1h-1zm2 0h1v1h-1zm2 0h1v1h-1zm1 0h1v1h-1zm2 0h1v1h-1zm1 0h1v1h-1zm1 0h1v1h-1zm2 0h1v1h-1zm13 0h1v1h-1zm1 0h1v1h-1zm12 0h1v1h-1zm4 0h1v1h-1zm1 0h1v1h-1zm1 0h1v1h-1zm8 0h1v1h-1zm5 0h1v1h-1zm-83 1h1v1h-1zm1 0h1v1h-1zm11 0h1v1h-1zm2 0h1v1h-1zm5 0h1v1h-1zm3 0h1v1h-1zm1 0h1v1h-1zm2 0h1v1h-1zm1 0h1v1h-1zm7 0h1v1h-1zm7 0h1v1h-1zm1 0h1v1h-1zm3 0h1v1h-1zm1 0h1v1h-1zm1 0h1v1h-1zm3 0h1v1h-1zm8 0h1v1h-1zm6 0h1v1h-1zm14 0h1v1h-1zm4 0h1v1h-1zm-83 1h1v1h-1zm4 0h1v1h-1zm4 0h1v1h-1zm10 0h1v1h-1zm1 0h1v1h-1zm1 0h1v1h-1zm1 0h1v1h-1zm1 0h1v1h-1zm2 0h1v1h-1zm2 0h1v1h-1zm1 0h1v1h-1zm1 0h1v1h-1zm4 0h1v1h-1zm1 0h1v1h-1zm5 0h1v1h-1zm2 0h1v1h-1zm1 0h1v1h-1zm7 0h1v1h-1zm2 0h1v1h-1zm20 0h1v1h-1zm12 0h1v1h-1zm-84 1h1v1h-1zm3 0h1v1h-1zm4 0h1v1h-1zm7 0h1v1h-1zm1 0h1v1h-1zm2 0h1v1h-1zm2 0h1v1h-1zm1 0h1v1h-1zm1 0h1v1h-1zm12 0h1v1h-1zm6 0h1v1h-1zm2 0h1v1h-1zm2 0h1v1h-1zm2 0h1v1h-1zm5 0h1v1h-1zm2 0h1v1h-1zm1 0h1v1h-1zm2 0h1v1h-1zm1 0h1v1h-1zm1 0h1v1h-1zm11 0h1v1h-1zm1 0h1v1h-1zm7 0h1v1h-1zm8 0h1v1h-1zm1 0h1v1h-1zm-77 1h1v1h-1zm3 0h1v1h-1zm9 0h1v1h-1zm4 0h1v1h-1zm5 0h1v1h-1zm2 0h1v1h-1zm4 0h1v1h-1zm1 0h1v1h-1zm2 0h1v1h-1zm1 0h1v1h-1zm5 0h1v1h-1zm2 0h1v1h-1zm2 0h1v1h-1zm2 0h1v1h-1zm4 0h1v1h-1zm8 0h1v1h-1zm1 0h1v1h-1zm3 0h1v1h-1zm1 0h1v1h-1zm4 0h1v1h-1zm3 0h1v1h-1zm2 0h1v1h-1zm-70 1h1v1h-1zm8 0h1v1h-1zm2 0h1v1h-1zm1 0h1v1h-1zm7 0h1v1h-1zm1 0h1v1h-1zm8 0h1v1h-1zm11 0h1v1h-1zm2 0h1v1h-1zm1 0h1v1h-1zm6 0h1v1h-1zm1 0h1v1h-1zm1 0h1v1h-1zm1 0h1v1h-1zm1 0h1v1h-1zm1 0h1v1h-1zm9 0h1v1h-1zm2 0h1v1h-1zm11 0h1v1h-1zm1 0h1v1h-1zm1 0h1v1h-1zm5 0h1v1h-1zm2 0h1v1h-1zm-87 1h1v1h-1zm10 0h1v1h-1zm1 0h1v1h-1zm8 0h1v1h-1zm1 0h1v1h-1zm1 0h1v1h-1zm1 0h1v1h-1zm2 0h1v1h-1zm1 0h1v1h-1zm3 0h1v1h-1zm3 0h1v1h-1zm3 0h1v1h-1zm2 0h1v1h-1zm2 0h1v1h-1zm2 0h1v1h-1zm3 0h1v1h-1zm2 0h1v1h-1zm1 0h1v1h-1zm1 0h1v1h-1zm2 0h1v1h-1zm2 0h1v1h-1zm1 0h1v1h-1zm11 0h1v1h-1zm1 0h1v1h-1zm1 0h1v1h-1zm3 0h1v1h-1zm6 0h1v1h-1zm1 0h1v1h-1zm1 0h1v1h-1zm2 0h1v1h-1zm1 0h1v1h-1zm-80 1h1v1h-1zm3 0h1v1h-1zm2 0h1v1h-1zm5 0h1v1h-1zm3 0h1v1h-1zm6 0h1v1h-1zm1 0h1v1h-1zm4 0h1v1h-1zm1 0h1v1h-1zm2 0h1v1h-1zm3 0h1v1h-1zm1 0h1v1h-1zm3 0h1v1h-1zm14 0h1v1h-1zm3 0h1v1h-1zm4 0h1v1h-1zm2 0h1v1h-1zm1 0h1v1h-1zm3 0h1v1h-1zm2 0h1v1h-1zm6 0h1v1h-1zm6 0h1v1h-1zm1 0h1v1h-1zm1 0h1v1h-1zm1 0h1v1h-1zm5 0h1v1h-1zm1 0h1v1h-1zm3 0h1v1h-1zm2 0h1v1h-1zm-89 1h1v1h-1zm8 0h1v1h-1zm1 0h1v1h-1zm4 0h1v1h-1zm2 0h1v1h-1zm10 0h1v1h-1zm3 0h1v1h-1zm2 0h1v1h-1zm1 0h1v1h-1zm8 0h1v1h-1zm1 0h1v1h-1zm2 0h1v1h-1zm7 0h1v1h-1zm1 0h1v1h-1zm3 0h1v1h-1zm11 0h1v1h-1zm2 0h1v1h-1zm6 0h1v1h-1zm1 0h1v1h-1zm2 0h1v1h-1zm1 0h1v1h-1zm4 0h1v1h-1zm1 0h1v1h-1zm1 0h1v1h-1zm1 0h1v1h-1zm6 0h1v1h-1zm-75 1h1v1h-1zm4 0h1v1h-1zm1 0h1v1h-1zm2 0h1v1h-1zm2 0h1v1h-1zm1 0h1v1h-1zm4 0h1v1h-1zm2 0h1v1h-1zm5 0h1v1h-1zm2 0h1v1h-1zm4 0h1v1h-1zm4 0h1v1h-1zm3 0h1v1h-1zm3 0h1v1h-1zm4 0h1v1h-1zm3 0h1v1h-1zm2 0h1v1h-1zm1 0h1v1h-1zm9 0h1v1h-1zm2 0h1v1h-1zm1 0h1v1h-1zm4 0h1v1h-1zm6 0h1v1h-1zm2 0h1v1h-1zm1 0h1v1h-1zm-82 1h1v1h-1zm1 0h1v1h-1zm1 0h1v1h-1zm3 0h1v1h-1zm3 0h1v1h-1zm1 0h1v1h-1zm7 0h1v1h-1zm3 0h1v1h-1zm2 0h1v1h-1zm1 0h1v1h-1zm11 0h1v1h-1zm5 0h1v1h-1zm2 0h1v1h-1zm10 0h1v1h-1zm5 0h1v1h-1zm1 0h1v1h-1zm3 0h1v1h-1zm7 0h1v1h-1zm3 0h1v1h-1zm1 0h1v1h-1zm3 0h1v1h-1zm1 0h1v1h-1zm1 0h1v1h-1zm4 0h1v1h-1zm4 0h1v1h-1zm-82 1h1v1h-1zm5 0h1v1h-1zm4 0h1v1h-1zm1 0h1v1h-1zm3 0h1v1h-1zm3 0h1v1h-1zm6 0h1v1h-1zm1 0h1v1h-1zm7 0h1v1h-1zm6 0h1v1h-1zm2 0h1v1h-1zm2 0h1v1h-1zm2 0h1v1h-1zm6 0h1v1h-1zm2 0h1v1h-1zm1 0h1v1h-1zm1 0h1v1h-1zm5 0h1v1h-1zm1 0h1v1h-1zm4 0h1v1h-1zm4 0h1v1h-1zm4 0h1v1h-1zm1 0h1v1h-1zm3 0h1v1h-1zm1 0h1v1h-1zm1 0h1v1h-1zm3 0h1v1h-1zm1 0h1v1h-1zm-82 1h1v1h-1zm13 0h1v1h-1zm3 0h1v1h-1zm3 0h1v1h-1zm1 0h1v1h-1zm1 0h1v1h-1zm5 0h1v1h-1zm2 0h1v1h-1zm2 0h1v1h-1zm3 0h1v1h-1zm2 0h1v1h-1zm2 0h1v1h-1zm6 0h1v1h-1zm1 0h1v1h-1zm1 0h1v1h-1zm2 0h1v1h-1zm1 0h1v1h-1zm2 0h1v1h-1zm1 0h1v1h-1zm5 0h1v1h-1zm1 0h1v1h-1zm3 0h1v1h-1zm1 0h1v1h-1zm1 0h1v1h-1zm3 0h1v1h-1zm6 0h1v1h-1zm6 0h1v1h-1zm1 0h1v1h-1zm-80 1h1v1h-1zm7 0h1v1h-1zm12 0h1v1h-1zm2 0h1v1h-1zm2 0h1v1h-1zm1 0h1v1h-1zm1 0h1v1h-1zm2 0h1v1h-1zm1 0h1v1h-1zm1 0h1v1h-1zm2 0h1v1h-1zm2 0h1v1h-1zm6 0h1v1h-1zm1 0h1v1h-1zm3 0h1v1h-1zm5 0h1v1h-1zm2 0h1v1h-1zm1 0h1v1h-1zm7 0h1v1h-1zm5 0h1v1h-1zm2 0h1v1h-1zm1 0h1v1h-1zm1 0h1v1h-1zm7 0h1v1h-1zm3 0h1v1h-1zm1 0h1v1h-1zm3 0h1v1h-1zm1 0h1v1h-1zm4 0h1v1h-1zm-86 1h1v1h-1zm4 0h1v1h-1zm11 0h1v1h-1zm2 0h1v1h-1zm1 0h1v1h-1zm3 0h1v1h-1zm3 0h1v1h-1zm7 0h1v1h-1zm2 0h1v1h-1zm7 0h1v1h-1zm2 0h1v1h-1zm1 0h1v1h-1zm1 0h1v1h-1zm7 0h1v1h-1zm1 0h1v1h-1zm7 0h1v1h-1zm1 0h1v1h-1zm1 0h1v1h-1zm4 0h1v1h-1zm1 0h1v1h-1zm2 0h1v1h-1zm1 0h1v1h-1zm3 0h1v1h-1zm1 0h1v1h-1zm3 0h1v1h-1zm1 0h1v1h-1zm1 0h1v1h-1zm1 0h1v1h-1zm4 0h1v1h-1zm2 0h1v1h-1zm2 0h1v1h-1zm-89 1h1v1h-1zm4 0h1v1h-1zm2 0h1v1h-1zm2 0h1v1h-1zm1 0h1v1h-1zm1 0h1v1h-1zm7 0h1v1h-1zm1 0h1v1h-1zm2 0h1v1h-1zm1 0h1v1h-1zm1 0h1v1h-1zm1 0h1v1h-1zm1 0h1v1h-1zm1 0h1v1h-1zm14 0h1v1h-1zm3 0h1v1h-1zm4 0h1v1h-1zm4 0h1v1h-1zm2 0h1v1h-1zm4 0h1v1h-1zm1 0h1v1h-1zm7 0h1v1h-1zm1 0h1v1h-1zm1 0h1v1h-1zm1 0h1v1h-1zm3 0h1v1h-1zm2 0h1v1h-1zm1 0h1v1h-1zm2 0h1v1h-1zm3 0h1v1h-1zm7 0h1v1h-1zm1 0h1v1h-1zm2 0h1v1h-1zm-86 1h1v1h-1zm1 0h1v1h-1zm2 0h1v1h-1zm2 0h1v1h-1zm3 0h1v1h-1zm6 0h1v1h-1zm1 0h1v1h-1zm4 0h1v1h-1zm5 0h1v1h-1zm3 0h1v1h-1zm2 0h1v1h-1zm1 0h1v1h-1zm2 0h1v1h-1zm2 0h1v1h-1zm2 0h1v1h-1zm4 0h1v1h-1zm1 0h1v1h-1zm3 0h1v1h-1zm5 0h1v1h-1zm5 0h1v1h-1zm1 0h1v1h-1zm1 0h1v1h-1zm2 0h1v1h-1zm2 0h1v1h-1zm2 0h1v1h-1zm1 0h1v1h-1zm2 0h1v1h-1zm3 0h1v1h-1zm4 0h1v1h-1zm1 0h1v1h-1zm1 0h1v1h-1zm7 0h1v1h-1zm-82 1h1v1h-1zm6 0h1v1h-1zm8 0h1v1h-1zm10 0h1v1h-1zm2 0h1v1h-1zm10 0h1v1h-1zm5 0h1v1h-1zm1 0h1v1h-1zm2 0h1v1h-1zm3 0h1v1h-1zm2 0h1v1h-1zm2 0h1v1h-1zm3 0h1v1h-1zm2 0h1v1h-1zm3 0h1v1h-1zm2 0h1v1h-1zm1 0h1v1h-1zm3 0h1v1h-1zm5 0h1v1h-1zm1 0h1v1h-1zm3 0h1v1h-1zm5 0h1v1h-1zm10 0h1v1h-1zm-88 1h1v1h-1zm6 0h1v1h-1zm4 0h1v1h-1zm3 0h1v1h-1zm8 0h1v1h-1zm2 0h1v1h-1zm1 0h1v1h-1zm2 0h1v1h-1zm7 0h1v1h-1zm1 0h1v1h-1zm4 0h1v1h-1zm1 0h1v1h-1zm1 0h1v1h-1zm1 0h1v1h-1zm1 0h1v1h-1zm2 0h1v1h-1zm4 0h1v1h-1zm3 0h1v1h-1zm1 0h1v1h-1zm2 0h1v1h-1zm7 0h1v1h-1zm8 0h1v1h-1zm2 0h1v1h-1zm1 0h1v1h-1zm1 0h1v1h-1zm1 0h1v1h-1zm2 0h1v1h-1zm5 0h1v1h-1zm7 0h1v1h-1zm-88 1h1v1h-1zm4 0h1v1h-1zm14 0h1v1h-1zm1 0h1v1h-1zm1 0h1v1h-1zm5 0h1v1h-1zm3 0h1v1h-1zm4 0h1v1h-1zm1 0h1v1h-1zm7 0h1v1h-1zm1 0h1v1h-1zm1 0h1v1h-1zm2 0h1v1h-1zm2 0h1v1h-1zm4 0h1v1h-1zm2 0h1v1h-1zm1 0h1v1h-1zm4 0h1v1h-1zm6 0h1v1h-1zm8 0h1v1h-1zm7 0h1v1h-1zm2 0h1v1h-1zm-82 1h1v1h-1zm13 0h1v1h-1zm3 0h1v1h-1zm3 0h1v1h-1zm4 0h1v1h-1zm1 0h1v1h-1zm1 0h1v1h-1zm9 0h1v1h-1zm1 0h1v1h-1zm5 0h1v1h-1zm3 0h1v1h-1zm2 0h1v1h-1zm1 0h1v1h-1zm3 0h1v1h-1zm1 0h1v1h-1zm1 0h1v1h-1zm10 0h1v1h-1zm3 0h1v1h-1zm2 0h1v1h-1zm2 0h1v1h-1zm9 0h1v1h-1zm2 0h1v1h-1zm1 0h1v1h-1zm1 0h1v1h-1zm4 0h1v1h-1zm2 0h1v1h-1zm-85 1h1v1h-1zm1 0h1v1h-1zm5 0h1v1h-1zm2 0h1v1h-1zm5 0h1v1h-1zm1 0h1v1h-1zm4 0h1v1h-1zm3 0h1v1h-1zm6 0h1v1h-1zm12 0h1v1h-1zm6 0h1v1h-1zm3 0h1v1h-1zm3 0h1v1h-1zm4 0h1v1h-1zm1 0h1v1h-1zm11 0h1v1h-1zm1 0h1v1h-1zm9 0h1v1h-1zm4 0h1v1h-1zm1 0h1v1h-1zm4 0h1v1h-1zm-77 1h1v1h-1zm4 0h1v1h-1zm5 0h1v1h-1zm4 0h1v1h-1zm1 0h1v1h-1zm1 0h1v1h-1zm4 0h1v1h-1zm1 0h1v1h-1zm4 0h1v1h-1zm5 0h1v1h-1zm1 0h1v1h-1zm1 0h1v1h-1zm2 0h1v1h-1zm2 0h1v1h-1zm2 0h1v1h-1zm1 0h1v1h-1zm1 0h1v1h-1zm1 0h1v1h-1zm4 0h1v1h-1zm1 0h1v1h-1zm1 0h1v1h-1zm5 0h1v1h-1zm8 0h1v1h-1zm4 0h1v1h-1zm2 0h1v1h-1zm5 0h1v1h-1zm3 0h1v1h-1zm-81 1h1v1h-1zm10 0h1v1h-1zm1 0h1v1h-1zm5 0h1v1h-1zm3 0h1v1h-1zm2 0h1v1h-1zm1 0h1v1h-1zm9 0h1v1h-1zm5 0h1v1h-1zm3 0h1v1h-1zm5 0h1v1h-1zm1 0h1v1h-1zm3 0h1v1h-1zm3 0h1v1h-1zm7 0h1v1h-1zm2 0h1v1h-1zm2 0h1v1h-1zm2 0h1v1h-1zm1 0h1v1h-1zm2 0h1v1h-1zm12 0h1v1h-1zm3 0h1v1h-1zm-83 1h1v1h-1zm13 0h1v1h-1zm1 0h1v1h-1zm1 0h1v1h-1zm5 0h1v1h-1zm5 0h1v1h-1zm2 0h1v1h-1zm1 0h1v1h-1zm1 0h1v1h-1zm1 0h1v1h-1zm4 0h1v1h-1zm1 0h1v1h-1zm1 0h1v1h-1zm2 0h1v1h-1zm2 0h1v1h-1zm4 0h1v1h-1zm4 0h1v1h-1zm2 0h1v1h-1zm1 0h1v1h-1zm3 0h1v1h-1zm1 0h1v1h-1zm4 0h1v1h-1zm7 0h1v1h-1zm2 0h1v1h-1zm1 0h1v1h-1zm4 0h1v1h-1zm3 0h1v1h-1zm11 0h1v1h-1zm-87 1h1v1h-1zm3 0h1v1h-1zm7 0h1v1h-1zm6 0h1v1h-1zm4 0h1v1h-1zm4 0h1v1h-1zm11 0h1v1h-1zm1 0h1v1h-1zm1 0h1v1h-1zm2 0h1v1h-1zm5 0h1v1h-1zm2 0h1v1h-1zm7 0h1v1h-1zm1 0h1v1h-1zm1 0h1v1h-1zm5 0h1v1h-1zm5 0h1v1h-1zm10 0h1v1h-1zm3 0h1v1h-1zm5 0h1v1h-1zm1 0h1v1h-1zm2 0h1v1h-1zm-84 1h1v1h-1zm15 0h1v1h-1zm3 0h1v1h-1zm2 0h1v1h-1zm2 0h1v1h-1zm1 0h1v1h-1zm1 0h1v1h-1zm4 0h1v1h-1zm1 0h1v1h-1zm1 0h1v1h-1zm2 0h1v1h-1zm2 0h1v1h-1zm5 0h1v1h-1zm4 0h1v1h-1zm1 0h1v1h-1zm2 0h1v1h-1zm6 0h1v1h-1zm9 0h1v1h-1zm11 0h1v1h-1zm2 0h1v1h-1zm8 0h1v1h-1zm-81 1h1v1h-1zm2 0h1v1h-1zm1 0h1v1h-1zm2 0h1v1h-1zm6 0h1v1h-1zm1 0h1v1h-1zm3 0h1v1h-1zm6 0h1v1h-1zm1 0h1v1h-1zm3 0h1v1h-1zm4 0h1v1h-1zm1 0h1v1h-1zm7 0h1v1h-1zm1 0h1v1h-1zm4 0h1v1h-1zm2 0h1v1h-1zm14 0h1v1h-1zm3 0h1v1h-1zm9 0h1v1h-1zm2 0h1v1h-1zm1 0h1v1h-1zm1 0h1v1h-1zm1 0h1v1h-1zm2 0h1v1h-1zm-76 1h1v1h-1zm11 0h1v1h-1zm3 0h1v1h-1zm5 0h1v1h-1zm9 0h1v1h-1zm3 0h1v1h-1zm1 0h1v1h-1zm1 0h1v1h-1zm1 0h1v1h-1zm4 0h1v1h-1zm4 0h1v1h-1zm4 0h1v1h-1zm2 0h1v1h-1zm4 0h1v1h-1zm3 0h1v1h-1zm11 0h1v1h-1zm1 0h1v1h-1zm5 0h1v1h-1zm6 0h1v1h-1zm-83 1h1v1h-1zm3 0h1v1h-1zm12 0h1v1h-1zm3 0h1v1h-1zm8 0h1v1h-1zm4 0h1v1h-1zm1 0h1v1h-1zm2 0h1v1h-1zm3 0h1v1h-1zm4 0h1v1h-1zm4 0h1v1h-1zm3 0h1v1h-1zm7 0h1v1h-1zm1 0h1v1h-1zm4 0h1v1h-1zm7 0h1v1h-1zm1 0h1v1h-1zm19 0h1v1h-1zm3 0h1v1h-1zm-86 1h1v1h-1zm5 0h1v1h-1zm4 0h1v1h-1zm5 0h1v1h-1zm6 0h1v1h-1zm5 0h1v1h-1zm1 0h1v1h-1zm1 0h1v1h-1zm4 0h1v1h-1zm2 0h1v1h-1zm2 0h1v1h-1zm1 0h1v1h-1zm7 0h1v1h-1zm5 0h1v1h-1zm5 0h1v1h-1zm6 0h1v1h-1zm3 0h1v1h-1zm2 0h1v1h-1zm14 0h1v1h-1zm1 0h1v1h-1zm-82 1h1v1h-1zm22 0h1v1h-1zm3 0h1v1h-1zm1 0h1v1h-1zm2 0h1v1h-1zm2 0h1v1h-1zm1 0h1v1h-1zm2 0h1v1h-1zm1 0h1v1h-1zm4 0h1v1h-1zm2 0h1v1h-1zm1 0h1v1h-1zm2 0h1v1h-1zm4 0h1v1h-1zm9 0h1v1h-1zm13 0h1v1h-1zm14 0h1v1h-1zm-76 1h1v1h-1zm3 0h1v1h-1zm7 0h1v1h-1zm9 0h1v1h-1zm11 0h1v1h-1zm7 0h1v1h-1zm5 0h1v1h-1zm3 0h1v1h-1zm7 0h1v1h-1zm10 0h1v1h-1zm2 0h1v1h-1zm2 0h1v1h-1zm3 0h1v1h-1zm9 0h1v1h-1zm-85 1h1v1h-1zm4 0h1v1h-1zm1 0h1v1h-1zm1 0h1v1h-1zm6 0h1v1h-1zm11 0h1v1h-1zm5 0h1v1h-1zm4 0h1v1h-1zm1 0h1v1h-1zm2 0h1v1h-1zm2 0h1v1h-1zm1 0h1v1h-1zm2 0h1v1h-1zm2 0h1v1h-1zm1 0h1v1h-1zm2 0h1v1h-1zm4 0h1v1h-1zm2 0h1v1h-1zm2 0h1v1h-1zm3 0h1v1h-1zm2 0h1v1h-1zm1 0h1v1h-1zm7 0h1v1h-1zm3 0h1v1h-1zm4 0h1v1h-1zm12 0h1v1h-1zm1 0h1v1h-1zm-87 1h1v1h-1zm17 0h1v1h-1zm1 0h1v1h-1zm11 0h1v1h-1zm2 0h1v1h-1zm17 0h1v1h-1zm5 0h1v1h-1zm8 0h1v1h-1zm2 0h1v1h-1zm5 0h1v1h-1zm2 0h1v1h-1zm1 0h1v1h-1zm8 0h1v1h-1zm5 0h1v1h-1zm4 0h1v1h-1zm-70 1h1v1h-1zm5 0h1v1h-1zm1 0h1v1h-1zm1 0h1v1h-1zm5 0h1v1h-1zm4 0h1v1h-1zm6 0h1v1h-1zm2 0h1v1h-1zm7 0h1v1h-1zm7 0h1v1h-1zm2 0h1v1h-1zm10 0h1v1h-1zm3 0h1v1h-1zm9 0h1v1h-1zm4 0h1v1h-1zm-84 1h1v1h-1zm4 0h1v1h-1zm1 0h1v1h-1zm2 0h1v1h-1zm2 0h1v1h-1zm5 0h1v1h-1zm1 0h1v1h-1zm3 0h1v1h-1zm1 0h1v1h-1zm5 0h1v1h-1zm1 0h1v1h-1zm3 0h1v1h-1zm1 0h1v1h-1zm7 0h1v1h-1zm2 0h1v1h-1zm3 0h1v1h-1zm1 0h1v1h-1zm15 0h1v1h-1zm6 0h1v1h-1zm1 0h1v1h-1zm5 0h1v1h-1zm3 0h1v1h-1zm8 0h1v1h-1zm-74 1h1v1h-1zm1 0h1v1h-1zm2 0h1v1h-1zm2 0h1v1h-1zm7 0h1v1h-1zm3 0h1v1h-1zm5 0h1v1h-1zm4 0h1v1h-1zm1 0h1v1h-1zm1 0h1v1h-1zm2 0h1v1h-1zm7 0h1v1h-1zm8 0h1v1h-1zm1 0h1v1h-1zm15 0h1v1h-1zm10 0h1v1h-1zm1 0h1v1h-1zm13 0h1v1h-1zm-83 1h1v1h-1zm5 0h1v1h-1zm2 0h1v1h-1zm6 0h1v1h-1zm4 0h1v1h-1zm17 0h1v1h-1zm2 0h1v1h-1zm3 0h1v1h-1zm6 0h1v1h-1zm10 0h1v1h-1zm17 0h1v1h-1zm-76 1h1v1h-1zm1 0h1v1h-1zm2 0h1v1h-1zm1 0h1v1h-1zm5 0h1v1h-1zm4 0h1v1h-1zm2 0h1v1h-1zm2 0h1v1h-1zm5 0h1v1h-1zm9 0h1v1h-1zm6 0h1v1h-1zm17 0h1v1h-1zm1 0h1v1h-1zm10 0h1v1h-1zm8 0h1v1h-1zm3 0h1v1h-1zm3 0h1v1h-1zm8 0h1v1h-1zm1 0h1v1h-1zm-80 1h1v1h-1zm9 0h1v1h-1zm2 0h1v1h-1zm13 0h1v1h-1zm1 0h1v1h-1zm1 0h1v1h-1zm6 0h1v1h-1zm5 0h1v1h-1zm4 0h1v1h-1zm7 0h1v1h-1zm3 0h1v1h-1zm2 0h1v1h-1zm2 0h1v1h-1zm1 0h1v1h-1zm1 0h1v1h-1zm3 0h1v1h-1zm10 0h1v1h-1zm2 0h1v1h-1zm2 0h1v1h-1zm-83 1h1v1h-1zm2 0h1v1h-1zm12 0h1v1h-1zm10 0h1v1h-1zm9 0h1v1h-1zm3 0h1v1h-1zm1 0h1v1h-1zm7 0h1v1h-1zm3 0h1v1h-1zm6 0h1v1h-1zm5 0h1v1h-1zm12 0h1v1h-1zm5 0h1v1h-1zm6 0h1v1h-1zm-82 1h1v1h-1zm4 0h1v1h-1zm2 0h1v1h-1zm4 0h1v1h-1zm11 0h1v1h-1zm3 0h1v1h-1zm10 0h1v1h-1zm1 0h1v1h-1zm5 0h1v1h-1zm6 0h1v1h-1zm2 0h1v1h-1zm18 0h1v1h-1zm12 0h1v1h-1zm4 0h1v1h-1zm6 0h1v1h-1zm1 0h1v1h-1zm-88 1h1v1h-1zm2 0h1v1h-1zm1 0h1v1h-1zm3 0h1v1h-1zm5 0h1v1h-1zm8 0h1v1h-1zm1 0h1v1h-1zm7 0h1v1h-1zm10 0h1v1h-1zm3 0h1v1h-1zm6 0h1v1h-1zm10 0h1v1h-1zm13 0h1v1h-1zm1 0h1v1h-1zm1 0h1v1h-1zm3 0h1v1h-1zm4 0h1v1h-1zm1 0h1v1h-1zm3 0h1v1h-1zm5 0h1v1h-1zm-84 1h1v1h-1zm1 0h1v1h-1zm6 0h1v1h-1zm5 0h1v1h-1zm10 0h1v1h-1zm3 0h1v1h-1zm5 0h1v1h-1zm8 0h1v1h-1zm3 0h1v1h-1zm8 0h1v1h-1zm8 0h1v1h-1zm11 0h1v1h-1zm5 0h1v1h-1zm1 0h1v1h-1zm-72 1h1v1h-1zm4 0h1v1h-1zm1 0h1v1h-1zm1 0h1v1h-1zm1 0h1v1h-1zm1 0h1v1h-1zm9 0h1v1h-1zm3 0h1v1h-1zm4 0h1v1h-1zm17 0h1v1h-1zm3 0h1v1h-1zm4 0h1v1h-1zm5 0h1v1h-1zm2 0h1v1h-1zm3 0h1v1h-1zm1 0h1v1h-1zm14 0h1v1h-1zm-77 1h1v1h-1zm26 0h1v1h-1zm2 0h1v1h-1zm11 0h1v1h-1zm17 0h1v1h-1zm4 0h1v1h-1zm6 0h1v1h-1zm-63 1h1v1h-1zm1 0h1v1h-1zm1 0h1v1h-1zm2 0h1v1h-1zm2 0h1v1h-1zm1 0h1v1h-1zm3 0h1v1h-1zm23 0h1v1h-1zm13 0h1v1h-1zm1 0h1v1h-1zm2 0h1v1h-1zm1 0h1v1h-1zm4 0h1v1h-1zm4 0h1v1h-1zm8 0h1v1h-1zm9 0h1v1h-1zm-79 1h1v1h-1zm3 0h1v1h-1zm5 0h1v1h-1zm1 0h1v1h-1zm2 0h1v1h-1zm4 0h1v1h-1zm1 0h1v1h-1zm1 0h1v1h-1zm18 0h1v1h-1zm10 0h1v1h-1zm2 0h1v1h-1zm1 0h1v1h-1zm2 0h1v1h-1zm13 0h1v1h-1zm10 0h1v1h-1zm10 0h1v1h-1zm-83 1h1v1h-1zm3 0h1v1h-1zm1 0h1v1h-1zm2 0h1v1h-1zm2 0h1v1h-1zm4 0h1v1h-1zm2 0h1v1h-1zm1 0h1v1h-1zm2 0h1v1h-1zm3 0h1v1h-1zm5 0h1v1h-1zm11 0h1v1h-1zm17 0h1v1h-1zm2 0h1v1h-1zm11 0h1v1h-1zm12 0h1v1h-1zm9 0h1v1h-1zm-86 1h1v1h-1zm3 0h1v1h-1zm5 0h1v1h-1zm5 0h1v1h-1zm6 0h1v1h-1zm5 0h1v1h-1zm1 0h1v1h-1zm15 0h1v1h-1zm2 0h1v1h-1zm2 0h1v1h-1zm8 0h1v1h-1zm7 0h1v1h-1zm5 0h1v1h-1zm6 0h1v1h-1zm3 0h1v1h-1zm7 0h1v1h-1zm2 0h1v1h-1zm-83 1h1v1h-1zm1 0h1v1h-1zm1 0h1v1h-1zm2 0h1v1h-1zm3 0h1v1h-1zm1 0h1v1h-1zm7 0h1v1h-1zm3 0h1v1h-1zm3 0h1v1h-1zm3 0h1v1h-1zm17 0h1v1h-1zm8 0h1v1h-1zm2 0h1v1h-1zm1 0h1v1h-1zm3 0h1v1h-1zm10 0h1v1h-1zm9 0h1v1h-1zm9 0h1v1h-1zm2 0h1v1h-1zm2 0h1v1h-1zm1 0h1v1h-1zm-86 1h1v1h-1zm6 0h1v1h-1zm23 0h1v1h-1zm13 0h1v1h-1zm4 0h1v1h-1zm5 0h1v1h-1zm2 0h1v1h-1zm5 0h1v1h-1zm9 0h1v1h-1zm6 0h1v1h-1zm3 0h1v1h-1zm5 0h1v1h-1zm-81 1h1v1h-1zm2 0h1v1h-1zm2 0h1v1h-1zm1 0h1v1h-1zm3 0h1v1h-1zm4 0h1v1h-1zm4 0h1v1h-1zm3 0h1v1h-1zm6 0h1v1h-1zm7 0h1v1h-1zm9 0h1v1h-1zm8 0h1v1h-1zm20 0h1v1h-1zm1 0h1v1h-1zm2 0h1v1h-1zm1 0h1v1h-1zm10 0h1v1h-1zm2 0h1v1h-1zm-85 1h1v1h-1zm6 0h1v1h-1zm3 0h1v1h-1zm15 0h1v1h-1z" fill="#4444dc" fill-opacity="0.42"/>
<path d="M439 437h1v1h-1zm43 0h1v1h-1zm-49 3h1v1h-1zm6 0h1v1h-1zm-12 1h1v1h-1zm3 0h1v1h-1zm1 0h1v1h-1zm4 0h1v1h-1zm9 2h1v1h-1zm24 0h1v1h-1zm-49 1h1v1h-1zm22 0h1v1h-1zm36 0h1v1h-1zm1 0h1v1h-1zm-54 1h1v1h-1zm7 0h1v1h-1zm2 0h1v1h-1zm5 0h1v1h-1zm2 0h1v1h-1zm4 0h1v1h-1zm3 0h1v1h-1zm-33 1h1v1h-1zm7 0h1v1h-1zm9 0h1v1h-1zm3 0h1v1h-1zm2 0h1v1h-1zm4 0h1v1h-1zm1 0h1v1h-1zm2 0h1v1h-1zm1 0h1v1h-1zm-18 1h1v1h-1zm7 0h1v1h-1zm4 0h1v1h-1zm5 0h1v1h-1zm-26 1h1v1h-1zm6 0h1v1h-1zm8 0h1v1h-1zm2 0h1v1h-1zm5 0h1v1h-1zm4 0h1v1h-1zm4 0h1v1h-1zm-37 1h1v1h-1zm16 0h1v1h-1zm7 0h1v1h-1zm4 0h1v1h-1zm7 0h1v1h-1zm4 0h1v1h-1zm30 0h1v1h-1zm-43 1h1v1h-1zm1 0h1v1h-1zm9 0h1v1h-1zm27 0h1v1h-1zm-60 1h1v1h-1zm7 0h1v1h-1zm18 0h1v1h-1zm5 0h1v1h-1zm4 0h1v1h-1zm5 0h1v1h-1zm11 0h1v1h-1zm-32 1h1v1h-1zm7 0h1v1h-1zm2 0h1v1h-1zm1 0h1v1h-1zm5 0h1v1h-1zm1 0h1v1h-1zm3 0h1v1h-1zm7 0h1v1h-1zm-27 1h1v1h-1zm5 0h1v1h-1zm9 0h1v1h-1zm2 0h1v1h-1zm2 0h1v1h-1zm34 0h1v1h-1zm-52 1h1v1h-1zm6 0h1v1h-1zm6 0h1v1h-1zm1 0h1v1h-1zm3 0h1v1h-1zm10 0h1v1h-1zm-45 1h1v1h-1zm10 0h1v1h-1zm14 0h1v1h-1zm1 0h1v1h-1zm5 0h1v1h-1zm3 0h1v1h-1zm6 0h1v1h-1zm1 0h1v1h-1zm-22 1h1v1h-1zm6 0h1v1h-1zm1 0h1v1h-1zm1 0h1v1h-1zm2 0h1v1h-1zm10 0h1v1h-1zm3 0h1v1h-1zm-13 1h1v1h-1zm1 0h1v1h-1zm2 0h1v1h-1zm18 0h1v1h-1zm3 0h1v1h-1zm-32 1h1v1h-1zm4 0h1v1h-1zm3 0h1v1h-1zm1 0h1v1h-1zm2 0h1v1h-1zm7 0h1v1h-1zm1 0h1v1h-1zm19 0h1v1h-1zm-32 1h1v1h-1zm9 0h1v1h-1zm1 0h1v1h-1zm20 0h1v1h-1zm-40 1h1v1h-1zm4 0h1v1h-1zm10 0h1v1h-1zm4 0h1v1h-1zm5 0h1v1h-1zm2 0h1v1h-1zm4 0h1v1h-1zm30 0h1v1h-1zm-66 1h1v1h-1zm21 0h1v1h-1zm3 0h1v1h-1zm1 0h1v1h-1zm1 0h1v1h-1zm12 0h1v1h-1zm-39 1h1v1h-1zm3 0h1v1h-1zm9 0h1v1h-1zm4 0h1v1h-1zm9 0h1v1h-1zm2 0h1v1h-1zm6 0h1v1h-1zm7 0h1v1h-1zm-26 1h1v1h-1zm1 0h1v1h-1zm8 0h1v1h-1zm1 0h1v1h-1zm1 0h1v1h-1zm-25 1h1v1h-1zm15 0h1v1h-1zm1 0h1v1h-1zm1 0h1v1h-1zm2 0h1v1h-1zm9 0h1v1h-1zm7 0h1v1h-1zm2 0h1v1h-1zm3 0h1v1h-1zm11 0h1v1h-1zm-45 1h1v1h-1zm8 0h1v1h-1zm13 0h1v1h-1zm7 0h1v1h-1zm16 0h1v1h-1zm10 0h1v1h-1zm-54 1h1v1h-1zm6 0h1v1h-1zm2 0h1v1h-1zm6 0h1v1h-1zm6 0h1v1h-1zm9 0h1v1h-1zm1 0h1v1h-1zm6 0h1v1h-1zm-29 1h1v1h-1zm10 0h1v1h-1zm4 0h1v1h-1zm3 0h1v1h-1zm1 0h1v1h-1zm1 0h1v1h-1zm4 0h1v1h-1zm36 0h1v1h-1zm-64 1h1v1h-1zm8 0h1v1h-1zm8 0h1v1h-1zm6 0h1v1h-1zm6 0h1v1h-1zm-29 1h1v1h-1zm4 0h1v1h-1zm4 0h1v1h-1zm4 0h1v1h-1zm2 0h1v1h-1zm5 0h1v1h-1zm2 0h1v1h-1zm7 0h1v1h-1zm19 0h1v1h-1zm7 0h1v1h-1zm13 0h1v1h-1zm3 0h1v1h-1zm-71 1h1v1h-1zm3 0h1v1h-1zm12 0h1v1h-1zm4 0h1v1h-1zm3 0h1v1h-1zm16 0h1v1h-1zm-28 1h1v1h-1zm3 0h1v1h-1zm1 0h1v1h-1zm4 0h1v1h-1zm13 0h1v1h-1zm3 0h1v1h-1zm2 0h1v1h-1zm31 0h1v1h-1zm-70 1h1v1h-1zm11 0h1v1h-1zm2 0h1v1h-1zm1 0h1v1h-1zm12 0h1v1h-1zm3 0h1v1h-1zm2 0h1v1h-1zm5 0h1v1h-1zm26 0h1v1h-1zm1 0h1v1h-1zm-53 1h1v1h-1zm13 0h1v1h-1zm4 0h1v1h-1zm15 0h1v1h-1zm-54 1h1v1h-1zm29 0h1v1h-1zm7 0h1v1h-1zm5 0h1v1h-1zm5 0h1v1h-1zm11 0h1v1h-1zm11 0h1v1h-1zm3 0h1v1h-1zm-49 1h1v1h-1zm2 0h1v1h-1zm2 0h1v1h-1zm1 0h1v1h-1zm4 0h1v1h-1zm41 0h1v1h-1zm5 0h1v1h-1zm2 0h1v1h-1zm-59 1h1v1h-1zm5 0h1v1h-1zm2 0h1v1h-1zm4 0h1v1h-1zm3 0h1v1h-1zm3 0h1v1h-1zm2 0h1v1h-1zm1 0h1v1h-1zm2 0h1v1h-1zm2 0h1v1h-1zm12 0h1v1h-1zm16 0h1v1h-1zm5 0h1v1h-1zm3 0h1v1h-1zm-61 1h1v1h-1zm1 0h1v1h-1zm3 0h1v1h-1zm4 0h1v1h-1zm1 0h1v1h-1zm5 0h1v1h-1zm3 0h1v1h-1zm2 0h1v1h-1zm4 0h1v1h-1zm4 0h1v1h-1zm2 0h1v1h-1zm1 0h1v1h-1zm8 0h1v1h-1zm-43 1h1v1h-1zm2 0h1v1h-1zm9 0h1v1h-1zm6 0h1v1h-1zm3 0h1v1h-1zm7 0h1v1h-1zm2 0h1v1h-1zm38 0h1v1h-1zm-75 1h1v1h-1zm6 0h1v1h-1zm4 0h1v1h-1zm5 0h1v1h-1zm3 0h1v1h-1zm3 0h1v1h-1zm4 0h1v1h-1zm5 0h1v1h-1zm1 0h1v1h-1zm1 0h1v1h-1zm1 0h1v1h-1zm1 0h1v1h-1zm1 0h1v1h-1zm6 0h1v1h-1zm-39 1h1v1h-1zm7 0h1v1h-1zm3 0h1v1h-1zm2 0h1v1h-1zm5 0h1v1h-1zm2 0h1v1h-1zm4 0h1v1h-1zm4 0h1v1h-1zm4 0h1v1h-1zm4 0h1v1h-1zm10 0h1v1h-1zm30 0h1v1h-1zm-69 1h1v1h-1zm4 0h1v1h-1zm2 0h1v1h-1zm4 0h1v1h-1zm13 0h1v1h-1zm3 0h1v1h-1zm8 0h1v1h-1zm37 0h1v1h-1zm-72 1h1v1h-1zm4 0h1v1h-1zm3 0h1v1h-1zm2 0h1v1h-1zm3 0h1v1h-1zm4 0h1v1h-1zm2 0h1v1h-1zm1 0h1v1h-1zm2 0h1v1h-1zm17 0h1v1h-1zm16 0h1v1h-1zm-52 1h1v1h-1zm3 0h1v1h-1zm2 0h1v1h-1zm2 0h1v1h-1zm1 0h1v1h-1zm4 0h1v1h-1zm7 0h1v1h-1zm2 0h1v1h-1zm1 0h1v1h-1zm1 0h1v1h-1zm4 0h1v1h-1zm6 0h1v1h-1zm4 0h1v1h-1zm4 0h1v1h-1zm8 0h1v1h-1zm11 0h1v1h-1zm1 0h1v1h-1zm4 0h1v1h-1zm-68 1h1v1h-1zm12 0h1v1h-1zm1 0h1v1h-1zm1 0h1v1h-1zm13 0h1v1h-1zm1 0h1v1h-1zm7 0h1v1h-1zm27 0h1v1h-1zm6 0h1v1h-1zm3 0h1v1h-1zm-67 1h1v1h-1zm1 0h1v1h-1zm2 0h1v1h-1zm2 0h1v1h-1zm8 0h1v1h-1zm5 0h1v1h-1zm1 0h1v1h-1zm5 0h1v1h-1zm4 0h1v1h-1zm24 0h1v1h-1zm1 0h1v1h-1zm1 0h1v1h-1zm2 0h1v1h-1zm2 0h1v1h-1zm4 0h1v1h-1zm-70 1h1v1h-1zm2 0h1v1h-1zm9 0h1v1h-1zm6 0h1v1h-1zm4 0h1v1h-1zm2 0h1v1h-1zm2 0h1v1h-1zm4 0h1v1h-1zm1 0h1v1h-1zm2 0h1v1h-1zm5 0h1v1h-1zm3 0h1v1h-1zm7 0h1v1h-1zm-47 1h1v1h-1zm5 0h1v1h-1zm10 0h1v1h-1zm1 0h1v1h-1zm2 0h1v1h-1zm1 0h1v1h-1zm3 0h1v1h-1zm3 0h1v1h-1zm5 0h1v1h-1zm2 0h1v1h-1zm2 0h1v1h-1zm2 0h1v1h-1zm14 0h1v1h-1zm2 0h1v1h-1zm14 0h1v1h-1zm5 0h1v1h-1zm-70 1h1v1h-1zm3 0h1v1h-1zm4 0h1v1h-1zm3 0h1v1h-1zm1 0h1v1h-1zm2 0h1v1h-1zm8 0h1v1h-1zm2 0h1v1h-1zm9 0h1v1h-1zm5 0h1v1h-1zm1 0h1v1h-1zm9 0h1v1h-1zm14 0h1v1h-1zm5 0h1v1h-1zm1 0h1v1h-1zm1 0h1v1h-1zm1 0h1v1h-1zm3 0h1v1h-1zm-68 1h1v1h-1zm3 0h1v1h-1zm2 0h1v1h-1zm7 0h1v1h-1zm1 0h1v1h-1zm5 0h1v1h-1zm2 0h1v1h-1zm3 0h1v1h-1zm2 0h1v1h-1zm5 0h1v1h-1zm1 0h1v1h-1zm7 0h1v1h-1zm19 0h1v1h-1zm5 0h1v1h-1zm3 0h1v1h-1zm5 0h1v1h-1zm-85 1h1v1h-1zm28 0h1v1h-1zm1 0h1v1h-1zm15 0h1v1h-1zm6 0h1v1h-1zm34 0h1v1h-1zm-73 1h1v1h-1zm5 0h1v1h-1zm11 0h1v1h-1zm3 0h1v1h-1zm6 0h1v1h-1zm1 0h1v1h-1zm2 0h1v1h-1zm1 0h1v1h-1zm4 0h1v1h-1zm6 0h1v1h-1zm7 0h1v1h-1zm4 0h1v1h-1zm13 0h1v1h-1zm1 0h1v1h-1zm1 0h1v1h-1zm-60 1h1v1h-1zm5 0h1v1h-1zm5 0h1v1h-1zm4 0h1v1h-1zm5 0h1v1h-1zm1 0h1v1h-1zm5 0h1v1h-1zm6 0h1v1h-1zm21 0h1v1h-1zm-51 1h1v1h-1zm7 0h1v1h-1zm1 0h1v1h-1zm5 0h1v1h-1zm5 0h1v1h-1zm1 0h1v1h-1zm3 0h1v1h-1zm4 0h1v1h-1zm1 0h1v1h-1zm23 0h1v1h-1zm3 0h1v1h-1zm7 0h1v1h-1zm-71 1h1v1h-1zm1 0h1v1h-1zm21 0h1v1h-1zm8 0h1v1h-1zm1 0h1v1h-1zm1 0h1v1h-1zm13 0h1v1h-1zm16 0h1v1h-1zm4 0h1v1h-1zm3 0h1v1h-1zm3 0h1v1h-1zm-57 1h1v1h-1zm2 0h1v1h-1zm4 0h1v1h-1zm1 0h1v1h-1zm3 0h1v1h-1zm1 0h1v1h-1zm4 0h1v1h-1zm4 0h1v1h-1zm1 0h1v1h-1zm3 0h1v1h-1zm2 0h1v1h-1zm4 0h1v1h-1zm23 0h1v1h-1zm2 0h1v1h-1zm6 0h1v1h-1zm-67 1h1v1h-1zm9 0h1v1h-1zm2 0h1v1h-1zm3 0h1v1h-1zm11 0h1v1h-1zm2 0h1v1h-1zm17 0h1v1h-1zm19 0h1v1h-1zm-56 1h1v1h-1zm8 0h1v1h-1zm1 0h1v1h-1zm4 0h1v1h-1zm8 0h1v1h-1zm1 0h1v1h-1zm10 0h1v1h-1zm15 0h1v1h-1zm8 0h1v1h-1zm-46 1h1v1h-1zm11 0h1v1h-1zm33 0h1v1h-1zm1 0h1v1h-1zm-50 1h1v1h-1zm7 0h1v1h-1zm5 0h1v1h-1zm3 0h1v1h-1zm1 0h1v1h-1zm3 0h1v1h-1zm2 0h1v1h-1zm7 0h1v1h-1zm1 0h1v1h-1zm17 0h1v1h-1zm-47 1h1v1h-1zm7 0h1v1h-1zm4 0h1v1h-1zm12 0h1v1h-1zm-33 1h1v1h-1zm12 0h1v1h-1zm2 0h1v1h-1zm2 0h1v1h-1zm-4 1h1v1h-1zm6 0h1v1h-1zm9 0h1v1h-1zm18 0h1v1h-1zm5 0h1v1h-1zm5 0h1v1h-1zm8 0h1v1h-1zm12 0h1v1h-1zm-76 1h1v1h-1zm6 0h1v1h-1zm17 0h1v1h-1zm14 0h1v1h-1zm-21 1h1v1h-1zm2 0h1v1h-1zm5 0h1v1h-1zm4 0h1v1h-1zm4 0h1v1h-1zm-40 1h1v1h-1zm36 1h1v1h-1zm4 0h1v1h-1zm-18 1h1v1h-1zm11 0h1v1h-1zm16 0h1v1h-1zm-36 1h1v1h-1zm5 0h1v1h-1zm15 0h1v1h-1zm-23 1h1v1h-1zm19 0h1v1h-1zm13 1h1v1h-1zm27 0h1v1h-1zm-45 1h1v1h-1zm7 0h1v1h-1zm20 0h1v1h-1zm9 0h1v1h-1zm-47 1h1v1h-1zm11 1h1v1h-1zm12 0h1v1h-1zm21 0h1v1h-1zm-30 1h1v1h-1zm33 0h1v1h-1zm-56 2h1v1h-1zm25 0h1v1h-1zm-31 1h1v1h-1zm40 0h1v1h-1zm-34 1h1v1h-1zm5 0h1v1h-1zm13 0h1v1h-1zm0 1h1v1h-1zm-20 1h1v1h-1zm19 0h1v1h-1zm-17 1h1v1h-1zm6 0h1v1h-1zm49 0h1v1h-1zm-47 1h1v1h-1zm18 0h1v1h-1zm21 0h1v1h-1zm2 0h1v1h-1zm-50 1h1v1h-1zm6 0h1v1h-1zm1 0h1v1h-1zm-6 1h1v1h-1zm4 0h1v1h-1zm-8 1h1v1h-1zm6 0h1v1h-1zm3 0h1v1h-1zm64 0h1v1h-1z" fill="#2424e0" fill-opacity="0.66"/>
<path d="M431 437h1v1h-1zm45 2h1v1h-1zm-45 4h1v1h-1zm1 0h1v1h-1zm-27 1h1v1h-1zm52 5h1v1h-1zm-11 1h1v1h-1zm-14 1h1v1h-1zm8 0h1v1h-1zm-1 1h1v1h-1zm6 0h1v1h-1zm17 0h1v1h-1zm-26 1h1v1h-1zm24 0h1v1h-1zm-19 1h1v1h-1zm6 0h1v1h-1zm-19 1h1v1h-1zm8 1h1v1h-1zm7 0h1v1h-1zm-10 1h1v1h-1zm1 0h1v1h-1zm29 0h1v1h-1zm-24 1h1v1h-1zm3 0h1v1h-1zm-11 1h1v1h-1zm2 0h1v1h-1zm1 0h1v1h-1zm2 0h1v1h-1zm1 0h1v1h-1zm3 0h1v1h-1zm4 0h1v1h-1zm1 0h1v1h-1zm2 0h1v1h-1zm-43 1h1v1h-1zm26 0h1v1h-1zm2 0h1v1h-1zm5 0h1v1h-1zm2 0h1v1h-1zm9 0h1v1h-1zm-17 1h1v1h-1zm-6 1h1v1h-1zm6 0h1v1h-1zm6 0h1v1h-1zm3 0h1v1h-1zm2 0h1v1h-1zm-18 1h1v1h-1zm10 0h1v1h-1zm9 0h1v1h-1zm-12 2h1v1h-1zm2 0h1v1h-1zm10 0h1v1h-1zm3 0h1v1h-1zm-14 1h1v1h-1zm3 0h1v1h-1zm13 0h1v1h-1zm12 1h1v1h-1zm-27 1h1v1h-1zm12 0h1v1h-1zm-2 1h1v1h-1zm1 0h1v1h-1zm1 0h1v1h-1zm-20 1h1v1h-1zm2 0h1v1h-1zm1 0h1v1h-1zm2 0h1v1h-1zm1 0h1v1h-1zm12 0h1v1h-1zm43 0h1v1h-1zm-60 1h1v1h-1zm9 0h1v1h-1zm6 0h1v1h-1zm4 0h1v1h-1zm-19 1h1v1h-1zm6 0h1v1h-1zm2 0h1v1h-1zm5 0h1v1h-1zm6 0h1v1h-1zm4 0h1v1h-1zm-28 1h1v1h-1zm5 0h1v1h-1zm4 0h1v1h-1zm3 0h1v1h-1zm1 0h1v1h-1zm1 0h1v1h-1zm1 0h1v1h-1zm2 0h1v1h-1zm5 0h1v1h-1zm5 0h1v1h-1zm10 0h1v1h-1zm-29 1h1v1h-1zm6 0h1v1h-1zm3 0h1v1h-1zm1 0h1v1h-1zm1 0h1v1h-1zm7 0h1v1h-1zm-17 1h1v1h-1zm4 0h1v1h-1zm4 0h1v1h-1zm1 0h1v1h-1zm1 0h1v1h-1zm2 0h1v1h-1zm2 0h1v1h-1zm2 0h1v1h-1zm5 0h1v1h-1zm-27 1h1v1h-1zm19 0h1v1h-1zm-13 1h1v1h-1zm1 0h1v1h-1zm3 0h1v1h-1zm2 0h1v1h-1zm1 0h1v1h-1zm3 0h1v1h-1zm2 0h1v1h-1zm3 0h1v1h-1zm31 0h1v1h-1zm-43 1h1v1h-1zm1 0h1v1h-1zm3 0h1v1h-1zm8 0h1v1h-1zm-14 1h1v1h-1zm4 0h1v1h-1zm3 0h1v1h-1zm1 0h1v1h-1zm9 0h1v1h-1zm2 0h1v1h-1zm-21 1h1v1h-1zm6 0h1v1h-1zm2 0h1v1h-1zm1 0h1v1h-1zm1 0h1v1h-1zm2 0h1v1h-1zm5 0h1v1h-1zm1 0h1v1h-1zm3 0h1v1h-1zm-22 1h1v1h-1zm2 0h1v1h-1zm4 0h1v1h-1zm1 0h1v1h-1zm2 0h1v1h-1zm4 0h1v1h-1zm2 0h1v1h-1zm3 0h1v1h-1zm1 0h1v1h-1zm2 0h1v1h-1zm-35 1h1v1h-1zm17 0h1v1h-1zm1 0h1v1h-1zm1 0h1v1h-1zm2 0h1v1h-1zm6 0h1v1h-1zm1 0h1v1h-1zm1 0h1v1h-1zm1 0h1v1h-1zm2 0h1v1h-1zm4 0h1v1h-1zm9 0h1v1h-1zm19 0h1v1h-1zm-52 1h1v1h-1zm3 0h1v1h-1zm4 0h1v1h-1zm1 0h1v1h-1zm2 0h1v1h-1zm1 0h1v1h-1zm3 0h1v1h-1zm5 0h1v1h-1zm7 0h1v1h-1zm2 0h1v1h-1zm-19 1h1v1h-1zm2 0h1v1h-1zm1 0h1v1h-1zm2 0h1v1h-1zm2 0h1v1h-1zm4 0h1v1h-1zm1 0h1v1h-1zm1 0h1v1h-1zm30 0h1v1h-1zm-48 1h1v1h-1zm6 0h1v1h-1zm2 0h1v1h-1zm3 0h1v1h-1zm5 0h1v1h-1zm2 0h1v1h-1zm2 0h1v1h-1zm3 0h1v1h-1zm23 0h1v1h-1zm-45 1h1v1h-1zm2 0h1v1h-1zm6 0h1v1h-1zm1 0h1v1h-1zm1 0h1v1h-1zm8 0h1v1h-1zm2 0h1v1h-1zm15 0h1v1h-1zm12 0h1v1h-1zm-48 1h1v1h-1zm4 0h1v1h-1zm2 0h1v1h-1zm1 0h1v1h-1zm5 0h1v1h-1zm4 0h1v1h-1zm24 0h1v1h-1zm-50 1h1v1h-1zm9 0h1v1h-1zm1 0h1v1h-1zm9 0h1v1h-1zm3 0h1v1h-1zm1 0h1v1h-1zm4 0h1v1h-1zm-21 1h1v1h-1zm2 0h1v1h-1zm4 0h1v1h-1zm1 0h1v1h-1zm1 0h1v1h-1zm1 0h1v1h-1zm7 0h1v1h-1zm4 0h1v1h-1zm30 0h1v1h-1zm-55 1h1v1h-1zm1 0h1v1h-1zm2 0h1v1h-1zm2 0h1v1h-1zm3 0h1v1h-1zm4 0h1v1h-1zm3 0h1v1h-1zm3 0h1v1h-1zm1 0h1v1h-1zm1 0h1v1h-1zm8 0h1v1h-1zm-21 1h1v1h-1zm3 0h1v1h-1zm3 0h1v1h-1zm4 0h1v1h-1zm3 0h1v1h-1zm11 0h1v1h-1zm28 0h1v1h-1zm-57 1h1v1h-1zm5 0h1v1h-1zm3 0h1v1h-1zm1 0h1v1h-1zm2 0h1v1h-1zm1 0h1v1h-1zm5 0h1v1h-1zm1 0h1v1h-1zm2 0h1v1h-1zm16 0h1v1h-1zm21 0h1v1h-1zm-51 1h1v1h-1zm1 0h1v1h-1zm2 0h1v1h-1zm3 0h1v1h-1zm1 0h1v1h-1zm4 0h1v1h-1zm1 0h1v1h-1zm7 0h1v1h-1zm9 0h1v1h-1zm-28 1h1v1h-1zm1 0h1v1h-1zm4 0h1v1h-1zm2 0h1v1h-1zm-8 1h1v1h-1zm3 0h1v1h-1zm1 0h1v1h-1zm3 0h1v1h-1zm2 0h1v1h-1zm2 0h1v1h-1zm-16 1h1v1h-1zm13 0h1v1h-1zm1 0h1v1h-1zm10 0h1v1h-1zm3 0h1v1h-1zm1 0h1v1h-1zm-5 1h1v1h-1zm-5 1h1v1h-1zm-11 1h1v1h-1zm1 1h1v1h-1zm3 0h1v1h-1zm9 0h1v1h-1zm2 0h1v1h-1zm-23 1h1v1h-1zm26 0h1v1h-1zm-2 1h1v1h-1zm1 0h1v1h-1zm-7 1h1v1h-1zm2 0h1v1h-1zm0 2h1v1h-1zm-5 2h1v1h-1zm-19 11h1v1h-1zm-9 2h1v1h-1zm1 0h1v1h-1zm3 0h1v1h-1zm0 1h1v1h-1zm1 0h1v1h-1zm-1 1h1v1h-1zm1 0h1v1h-1zm-1 1h1v1h-1zm1 0h1v1h-1zm-7 1h1v1h-1zm2 0h1v1h-1zm3 0h1v1h-1zm2 1h1v1h-1z" fill="#0c0ce6" fill-opacity="0.86"/>
<rect x="436" y="473" width="1.2" height="1.2" fill="#e02020"/>
<rect x="439" y="490" width="1.2" height="1.2" fill="#e02828"/>
<rect x="443" y="492" width="1.2" height="1.2" fill="#f03020"/>
<rect x="436" y="486" width="1.2" height="1.2" fill="#40c0f0"/>
<rect x="441" y="485" width="1.2" height="1.2" fill="#30d0e0"/>
<rect x="445" y="488" width="1.2" height="1.2" fill="#f0a020"/>
<line x1="260.20" y1="434.50" x2="260.20" y2="526.60" stroke="#444" stroke-width="1" />
<text x="168.20" y="528.60" font-size="6.6" text-anchor="end" fill="#1a1a1a" >−500</text>
<text x="168.20" y="519.59" font-size="6.6" text-anchor="end" fill="#1a1a1a" >−400</text>
<text x="168.20" y="510.58" font-size="6.6" text-anchor="end" fill="#1a1a1a" >−300</text>
<text x="168.20" y="501.57" font-size="6.6" text-anchor="end" fill="#1a1a1a" >−200</text>
<text x="168.20" y="492.56" font-size="6.6" text-anchor="end" fill="#1a1a1a" >−100</text>
<text x="168.20" y="483.55" font-size="6.6" text-anchor="end" fill="#1a1a1a" >0</text>
<text x="168.20" y="474.54" font-size="6.6" text-anchor="end" fill="#1a1a1a" >100</text>
<text x="168.20" y="465.53" font-size="6.6" text-anchor="end" fill="#1a1a1a" >200</text>
<text x="168.20" y="456.52" font-size="6.6" text-anchor="end" fill="#1a1a1a" >300</text>
<text x="168.20" y="447.51" font-size="6.6" text-anchor="end" fill="#1a1a1a" >400</text>
<text x="168.20" y="438.50" font-size="6.6" text-anchor="end" fill="#1a1a1a" >500</text>
<text x="169.80" y="534.90" font-size="6.6" text-anchor="middle" fill="#1a1a1a" >−500</text>
<text x="215.00" y="534.90" font-size="6.6" text-anchor="middle" fill="#1a1a1a" >0</text>
<text x="260.20" y="534.90" font-size="6.6" text-anchor="middle" fill="#1a1a1a" >500</text>
<text x="215.00" y="542.40" font-size="8.4" text-anchor="middle" fill="#1a1a1a" ><tspan font-style="italic" font-size="9">μ</tspan> m</text>
<text transform="translate(150.20000000000002,481.2) rotate(-90)" font-size="8.4" text-anchor="middle" fill="#1a1a1a"><tspan font-style="italic" font-size="9">μ</tspan> m</text>
<line x1="376.40" y1="434.50" x2="376.40" y2="526.60" stroke="#444" stroke-width="1" />
<text x="284.40" y="528.60" font-size="6.6" text-anchor="end" fill="#1a1a1a" >−500</text>
<text x="284.40" y="519.59" font-size="6.6" text-anchor="end" fill="#1a1a1a" >−400</text>
<text x="284.40" y="510.58" font-size="6.6" text-anchor="end" fill="#1a1a1a" >−300</text>
<text x="284.40" y="501.57" font-size="6.6" text-anchor="end" fill="#1a1a1a" >−200</text>
<text x="284.40" y="492.56" font-size="6.6" text-anchor="end" fill="#1a1a1a" >−100</text>
<text x="284.40" y="483.55" font-size="6.6" text-anchor="end" fill="#1a1a1a" >0</text>
<text x="284.40" y="474.54" font-size="6.6" text-anchor="end" fill="#1a1a1a" >100</text>
<text x="284.40" y="465.53" font-size="6.6" text-anchor="end" fill="#1a1a1a" >200</text>
<text x="284.40" y="456.52" font-size="6.6" text-anchor="end" fill="#1a1a1a" >300</text>
<text x="284.40" y="447.51" font-size="6.6" text-anchor="end" fill="#1a1a1a" >400</text>
<text x="284.40" y="438.50" font-size="6.6" text-anchor="end" fill="#1a1a1a" >500</text>
<text x="286.00" y="534.90" font-size="6.6" text-anchor="middle" fill="#1a1a1a" >−500</text>
<text x="331.20" y="534.90" font-size="6.6" text-anchor="middle" fill="#1a1a1a" >0</text>
<text x="376.40" y="534.90" font-size="6.6" text-anchor="middle" fill="#1a1a1a" >500</text>
<text x="331.20" y="542.40" font-size="8.4" text-anchor="middle" fill="#1a1a1a" ><tspan font-style="italic" font-size="9">μ</tspan> m</text>
<text transform="translate(266.4,481.2) rotate(-90)" font-size="8.4" text-anchor="middle" fill="#1a1a1a"><tspan font-style="italic" font-size="9">μ</tspan> m</text>
<line x1="492.40" y1="434.50" x2="492.40" y2="526.60" stroke="#444" stroke-width="1" />
<text x="400.40" y="528.60" font-size="6.6" text-anchor="end" fill="#1a1a1a" >−500</text>
<text x="400.40" y="519.59" font-size="6.6" text-anchor="end" fill="#1a1a1a" >−400</text>
<text x="400.40" y="510.58" font-size="6.6" text-anchor="end" fill="#1a1a1a" >−300</text>
<text x="400.40" y="501.57" font-size="6.6" text-anchor="end" fill="#1a1a1a" >−200</text>
<text x="400.40" y="492.56" font-size="6.6" text-anchor="end" fill="#1a1a1a" >−100</text>
<text x="400.40" y="483.55" font-size="6.6" text-anchor="end" fill="#1a1a1a" >0</text>
<text x="400.40" y="474.54" font-size="6.6" text-anchor="end" fill="#1a1a1a" >100</text>
<text x="400.40" y="465.53" font-size="6.6" text-anchor="end" fill="#1a1a1a" >200</text>
<text x="400.40" y="456.52" font-size="6.6" text-anchor="end" fill="#1a1a1a" >300</text>
<text x="400.40" y="447.51" font-size="6.6" text-anchor="end" fill="#1a1a1a" >400</text>
<text x="400.40" y="438.50" font-size="6.6" text-anchor="end" fill="#1a1a1a" >500</text>
<text x="402.00" y="534.90" font-size="6.6" text-anchor="middle" fill="#1a1a1a" >−500</text>
<text x="447.20" y="534.90" font-size="6.6" text-anchor="middle" fill="#1a1a1a" >0</text>
<text x="492.40" y="534.90" font-size="6.6" text-anchor="middle" fill="#1a1a1a" >500</text>
<text x="447.20" y="542.40" font-size="8.4" text-anchor="middle" fill="#1a1a1a" ><tspan font-style="italic" font-size="9">μ</tspan> m</text>
<text transform="translate(382.4,481.2) rotate(-90)" font-size="8.4" text-anchor="middle" fill="#1a1a1a"><tspan font-style="italic" font-size="9">μ</tspan> m</text>
<rect x="498.20" y="519.71" width="5.30" height="6.19" fill="#ffffff" />
<rect x="498.20" y="513.73" width="5.30" height="6.19" fill="#00007f" />
<rect x="498.20" y="507.74" width="5.30" height="6.19" fill="#0000cd" />
<rect x="498.20" y="501.75" width="5.30" height="6.19" fill="#001dff" />
<rect x="498.20" y="495.77" width="5.30" height="6.19" fill="#006bff" />
<rect x="498.20" y="489.78" width="5.30" height="6.19" fill="#00baff" />
<rect x="498.20" y="483.79" width="5.30" height="6.19" fill="#09fff5" />
<rect x="498.20" y="477.81" width="5.30" height="6.19" fill="#58ffa6" />
<rect x="498.20" y="471.82" width="5.30" height="6.19" fill="#a6ff58" />
<rect x="498.20" y="465.83" width="5.30" height="6.19" fill="#f5ff09" />
<rect x="498.20" y="459.85" width="5.30" height="6.19" fill="#ffba00" />
<rect x="498.20" y="453.86" width="5.30" height="6.19" fill="#ff6b00" />
<rect x="498.20" y="447.87" width="5.30" height="6.19" fill="#ff1d00" />
<rect x="498.20" y="441.89" width="5.30" height="6.19" fill="#cd0000" />
<rect x="498.20" y="435.90" width="5.30" height="6.19" fill="#7f0000" />
<rect x="498.20" y="435.90" width="5.30" height="89.80" fill="none" stroke="#333" stroke-width="0.6"/>
<text x="505.60" y="438.20" font-size="6.6" text-anchor="start" fill="#1a1a1a" >15</text>
<text x="505.60" y="467.90" font-size="6.6" text-anchor="start" fill="#1a1a1a" >10</text>
<text x="505.60" y="498.20" font-size="6.6" text-anchor="start" fill="#1a1a1a" >5</text>
<text x="505.60" y="528.00" font-size="6.6" text-anchor="start" fill="#1a1a1a" >0</text>
<text x="133.00" y="563.80" font-size="11.5" text-anchor="start" font-weight="bold" fill="#000" >K</text>
<text x="157.00" y="563.80" font-size="8.7" text-anchor="start" fill="#1a1a1a" >Nonexplor. cells/Fow</text>
<rect x="166.50" y="611.00" width="22.00" height="58.20" fill="#84a7c8" />
<rect x="206.30" y="641.70" width="21.70" height="27.50" fill="#a6dba4" />
<line x1="160.20" y1="571.00" x2="160.20" y2="669.70" stroke="#1e1e1e" stroke-width="1.1" />
<line x1="159.70" y1="669.20" x2="234.60" y2="669.20" stroke="#1e1e1e" stroke-width="1.1" />
<line x1="157.20" y1="669.20" x2="160.20" y2="669.20" stroke="#1e1e1e" stroke-width="1" />
<text x="154.60" y="672.10" font-size="8" text-anchor="end" fill="#1a1a1a" >0</text>
<line x1="157.20" y1="650.12" x2="160.20" y2="650.12" stroke="#1e1e1e" stroke-width="1" />
<text x="154.60" y="653.02" font-size="8" text-anchor="end" fill="#1a1a1a" >5</text>
<line x1="157.20" y1="631.04" x2="160.20" y2="631.04" stroke="#1e1e1e" stroke-width="1" />
<text x="154.60" y="633.94" font-size="8" text-anchor="end" fill="#1a1a1a" >10</text>
<line x1="157.20" y1="611.96" x2="160.20" y2="611.96" stroke="#1e1e1e" stroke-width="1" />
<text x="154.60" y="614.86" font-size="8" text-anchor="end" fill="#1a1a1a" >15</text>
<line x1="157.20" y1="592.88" x2="160.20" y2="592.88" stroke="#1e1e1e" stroke-width="1" />
<text x="154.60" y="595.78" font-size="8" text-anchor="end" fill="#1a1a1a" >20</text>
<line x1="157.20" y1="573.80" x2="160.20" y2="573.80" stroke="#1e1e1e" stroke-width="1" />
<text x="154.60" y="576.70" font-size="8" text-anchor="end" fill="#1a1a1a" >25</text>
<line x1="177.70" y1="669.20" x2="177.70" y2="672.20" stroke="#1e1e1e" stroke-width="1" />
<line x1="216.90" y1="669.20" x2="216.90" y2="672.20" stroke="#1e1e1e" stroke-width="1" />
<text x="177.50" y="680.60" font-size="7.9" text-anchor="middle" fill="#1a1a1a" >Vehicle</text>
<text x="216.90" y="680.60" font-size="7.9" text-anchor="middle" fill="#1a1a1a" >Prinomastat</text>
<path d="M175,587 V583.7 H217.7 V632" stroke="#1e1e1e" fill="none" stroke-width="1" />
<text x="199.60" y="582.50" font-size="9" text-anchor="middle" font-weight="bold" fill="#111" >*</text>
<line x1="177.70" y1="599.80" x2="177.70" y2="622.10" stroke="#222" stroke-width="1.1" />
<line x1="171.70" y1="599.80" x2="182.70" y2="599.80" stroke="#222" stroke-width="1.1" />
<line x1="171.70" y1="622.10" x2="182.70" y2="622.10" stroke="#222" stroke-width="1.1" />
<line x1="212.00" y1="639.80" x2="222.70" y2="639.80" stroke="#222" stroke-width="1.1" />
<circle cx="177.70" cy="593.00" r="2.40" fill="#0f4c8c" />
<circle cx="177.70" cy="608.50" r="2.40" fill="#0f4c8c" />
<circle cx="177.70" cy="631.20" r="2.40" fill="#0f4c8c" />
<circle cx="213.10" cy="643.00" r="2.30" fill="#38b040" />
<circle cx="216.90" cy="638.80" r="2.30" fill="#38b040" />
<circle cx="221.20" cy="643.00" r="2.30" fill="#38b040" />
<text transform="translate(140.6,621.8) rotate(-90)" x="0" y="0" font-size="9.8" text-anchor="middle" fill="#1a1a1a" textLength="32" lengthAdjust="spacingAndGlyphs">Cell number</text>
<text x="271.80" y="563.80" font-size="11.5" text-anchor="start" font-weight="bold" fill="#000" >L</text>
<text x="340.80" y="563.80" font-size="8.7" text-anchor="middle" fill="#1a1a1a" >Velocity</text>
<rect x="302.20" y="633.90" width="30.50" height="35.50" fill="#84a7c8" />
<rect x="348.50" y="639.20" width="30.60" height="30.20" fill="#a6dba4" />
<line x1="294.50" y1="574.00" x2="294.50" y2="669.90" stroke="#1e1e1e" stroke-width="1.1" />
<line x1="294.00" y1="669.40" x2="386.50" y2="669.40" stroke="#1e1e1e" stroke-width="1.1" />
<line x1="291.50" y1="669.40" x2="294.50" y2="669.40" stroke="#1e1e1e" stroke-width="1" />
<text x="289.30" y="672.20" font-size="7.7" text-anchor="end" fill="#1a1a1a" >0</text>
<line x1="291.50" y1="646.17" x2="294.50" y2="646.17" stroke="#1e1e1e" stroke-width="1" />
<text x="289.30" y="648.97" font-size="7.7" text-anchor="end" fill="#1a1a1a" >1</text>
<line x1="291.50" y1="622.95" x2="294.50" y2="622.95" stroke="#1e1e1e" stroke-width="1" />
<text x="289.30" y="625.75" font-size="7.7" text-anchor="end" fill="#1a1a1a" >2</text>
<line x1="291.50" y1="599.73" x2="294.50" y2="599.73" stroke="#1e1e1e" stroke-width="1" />
<text x="289.30" y="602.52" font-size="7.7" text-anchor="end" fill="#1a1a1a" >3</text>
<line x1="291.50" y1="576.50" x2="294.50" y2="576.50" stroke="#1e1e1e" stroke-width="1" />
<text x="289.30" y="579.30" font-size="7.7" text-anchor="end" fill="#1a1a1a" >4</text>
<line x1="317.30" y1="669.40" x2="317.30" y2="672.40" stroke="#1e1e1e" stroke-width="1" />
<line x1="363.80" y1="669.40" x2="363.80" y2="672.40" stroke="#1e1e1e" stroke-width="1" />
<text x="317.30" y="680.20" font-size="7.7" text-anchor="middle" fill="#1a1a1a" >Vehicle</text>
<text x="363.80" y="680.20" font-size="7.7" text-anchor="middle" fill="#1a1a1a" >Prinomastat</text>
<circle cx="315.00" cy="593.00" r="1.65" fill="#0f4c8c" />
<circle cx="320.00" cy="593.00" r="1.65" fill="#0f4c8c" />
<circle cx="306.40" cy="597.60" r="1.65" fill="#0f4c8c" />
<circle cx="311.80" cy="599.40" r="1.65" fill="#0f4c8c" />
<circle cx="317.20" cy="601.20" r="1.65" fill="#0f4c8c" />
<circle cx="322.60" cy="599.40" r="1.65" fill="#0f4c8c" />
<circle cx="328.20" cy="597.00" r="1.65" fill="#0f4c8c" />
<circle cx="304.30" cy="604.00" r="1.85" fill="#0f4c8c" />
<circle cx="305.60" cy="604.57" r="1.85" fill="#0f4c8c" />
<circle cx="306.90" cy="605.14" r="1.85" fill="#0f4c8c" />
<circle cx="308.20" cy="605.71" r="1.85" fill="#0f4c8c" />
<circle cx="309.50" cy="606.28" r="1.85" fill="#0f4c8c" />
<circle cx="310.80" cy="606.85" r="1.85" fill="#0f4c8c" />
<circle cx="312.10" cy="607.42" r="1.85" fill="#0f4c8c" />
<circle cx="313.40" cy="607.99" r="1.85" fill="#0f4c8c" />
<circle cx="314.70" cy="608.56" r="1.85" fill="#0f4c8c" />
<circle cx="316.00" cy="609.13" r="1.85" fill="#0f4c8c" />
<circle cx="317.30" cy="609.70" r="1.85" fill="#0f4c8c" />
<circle cx="318.60" cy="609.13" r="1.85" fill="#0f4c8c" />
<circle cx="319.90" cy="608.56" r="1.85" fill="#0f4c8c" />
<circle cx="321.20" cy="607.99" r="1.85" fill="#0f4c8c" />
<circle cx="322.50" cy="607.42" r="1.85" fill="#0f4c8c" />
<circle cx="323.80" cy="606.85" r="1.85" fill="#0f4c8c" />
<circle cx="325.10" cy="606.28" r="1.85" fill="#0f4c8c" />
<circle cx="326.40" cy="605.71" r="1.85" fill="#0f4c8c" />
<circle cx="327.70" cy="605.14" r="1.85" fill="#0f4c8c" />
<circle cx="329.00" cy="604.57" r="1.85" fill="#0f4c8c" />
<circle cx="330.30" cy="604.00" r="1.85" fill="#0f4c8c" />
<circle cx="304.30" cy="610.30" r="1.85" fill="#0f4c8c" />
<circle cx="305.60" cy="610.79" r="1.85" fill="#0f4c8c" />
<circle cx="306.90" cy="611.28" r="1.85" fill="#0f4c8c" />
<circle cx="308.20" cy="611.77" r="1.85" fill="#0f4c8c" />
<circle cx="309.50" cy="612.26" r="1.85" fill="#0f4c8c" />
<circle cx="310.80" cy="612.75" r="1.85" fill="#0f4c8c" />
<circle cx="312.10" cy="613.24" r="1.85" fill="#0f4c8c" />
<circle cx="313.40" cy="613.73" r="1.85" fill="#0f4c8c" />
<circle cx="314.70" cy="614.22" r="1.85" fill="#0f4c8c" />
<circle cx="316.00" cy="614.71" r="1.85" fill="#0f4c8c" />
<circle cx="317.30" cy="615.20" r="1.85" fill="#0f4c8c" />
<circle cx="318.60" cy="614.71" r="1.85" fill="#0f4c8c" />
<circle cx="319.90" cy="614.22" r="1.85" fill="#0f4c8c" />
<circle cx="321.20" cy="613.73" r="1.85" fill="#0f4c8c" />
<circle cx="322.50" cy="613.24" r="1.85" fill="#0f4c8c" />
<circle cx="323.80" cy="612.75" r="1.85" fill="#0f4c8c" />
<circle cx="325.10" cy="612.26" r="1.85" fill="#0f4c8c" />
<circle cx="326.40" cy="611.77" r="1.85" fill="#0f4c8c" />
<circle cx="327.70" cy="611.28" r="1.85" fill="#0f4c8c" />
<circle cx="329.00" cy="610.79" r="1.85" fill="#0f4c8c" />
<circle cx="330.30" cy="610.30" r="1.85" fill="#0f4c8c" />
<circle cx="304.30" cy="615.90" r="1.85" fill="#0f4c8c" />
<circle cx="305.60" cy="616.45" r="1.85" fill="#0f4c8c" />
<circle cx="306.90" cy="617.00" r="1.85" fill="#0f4c8c" />
<circle cx="308.20" cy="617.55" r="1.85" fill="#0f4c8c" />
<circle cx="309.50" cy="618.10" r="1.85" fill="#0f4c8c" />
<circle cx="310.80" cy="618.65" r="1.85" fill="#0f4c8c" />
<circle cx="312.10" cy="619.20" r="1.85" fill="#0f4c8c" />
<circle cx="313.40" cy="619.75" r="1.85" fill="#0f4c8c" />
<circle cx="314.70" cy="620.30" r="1.85" fill="#0f4c8c" />
<circle cx="316.00" cy="620.85" r="1.85" fill="#0f4c8c" />
<circle cx="317.30" cy="621.40" r="1.85" fill="#0f4c8c" />
<circle cx="318.60" cy="620.85" r="1.85" fill="#0f4c8c" />
<circle cx="319.90" cy="620.30" r="1.85" fill="#0f4c8c" />
<circle cx="321.20" cy="619.75" r="1.85" fill="#0f4c8c" />
<circle cx="322.50" cy="619.20" r="1.85" fill="#0f4c8c" />
<circle cx="323.80" cy="618.65" r="1.85" fill="#0f4c8c" />
<circle cx="325.10" cy="618.10" r="1.85" fill="#0f4c8c" />
<circle cx="326.40" cy="617.55" r="1.85" fill="#0f4c8c" />
<circle cx="327.70" cy="617.00" r="1.85" fill="#0f4c8c" />
<circle cx="329.00" cy="616.45" r="1.85" fill="#0f4c8c" />
<circle cx="330.30" cy="615.90" r="1.85" fill="#0f4c8c" />
<circle cx="304.30" cy="622.00" r="1.85" fill="#0f4c8c" />
<circle cx="305.60" cy="622.44" r="1.85" fill="#0f4c8c" />
<circle cx="306.90" cy="622.88" r="1.85" fill="#0f4c8c" />
<circle cx="308.20" cy="623.32" r="1.85" fill="#0f4c8c" />
<circle cx="309.50" cy="623.76" r="1.85" fill="#0f4c8c" />
<circle cx="310.80" cy="624.20" r="1.85" fill="#0f4c8c" />
<circle cx="312.10" cy="624.64" r="1.85" fill="#0f4c8c" />
<circle cx="313.40" cy="625.08" r="1.85" fill="#0f4c8c" />
<circle cx="314.70" cy="625.52" r="1.85" fill="#0f4c8c" />
<circle cx="316.00" cy="625.96" r="1.85" fill="#0f4c8c" />
<circle cx="317.30" cy="626.40" r="1.85" fill="#0f4c8c" />
<circle cx="318.60" cy="625.96" r="1.85" fill="#0f4c8c" />
<circle cx="319.90" cy="625.52" r="1.85" fill="#0f4c8c" />
<circle cx="321.20" cy="625.08" r="1.85" fill="#0f4c8c" />
<circle cx="322.50" cy="624.64" r="1.85" fill="#0f4c8c" />
<circle cx="323.80" cy="624.20" r="1.85" fill="#0f4c8c" />
<circle cx="325.10" cy="623.76" r="1.85" fill="#0f4c8c" />
<circle cx="326.40" cy="623.32" r="1.85" fill="#0f4c8c" />
<circle cx="327.70" cy="622.88" r="1.85" fill="#0f4c8c" />
<circle cx="329.00" cy="622.44" r="1.85" fill="#0f4c8c" />
<circle cx="330.30" cy="622.00" r="1.85" fill="#0f4c8c" />
<circle cx="304.30" cy="627.60" r="1.85" fill="#0f4c8c" />
<circle cx="305.60" cy="628.09" r="1.85" fill="#0f4c8c" />
<circle cx="306.90" cy="628.58" r="1.85" fill="#0f4c8c" />
<circle cx="308.20" cy="629.07" r="1.85" fill="#0f4c8c" />
<circle cx="309.50" cy="629.56" r="1.85" fill="#0f4c8c" />
<circle cx="310.80" cy="630.05" r="1.85" fill="#0f4c8c" />
<circle cx="312.10" cy="630.54" r="1.85" fill="#0f4c8c" />
<circle cx="313.40" cy="631.03" r="1.85" fill="#0f4c8c" />
<circle cx="314.70" cy="631.52" r="1.85" fill="#0f4c8c" />
<circle cx="316.00" cy="632.01" r="1.85" fill="#0f4c8c" />
<circle cx="317.30" cy="632.50" r="1.85" fill="#0f4c8c" />
<circle cx="318.60" cy="632.01" r="1.85" fill="#0f4c8c" />
<circle cx="319.90" cy="631.52" r="1.85" fill="#0f4c8c" />
<circle cx="321.20" cy="631.03" r="1.85" fill="#0f4c8c" />
<circle cx="322.50" cy="630.54" r="1.85" fill="#0f4c8c" />
<circle cx="323.80" cy="630.05" r="1.85" fill="#0f4c8c" />
<circle cx="325.10" cy="629.56" r="1.85" fill="#0f4c8c" />
<circle cx="326.40" cy="629.07" r="1.85" fill="#0f4c8c" />
<circle cx="327.70" cy="628.58" r="1.85" fill="#0f4c8c" />
<circle cx="329.00" cy="628.09" r="1.85" fill="#0f4c8c" />
<circle cx="330.30" cy="627.60" r="1.85" fill="#0f4c8c" />
<circle cx="304.30" cy="633.80" r="1.85" fill="#0f4c8c" />
<circle cx="305.60" cy="634.11" r="1.85" fill="#0f4c8c" />
<circle cx="306.90" cy="634.42" r="1.85" fill="#0f4c8c" />
<circle cx="308.20" cy="634.73" r="1.85" fill="#0f4c8c" />
<circle cx="309.50" cy="635.04" r="1.85" fill="#0f4c8c" />
<circle cx="310.80" cy="635.35" r="1.85" fill="#0f4c8c" />
<circle cx="312.10" cy="635.66" r="1.85" fill="#0f4c8c" />
<circle cx="313.40" cy="635.97" r="1.85" fill="#0f4c8c" />
<circle cx="314.70" cy="636.28" r="1.85" fill="#0f4c8c" />
<circle cx="316.00" cy="636.59" r="1.85" fill="#0f4c8c" />
<circle cx="317.30" cy="636.90" r="1.85" fill="#0f4c8c" />
<circle cx="318.60" cy="636.59" r="1.85" fill="#0f4c8c" />
<circle cx="319.90" cy="636.28" r="1.85" fill="#0f4c8c" />
<circle cx="321.20" cy="635.97" r="1.85" fill="#0f4c8c" />
<circle cx="322.50" cy="635.66" r="1.85" fill="#0f4c8c" />
<circle cx="323.80" cy="635.35" r="1.85" fill="#0f4c8c" />
<circle cx="325.10" cy="635.04" r="1.85" fill="#0f4c8c" />
<circle cx="326.40" cy="634.73" r="1.85" fill="#0f4c8c" />
<circle cx="327.70" cy="634.42" r="1.85" fill="#0f4c8c" />
<circle cx="329.00" cy="634.11" r="1.85" fill="#0f4c8c" />
<circle cx="330.30" cy="633.80" r="1.85" fill="#0f4c8c" />
<circle cx="304.30" cy="638.00" r="1.85" fill="#0f4c8c" />
<circle cx="305.60" cy="638.38" r="1.85" fill="#0f4c8c" />
<circle cx="306.90" cy="638.76" r="1.85" fill="#0f4c8c" />
<circle cx="308.20" cy="639.14" r="1.85" fill="#0f4c8c" />
<circle cx="309.50" cy="639.52" r="1.85" fill="#0f4c8c" />
<circle cx="310.80" cy="639.90" r="1.85" fill="#0f4c8c" />
<circle cx="312.10" cy="640.28" r="1.85" fill="#0f4c8c" />
<circle cx="313.40" cy="640.66" r="1.85" fill="#0f4c8c" />
<circle cx="314.70" cy="641.04" r="1.85" fill="#0f4c8c" />
<circle cx="316.00" cy="641.42" r="1.85" fill="#0f4c8c" />
<circle cx="317.30" cy="641.80" r="1.85" fill="#0f4c8c" />
<circle cx="318.60" cy="641.42" r="1.85" fill="#0f4c8c" />
<circle cx="319.90" cy="641.04" r="1.85" fill="#0f4c8c" />
<circle cx="321.20" cy="640.66" r="1.85" fill="#0f4c8c" />
<circle cx="322.50" cy="640.28" r="1.85" fill="#0f4c8c" />
<circle cx="323.80" cy="639.90" r="1.85" fill="#0f4c8c" />
<circle cx="325.10" cy="639.52" r="1.85" fill="#0f4c8c" />
<circle cx="326.40" cy="639.14" r="1.85" fill="#0f4c8c" />
<circle cx="327.70" cy="638.76" r="1.85" fill="#0f4c8c" />
<circle cx="329.00" cy="638.38" r="1.85" fill="#0f4c8c" />
<circle cx="330.30" cy="638.00" r="1.85" fill="#0f4c8c" />
<circle cx="304.30" cy="644.30" r="1.85" fill="#0f4c8c" />
<circle cx="305.60" cy="644.67" r="1.85" fill="#0f4c8c" />
<circle cx="306.90" cy="645.04" r="1.85" fill="#0f4c8c" />
<circle cx="308.20" cy="645.41" r="1.85" fill="#0f4c8c" />
<circle cx="309.50" cy="645.78" r="1.85" fill="#0f4c8c" />
<circle cx="310.80" cy="646.15" r="1.85" fill="#0f4c8c" />
<circle cx="312.10" cy="646.52" r="1.85" fill="#0f4c8c" />
<circle cx="313.40" cy="646.89" r="1.85" fill="#0f4c8c" />
<circle cx="314.70" cy="647.26" r="1.85" fill="#0f4c8c" />
<circle cx="316.00" cy="647.63" r="1.85" fill="#0f4c8c" />
<circle cx="317.30" cy="648.00" r="1.85" fill="#0f4c8c" />
<circle cx="318.60" cy="647.63" r="1.85" fill="#0f4c8c" />
<circle cx="319.90" cy="647.26" r="1.85" fill="#0f4c8c" />
<circle cx="321.20" cy="646.89" r="1.85" fill="#0f4c8c" />
<circle cx="322.50" cy="646.52" r="1.85" fill="#0f4c8c" />
<circle cx="323.80" cy="646.15" r="1.85" fill="#0f4c8c" />
<circle cx="325.10" cy="645.78" r="1.85" fill="#0f4c8c" />
<circle cx="326.40" cy="645.41" r="1.85" fill="#0f4c8c" />
<circle cx="327.70" cy="645.04" r="1.85" fill="#0f4c8c" />
<circle cx="329.00" cy="644.67" r="1.85" fill="#0f4c8c" />
<circle cx="330.30" cy="644.30" r="1.85" fill="#0f4c8c" />
<circle cx="304.50" cy="650.00" r="1.65" fill="#0f4c8c" />
<circle cx="308.60" cy="650.00" r="1.65" fill="#0f4c8c" />
<circle cx="313.00" cy="652.00" r="1.65" fill="#0f4c8c" />
<circle cx="317.30" cy="651.50" r="1.65" fill="#0f4c8c" />
<circle cx="321.70" cy="652.00" r="1.65" fill="#0f4c8c" />
<circle cx="326.00" cy="650.00" r="1.65" fill="#0f4c8c" />
<circle cx="330.50" cy="650.00" r="1.65" fill="#0f4c8c" />
<circle cx="317.20" cy="655.40" r="1.65" fill="#0f4c8c" />
<circle cx="358.50" cy="585.40" r="1.65" fill="#38b040" />
<circle cx="361.40" cy="582.00" r="1.65" fill="#38b040" />
<circle cx="366.40" cy="581.60" r="1.65" fill="#38b040" />
<circle cx="369.60" cy="583.20" r="1.65" fill="#38b040" />
<circle cx="363.80" cy="588.20" r="1.65" fill="#38b040" />
<circle cx="363.80" cy="597.50" r="1.65" fill="#38b040" />
<circle cx="355.70" cy="603.20" r="1.65" fill="#38b040" />
<circle cx="361.10" cy="605.70" r="1.65" fill="#38b040" />
<circle cx="366.60" cy="608.40" r="1.65" fill="#38b040" />
<circle cx="372.10" cy="604.60" r="1.65" fill="#38b040" />
<circle cx="353.00" cy="611.00" r="1.65" fill="#38b040" />
<circle cx="358.50" cy="615.00" r="1.65" fill="#38b040" />
<circle cx="363.80" cy="616.10" r="1.65" fill="#38b040" />
<circle cx="369.60" cy="615.30" r="1.65" fill="#38b040" />
<circle cx="375.00" cy="612.40" r="1.65" fill="#38b040" />
<circle cx="349.50" cy="616.50" r="1.85" fill="#38b040" />
<circle cx="350.80" cy="616.95" r="1.85" fill="#38b040" />
<circle cx="352.10" cy="617.41" r="1.85" fill="#38b040" />
<circle cx="353.40" cy="617.86" r="1.85" fill="#38b040" />
<circle cx="354.70" cy="618.32" r="1.85" fill="#38b040" />
<circle cx="356.00" cy="618.77" r="1.85" fill="#38b040" />
<circle cx="357.30" cy="619.23" r="1.85" fill="#38b040" />
<circle cx="358.60" cy="619.68" r="1.85" fill="#38b040" />
<circle cx="359.90" cy="620.14" r="1.85" fill="#38b040" />
<circle cx="361.20" cy="620.59" r="1.85" fill="#38b040" />
<circle cx="362.50" cy="621.05" r="1.85" fill="#38b040" />
<circle cx="363.80" cy="621.50" r="1.85" fill="#38b040" />
<circle cx="365.10" cy="621.05" r="1.85" fill="#38b040" />
<circle cx="366.40" cy="620.59" r="1.85" fill="#38b040" />
<circle cx="367.70" cy="620.14" r="1.85" fill="#38b040" />
<circle cx="369.00" cy="619.68" r="1.85" fill="#38b040" />
<circle cx="370.30" cy="619.23" r="1.85" fill="#38b040" />
<circle cx="371.60" cy="618.77" r="1.85" fill="#38b040" />
<circle cx="372.90" cy="618.32" r="1.85" fill="#38b040" />
<circle cx="374.20" cy="617.86" r="1.85" fill="#38b040" />
<circle cx="375.50" cy="617.41" r="1.85" fill="#38b040" />
<circle cx="376.80" cy="616.95" r="1.85" fill="#38b040" />
<circle cx="378.10" cy="616.50" r="1.85" fill="#38b040" />
<circle cx="349.50" cy="623.60" r="1.85" fill="#38b040" />
<circle cx="350.80" cy="623.98" r="1.85" fill="#38b040" />
<circle cx="352.10" cy="624.36" r="1.85" fill="#38b040" />
<circle cx="353.40" cy="624.75" r="1.85" fill="#38b040" />
<circle cx="354.70" cy="625.13" r="1.85" fill="#38b040" />
<circle cx="356.00" cy="625.51" r="1.85" fill="#38b040" />
<circle cx="357.30" cy="625.89" r="1.85" fill="#38b040" />
<circle cx="358.60" cy="626.27" r="1.85" fill="#38b040" />
<circle cx="359.90" cy="626.65" r="1.85" fill="#38b040" />
<circle cx="361.20" cy="627.04" r="1.85" fill="#38b040" />
<circle cx="362.50" cy="627.42" r="1.85" fill="#38b040" />
<circle cx="363.80" cy="627.80" r="1.85" fill="#38b040" />
<circle cx="365.10" cy="627.42" r="1.85" fill="#38b040" />
<circle cx="366.40" cy="627.04" r="1.85" fill="#38b040" />
<circle cx="367.70" cy="626.65" r="1.85" fill="#38b040" />
<circle cx="369.00" cy="626.27" r="1.85" fill="#38b040" />
<circle cx="370.30" cy="625.89" r="1.85" fill="#38b040" />
<circle cx="371.60" cy="625.51" r="1.85" fill="#38b040" />
<circle cx="372.90" cy="625.13" r="1.85" fill="#38b040" />
<circle cx="374.20" cy="624.75" r="1.85" fill="#38b040" />
<circle cx="375.50" cy="624.36" r="1.85" fill="#38b040" />
<circle cx="376.80" cy="623.98" r="1.85" fill="#38b040" />
<circle cx="378.10" cy="623.60" r="1.85" fill="#38b040" />
<circle cx="349.50" cy="629.20" r="1.85" fill="#38b040" />
<circle cx="350.80" cy="629.52" r="1.85" fill="#38b040" />
<circle cx="352.10" cy="629.84" r="1.85" fill="#38b040" />
<circle cx="353.40" cy="630.15" r="1.85" fill="#38b040" />
<circle cx="354.70" cy="630.47" r="1.85" fill="#38b040" />
<circle cx="356.00" cy="630.79" r="1.85" fill="#38b040" />
<circle cx="357.30" cy="631.11" r="1.85" fill="#38b040" />
<circle cx="358.60" cy="631.43" r="1.85" fill="#38b040" />
<circle cx="359.90" cy="631.75" r="1.85" fill="#38b040" />
<circle cx="361.20" cy="632.06" r="1.85" fill="#38b040" />
<circle cx="362.50" cy="632.38" r="1.85" fill="#38b040" />
<circle cx="363.80" cy="632.70" r="1.85" fill="#38b040" />
<circle cx="365.10" cy="632.38" r="1.85" fill="#38b040" />
<circle cx="366.40" cy="632.06" r="1.85" fill="#38b040" />
<circle cx="367.70" cy="631.75" r="1.85" fill="#38b040" />
<circle cx="369.00" cy="631.43" r="1.85" fill="#38b040" />
<circle cx="370.30" cy="631.11" r="1.85" fill="#38b040" />
<circle cx="371.60" cy="630.79" r="1.85" fill="#38b040" />
<circle cx="372.90" cy="630.47" r="1.85" fill="#38b040" />
<circle cx="374.20" cy="630.15" r="1.85" fill="#38b040" />
<circle cx="375.50" cy="629.84" r="1.85" fill="#38b040" />
<circle cx="376.80" cy="629.52" r="1.85" fill="#38b040" />
<circle cx="378.10" cy="629.20" r="1.85" fill="#38b040" />
<circle cx="349.50" cy="634.20" r="1.85" fill="#38b040" />
<circle cx="350.80" cy="634.58" r="1.85" fill="#38b040" />
<circle cx="352.10" cy="634.96" r="1.85" fill="#38b040" />
<circle cx="353.40" cy="635.35" r="1.85" fill="#38b040" />
<circle cx="354.70" cy="635.73" r="1.85" fill="#38b040" />
<circle cx="356.00" cy="636.11" r="1.85" fill="#38b040" />
<circle cx="357.30" cy="636.49" r="1.85" fill="#38b040" />
<circle cx="358.60" cy="636.87" r="1.85" fill="#38b040" />
<circle cx="359.90" cy="637.25" r="1.85" fill="#38b040" />
<circle cx="361.20" cy="637.64" r="1.85" fill="#38b040" />
<circle cx="362.50" cy="638.02" r="1.85" fill="#38b040" />
<circle cx="363.80" cy="638.40" r="1.85" fill="#38b040" />
<circle cx="365.10" cy="638.02" r="1.85" fill="#38b040" />
<circle cx="366.40" cy="637.64" r="1.85" fill="#38b040" />
<circle cx="367.70" cy="637.25" r="1.85" fill="#38b040" />
<circle cx="369.00" cy="636.87" r="1.85" fill="#38b040" />
<circle cx="370.30" cy="636.49" r="1.85" fill="#38b040" />
<circle cx="371.60" cy="636.11" r="1.85" fill="#38b040" />
<circle cx="372.90" cy="635.73" r="1.85" fill="#38b040" />
<circle cx="374.20" cy="635.35" r="1.85" fill="#38b040" />
<circle cx="375.50" cy="634.96" r="1.85" fill="#38b040" />
<circle cx="376.80" cy="634.58" r="1.85" fill="#38b040" />
<circle cx="378.10" cy="634.20" r="1.85" fill="#38b040" />
<circle cx="349.50" cy="639.80" r="1.85" fill="#38b040" />
<circle cx="350.80" cy="640.12" r="1.85" fill="#38b040" />
<circle cx="352.10" cy="640.44" r="1.85" fill="#38b040" />
<circle cx="353.40" cy="640.75" r="1.85" fill="#38b040" />
<circle cx="354.70" cy="641.07" r="1.85" fill="#38b040" />
<circle cx="356.00" cy="641.39" r="1.85" fill="#38b040" />
<circle cx="357.30" cy="641.71" r="1.85" fill="#38b040" />
<circle cx="358.60" cy="642.03" r="1.85" fill="#38b040" />
<circle cx="359.90" cy="642.35" r="1.85" fill="#38b040" />
<circle cx="361.20" cy="642.66" r="1.85" fill="#38b040" />
<circle cx="362.50" cy="642.98" r="1.85" fill="#38b040" />
<circle cx="363.80" cy="643.30" r="1.85" fill="#38b040" />
<circle cx="365.10" cy="642.98" r="1.85" fill="#38b040" />
<circle cx="366.40" cy="642.66" r="1.85" fill="#38b040" />
<circle cx="367.70" cy="642.35" r="1.85" fill="#38b040" />
<circle cx="369.00" cy="642.03" r="1.85" fill="#38b040" />
<circle cx="370.30" cy="641.71" r="1.85" fill="#38b040" />
<circle cx="371.60" cy="641.39" r="1.85" fill="#38b040" />
<circle cx="372.90" cy="641.07" r="1.85" fill="#38b040" />
<circle cx="374.20" cy="640.75" r="1.85" fill="#38b040" />
<circle cx="375.50" cy="640.44" r="1.85" fill="#38b040" />
<circle cx="376.80" cy="640.12" r="1.85" fill="#38b040" />
<circle cx="378.10" cy="639.80" r="1.85" fill="#38b040" />
<circle cx="349.50" cy="645.40" r="1.85" fill="#38b040" />
<circle cx="350.80" cy="645.65" r="1.85" fill="#38b040" />
<circle cx="352.10" cy="645.91" r="1.85" fill="#38b040" />
<circle cx="353.40" cy="646.16" r="1.85" fill="#38b040" />
<circle cx="354.70" cy="646.42" r="1.85" fill="#38b040" />
<circle cx="356.00" cy="646.67" r="1.85" fill="#38b040" />
<circle cx="357.30" cy="646.93" r="1.85" fill="#38b040" />
<circle cx="358.60" cy="647.18" r="1.85" fill="#38b040" />
<circle cx="359.90" cy="647.44" r="1.85" fill="#38b040" />
<circle cx="361.20" cy="647.69" r="1.85" fill="#38b040" />
<circle cx="362.50" cy="647.95" r="1.85" fill="#38b040" />
<circle cx="363.80" cy="648.20" r="1.85" fill="#38b040" />
<circle cx="365.10" cy="647.95" r="1.85" fill="#38b040" />
<circle cx="366.40" cy="647.69" r="1.85" fill="#38b040" />
<circle cx="367.70" cy="647.44" r="1.85" fill="#38b040" />
<circle cx="369.00" cy="647.18" r="1.85" fill="#38b040" />
<circle cx="370.30" cy="646.93" r="1.85" fill="#38b040" />
<circle cx="371.60" cy="646.67" r="1.85" fill="#38b040" />
<circle cx="372.90" cy="646.42" r="1.85" fill="#38b040" />
<circle cx="374.20" cy="646.16" r="1.85" fill="#38b040" />
<circle cx="375.50" cy="645.91" r="1.85" fill="#38b040" />
<circle cx="376.80" cy="645.65" r="1.85" fill="#38b040" />
<circle cx="378.10" cy="645.40" r="1.85" fill="#38b040" />
<circle cx="349.50" cy="651.00" r="1.85" fill="#38b040" />
<circle cx="350.80" cy="651.26" r="1.85" fill="#38b040" />
<circle cx="352.10" cy="651.53" r="1.85" fill="#38b040" />
<circle cx="353.40" cy="651.79" r="1.85" fill="#38b040" />
<circle cx="354.70" cy="652.05" r="1.85" fill="#38b040" />
<circle cx="356.00" cy="652.32" r="1.85" fill="#38b040" />
<circle cx="357.30" cy="652.58" r="1.85" fill="#38b040" />
<circle cx="358.60" cy="652.85" r="1.85" fill="#38b040" />
<circle cx="359.90" cy="653.11" r="1.85" fill="#38b040" />
<circle cx="361.20" cy="653.37" r="1.85" fill="#38b040" />
<circle cx="362.50" cy="653.64" r="1.85" fill="#38b040" />
<circle cx="363.80" cy="653.90" r="1.85" fill="#38b040" />
<circle cx="365.10" cy="653.64" r="1.85" fill="#38b040" />
<circle cx="366.40" cy="653.37" r="1.85" fill="#38b040" />
<circle cx="367.70" cy="653.11" r="1.85" fill="#38b040" />
<circle cx="369.00" cy="652.85" r="1.85" fill="#38b040" />
<circle cx="370.30" cy="652.58" r="1.85" fill="#38b040" />
<circle cx="371.60" cy="652.32" r="1.85" fill="#38b040" />
<circle cx="372.90" cy="652.05" r="1.85" fill="#38b040" />
<circle cx="374.20" cy="651.79" r="1.85" fill="#38b040" />
<circle cx="375.50" cy="651.53" r="1.85" fill="#38b040" />
<circle cx="376.80" cy="651.26" r="1.85" fill="#38b040" />
<circle cx="378.10" cy="651.00" r="1.85" fill="#38b040" />
<circle cx="349.50" cy="656.00" r="1.85" fill="#38b040" />
<circle cx="350.80" cy="656.51" r="1.85" fill="#38b040" />
<circle cx="352.10" cy="657.02" r="1.85" fill="#38b040" />
<circle cx="353.40" cy="657.53" r="1.85" fill="#38b040" />
<circle cx="354.70" cy="658.04" r="1.85" fill="#38b040" />
<circle cx="356.00" cy="658.55" r="1.85" fill="#38b040" />
<circle cx="357.30" cy="659.05" r="1.85" fill="#38b040" />
<circle cx="358.60" cy="659.56" r="1.85" fill="#38b040" />
<circle cx="359.90" cy="660.07" r="1.85" fill="#38b040" />
<circle cx="361.20" cy="660.58" r="1.85" fill="#38b040" />
<circle cx="362.50" cy="661.09" r="1.85" fill="#38b040" />
<circle cx="363.80" cy="661.60" r="1.85" fill="#38b040" />
<circle cx="365.10" cy="661.09" r="1.85" fill="#38b040" />
<circle cx="366.40" cy="660.58" r="1.85" fill="#38b040" />
<circle cx="367.70" cy="660.07" r="1.85" fill="#38b040" />
<circle cx="369.00" cy="659.56" r="1.85" fill="#38b040" />
<circle cx="370.30" cy="659.05" r="1.85" fill="#38b040" />
<circle cx="371.60" cy="658.55" r="1.85" fill="#38b040" />
<circle cx="372.90" cy="658.04" r="1.85" fill="#38b040" />
<circle cx="374.20" cy="657.53" r="1.85" fill="#38b040" />
<circle cx="375.50" cy="657.02" r="1.85" fill="#38b040" />
<circle cx="376.80" cy="656.51" r="1.85" fill="#38b040" />
<circle cx="378.10" cy="656.00" r="1.85" fill="#38b040" />
<line x1="356.00" y1="640.50" x2="371.60" y2="640.50" stroke="#222" stroke-width="1" />
<line x1="322.50" y1="583.50" x2="352.90" y2="583.50" stroke="#444" stroke-width="1.1" />
<text x="337.30" y="583.20" font-size="9" text-anchor="middle" font-weight="bold" fill="#111" >****</text>
<text transform="translate(279.3,623) rotate(-90)" x="0" y="0" font-size="10.6" text-anchor="middle" fill="#1a1a1a" textLength="29.6" lengthAdjust="spacingAndGlyphs">um/minute</text>
<rect x="0.5" y="0.5" width="519" height="687" fill="none" stroke="#000" stroke-width="1.2"/>
</svg>
</body></html>
